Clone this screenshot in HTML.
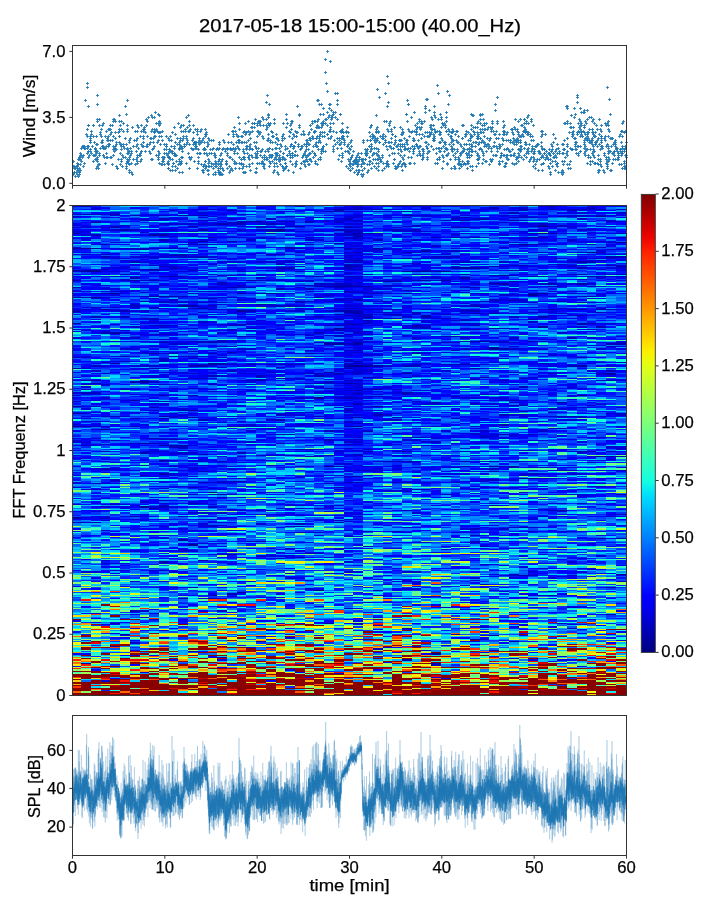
<!DOCTYPE html><html><head><meta charset="utf-8"><style>
html,body{margin:0;padding:0;background:#fff;width:720px;height:900px;overflow:hidden;position:relative}
#spec{position:absolute;left:72px;top:205px;width:555px;height:491px}
#spec i{position:absolute;top:0;height:490px;display:block}
svg{position:absolute;left:0;top:0;will-change:transform}
text{font-family:"Liberation Sans",sans-serif;fill:#000;stroke:#000;stroke-width:0.25px}
</style></head><body>
<div id="spec"><i style="left:0px;width:9px;background:linear-gradient(#00c 0 2px,#04f 0 4px,#03f 0 5px,#0bf 0 6px,#0df 0 7px,#01f 0 9px,#00e 0 10px,#07f 0 11px,#00c 0 12px,#00f 0 13px,#09f 0 15px,#03f 0 17px,#02f 0 18px,#00e 0 21px,#02f 0 22px,#00d 0 23px,#02f 0 24px,#00f 0 26px,#00c 0 27px,#00d 0 28px,#00b 0 29px,#00f 0 31px,#1ee 0 32px,#01f 0 33px,#00f 0 34px,#05f 0 36px,#07f 0 37px,#02f 0 38px,#00f 0 39px,#0cf 0 40px,#07f 0 42px,#00d 0 43px,#00a 0 44px,#00e 0 45px,#01f 0 47px,#00f 0 48px,#0af 0 49px,#00e 0 50px,#07f 0 51px,#0cf 0 53px,#01f 0 54px,#0af 0 55px,#0bf 0 58px,#05f 0 60px,#09f 0 61px,#02f 0 62px,#00f 0 64px,#02f 0 65px,#00b 0 66px,#00c 0 67px,#06f 0 69px,#00f 0 70px,#08f 0 71px,#00e 0 72px,#01f 0 74px,#00f 0 75px,#00b 0 76px,#00f 0 77px,#03f 0 78px,#05f 0 80px,#07f 0 81px,#0cf 0 82px,#00b 0 83px,#04f 0 85px,#00f 0 86px,#00d 0 87px,#07f 0 88px,#00f 0 91px,#03f 0 92px,#00c 0 93px,#0bf 0 94px,#03f 0 96px,#04f 0 98px,#00f 0 100px,#01f 0 102px,#03f 0 103px,#00f 0 104px,#00e 0 105px,#00b 0 107px,#00d 0 108px,#09f 0 109px,#01f 0 110px,#0af 0 111px,#08f 0 113px,#01f 0 115px,#07f 0 116px,#06f 0 118px,#00b 0 119px,#02f 0 120px,#07f 0 121px,#01f 0 123px,#0bf 0 124px,#00d 0 125px,#0bf 0 126px,#00e 0 127px,#2fc 0 129px,#0cf 0 130px,#09f 0 131px,#1ee 0 132px,#00d 0 134px,#0cf 0 135px,#2fc 0 136px,#04f 0 137px,#05f 0 138px,#08f 0 140px,#01f 0 141px,#00f 0 142px,#03f 0 143px,#00f 0 146px,#05f 0 147px,#04f 0 149px,#01f 0 151px,#00f 0 152px,#00c 0 153px,#06f 0 154px,#01f 0 156px,#00f 0 157px,#01f 0 158px,#08f 0 159px,#01f 0 160px,#06f 0 162px,#08f 0 163px,#00a 0 164px,#4fb 0 165px,#07f 0 167px,#00f 0 168px,#06f 0 169px,#05f 0 172px,#00f 0 173px,#1ee 0 174px,#01f 0 175px,#00f 0 176px,#09f 0 178px,#03f 0 179px,#04f 0 180px,#0df 0 181px,#05f 0 183px,#01f 0 184px,#04f 0 185px,#03f 0 186px,#07f 0 187px,#00d 0 189px,#03f 0 190px,#00d 0 191px,#05f 0 192px,#00f 0 194px,#01f 0 195px,#03f 0 196px,#00d 0 197px,#02f 0 198px,#01f 0 200px,#05f 0 201px,#009 0 202px,#03f 0 203px,#0af 0 205px,#1fd 0 206px,#06f 0 207px,#00e 0 208px,#00a 0 209px,#03f 0 211px,#06f 0 212px,#04f 0 213px,#00f 0 214px,#1fd 0 216px,#02f 0 217px,#01f 0 218px,#00f 0 219px,#00d 0 221px,#00a 0 222px,#03f 0 223px,#08f 0 224px,#0af 0 225px,#00f 0 227px,#08f 0 228px,#07f 0 229px,#03f 0 230px,#01f 0 232px,#06f 0 233px,#00e 0 234px,#02f 0 235px,#00d 0 238px,#09f 0 239px,#05f 0 240px,#00f 0 241px,#06f 0 243px,#01f 0 244px,#04f 0 245px,#00f 0 246px,#07f 0 247px,#04f 0 249px,#0af 0 250px,#00e 0 251px,#02f 0 252px,#00f 0 254px,#01f 0 255px,#09f 0 256px,#05f 0 257px,#4fb 0 258px,#0af 0 260px,#04f 0 261px,#00e 0 262px,#06f 0 263px,#07f 0 265px,#02f 0 266px,#08f 0 267px,#01f 0 268px,#02f 0 270px,#00c 0 271px,#0cf 0 272px,#03f 0 273px,#02f 0 274px,#01f 0 276px,#0af 0 277px,#00d 0 279px,#09f 0 281px,#05f 0 282px,#00c 0 283px,#0cf 0 284px,#0bf 0 285px,#8f6 0 287px,#0bf 0 288px,#05f 0 289px,#03f 0 290px,#05f 0 292px,#0cf 0 293px,#00e 0 294px,#0cf 0 295px,#08f 0 296px,#0af 0 298px,#03f 0 299px,#00d 0 300px,#5f9 0 301px,#1fd 0 303px,#07f 0 304px,#0cf 0 305px,#09f 0 306px,#00f 0 307px,#03f 0 310px,#01f 0 311px,#05f 0 312px,#00a 0 314px,#00f 0 315px,#04f 0 316px,#07f 0 317px,#00c 0 318px,#07f 0 320px,#08f 0 321px,#9f5 0 322px,#09f 0 323px,#00f 0 325px,#8f7 0 326px,#00f 0 327px,#1fd 0 328px,#08f 0 330px,#04f 0 331px,#05f 0 332px,#00f 0 333px,#02f 0 334px,#08f 0 336px,#0df 0 337px,#02f 0 338px,#5fa 0 339px,#06f 0 341px,#07f 0 342px,#0cf 0 344px,#0af 0 345px,#0cf 0 347px,#8f6 0 348px,#0cf 0 349px,#04f 0 350px,#06f 0 352px,#8f6 0 353px,#0cf 0 354px,#04f 0 355px,#09f 0 356px,#05f 0 359px,#1fd 0 360px,#06f 0 361px,#0af 0 363px,#06f 0 364px,#09f 0 365px,#00f 0 366px,#04f 0 368px,#0bf 0 369px,#0cf 0 370px,#8f6 0 371px,#5fa 0 372px,#8f6 0 374px,#0df 0 375px,#06f 0 376px,#07f 0 377px,#8f7 0 379px,#06f 0 380px,#07f 0 381px,#00f 0 382px,#4fb 0 383px,#6f8 0 385px,#0cf 0 386px,#fd0 0 387px,#04f 0 388px,#2fc 0 390px,#09f 0 391px,#0cf 0 392px,#04f 0 393px,#06f 0 394px,#04f 0 396px,#0cf 0 397px,#1fd 0 398px,#af5 0 399px,#0cf 0 401px,#4fb 0 402px,#09f 0 403px,#8f6 0 404px,#06f 0 405px,#07f 0 407px,#0bf 0 408px,#1ee 0 409px,#09f 0 410px,#fd0 0 412px,#0cf 0 413px,#0bf 0 414px,#800 0 415px,#00f 0 417px,#bf3 0 418px,#0cf 0 419px,#f70 0 420px,#2fc 0 421px,#0cf 0 423px,#1ee 0 424px,#df1 0 425px,#6f8 0 426px,#01f 0 428px,#09f 0 429px,#0cf 0 430px,#8f7 0 431px,#f60 0 432px,#7f8 0 434px,#0af 0 435px,#8f6 0 436px,#07f 0 437px,#ef1 0 439px,#fe0 0 440px,#1fd 0 441px,#fd0 0 442px,#4fb 0 443px,#0cf 0 445px,#1fd 0 447px,#f90 0 448px,#00f 0 450px,#09f 0 451px,#2fc 0 452px,#f70 0 453px,#bf3 0 454px,#f20 0 456px,#bf3 0 457px,#f60 0 458px,#f70 0 459px,#fe0 0 461px,#01f 0 462px,#bf3 0 463px,#f20 0 464px,#8f7 0 466px,#800 0 467px,#3fb 0 468px,#8f7 0 469px,#800 0 472px,#f30 0 473px,#fe0 0 474px,#800 0 475px,#fc0 0 477px,#800 0 479px,#fa0 0 480px,#800 0 481px,#f30 0 483px,#800 0 486px,#f60 0 488px,#800 0 490px)"></i><i style="left:9px;width:10px;background:linear-gradient(#03f 0 1px,#00b 0 2px,#05f 0 4px,#01f 0 5px,#0cf 0 6px,#0df 0 7px,#04f 0 9px,#00c 0 10px,#0af 0 11px,#00f 0 12px,#01f 0 13px,#0af 0 15px,#00f 0 16px,#03f 0 17px,#00e 0 18px,#01f 0 20px,#00e 0 22px,#00c 0 23px,#05f 0 24px,#00f 0 26px,#00d 0 27px,#00e 0 29px,#00d 0 31px,#0cf 0 32px,#00f 0 33px,#00c 0 34px,#00e 0 36px,#2fc 0 37px,#02f 0 38px,#04f 0 39px,#1ee 0 40px,#06f 0 43px,#009 0 44px,#00e 0 45px,#01f 0 47px,#00e 0 48px,#06f 0 49px,#00b 0 50px,#02f 0 51px,#00f 0 53px,#01f 0 54px,#07f 0 55px,#09f 0 56px,#08f 0 58px,#0cf 0 59px,#03f 0 60px,#06f 0 62px,#03f 0 64px,#00f 0 65px,#00a 0 67px,#03f 0 69px,#01f 0 70px,#1fd 0 71px,#00f 0 74px,#08f 0 75px,#02f 0 76px,#04f 0 77px,#0bf 0 78px,#00e 0 80px,#03f 0 81px,#01f 0 82px,#00f 0 85px,#07f 0 86px,#00d 0 87px,#04f 0 88px,#00f 0 91px,#07f 0 92px,#00b 0 93px,#09f 0 94px,#08f 0 96px,#02f 0 97px,#0af 0 98px,#02f 0 99px,#04f 0 100px,#03f 0 102px,#00e 0 103px,#04f 0 104px,#00b 0 105px,#00f 0 107px,#01f 0 108px,#00f 0 109px,#0cf 0 110px,#07f 0 111px,#01f 0 113px,#03f 0 114px,#04f 0 115px,#0af 0 116px,#01f 0 118px,#07f 0 119px,#06f 0 120px,#0af 0 121px,#01f 0 123px,#08f 0 124px,#00e 0 126px,#05f 0 127px,#03f 0 129px,#0bf 0 130px,#0df 0 131px,#05f 0 132px,#01f 0 134px,#05f 0 135px,#4fb 0 136px,#00f 0 137px,#01f 0 138px,#07f 0 140px,#05f 0 141px,#07f 0 142px,#1fd 0 143px,#02f 0 146px,#0cf 0 147px,#0bf 0 148px,#09f 0 149px,#01f 0 151px,#00d 0 153px,#03f 0 154px,#05f 0 156px,#00f 0 157px,#02f 0 158px,#03f 0 159px,#00f 0 162px,#00e 0 163px,#00c 0 164px,#0df 0 165px,#01f 0 167px,#02f 0 168px,#0af 0 169px,#02f 0 170px,#00e 0 172px,#07f 0 173px,#06f 0 174px,#02f 0 175px,#009 0 176px,#0df 0 178px,#00e 0 179px,#00c 0 180px,#5f9 0 181px,#00d 0 183px,#05f 0 184px,#00c 0 185px,#1fd 0 186px,#0bf 0 187px,#00b 0 189px,#00f 0 190px,#04f 0 191px,#08f 0 192px,#01f 0 194px,#02f 0 195px,#00f 0 196px,#08f 0 197px,#05f 0 198px,#06f 0 200px,#02f 0 201px,#00d 0 202px,#02f 0 203px,#00d 0 205px,#3fb 0 206px,#07f 0 207px,#00f 0 208px,#00c 0 209px,#03f 0 211px,#00e 0 212px,#03f 0 213px,#00d 0 214px,#07f 0 216px,#00d 0 217px,#02f 0 218px,#08f 0 219px,#00f 0 221px,#00b 0 222px,#02f 0 223px,#0af 0 224px,#03f 0 225px,#04f 0 227px,#08f 0 228px,#05f 0 229px,#07f 0 230px,#05f 0 232px,#07f 0 233px,#00e 0 235px,#00f 0 236px,#00d 0 238px,#00e 0 240px,#00c 0 241px,#02f 0 243px,#07f 0 244px,#06f 0 245px,#01f 0 246px,#08f 0 247px,#00f 0 249px,#08f 0 250px,#02f 0 251px,#00f 0 252px,#00e 0 254px,#09f 0 255px,#00f 0 256px,#07f 0 257px,#05f 0 258px,#03f 0 260px,#0cf 0 261px,#1ee 0 262px,#07f 0 263px,#00f 0 265px,#02f 0 266px,#03f 0 267px,#06f 0 268px,#4fb 0 270px,#06f 0 271px,#5f9 0 272px,#5fa 0 273px,#0cf 0 274px,#07f 0 276px,#03f 0 277px,#02f 0 278px,#00f 0 279px,#08f 0 281px,#04f 0 282px,#01f 0 283px,#08f 0 284px,#00d 0 285px,#5f9 0 287px,#0df 0 288px,#0af 0 289px,#07f 0 290px,#06f 0 292px,#0af 0 293px,#08f 0 294px,#03f 0 295px,#3fb 0 296px,#03f 0 298px,#08f 0 299px,#00f 0 300px,#0cf 0 301px,#04f 0 303px,#06f 0 304px,#0df 0 305px,#00e 0 306px,#01f 0 309px,#04f 0 310px,#08f 0 311px,#03f 0 312px,#00e 0 314px,#00f 0 315px,#08f 0 316px,#06f 0 317px,#00c 0 318px,#0af 0 320px,#09f 0 321px,#0cf 0 322px,#0bf 0 323px,#5fa 0 325px,#8f7 0 326px,#0af 0 327px,#05f 0 328px,#04f 0 330px,#00f 0 332px,#07f 0 333px,#0cf 0 334px,#02f 0 336px,#0cf 0 337px,#03f 0 338px,#09f 0 339px,#1ee 0 341px,#3fb 0 342px,#05f 0 343px,#0bf 0 344px,#8f7 0 345px,#05f 0 347px,#5f9 0 348px,#09f 0 350px,#1fd 0 352px,#1ee 0 353px,#6f8 0 354px,#00e 0 355px,#07f 0 356px,#0bf 0 358px,#02f 0 359px,#07f 0 360px,#09f 0 361px,#0af 0 363px,#03f 0 364px,#7f8 0 365px,#0cf 0 366px,#00c 0 368px,#9f5 0 369px,#07f 0 370px,#9f5 0 371px,#04f 0 372px,#0cf 0 374px,#09f 0 375px,#02f 0 376px,#6f8 0 377px,#1fd 0 379px,#5f9 0 380px,#ef1 0 381px,#0af 0 382px,#bf3 0 383px,#02f 0 385px,#9f5 0 386px,#bf3 0 387px,#03f 0 388px,#0cf 0 391px,#1ee 0 393px,#5fa 0 394px,#f10 0 396px,#0bf 0 397px,#04f 0 398px,#9f5 0 399px,#0cf 0 401px,#00e 0 402px,#01f 0 403px,#0cf 0 404px,#0bf 0 405px,#08f 0 407px,#0df 0 408px,#00f 0 409px,#4fb 0 410px,#fc0 0 412px,#0bf 0 413px,#5f9 0 414px,#bf4 0 415px,#1fd 0 417px,#03f 0 418px,#f80 0 419px,#fa0 0 420px,#3fb 0 421px,#ef1 0 423px,#0bf 0 424px,#8f6 0 425px,#08f 0 426px,#0af 0 428px,#af5 0 429px,#01f 0 430px,#900 0 431px,#800 0 432px,#09f 0 434px,#9f5 0 435px,#03f 0 436px,#0cf 0 437px,#800 0 439px,#af5 0 440px,#0cf 0 441px,#fd0 0 442px,#800 0 445px,#5f9 0 446px,#05f 0 447px,#0df 0 448px,#00e 0 450px,#800 0 451px,#07f 0 452px,#2fc 0 453px,#800 0 454px,#fb0 0 456px,#f70 0 457px,#0cf 0 458px,#009 0 459px,#f10 0 461px,#8f7 0 462px,#f20 0 463px,#4fb 0 464px,#bf4 0 466px,#800 0 467px,#9f5 0 469px,#800 0 474px,#0cf 0 475px,#06f 0 477px,#800 0 486px,#8f6 0 488px,#800 0 490px)"></i><i style="left:19px;width:10px;background:linear-gradient(#00f 0 1px,#01f 0 2px,#00d 0 5px,#0af 0 6px,#0df 0 7px,#00f 0 9px,#00b 0 10px,#0af 0 11px,#03f 0 12px,#06f 0 13px,#0df 0 15px,#02f 0 16px,#00d 0 17px,#00a 0 18px,#09f 0 20px,#06f 0 21px,#00e 0 22px,#01f 0 23px,#06f 0 24px,#00f 0 26px,#04f 0 27px,#1fd 0 28px,#05f 0 29px,#00b 0 31px,#00f 0 33px,#00e 0 34px,#08f 0 36px,#0bf 0 37px,#00e 0 38px,#01f 0 39px,#00e 0 40px,#0af 0 42px,#0cf 0 43px,#00a 0 44px,#0bf 0 45px,#09f 0 47px,#02f 0 48px,#08f 0 49px,#00e 0 50px,#01f 0 51px,#00f 0 53px,#02f 0 54px,#08f 0 55px,#09f 0 56px,#06f 0 58px,#0af 0 59px,#00f 0 60px,#0bf 0 61px,#07f 0 62px,#0af 0 64px,#00f 0 65px,#00a 0 66px,#008 0 67px,#00f 0 69px,#02f 0 70px,#0cf 0 71px,#00e 0 72px,#07f 0 74px,#05f 0 75px,#00f 0 76px,#05f 0 77px,#0cf 0 78px,#00f 0 80px,#00d 0 81px,#01f 0 82px,#00f 0 85px,#0cf 0 86px,#01f 0 87px,#0bf 0 88px,#00b 0 89px,#00f 0 91px,#02f 0 92px,#009 0 93px,#00d 0 94px,#07f 0 96px,#05f 0 97px,#02f 0 98px,#0df 0 99px,#07f 0 100px,#05f 0 102px,#00b 0 103px,#00e 0 105px,#00f 0 107px,#06f 0 108px,#04f 0 109px,#09f 0 110px,#07f 0 111px,#00b 0 113px,#07f 0 114px,#00f 0 115px,#1fd 0 116px,#00e 0 118px,#07f 0 119px,#0af 0 120px,#02f 0 121px,#00f 0 123px,#3fb 0 124px,#07f 0 125px,#00e 0 126px,#00f 0 127px,#00e 0 129px,#0cf 0 130px,#02f 0 131px,#04f 0 132px,#02f 0 134px,#07f 0 135px,#1ee 0 136px,#03f 0 137px,#06f 0 138px,#07f 0 140px,#03f 0 141px,#08f 0 142px,#0cf 0 143px,#08f 0 145px,#1ee 0 146px,#01f 0 147px,#02f 0 148px,#0cf 0 149px,#03f 0 151px,#02f 0 152px,#00f 0 154px,#2fc 0 156px,#02f 0 158px,#00e 0 159px,#05f 0 160px,#00c 0 162px,#02f 0 163px,#01f 0 164px,#06f 0 165px,#00c 0 167px,#08f 0 168px,#00f 0 169px,#03f 0 170px,#00f 0 172px,#1fd 0 173px,#1ee 0 174px,#00f 0 175px,#00a 0 176px,#03f 0 178px,#00b 0 179px,#00f 0 180px,#5f9 0 181px,#1ee 0 183px,#05f 0 185px,#07f 0 186px,#01f 0 187px,#00c 0 189px,#00e 0 190px,#06f 0 191px,#05f 0 192px,#00f 0 195px,#00d 0 196px,#3fb 0 197px,#0df 0 198px,#00e 0 200px,#03f 0 201px,#00c 0 202px,#0df 0 203px,#09f 0 205px,#0af 0 206px,#02f 0 207px,#00d 0 208px,#08f 0 209px,#01f 0 211px,#00f 0 212px,#09f 0 213px,#03f 0 214px,#06f 0 216px,#00c 0 217px,#05f 0 218px,#00f 0 219px,#00e 0 221px,#00b 0 222px,#07f 0 223px,#04f 0 224px,#00c 0 225px,#02f 0 227px,#05f 0 228px,#07f 0 229px,#03f 0 230px,#04f 0 232px,#02f 0 233px,#00d 0 234px,#02f 0 235px,#00d 0 236px,#05f 0 238px,#03f 0 239px,#00d 0 240px,#00e 0 241px,#1ee 0 243px,#08f 0 245px,#04f 0 246px,#00f 0 247px,#07f 0 250px,#1fd 0 251px,#01f 0 252px,#02f 0 254px,#04f 0 255px,#02f 0 256px,#00f 0 257px,#08f 0 258px,#0df 0 260px,#1ee 0 261px,#05f 0 262px,#3fb 0 263px,#00d 0 265px,#00f 0 266px,#00e 0 267px,#04f 0 268px,#1ee 0 270px,#0af 0 271px,#6f8 0 272px,#00f 0 273px,#07f 0 274px,#0af 0 276px,#06f 0 277px,#09f 0 278px,#00b 0 279px,#08f 0 281px,#07f 0 282px,#0cf 0 283px,#00f 0 284px,#00c 0 285px,#07f 0 287px,#01f 0 288px,#00e 0 289px,#09f 0 290px,#01f 0 292px,#04f 0 293px,#02f 0 294px,#00f 0 295px,#0df 0 296px,#00f 0 298px,#00e 0 299px,#03f 0 300px,#0df 0 301px,#00f 0 303px,#02f 0 304px,#4fb 0 305px,#00e 0 306px,#00d 0 307px,#03f 0 310px,#08f 0 311px,#00e 0 315px,#01f 0 316px,#0cf 0 317px,#00b 0 318px,#0af 0 320px,#04f 0 321px,#07f 0 322px,#2fc 0 323px,#4fb 0 325px,#0bf 0 326px,#09f 0 327px,#0cf 0 328px,#09f 0 330px,#00f 0 331px,#02f 0 332px,#0af 0 333px,#0df 0 334px,#08f 0 336px,#0af 0 337px,#01f 0 338px,#0af 0 339px,#07f 0 341px,#4fb 0 342px,#00f 0 343px,#05f 0 344px,#5fa 0 345px,#04f 0 347px,#fe0 0 348px,#9f5 0 349px,#0bf 0 350px,#bf3 0 352px,#bf4 0 353px,#3fb 0 354px,#06f 0 356px,#5fa 0 358px,#07f 0 359px,#03f 0 360px,#0df 0 361px,#09f 0 364px,#08f 0 366px,#00d 0 368px,#7f8 0 369px,#0df 0 370px,#2fc 0 371px,#07f 0 372px,#00e 0 374px,#06f 0 375px,#03f 0 376px,#00f 0 377px,#9f5 0 379px,#0cf 0 380px,#0bf 0 381px,#6f8 0 382px,#04f 0 383px,#00f 0 385px,#bf4 0 386px,#f80 0 387px,#02f 0 388px,#0af 0 390px,#fe0 0 391px,#bf4 0 392px,#0bf 0 393px,#02f 0 394px,#fe0 0 396px,#0af 0 397px,#0cf 0 398px,#6f8 0 399px,#1fd 0 401px,#0bf 0 402px,#04f 0 403px,#7f8 0 404px,#05f 0 405px,#5fa 0 408px,#00d 0 409px,#f40 0 410px,#0cf 0 412px,#06f 0 413px,#00f 0 414px,#3fb 0 415px,#8f7 0 417px,#00f 0 418px,#0bf 0 419px,#900 0 420px,#02f 0 421px,#cf2 0 423px,#bf3 0 424px,#f20 0 425px,#1ee 0 426px,#ef1 0 428px,#1ee 0 429px,#5f9 0 430px,#ef1 0 431px,#df1 0 432px,#08f 0 434px,#5f9 0 435px,#7f8 0 436px,#800 0 437px,#e00 0 439px,#0bf 0 440px,#03f 0 441px,#0df 0 442px,#c00 0 443px,#0cf 0 445px,#8f6 0 446px,#ef1 0 447px,#1ee 0 448px,#2fc 0 450px,#3fb 0 451px,#02f 0 452px,#ef1 0 453px,#3fb 0 454px,#bf4 0 456px,#800 0 458px,#bf3 0 459px,#2fc 0 461px,#f70 0 462px,#800 0 463px,#05f 0 464px,#00f 0 466px,#800 0 468px,#8f7 0 469px,#2fc 0 470px,#800 0 473px,#fc0 0 474px,#09f 0 475px,#800 0 479px,#0cf 0 480px,#d00 0 481px,#0df 0 483px,#800 0 484px,#f70 0 485px,#8f6 0 486px,#800 0 490px)"></i><i style="left:29px;width:9px;background:linear-gradient(#00e 0 1px,#07f 0 2px,#00f 0 4px,#03f 0 5px,#05f 0 6px,#0cf 0 7px,#00f 0 9px,#00d 0 10px,#04f 0 12px,#00f 0 13px,#06f 0 15px,#04f 0 16px,#00d 0 17px,#00f 0 18px,#0cf 0 20px,#00f 0 22px,#00d 0 23px,#00f 0 24px,#00e 0 26px,#05f 0 27px,#04f 0 28px,#0af 0 29px,#02f 0 31px,#06f 0 32px,#0cf 0 33px,#05f 0 34px,#04f 0 36px,#02f 0 37px,#06f 0 38px,#04f 0 39px,#00c 0 40px,#03f 0 43px,#00f 0 44px,#04f 0 45px,#09f 0 47px,#00f 0 48px,#01f 0 49px,#00b 0 50px,#05f 0 51px,#00b 0 53px,#00e 0 54px,#06f 0 55px,#08f 0 56px,#03f 0 58px,#07f 0 59px,#01f 0 60px,#06f 0 61px,#08f 0 62px,#00e 0 64px,#00a 0 65px,#00f 0 66px,#00d 0 67px,#01f 0 69px,#00f 0 70px,#4fb 0 71px,#00f 0 72px,#04f 0 74px,#00f 0 77px,#0df 0 78px,#0bf 0 80px,#00e 0 81px,#04f 0 82px,#00e 0 83px,#00d 0 85px,#0af 0 86px,#00d 0 87px,#05f 0 88px,#00b 0 89px,#00f 0 91px,#03f 0 92px,#00c 0 93px,#00e 0 94px,#01f 0 96px,#07f 0 97px,#01f 0 98px,#03f 0 99px,#0bf 0 100px,#04f 0 102px,#00f 0 103px,#06f 0 104px,#009 0 105px,#00f 0 107px,#0af 0 108px,#03f 0 109px,#00f 0 110px,#09f 0 111px,#00f 0 113px,#07f 0 114px,#0af 0 115px,#0cf 0 116px,#0af 0 118px,#0df 0 119px,#08f 0 120px,#00f 0 121px,#00e 0 123px,#04f 0 124px,#08f 0 125px,#00f 0 126px,#00d 0 127px,#00b 0 129px,#0bf 0 130px,#1ee 0 131px,#06f 0 134px,#0cf 0 135px,#0af 0 136px,#01f 0 137px,#09f 0 138px,#1fd 0 140px,#0af 0 141px,#03f 0 142px,#08f 0 143px,#06f 0 145px,#08f 0 146px,#01f 0 147px,#00f 0 148px,#09f 0 149px,#04f 0 151px,#02f 0 152px,#04f 0 153px,#00f 0 154px,#0cf 0 156px,#00f 0 157px,#00c 0 158px,#02f 0 159px,#0bf 0 160px,#00d 0 162px,#01f 0 163px,#03f 0 164px,#04f 0 165px,#06f 0 168px,#00c 0 169px,#08f 0 172px,#6f8 0 173px,#1fd 0 174px,#09f 0 175px,#00e 0 176px,#01f 0 179px,#00c 0 180px,#00e 0 181px,#07f 0 183px,#08f 0 184px,#0df 0 185px,#09f 0 186px,#00e 0 187px,#03f 0 189px,#00e 0 190px,#0bf 0 191px,#03f 0 192px,#00c 0 194px,#00e 0 195px,#05f 0 197px,#00f 0 200px,#04f 0 201px,#05f 0 202px,#00f 0 203px,#05f 0 205px,#3fb 0 206px,#2fc 0 207px,#00f 0 211px,#00c 0 212px,#06f 0 213px,#08f 0 214px,#06f 0 216px,#00e 0 217px,#0cf 0 218px,#0bf 0 219px,#05f 0 221px,#00c 0 222px,#00e 0 223px,#03f 0 224px,#009 0 225px,#04f 0 227px,#06f 0 228px,#0cf 0 229px,#04f 0 230px,#0cf 0 232px,#05f 0 233px,#0bf 0 234px,#08f 0 235px,#00d 0 236px,#02f 0 238px,#07f 0 239px,#00c 0 240px,#03f 0 241px,#04f 0 243px,#0df 0 244px,#03f 0 245px,#08f 0 246px,#00b 0 247px,#09f 0 249px,#03f 0 250px,#5f9 0 251px,#06f 0 252px,#00f 0 255px,#06f 0 256px,#00d 0 257px,#06f 0 258px,#2fc 0 260px,#02f 0 261px,#04f 0 262px,#0bf 0 263px,#00b 0 265px,#00e 0 266px,#02f 0 267px,#00e 0 268px,#8f6 0 270px,#0cf 0 272px,#00f 0 273px,#0bf 0 274px,#02f 0 277px,#00f 0 278px,#00c 0 279px,#0bf 0 281px,#06f 0 282px,#00f 0 283px,#07f 0 284px,#00f 0 285px,#07f 0 287px,#1ee 0 288px,#02f 0 289px,#07f 0 290px,#03f 0 292px,#01f 0 293px,#00e 0 294px,#0bf 0 295px,#2fc 0 296px,#1ee 0 298px,#03f 0 299px,#00d 0 300px,#09f 0 301px,#00c 0 303px,#05f 0 304px,#9f5 0 305px,#00e 0 306px,#01f 0 307px,#06f 0 309px,#05f 0 310px,#08f 0 311px,#00e 0 312px,#00c 0 314px,#01f 0 315px,#00d 0 316px,#0af 0 317px,#07f 0 318px,#0af 0 320px,#0cf 0 321px,#0bf 0 322px,#09f 0 325px,#00c 0 326px,#05f 0 327px,#01f 0 328px,#00f 0 330px,#06f 0 331px,#0cf 0 332px,#08f 0 333px,#2fc 0 334px,#01f 0 336px,#07f 0 337px,#05f 0 338px,#08f 0 339px,#4fb 0 341px,#0bf 0 342px,#03f 0 343px,#2fc 0 344px,#07f 0 345px,#0cf 0 347px,#1ee 0 348px,#6f8 0 349px,#03f 0 350px,#0df 0 352px,#bf3 0 353px,#06f 0 354px,#3fb 0 355px,#00d 0 356px,#01f 0 358px,#00c 0 359px,#00f 0 360px,#04f 0 361px,#00f 0 363px,#07f 0 364px,#08f 0 365px,#01f 0 366px,#00f 0 368px,#1ee 0 369px,#af5 0 370px,#05f 0 371px,#cf2 0 372px,#1ee 0 374px,#06f 0 376px,#5f9 0 377px,#02f 0 379px,#07f 0 380px,#5f9 0 381px,#6f8 0 382px,#0cf 0 383px,#09f 0 385px,#1ee 0 386px,#4fb 0 387px,#0df 0 388px,#07f 0 390px,#3fb 0 391px,#07f 0 392px,#9f5 0 393px,#08f 0 394px,#09f 0 396px,#0cf 0 397px,#8f6 0 398px,#0cf 0 399px,#800 0 401px,#1fd 0 402px,#2fc 0 403px,#8f6 0 404px,#1fd 0 405px,#04f 0 407px,#ef1 0 408px,#05f 0 409px,#0cf 0 410px,#5fa 0 412px,#1ee 0 413px,#06f 0 414px,#0af 0 415px,#1fd 0 417px,#07f 0 418px,#09f 0 419px,#00e 0 420px,#02f 0 421px,#e00 0 423px,#ef1 0 424px,#f60 0 425px,#8f6 0 426px,#f90 0 428px,#02f 0 429px,#4fb 0 430px,#7f8 0 431px,#0af 0 432px,#06f 0 434px,#8f6 0 435px,#08f 0 436px,#f60 0 437px,#0df 0 439px,#8f7 0 440px,#0df 0 441px,#8f6 0 442px,#800 0 443px,#07f 0 445px,#4fb 0 446px,#0df 0 447px,#05f 0 448px,#800 0 450px,#0cf 0 451px,#8f7 0 452px,#06f 0 453px,#1ee 0 454px,#e00 0 456px,#4fb 0 457px,#f90 0 458px,#07f 0 459px,#0df 0 461px,#b00 0 462px,#fc0 0 463px,#800 0 464px,#0af 0 466px,#df1 0 467px,#800 0 468px,#0cf 0 469px,#800 0 472px,#b00 0 473px,#d00 0 474px,#f30 0 475px,#00c 0 477px,#800 0 479px,#fe0 0 480px,#900 0 481px,#5fa 0 483px,#800 0 485px,#02f 0 486px,#800 0 490px)"></i><i style="left:38px;width:10px;background:linear-gradient(#01f 0 1px,#07f 0 2px,#06f 0 4px,#05f 0 5px,#1ee 0 6px,#06f 0 7px,#00d 0 9px,#00b 0 10px,#00d 0 11px,#08f 0 12px,#00f 0 13px,#07f 0 15px,#05f 0 16px,#01f 0 18px,#04f 0 20px,#01f 0 21px,#00b 0 23px,#05f 0 24px,#00c 0 26px,#01f 0 27px,#02f 0 28px,#0af 0 29px,#02f 0 31px,#04f 0 32px,#09f 0 34px,#02f 0 36px,#05f 0 37px,#00c 0 38px,#07f 0 39px,#00f 0 40px,#09f 0 43px,#00d 0 44px,#00f 0 45px,#0cf 0 47px,#05f 0 48px,#00f 0 50px,#04f 0 51px,#00e 0 53px,#00c 0 54px,#04f 0 59px,#02f 0 60px,#00f 0 61px,#02f 0 62px,#00d 0 64px,#00f 0 66px,#00d 0 67px,#01f 0 69px,#03f 0 70px,#4fb 0 71px,#00d 0 72px,#09f 0 74px,#02f 0 75px,#00f 0 76px,#01f 0 77px,#05f 0 78px,#0af 0 80px,#01f 0 81px,#03f 0 82px,#07f 0 83px,#00d 0 85px,#02f 0 86px,#00c 0 87px,#03f 0 88px,#009 0 89px,#00d 0 91px,#04f 0 92px,#01f 0 93px,#06f 0 94px,#00f 0 96px,#09f 0 97px,#03f 0 98px,#09f 0 99px,#02f 0 100px,#01f 0 102px,#00c 0 103px,#04f 0 104px,#00d 0 107px,#0bf 0 108px,#03f 0 109px,#0df 0 110px,#0cf 0 111px,#00e 0 113px,#07f 0 114px,#06f 0 115px,#4fb 0 116px,#0cf 0 118px,#04f 0 119px,#00d 0 120px,#03f 0 121px,#06f 0 123px,#5fa 0 124px,#02f 0 126px,#03f 0 127px,#00a 0 129px,#00f 0 130px,#06f 0 131px,#03f 0 132px,#02f 0 134px,#0df 0 135px,#4fb 0 136px,#00c 0 137px,#0cf 0 138px,#3fb 0 140px,#01f 0 142px,#06f 0 143px,#05f 0 145px,#1fd 0 146px,#00f 0 148px,#08f 0 149px,#09f 0 151px,#00e 0 152px,#06f 0 153px,#00e 0 154px,#03f 0 156px,#00d 0 157px,#02f 0 158px,#00a 0 159px,#04f 0 160px,#00f 0 162px,#02f 0 163px,#07f 0 164px,#01f 0 165px,#02f 0 167px,#00e 0 168px,#02f 0 169px,#07f 0 170px,#0df 0 173px,#09f 0 174px,#0bf 0 175px,#0af 0 176px,#06f 0 178px,#01f 0 179px,#02f 0 180px,#09f 0 183px,#01f 0 185px,#0bf 0 186px,#06f 0 187px,#01f 0 189px,#02f 0 190px,#0df 0 191px,#0cf 0 192px,#05f 0 194px,#00f 0 195px,#04f 0 196px,#05f 0 198px,#03f 0 200px,#07f 0 201px,#04f 0 202px,#02f 0 203px,#01f 0 205px,#3fb 0 206px,#02f 0 207px,#0af 0 208px,#07f 0 209px,#05f 0 211px,#00b 0 212px,#02f 0 213px,#01f 0 214px,#0af 0 216px,#05f 0 217px,#04f 0 218px,#4fb 0 219px,#00e 0 221px,#00f 0 222px,#0cf 0 223px,#04f 0 224px,#00f 0 225px,#04f 0 227px,#00f 0 228px,#06f 0 229px,#0df 0 230px,#06f 0 232px,#04f 0 233px,#0cf 0 234px,#0bf 0 235px,#00b 0 236px,#06f 0 238px,#01f 0 239px,#00e 0 240px,#01f 0 241px,#0cf 0 243px,#0bf 0 244px,#00f 0 245px,#0df 0 246px,#01f 0 247px,#08f 0 249px,#01f 0 250px,#2fc 0 251px,#09f 0 252px,#03f 0 254px,#01f 0 255px,#04f 0 256px,#03f 0 257px,#00d 0 258px,#4fb 0 260px,#02f 0 261px,#07f 0 262px,#00f 0 263px,#00d 0 265px,#00e 0 266px,#06f 0 267px,#02f 0 268px,#0bf 0 270px,#06f 0 271px,#0bf 0 272px,#08f 0 273px,#2fc 0 274px,#00c 0 276px,#00d 0 277px,#02f 0 278px,#00e 0 279px,#0bf 0 281px,#02f 0 282px,#00f 0 283px,#1fd 0 284px,#0cf 0 285px,#00f 0 287px,#4fb 0 288px,#08f 0 289px,#01f 0 292px,#03f 0 293px,#02f 0 294px,#09f 0 295px,#6f8 0 298px,#00f 0 299px,#00c 0 300px,#08f 0 301px,#00f 0 303px,#07f 0 304px,#0cf 0 305px,#02f 0 306px,#0cf 0 307px,#3fb 0 309px,#02f 0 311px,#05f 0 312px,#01f 0 314px,#00f 0 315px,#4fb 0 316px,#1fd 0 317px,#09f 0 318px,#0cf 0 320px,#00e 0 321px,#5fa 0 322px,#08f 0 323px,#0cf 0 325px,#04f 0 326px,#00f 0 327px,#0af 0 328px,#00e 0 330px,#00f 0 331px,#cf2 0 332px,#00f 0 333px,#06f 0 334px,#0cf 0 336px,#07f 0 337px,#08f 0 338px,#09f 0 341px,#02f 0 342px,#08f 0 343px,#2fc 0 344px,#00e 0 345px,#0cf 0 347px,#3fb 0 348px,#df1 0 349px,#2fc 0 350px,#09f 0 352px,#ef1 0 353px,#09f 0 354px,#3fb 0 355px,#02f 0 356px,#03f 0 358px,#00e 0 359px,#07f 0 360px,#0af 0 361px,#00f 0 363px,#1fd 0 364px,#0af 0 365px,#00c 0 366px,#0af 0 368px,#00d 0 369px,#3fb 0 370px,#02f 0 371px,#6f8 0 372px,#0bf 0 374px,#06f 0 375px,#00f 0 376px,#0df 0 377px,#5f9 0 379px,#2fc 0 380px,#af5 0 381px,#1ee 0 382px,#4fb 0 383px,#2fc 0 385px,#0bf 0 386px,#f40 0 387px,#03f 0 388px,#1fd 0 390px,#ef1 0 391px,#0df 0 392px,#06f 0 393px,#00f 0 394px,#3fb 0 396px,#09f 0 398px,#8f6 0 399px,#fd0 0 401px,#b00 0 402px,#5f9 0 403px,#bf3 0 404px,#f60 0 405px,#0df 0 407px,#1fd 0 408px,#4fb 0 409px,#04f 0 410px,#800 0 412px,#08f 0 413px,#1ee 0 414px,#07f 0 415px,#2fc 0 417px,#01f 0 418px,#00b 0 419px,#00e 0 420px,#1fd 0 421px,#0cf 0 423px,#f70 0 424px,#bf4 0 425px,#08f 0 426px,#2fc 0 428px,#00d 0 429px,#0af 0 430px,#0df 0 431px,#af5 0 432px,#01f 0 434px,#04f 0 435px,#f60 0 436px,#03f 0 437px,#0cf 0 439px,#b00 0 440px,#800 0 441px,#00a 0 442px,#f40 0 443px,#05f 0 445px,#df1 0 446px,#0df 0 447px,#04f 0 448px,#cf2 0 450px,#0af 0 451px,#8f6 0 452px,#fd0 0 453px,#5f9 0 454px,#af5 0 456px,#a00 0 457px,#8f6 0 458px,#7f8 0 459px,#04f 0 461px,#800 0 462px,#06f 0 463px,#ef1 0 464px,#bf3 0 467px,#e00 0 468px,#800 0 469px,#d00 0 470px,#800 0 472px,#0af 0 473px,#00f 0 474px,#800 0 479px,#bf3 0 480px,#c00 0 481px,#800 0 485px,#1fd 0 486px,#800 0 488px,#f10 0 489px,#800 0 490px)"></i><i style="left:48px;width:10px;background:linear-gradient(#0bf 0 1px,#0cf 0 2px,#06f 0 5px,#0cf 0 6px,#05f 0 7px,#03f 0 9px,#0af 0 10px,#00e 0 11px,#01f 0 12px,#06f 0 13px,#01f 0 15px,#06f 0 16px,#00f 0 17px,#07f 0 18px,#0bf 0 20px,#00b 0 21px,#00e 0 22px,#00f 0 23px,#02f 0 24px,#00a 0 26px,#02f 0 27px,#09f 0 28px,#0af 0 29px,#00f 0 32px,#0bf 0 33px,#1ee 0 34px,#08f 0 36px,#06f 0 37px,#00f 0 38px,#09f 0 39px,#00f 0 40px,#08f 0 42px,#0df 0 43px,#00b 0 44px,#00f 0 45px,#09f 0 47px,#05f 0 48px,#07f 0 49px,#06f 0 50px,#09f 0 51px,#03f 0 53px,#00d 0 54px,#07f 0 55px,#00d 0 56px,#00e 0 58px,#06f 0 59px,#02f 0 60px,#01f 0 61px,#00e 0 62px,#00d 0 64px,#00f 0 65px,#02f 0 66px,#00e 0 67px,#05f 0 69px,#00b 0 70px,#09f 0 71px,#00f 0 72px,#08f 0 74px,#00d 0 75px,#00c 0 76px,#01f 0 77px,#09f 0 78px,#0bf 0 80px,#02f 0 81px,#08f 0 82px,#0cf 0 83px,#05f 0 85px,#00f 0 86px,#00c 0 87px,#00f 0 88px,#00e 0 89px,#03f 0 91px,#00f 0 92px,#04f 0 93px,#05f 0 94px,#07f 0 96px,#00f 0 97px,#03f 0 98px,#04f 0 99px,#0df 0 100px,#00f 0 103px,#06f 0 104px,#01f 0 105px,#00b 0 107px,#01f 0 108px,#00e 0 109px,#02f 0 110px,#04f 0 111px,#00c 0 113px,#02f 0 114px,#03f 0 115px,#07f 0 118px,#04f 0 119px,#07f 0 120px,#0af 0 121px,#00f 0 123px,#09f 0 124px,#0df 0 125px,#00d 0 126px,#02f 0 127px,#00d 0 129px,#09f 0 130px,#05f 0 131px,#0af 0 132px,#00d 0 134px,#02f 0 135px,#0af 0 136px,#00e 0 137px,#08f 0 140px,#06f 0 141px,#03f 0 142px,#01f 0 143px,#00c 0 145px,#08f 0 146px,#04f 0 147px,#01f 0 148px,#0cf 0 149px,#04f 0 151px,#00a 0 152px,#06f 0 153px,#02f 0 156px,#00c 0 157px,#05f 0 158px,#06f 0 159px,#0cf 0 160px,#00f 0 162px,#03f 0 163px,#04f 0 164px,#00f 0 165px,#04f 0 167px,#08f 0 168px,#0bf 0 169px,#00f 0 170px,#07f 0 172px,#08f 0 173px,#07f 0 174px,#0bf 0 175px,#09f 0 176px,#03f 0 178px,#04f 0 179px,#00f 0 180px,#09f 0 181px,#08f 0 183px,#00d 0 185px,#3fb 0 187px,#01f 0 189px,#02f 0 190px,#06f 0 191px,#05f 0 192px,#02f 0 194px,#01f 0 195px,#00d 0 196px,#00f 0 198px,#04f 0 200px,#06f 0 201px,#09f 0 202px,#04f 0 203px,#05f 0 205px,#0bf 0 206px,#05f 0 207px,#00f 0 209px,#01f 0 211px,#00d 0 212px,#09f 0 213px,#02f 0 214px,#01f 0 216px,#03f 0 217px,#06f 0 218px,#09f 0 219px,#04f 0 221px,#00f 0 222px,#07f 0 223px,#02f 0 224px,#0df 0 225px,#04f 0 227px,#00f 0 228px,#08f 0 229px,#0cf 0 230px,#07f 0 232px,#00f 0 233px,#05f 0 234px,#0af 0 235px,#01f 0 236px,#05f 0 238px,#00e 0 239px,#00f 0 240px,#00e 0 241px,#0af 0 243px,#07f 0 244px,#02f 0 245px,#04f 0 247px,#02f 0 249px,#08f 0 250px,#09f 0 251px,#0cf 0 252px,#00f 0 254px,#0af 0 255px,#3fb 0 256px,#07f 0 257px,#01f 0 258px,#0cf 0 260px,#00f 0 261px,#03f 0 262px,#0cf 0 263px,#00f 0 265px,#00e 0 266px,#05f 0 267px,#04f 0 268px,#00f 0 270px,#00d 0 271px,#08f 0 272px,#0af 0 273px,#06f 0 274px,#08f 0 276px,#03f 0 277px,#1ee 0 278px,#01f 0 279px,#8f7 0 281px,#08f 0 282px,#6f8 0 283px,#09f 0 284px,#0af 0 285px,#0cf 0 288px,#5fa 0 289px,#02f 0 292px,#3fb 0 293px,#03f 0 294px,#0cf 0 296px,#08f 0 298px,#03f 0 299px,#00d 0 300px,#0df 0 301px,#00d 0 304px,#0cf 0 305px,#01f 0 306px,#0cf 0 307px,#02f 0 309px,#06f 0 311px,#00e 0 312px,#03f 0 314px,#00f 0 315px,#02f 0 316px,#00f 0 317px,#1fd 0 318px,#1ee 0 320px,#05f 0 321px,#04f 0 322px,#00f 0 323px,#04f 0 325px,#03f 0 326px,#07f 0 327px,#0cf 0 328px,#00f 0 330px,#05f 0 331px,#4fb 0 332px,#08f 0 333px,#02f 0 334px,#5f9 0 336px,#00f 0 337px,#1ee 0 338px,#06f 0 339px,#02f 0 341px,#0cf 0 342px,#1fd 0 343px,#0cf 0 344px,#04f 0 345px,#02f 0 347px,#07f 0 348px,#fc0 0 349px,#0cf 0 350px,#2fc 0 352px,#cf2 0 353px,#6f8 0 354px,#8f6 0 355px,#00f 0 356px,#3fb 0 358px,#00e 0 359px,#03f 0 360px,#00e 0 361px,#02f 0 364px,#06f 0 365px,#00d 0 366px,#01f 0 368px,#1fd 0 369px,#0cf 0 370px,#06f 0 371px,#03f 0 372px,#02f 0 374px,#8f6 0 375px,#0df 0 376px,#8f6 0 377px,#0cf 0 379px,#05f 0 380px,#07f 0 381px,#00f 0 382px,#df1 0 383px,#0af 0 385px,#0df 0 386px,#04f 0 387px,#3fb 0 388px,#0bf 0 390px,#8f7 0 391px,#0df 0 392px,#0cf 0 393px,#6f8 0 394px,#1ee 0 396px,#08f 0 397px,#f80 0 398px,#3fb 0 399px,#9f5 0 401px,#3fb 0 402px,#0cf 0 403px,#8f7 0 404px,#2fc 0 405px,#8f7 0 407px,#03f 0 408px,#3fb 0 409px,#03f 0 410px,#09f 0 412px,#0af 0 413px,#02f 0 414px,#800 0 415px,#0df 0 417px,#00e 0 418px,#07f 0 419px,#0bf 0 420px,#0cf 0 421px,#04f 0 423px,#3fb 0 424px,#f80 0 425px,#02f 0 426px,#2fc 0 428px,#0df 0 429px,#009 0 430px,#00d 0 431px,#8f6 0 432px,#00f 0 434px,#08f 0 435px,#9f5 0 436px,#8f7 0 437px,#fe0 0 439px,#800 0 441px,#07f 0 442px,#bf4 0 443px,#8f6 0 445px,#ef1 0 446px,#bf4 0 447px,#04f 0 448px,#df1 0 450px,#00f 0 451px,#1fd 0 452px,#0cf 0 453px,#800 0 454px,#c00 0 456px,#ef1 0 457px,#8f7 0 458px,#fe0 0 459px,#7f8 0 461px,#05f 0 462px,#4fb 0 463px,#bf4 0 464px,#df1 0 466px,#2fc 0 467px,#df1 0 468px,#6f8 0 469px,#fc0 0 470px,#800 0 473px,#05f 0 474px,#800 0 475px,#f10 0 477px,#800 0 478px,#c00 0 479px,#1ee 0 480px,#800 0 486px,#f60 0 488px,#800 0 490px)"></i><i style="left:58px;width:10px;background:linear-gradient(#03f 0 1px,#0df 0 2px,#00f 0 4px,#07f 0 5px,#09f 0 6px,#06f 0 7px,#0af 0 9px,#05f 0 10px,#00b 0 11px,#08f 0 12px,#05f 0 13px,#00e 0 15px,#02f 0 16px,#00f 0 17px,#05f 0 18px,#06f 0 20px,#02f 0 21px,#05f 0 22px,#03f 0 23px,#04f 0 24px,#00c 0 26px,#01f 0 27px,#08f 0 28px,#0af 0 29px,#00f 0 31px,#04f 0 32px,#02f 0 33px,#1ee 0 34px,#03f 0 36px,#02f 0 37px,#00f 0 38px,#0cf 0 40px,#05f 0 42px,#0cf 0 43px,#00b 0 44px,#00d 0 45px,#0af 0 47px,#00f 0 48px,#08f 0 49px,#00f 0 50px,#06f 0 51px,#00d 0 53px,#02f 0 54px,#04f 0 55px,#00f 0 56px,#00b 0 58px,#0cf 0 59px,#00e 0 61px,#05f 0 62px,#03f 0 64px,#00c 0 65px,#03f 0 66px,#09f 0 67px,#01f 0 69px,#00e 0 70px,#0bf 0 71px,#00f 0 72px,#00b 0 74px,#07f 0 75px,#00a 0 76px,#00f 0 78px,#05f 0 80px,#00f 0 81px,#02f 0 82px,#01f 0 83px,#2fc 0 85px,#00d 0 86px,#00f 0 87px,#05f 0 88px,#03f 0 89px,#06f 0 91px,#00f 0 92px,#06f 0 94px,#02f 0 96px,#03f 0 97px,#04f 0 98px,#00f 0 99px,#00c 0 103px,#00f 0 104px,#0bf 0 105px,#00d 0 107px,#04f 0 108px,#0bf 0 109px,#01f 0 110px,#05f 0 113px,#00f 0 115px,#05f 0 116px,#03f 0 118px,#07f 0 119px,#00f 0 120px,#0af 0 121px,#00c 0 123px,#09f 0 124px,#4fb 0 125px,#07f 0 126px,#05f 0 127px,#00f 0 130px,#05f 0 131px,#02f 0 132px,#00c 0 134px,#04f 0 135px,#08f 0 136px,#00e 0 137px,#08f 0 140px,#05f 0 141px,#00e 0 142px,#00f 0 143px,#00d 0 145px,#06f 0 146px,#09f 0 147px,#00f 0 148px,#01f 0 149px,#04f 0 151px,#00d 0 152px,#07f 0 153px,#1ee 0 154px,#04f 0 156px,#00e 0 157px,#0cf 0 158px,#06f 0 159px,#0af 0 160px,#00d 0 162px,#08f 0 163px,#00e 0 164px,#00d 0 165px,#05f 0 167px,#01f 0 168px,#04f 0 169px,#0bf 0 170px,#06f 0 172px,#00f 0 173px,#03f 0 174px,#9f5 0 175px,#0af 0 176px,#00b 0 178px,#05f 0 180px,#3fb 0 181px,#07f 0 183px,#00f 0 184px,#00d 0 185px,#05f 0 186px,#1fd 0 187px,#03f 0 189px,#00d 0 190px,#07f 0 191px,#01f 0 192px,#03f 0 194px,#01f 0 195px,#00a 0 196px,#02f 0 197px,#01f 0 200px,#00f 0 201px,#0af 0 202px,#03f 0 203px,#06f 0 205px,#0cf 0 206px,#08f 0 207px,#00d 0 208px,#00f 0 209px,#08f 0 211px,#03f 0 212px,#04f 0 213px,#00c 0 214px,#01f 0 216px,#04f 0 217px,#06f 0 218px,#01f 0 219px,#00f 0 221px,#00b 0 222px,#06f 0 223px,#02f 0 224px,#1ee 0 225px,#03f 0 227px,#00e 0 228px,#04f 0 229px,#02f 0 232px,#04f 0 233px,#03f 0 234px,#0af 0 235px,#07f 0 236px,#04f 0 238px,#00c 0 239px,#00f 0 243px,#07f 0 244px,#0cf 0 245px,#00f 0 246px,#06f 0 247px,#02f 0 249px,#5fa 0 250px,#07f 0 251px,#04f 0 252px,#03f 0 254px,#06f 0 255px,#00f 0 256px,#06f 0 257px,#00f 0 258px,#05f 0 260px,#00f 0 261px,#1ee 0 262px,#06f 0 263px,#04f 0 265px,#00e 0 266px,#08f 0 268px,#03f 0 270px,#0af 0 271px,#03f 0 272px,#0bf 0 273px,#07f 0 274px,#1fd 0 276px,#08f 0 277px,#00f 0 278px,#05f 0 279px,#09f 0 281px,#07f 0 282px,#03f 0 283px,#06f 0 284px,#09f 0 285px,#2fc 0 287px,#0df 0 288px,#03f 0 289px,#00c 0 290px,#02f 0 292px,#3fb 0 293px,#0cf 0 294px,#0bf 0 295px,#0cf 0 296px,#09f 0 298px,#05f 0 299px,#01f 0 300px,#00d 0 301px,#00f 0 303px,#03f 0 304px,#00f 0 305px,#0bf 0 307px,#0cf 0 309px,#00f 0 310px,#03f 0 311px,#00b 0 312px,#05f 0 314px,#00d 0 315px,#02f 0 316px,#03f 0 317px,#02f 0 318px,#0df 0 320px,#01f 0 321px,#00f 0 323px,#00e 0 325px,#04f 0 327px,#08f 0 328px,#0cf 0 330px,#02f 0 331px,#01f 0 332px,#af5 0 333px,#02f 0 334px,#01f 0 336px,#06f 0 337px,#03f 0 338px,#01f 0 339px,#0af 0 342px,#3fb 0 343px,#1fd 0 344px,#01f 0 345px,#00d 0 347px,#06f 0 348px,#0bf 0 349px,#04f 0 350px,#0cf 0 353px,#7f8 0 354px,#03f 0 355px,#00f 0 356px,#09f 0 358px,#06f 0 359px,#00f 0 360px,#05f 0 361px,#02f 0 363px,#09f 0 364px,#02f 0 365px,#07f 0 366px,#06f 0 368px,#09f 0 369px,#8f7 0 370px,#03f 0 371px,#06f 0 372px,#03f 0 374px,#1ee 0 375px,#4fb 0 376px,#00c 0 377px,#07f 0 379px,#05f 0 380px,#0bf 0 381px,#04f 0 382px,#02f 0 383px,#2fc 0 385px,#0af 0 387px,#0df 0 388px,#df1 0 390px,#1ee 0 391px,#5fa 0 392px,#03f 0 393px,#2fc 0 394px,#06f 0 396px,#0cf 0 397px,#af5 0 398px,#4fb 0 399px,#5fa 0 401px,#03f 0 402px,#1ee 0 403px,#5fa 0 404px,#6f8 0 405px,#00b 0 407px,#00f 0 408px,#0af 0 409px,#00e 0 410px,#06f 0 412px,#04f 0 413px,#0df 0 414px,#800 0 415px,#08f 0 418px,#c00 0 419px,#fe0 0 420px,#3fb 0 421px,#f60 0 423px,#00f 0 424px,#fd0 0 425px,#bf3 0 426px,#f30 0 428px,#06f 0 429px,#09f 0 430px,#f10 0 431px,#06f 0 432px,#8f6 0 434px,#0cf 0 435px,#00f 0 436px,#03f 0 437px,#00c 0 439px,#08f 0 440px,#3fb 0 441px,#08f 0 442px,#03f 0 443px,#06f 0 445px,#00f 0 446px,#800 0 447px,#f80 0 448px,#800 0 450px,#00c 0 451px,#800 0 452px,#8f7 0 454px,#e00 0 456px,#f70 0 457px,#800 0 458px,#900 0 459px,#00f 0 461px,#fe0 0 462px,#6f8 0 463px,#3fb 0 464px,#f10 0 466px,#8f6 0 467px,#9f5 0 468px,#0cf 0 469px,#800 0 470px,#fc0 0 472px,#900 0 473px,#800 0 474px,#f60 0 475px,#0cf 0 477px,#800 0 483px,#5fa 0 484px,#800 0 488px,#f40 0 489px,#900 0 490px)"></i><i style="left:68px;width:9px;background:linear-gradient(#05f 0 1px,#09f 0 2px,#01f 0 4px,#02f 0 5px,#03f 0 6px,#06f 0 7px,#02f 0 9px,#00f 0 10px,#00d 0 11px,#01f 0 12px,#0bf 0 13px,#00d 0 15px,#00b 0 16px,#07f 0 17px,#01f 0 18px,#06f 0 20px,#0cf 0 21px,#02f 0 22px,#03f 0 23px,#1ee 0 24px,#00f 0 27px,#00d 0 28px,#03f 0 29px,#00e 0 31px,#02f 0 32px,#05f 0 33px,#06f 0 34px,#05f 0 36px,#03f 0 37px,#00f 0 38px,#03f 0 39px,#0cf 0 40px,#0df 0 42px,#09f 0 43px,#00c 0 44px,#00a 0 45px,#0df 0 47px,#02f 0 48px,#08f 0 49px,#00e 0 50px,#01f 0 51px,#00d 0 53px,#02f 0 54px,#00f 0 55px,#01f 0 56px,#00d 0 58px,#06f 0 59px,#03f 0 60px,#02f 0 61px,#08f 0 62px,#09f 0 64px,#00b 0 65px,#00e 0 66px,#03f 0 67px,#06f 0 69px,#00f 0 70px,#03f 0 71px,#00f 0 72px,#01f 0 74px,#03f 0 75px,#00c 0 76px,#07f 0 77px,#01f 0 78px,#04f 0 80px,#00c 0 81px,#00f 0 83px,#08f 0 85px,#02f 0 86px,#04f 0 87px,#00d 0 88px,#06f 0 89px,#08f 0 91px,#00c 0 92px,#02f 0 93px,#00f 0 94px,#07f 0 96px,#00b 0 97px,#0df 0 98px,#0cf 0 99px,#06f 0 100px,#00f 0 102px,#04f 0 103px,#08f 0 104px,#0cf 0 105px,#00c 0 107px,#00f 0 108px,#0cf 0 109px,#04f 0 110px,#01f 0 111px,#04f 0 113px,#00c 0 114px,#00d 0 115px,#06f 0 116px,#00f 0 118px,#00d 0 119px,#04f 0 120px,#01f 0 121px,#00f 0 124px,#07f 0 125px,#01f 0 126px,#02f 0 127px,#00f 0 129px,#00e 0 131px,#01f 0 132px,#02f 0 135px,#07f 0 136px,#00d 0 137px,#02f 0 138px,#0cf 0 140px,#02f 0 141px,#01f 0 142px,#00f 0 143px,#06f 0 145px,#02f 0 146px,#00f 0 147px,#00d 0 149px,#07f 0 151px,#05f 0 152px,#09f 0 153px,#03f 0 154px,#1fd 0 156px,#04f 0 157px,#0cf 0 158px,#08f 0 159px,#01f 0 160px,#00c 0 162px,#0bf 0 163px,#00d 0 164px,#00f 0 165px,#06f 0 167px,#03f 0 168px,#01f 0 169px,#0cf 0 170px,#00f 0 172px,#00e 0 173px,#0af 0 174px,#1ee 0 175px,#00e 0 176px,#009 0 178px,#00e 0 179px,#06f 0 180px,#4fb 0 181px,#07f 0 183px,#02f 0 185px,#08f 0 186px,#0bf 0 187px,#04f 0 189px,#00f 0 190px,#02f 0 191px,#00f 0 192px,#03f 0 194px,#00f 0 195px,#04f 0 197px,#1ee 0 198px,#00f 0 201px,#0cf 0 202px,#03f 0 203px,#01f 0 205px,#00e 0 206px,#09f 0 207px,#00d 0 208px,#07f 0 211px,#02f 0 212px,#06f 0 213px,#00e 0 214px,#03f 0 216px,#01f 0 217px,#04f 0 218px,#08f 0 219px,#00e 0 221px,#01f 0 222px,#00f 0 223px,#02f 0 224px,#06f 0 227px,#05f 0 228px,#02f 0 229px,#05f 0 230px,#00f 0 233px,#00e 0 234px,#01f 0 235px,#03f 0 236px,#05f 0 238px,#00a 0 239px,#02f 0 240px,#00f 0 241px,#05f 0 243px,#07f 0 244px,#03f 0 245px,#02f 0 246px,#00e 0 247px,#00b 0 249px,#08f 0 250px,#06f 0 251px,#08f 0 252px,#02f 0 254px,#00f 0 256px,#04f 0 257px,#01f 0 258px,#3fb 0 260px,#00b 0 261px,#2fc 0 262px,#0cf 0 263px,#03f 0 265px,#05f 0 266px,#2fc 0 267px,#00e 0 268px,#00f 0 270px,#00b 0 271px,#00f 0 272px,#0df 0 273px,#05f 0 274px,#1ee 0 276px,#01f 0 277px,#05f 0 278px,#08f 0 279px,#5fa 0 281px,#04f 0 282px,#05f 0 283px,#09f 0 284px,#0cf 0 285px,#05f 0 287px,#8f7 0 288px,#00f 0 290px,#03f 0 292px,#09f 0 293px,#0cf 0 294px,#05f 0 295px,#00e 0 296px,#00d 0 298px,#02f 0 299px,#00f 0 300px,#0cf 0 301px,#009 0 303px,#05f 0 304px,#04f 0 305px,#3fb 0 306px,#0cf 0 307px,#09f 0 309px,#00e 0 311px,#00d 0 312px,#01f 0 314px,#00e 0 315px,#00d 0 316px,#06f 0 317px,#0df 0 318px,#08f 0 321px,#01f 0 322px,#06f 0 323px,#00f 0 325px,#4fb 0 326px,#04f 0 327px,#06f 0 328px,#1fd 0 330px,#00e 0 331px,#09f 0 332px,#0cf 0 333px,#04f 0 334px,#02f 0 336px,#1fd 0 337px,#08f 0 338px,#00d 0 339px,#00f 0 341px,#06f 0 342px,#08f 0 344px,#01f 0 345px,#00f 0 347px,#02f 0 348px,#09f 0 349px,#01f 0 350px,#04f 0 353px,#5fa 0 354px,#0bf 0 355px,#1ee 0 356px,#05f 0 358px,#04f 0 359px,#02f 0 360px,#0cf 0 361px,#03f 0 363px,#0cf 0 364px,#02f 0 365px,#01f 0 366px,#06f 0 368px,#05f 0 369px,#0cf 0 370px,#00c 0 371px,#05f 0 372px,#af5 0 374px,#0af 0 375px,#3fb 0 376px,#0cf 0 377px,#04f 0 379px,#03f 0 380px,#0df 0 381px,#02f 0 383px,#09f 0 385px,#2fc 0 386px,#09f 0 387px,#04f 0 388px,#5f9 0 390px,#09f 0 391px,#1fd 0 392px,#02f 0 393px,#fc0 0 394px,#06f 0 396px,#0bf 0 397px,#1fd 0 398px,#4fb 0 399px,#0af 0 401px,#0df 0 402px,#5f9 0 403px,#f20 0 404px,#0cf 0 405px,#00c 0 407px,#09f 0 408px,#05f 0 409px,#09f 0 410px,#8f6 0 412px,#00c 0 413px,#4fb 0 414px,#0cf 0 415px,#03f 0 417px,#00f 0 418px,#0df 0 419px,#08f 0 420px,#5fa 0 421px,#f50 0 423px,#1fd 0 424px,#bf3 0 425px,#00f 0 426px,#06f 0 428px,#7f8 0 429px,#0df 0 430px,#08f 0 432px,#800 0 434px,#9f5 0 435px,#2fc 0 436px,#08f 0 437px,#02f 0 439px,#fb0 0 440px,#fa0 0 441px,#5fa 0 442px,#fc0 0 443px,#03f 0 445px,#1ee 0 446px,#800 0 447px,#06f 0 448px,#800 0 450px,#1fd 0 451px,#f70 0 452px,#4fb 0 453px,#df1 0 454px,#d00 0 456px,#df1 0 457px,#07f 0 458px,#800 0 459px,#fb0 0 461px,#2fc 0 462px,#800 0 464px,#fb0 0 466px,#f90 0 467px,#00d 0 468px,#09f 0 469px,#800 0 474px,#1ee 0 475px,#800 0 483px,#f60 0 484px,#800 0 486px,#a00 0 488px,#800 0 490px)"></i><i style="left:77px;width:10px;background:linear-gradient(#00b 0 1px,#07f 0 2px,#04f 0 4px,#07f 0 5px,#0df 0 6px,#0bf 0 7px,#07f 0 9px,#00f 0 10px,#00c 0 11px,#02f 0 12px,#01f 0 15px,#00b 0 16px,#1ee 0 17px,#03f 0 20px,#00e 0 21px,#00f 0 23px,#0cf 0 24px,#00e 0 26px,#00f 0 27px,#08f 0 28px,#00e 0 29px,#00a 0 31px,#02f 0 32px,#04f 0 33px,#09f 0 34px,#02f 0 36px,#05f 0 37px,#00c 0 38px,#0bf 0 39px,#0cf 0 40px,#0af 0 42px,#01f 0 43px,#00c 0 44px,#03f 0 45px,#07f 0 47px,#03f 0 48px,#00f 0 50px,#02f 0 51px,#00d 0 53px,#00e 0 54px,#05f 0 55px,#00e 0 56px,#00f 0 58px,#00e 0 59px,#02f 0 60px,#00b 0 61px,#09f 0 62px,#07f 0 64px,#00a 0 65px,#00b 0 66px,#05f 0 67px,#00e 0 69px,#01f 0 70px,#03f 0 71px,#00f 0 72px,#05f 0 74px,#00f 0 75px,#00b 0 76px,#04f 0 77px,#03f 0 78px,#08f 0 80px,#00e 0 82px,#00f 0 83px,#00e 0 85px,#00f 0 86px,#02f 0 87px,#01f 0 88px,#04f 0 89px,#00f 0 91px,#00a 0 92px,#0bf 0 93px,#00c 0 94px,#01f 0 96px,#00e 0 97px,#01f 0 98px,#0df 0 99px,#08f 0 100px,#01f 0 102px,#00c 0 104px,#08f 0 105px,#02f 0 107px,#05f 0 109px,#07f 0 110px,#00f 0 111px,#05f 0 113px,#00c 0 114px,#00b 0 115px,#00f 0 116px,#00d 0 118px,#00f 0 119px,#04f 0 120px,#00c 0 121px,#00f 0 124px,#09f 0 125px,#00f 0 126px,#00e 0 127px,#06f 0 129px,#00c 0 130px,#00e 0 131px,#06f 0 134px,#00f 0 135px,#09f 0 136px,#01f 0 137px,#00e 0 138px,#0cf 0 140px,#00f 0 141px,#00c 0 142px,#03f 0 143px,#00f 0 145px,#07f 0 146px,#00e 0 147px,#01f 0 148px,#00a 0 149px,#01f 0 151px,#0af 0 152px,#07f 0 153px,#00d 0 154px,#05f 0 156px,#01f 0 157px,#04f 0 158px,#07f 0 159px,#06f 0 160px,#00c 0 162px,#05f 0 163px,#00b 0 164px,#07f 0 165px,#01f 0 167px,#00f 0 168px,#03f 0 169px,#0cf 0 170px,#00d 0 172px,#00c 0 173px,#0bf 0 174px,#6f8 0 175px,#04f 0 176px,#00c 0 178px,#04f 0 179px,#00f 0 180px,#1ee 0 181px,#01f 0 183px,#05f 0 184px,#00f 0 185px,#01f 0 186px,#07f 0 187px,#06f 0 189px,#00e 0 190px,#00f 0 191px,#02f 0 192px,#00e 0 194px,#0af 0 195px,#04f 0 196px,#00d 0 197px,#0cf 0 198px,#00d 0 200px,#01f 0 202px,#00b 0 203px,#02f 0 205px,#00c 0 206px,#03f 0 207px,#00e 0 208px,#00f 0 209px,#05f 0 211px,#04f 0 213px,#00f 0 214px,#03f 0 216px,#08f 0 217px,#01f 0 218px,#05f 0 219px,#0cf 0 221px,#01f 0 222px,#02f 0 223px,#05f 0 224px,#0af 0 225px,#09f 0 227px,#00d 0 228px,#02f 0 229px,#05f 0 230px,#04f 0 232px,#06f 0 233px,#00b 0 234px,#00f 0 235px,#05f 0 236px,#02f 0 238px,#00b 0 239px,#02f 0 240px,#01f 0 241px,#02f 0 243px,#07f 0 244px,#00e 0 246px,#00c 0 247px,#00e 0 249px,#01f 0 250px,#02f 0 252px,#2fc 0 254px,#05f 0 255px,#04f 0 256px,#01f 0 257px,#04f 0 258px,#00f 0 260px,#06f 0 261px,#05f 0 262px,#04f 0 266px,#0df 0 267px,#00e 0 268px,#00f 0 271px,#00d 0 272px,#1ee 0 273px,#01f 0 274px,#1ee 0 276px,#00d 0 277px,#0cf 0 278px,#04f 0 279px,#08f 0 281px,#00f 0 282px,#05f 0 283px,#00f 0 284px,#04f 0 285px,#07f 0 287px,#5f9 0 288px,#0df 0 289px,#01f 0 290px,#0af 0 292px,#00e 0 293px,#0af 0 294px,#00f 0 295px,#00e 0 296px,#00f 0 299px,#0af 0 300px,#04f 0 301px,#00d 0 303px,#00a 0 304px,#00f 0 305px,#1ee 0 306px,#06f 0 307px,#2fc 0 309px,#06f 0 311px,#00f 0 312px,#0af 0 314px,#00f 0 315px,#04f 0 316px,#02f 0 317px,#0cf 0 318px,#04f 0 320px,#00f 0 321px,#04f 0 322px,#06f 0 323px,#00f 0 325px,#3fb 0 326px,#00f 0 328px,#6f8 0 330px,#00f 0 331px,#03f 0 332px,#00f 0 334px,#09f 0 336px,#02f 0 337px,#00e 0 338px,#02f 0 339px,#00f 0 341px,#09f 0 342px,#0cf 0 344px,#04f 0 345px,#03f 0 347px,#0cf 0 348px,#06f 0 349px,#04f 0 350px,#03f 0 352px,#0cf 0 353px,#01f 0 354px,#09f 0 355px,#5fa 0 356px,#04f 0 358px,#05f 0 359px,#01f 0 360px,#6f8 0 361px,#5f9 0 363px,#03f 0 364px,#05f 0 365px,#00c 0 366px,#00f 0 369px,#06f 0 371px,#7f8 0 372px,#08f 0 374px,#01f 0 375px,#0cf 0 376px,#00e 0 377px,#0cf 0 379px,#06f 0 380px,#3fb 0 381px,#03f 0 382px,#00e 0 383px,#0af 0 385px,#0cf 0 386px,#1fd 0 387px,#08f 0 388px,#5f9 0 390px,#0cf 0 391px,#0df 0 392px,#af5 0 393px,#06f 0 396px,#04f 0 397px,#bf4 0 398px,#3fb 0 401px,#0cf 0 402px,#0bf 0 403px,#8f6 0 404px,#00f 0 405px,#09f 0 407px,#07f 0 408px,#00d 0 409px,#04f 0 412px,#0cf 0 413px,#f20 0 414px,#00c 0 415px,#02f 0 417px,#0af 0 418px,#0df 0 419px,#1ee 0 420px,#800 0 421px,#8f6 0 423px,#04f 0 424px,#09f 0 425px,#03f 0 426px,#0df 0 428px,#800 0 429px,#8f7 0 430px,#fa0 0 431px,#f90 0 432px,#4fb 0 434px,#fa0 0 435px,#6f8 0 436px,#0cf 0 437px,#fe0 0 439px,#9f5 0 440px,#0cf 0 441px,#09f 0 442px,#7f8 0 443px,#800 0 445px,#cf2 0 446px,#900 0 447px,#800 0 448px,#5f9 0 450px,#00f 0 451px,#f40 0 452px,#fe0 0 453px,#03f 0 454px,#fe0 0 456px,#f40 0 457px,#3fb 0 458px,#8f6 0 459px,#df1 0 461px,#5f9 0 462px,#08f 0 463px,#800 0 464px,#bf3 0 466px,#800 0 467px,#5f9 0 468px,#800 0 470px,#2fc 0 472px,#800 0 474px,#f40 0 475px,#800 0 485px,#fc0 0 486px,#800 0 490px)"></i><i style="left:87px;width:10px;background:linear-gradient(#00d 0 1px,#04f 0 2px,#0af 0 4px,#01f 0 5px,#06f 0 6px,#00f 0 7px,#03f 0 9px,#01f 0 10px,#00c 0 11px,#07f 0 12px,#04f 0 13px,#00b 0 15px,#00f 0 16px,#1ee 0 17px,#08f 0 18px,#00d 0 20px,#00f 0 21px,#04f 0 22px,#02f 0 23px,#00f 0 24px,#00d 0 27px,#0bf 0 28px,#00d 0 29px,#00a 0 31px,#00f 0 32px,#02f 0 33px,#09f 0 34px,#00b 0 36px,#00d 0 37px,#00f 0 38px,#0cf 0 40px,#06f 0 42px,#02f 0 43px,#00c 0 44px,#0cf 0 45px,#05f 0 47px,#0cf 0 48px,#02f 0 49px,#00e 0 50px,#00d 0 53px,#09f 0 54px,#05f 0 55px,#00e 0 56px,#00f 0 58px,#01f 0 59px,#00d 0 60px,#00f 0 61px,#00b 0 62px,#00f 0 64px,#00c 0 65px,#00f 0 66px,#0af 0 67px,#00f 0 70px,#01f 0 71px,#00b 0 72px,#01f 0 74px,#02f 0 75px,#00e 0 76px,#04f 0 77px,#07f 0 78px,#00f 0 80px,#00d 0 81px,#02f 0 83px,#0af 0 85px,#05f 0 86px,#00e 0 87px,#02f 0 88px,#00f 0 89px,#08f 0 91px,#00a 0 92px,#01f 0 93px,#05f 0 94px,#01f 0 96px,#00c 0 98px,#07f 0 99px,#00f 0 100px,#00e 0 102px,#0df 0 103px,#00d 0 104px,#02f 0 105px,#00f 0 107px,#05f 0 108px,#09f 0 109px,#0af 0 110px,#02f 0 111px,#04f 0 113px,#05f 0 114px,#00f 0 115px,#06f 0 116px,#00f 0 118px,#00e 0 119px,#03f 0 120px,#00b 0 121px,#00d 0 123px,#04f 0 124px,#07f 0 125px,#02f 0 126px,#0cf 0 127px,#00e 0 129px,#00c 0 130px,#00f 0 131px,#03f 0 132px,#07f 0 134px,#00c 0 135px,#06f 0 136px,#00d 0 137px,#00b 0 138px,#01f 0 140px,#00f 0 142px,#00d 0 143px,#06f 0 145px,#0bf 0 146px,#00f 0 147px,#03f 0 148px,#00d 0 149px,#03f 0 152px,#02f 0 153px,#00c 0 157px,#1ee 0 158px,#0af 0 159px,#00d 0 160px,#00e 0 162px,#04f 0 163px,#00d 0 164px,#1ee 0 165px,#05f 0 167px,#00d 0 168px,#05f 0 169px,#00e 0 173px,#0bf 0 174px,#08f 0 175px,#0df 0 176px,#01f 0 178px,#04f 0 179px,#00c 0 180px,#08f 0 181px,#06f 0 183px,#00f 0 184px,#02f 0 185px,#00e 0 186px,#09f 0 187px,#03f 0 189px,#00e 0 190px,#00b 0 191px,#02f 0 192px,#03f 0 194px,#04f 0 195px,#0bf 0 196px,#00b 0 197px,#0df 0 198px,#00d 0 200px,#00f 0 201px,#04f 0 202px,#00e 0 203px,#01f 0 205px,#02f 0 206px,#05f 0 207px,#0df 0 208px,#00e 0 209px,#01f 0 211px,#00a 0 212px,#07f 0 213px,#00b 0 214px,#00f 0 216px,#04f 0 217px,#5fa 0 218px,#02f 0 219px,#06f 0 221px,#01f 0 222px,#00e 0 223px,#0cf 0 224px,#06f 0 225px,#05f 0 227px,#00c 0 228px,#01f 0 229px,#07f 0 230px,#00f 0 232px,#06f 0 233px,#00d 0 234px,#00c 0 235px,#08f 0 236px,#01f 0 238px,#00d 0 239px,#01f 0 240px,#00a 0 241px,#02f 0 243px,#0cf 0 244px,#08f 0 245px,#01f 0 246px,#00d 0 247px,#00f 0 250px,#00e 0 251px,#0cf 0 252px,#2fc 0 254px,#04f 0 255px,#00a 0 256px,#00c 0 257px,#04f 0 258px,#00f 0 260px,#02f 0 261px,#00f 0 262px,#0af 0 263px,#03f 0 265px,#05f 0 266px,#0cf 0 267px,#01f 0 268px,#00a 0 270px,#00f 0 272px,#03f 0 273px,#00b 0 274px,#1ee 0 276px,#00d 0 277px,#00f 0 278px,#08f 0 281px,#00f 0 282px,#03f 0 283px,#00c 0 284px,#09f 0 285px,#03f 0 287px,#af5 0 288px,#04f 0 289px,#1ee 0 290px,#0bf 0 292px,#00f 0 293px,#0af 0 294px,#09f 0 295px,#00c 0 296px,#06f 0 298px,#00d 0 299px,#01f 0 300px,#00c 0 301px,#00b 0 303px,#00f 0 304px,#00c 0 305px,#01f 0 306px,#03f 0 307px,#0df 0 309px,#0af 0 310px,#1ee 0 311px,#08f 0 312px,#5fa 0 314px,#00f 0 315px,#08f 0 316px,#01f 0 317px,#09f 0 318px,#02f 0 320px,#00f 0 321px,#00d 0 322px,#00f 0 325px,#3fb 0 326px,#01f 0 327px,#06f 0 328px,#5f9 0 330px,#00e 0 331px,#0cf 0 332px,#00e 0 333px,#00d 0 334px,#0cf 0 336px,#01f 0 337px,#07f 0 338px,#02f 0 339px,#03f 0 341px,#0df 0 342px,#0cf 0 343px,#01f 0 344px,#08f 0 345px,#00f 0 347px,#6f8 0 348px,#01f 0 349px,#1ee 0 350px,#01f 0 352px,#06f 0 353px,#00e 0 354px,#0df 0 355px,#0af 0 356px,#00a 0 358px,#00d 0 359px,#5fa 0 360px,#06f 0 361px,#1ee 0 363px,#07f 0 364px,#02f 0 365px,#00c 0 366px,#06f 0 368px,#02f 0 369px,#0af 0 370px,#2fc 0 371px,#4fb 0 372px,#0df 0 374px,#0bf 0 375px,#8f6 0 376px,#00c 0 377px,#08f 0 379px,#0bf 0 380px,#1ee 0 381px,#00f 0 385px,#03f 0 386px,#0af 0 387px,#03f 0 388px,#09f 0 390px,#08f 0 391px,#2fc 0 392px,#00f 0 393px,#01f 0 394px,#02f 0 397px,#5fa 0 398px,#1fd 0 399px,#01f 0 401px,#05f 0 402px,#0cf 0 403px,#df1 0 404px,#0df 0 405px,#03f 0 407px,#09f 0 408px,#8f6 0 409px,#5fa 0 410px,#4fb 0 412px,#0df 0 413px,#0cf 0 414px,#3fb 0 415px,#4fb 0 417px,#1fd 0 418px,#af5 0 419px,#bf4 0 420px,#8f7 0 421px,#04f 0 423px,#0bf 0 424px,#fe0 0 425px,#00d 0 426px,#07f 0 428px,#6f8 0 429px,#ef1 0 430px,#fd0 0 431px,#5f9 0 432px,#00d 0 434px,#5fa 0 435px,#7f8 0 436px,#f60 0 437px,#f30 0 439px,#9f5 0 440px,#07f 0 441px,#01f 0 442px,#f70 0 443px,#800 0 446px,#1fd 0 447px,#800 0 448px,#f40 0 450px,#0cf 0 451px,#f90 0 452px,#0cf 0 453px,#bf4 0 454px,#900 0 456px,#af5 0 458px,#4fb 0 459px,#09f 0 461px,#d00 0 462px,#0cf 0 463px,#af5 0 464px,#800 0 466px,#3fb 0 467px,#f20 0 468px,#cf2 0 469px,#f90 0 470px,#cf2 0 472px,#af5 0 473px,#800 0 475px,#0bf 0 477px,#5fa 0 478px,#f80 0 479px,#800 0 485px,#0cf 0 486px,#800 0 490px)"></i><i style="left:97px;width:9px;background:linear-gradient(#00c 0 1px,#0af 0 2px,#06f 0 4px,#01f 0 5px,#00d 0 6px,#03f 0 7px,#07f 0 9px,#00f 0 10px,#00e 0 11px,#0af 0 12px,#00e 0 13px,#00d 0 15px,#03f 0 16px,#0cf 0 17px,#03f 0 18px,#00d 0 20px,#04f 0 21px,#08f 0 22px,#00f 0 24px,#00c 0 26px,#00f 0 27px,#0df 0 28px,#00d 0 29px,#00f 0 31px,#00c 0 32px,#01f 0 33px,#03f 0 34px,#00f 0 36px,#00d 0 37px,#02f 0 38px,#06f 0 39px,#0af 0 40px,#01f 0 42px,#00e 0 43px,#00b 0 44px,#0bf 0 45px,#02f 0 47px,#09f 0 48px,#0af 0 49px,#00c 0 50px,#00b 0 51px,#00e 0 53px,#08f 0 54px,#04f 0 55px,#00f 0 58px,#0af 0 59px,#00f 0 60px,#00e 0 61px,#00d 0 62px,#00b 0 64px,#00e 0 65px,#02f 0 66px,#00f 0 67px,#01f 0 69px,#00d 0 70px,#00f 0 71px,#00a 0 72px,#00f 0 75px,#04f 0 76px,#02f 0 77px,#03f 0 78px,#02f 0 80px,#01f 0 81px,#00f 0 82px,#03f 0 83px,#00f 0 85px,#04f 0 86px,#01f 0 87px,#02f 0 89px,#03f 0 91px,#00a 0 92px,#05f 0 93px,#0bf 0 94px,#00c 0 96px,#00e 0 97px,#00d 0 98px,#04f 0 100px,#00e 0 102px,#0cf 0 103px,#02f 0 104px,#00f 0 105px,#02f 0 107px,#01f 0 109px,#02f 0 110px,#00f 0 111px,#08f 0 113px,#03f 0 114px,#00f 0 115px,#05f 0 116px,#00f 0 118px,#01f 0 119px,#03f 0 120px,#00d 0 121px,#00f 0 123px,#04f 0 124px,#02f 0 125px,#06f 0 127px,#00e 0 129px,#00c 0 130px,#00f 0 131px,#09f 0 132px,#00f 0 135px,#04f 0 136px,#00f 0 137px,#00e 0 138px,#00c 0 140px,#04f 0 141px,#00f 0 142px,#02f 0 143px,#01f 0 145px,#08f 0 146px,#02f 0 147px,#00d 0 148px,#00c 0 149px,#1ee 0 151px,#00b 0 152px,#0bf 0 154px,#00f 0 157px,#07f 0 158px,#04f 0 159px,#00c 0 160px,#00f 0 163px,#06f 0 164px,#05f 0 165px,#01f 0 167px,#00d 0 168px,#00f 0 170px,#05f 0 172px,#02f 0 174px,#00f 0 175px,#1ee 0 176px,#04f 0 178px,#07f 0 179px,#00f 0 180px,#07f 0 181px,#03f 0 183px,#00c 0 184px,#00f 0 186px,#00d 0 187px,#0bf 0 189px,#01f 0 190px,#00d 0 191px,#0cf 0 192px,#01f 0 194px,#00f 0 195px,#06f 0 196px,#01f 0 197px,#08f 0 198px,#06f 0 200px,#08f 0 201px,#06f 0 202px,#00f 0 203px,#00e 0 205px,#00f 0 206px,#0bf 0 207px,#06f 0 208px,#00b 0 209px,#00f 0 211px,#00c 0 212px,#00d 0 213px,#04f 0 214px,#0bf 0 216px,#09f 0 217px,#1fd 0 218px,#01f 0 219px,#05f 0 221px,#00f 0 222px,#0af 0 223px,#05f 0 224px,#00e 0 225px,#03f 0 227px,#00e 0 228px,#00f 0 229px,#03f 0 230px,#00f 0 232px,#07f 0 233px,#00d 0 234px,#00b 0 235px,#07f 0 236px,#03f 0 238px,#09f 0 239px,#04f 0 240px,#00b 0 243px,#02f 0 244px,#03f 0 246px,#02f 0 247px,#00d 0 250px,#00f 0 251px,#0af 0 252px,#0bf 0 254px,#06f 0 255px,#00d 0 256px,#01f 0 257px,#2fc 0 258px,#08f 0 260px,#00e 0 261px,#00b 0 262px,#08f 0 263px,#02f 0 265px,#00d 0 266px,#08f 0 267px,#0cf 0 268px,#00d 0 270px,#00c 0 271px,#06f 0 272px,#00f 0 274px,#0cf 0 276px,#00f 0 277px,#02f 0 278px,#09f 0 279px,#04f 0 281px,#00d 0 282px,#00f 0 283px,#0af 0 284px,#05f 0 285px,#09f 0 287px,#5f9 0 288px,#04f 0 289px,#03f 0 290px,#5fa 0 292px,#04f 0 293px,#0af 0 294px,#08f 0 295px,#00f 0 296px,#04f 0 298px,#00f 0 299px,#02f 0 300px,#09f 0 301px,#00d 0 303px,#03f 0 304px,#05f 0 305px,#01f 0 306px,#05f 0 307px,#00f 0 309px,#06f 0 310px,#0cf 0 311px,#05f 0 314px,#01f 0 315px,#07f 0 317px,#08f 0 318px,#00e 0 321px,#0bf 0 322px,#09f 0 323px,#00f 0 325px,#0df 0 326px,#04f 0 327px,#08f 0 328px,#3fb 0 330px,#01f 0 331px,#07f 0 332px,#08f 0 333px,#05f 0 334px,#06f 0 336px,#05f 0 337px,#08f 0 338px,#0cf 0 339px,#07f 0 341px,#08f 0 342px,#00f 0 343px,#00e 0 344px,#0cf 0 345px,#00f 0 347px,#04f 0 348px,#bf3 0 349px,#0cf 0 350px,#00f 0 352px,#1ee 0 353px,#00e 0 354px,#04f 0 355px,#0af 0 356px,#00f 0 358px,#00d 0 359px,#0bf 0 360px,#af5 0 361px,#3fb 0 363px,#5fa 0 364px,#5f9 0 365px,#00f 0 366px,#00d 0 368px,#4fb 0 369px,#df1 0 370px,#8f6 0 371px,#7f8 0 372px,#08f 0 374px,#02f 0 375px,#0cf 0 376px,#09f 0 377px,#ef1 0 379px,#2fc 0 380px,#7f8 0 381px,#04f 0 382px,#00d 0 383px,#01f 0 385px,#7f8 0 386px,#03f 0 387px,#02f 0 388px,#07f 0 390px,#06f 0 391px,#07f 0 392px,#1fd 0 393px,#07f 0 396px,#8f6 0 397px,#5f9 0 398px,#5fa 0 399px,#02f 0 401px,#8f6 0 402px,#fe0 0 403px,#8f7 0 404px,#03f 0 405px,#0bf 0 407px,#00f 0 409px,#05f 0 410px,#cf2 0 412px,#06f 0 413px,#0cf 0 414px,#0bf 0 415px,#1ee 0 417px,#f30 0 418px,#2fc 0 419px,#fe0 0 420px,#06f 0 421px,#0cf 0 423px,#00f 0 424px,#09f 0 425px,#1fd 0 426px,#04f 0 428px,#bf3 0 429px,#df1 0 430px,#af5 0 431px,#8f6 0 432px,#08f 0 434px,#0df 0 435px,#ef1 0 436px,#0cf 0 437px,#0af 0 439px,#0cf 0 440px,#1ee 0 441px,#0bf 0 442px,#09f 0 443px,#0cf 0 445px,#4fb 0 446px,#800 0 447px,#5f9 0 448px,#05f 0 450px,#af5 0 451px,#800 0 452px,#1fd 0 453px,#900 0 454px,#00f 0 456px,#f60 0 457px,#6f8 0 458px,#f90 0 459px,#bf4 0 461px,#800 0 462px,#df1 0 463px,#800 0 464px,#cf2 0 466px,#0af 0 467px,#3fb 0 468px,#800 0 469px,#b00 0 470px,#3fb 0 472px,#07f 0 473px,#800 0 474px,#ef1 0 475px,#5fa 0 477px,#800 0 478px,#4fb 0 479px,#fe0 0 480px,#800 0 483px,#d00 0 484px,#800 0 490px)"></i><i style="left:106px;width:10px;background:linear-gradient(#02f 0 1px,#0af 0 4px,#00f 0 5px,#04f 0 6px,#00f 0 7px,#00e 0 9px,#0bf 0 10px,#00a 0 11px,#07f 0 12px,#01f 0 13px,#00e 0 15px,#03f 0 16px,#02f 0 17px,#05f 0 18px,#00d 0 20px,#07f 0 21px,#02f 0 22px,#00f 0 23px,#03f 0 24px,#00f 0 26px,#03f 0 27px,#3fb 0 28px,#00c 0 29px,#01f 0 32px,#0af 0 34px,#03f 0 36px,#01f 0 37px,#00f 0 38px,#0af 0 39px,#00f 0 40px,#0af 0 42px,#05f 0 43px,#00d 0 44px,#05f 0 45px,#02f 0 47px,#03f 0 48px,#0df 0 49px,#00b 0 51px,#00c 0 53px,#07f 0 54px,#01f 0 55px,#04f 0 56px,#01f 0 58px,#0cf 0 59px,#00f 0 60px,#02f 0 61px,#00e 0 65px,#02f 0 66px,#00d 0 67px,#02f 0 69px,#05f 0 70px,#04f 0 71px,#00c 0 72px,#00e 0 74px,#08f 0 75px,#01f 0 77px,#0af 0 78px,#01f 0 80px,#00f 0 82px,#05f 0 83px,#00e 0 85px,#06f 0 86px,#00f 0 88px,#03f 0 91px,#00b 0 92px,#01f 0 94px,#06f 0 96px,#00e 0 97px,#00b 0 98px,#09f 0 99px,#01f 0 100px,#009 0 102px,#0df 0 103px,#06f 0 104px,#02f 0 105px,#01f 0 107px,#02f 0 108px,#07f 0 109px,#05f 0 110px,#01f 0 111px,#06f 0 113px,#00f 0 114px,#01f 0 115px,#09f 0 116px,#00f 0 118px,#06f 0 119px,#00f 0 120px,#09f 0 121px,#03f 0 123px,#00f 0 124px,#04f 0 125px,#0af 0 126px,#00f 0 127px,#06f 0 129px,#00e 0 130px,#04f 0 131px,#09f 0 132px,#05f 0 134px,#01f 0 135px,#03f 0 136px,#00e 0 137px,#00d 0 140px,#0bf 0 141px,#00e 0 142px,#00f 0 143px,#05f 0 145px,#09f 0 146px,#01f 0 147px,#00e 0 148px,#02f 0 149px,#05f 0 151px,#00d 0 152px,#02f 0 153px,#00f 0 157px,#3fb 0 158px,#03f 0 159px,#00f 0 160px,#04f 0 162px,#00f 0 163px,#0df 0 164px,#06f 0 165px,#05f 0 167px,#00d 0 168px,#00e 0 169px,#02f 0 170px,#00f 0 172px,#07f 0 173px,#01f 0 174px,#00f 0 175px,#07f 0 176px,#03f 0 178px,#3fb 0 179px,#01f 0 180px,#04f 0 183px,#01f 0 184px,#00f 0 185px,#06f 0 186px,#05f 0 187px,#0af 0 189px,#07f 0 190px,#00e 0 191px,#0bf 0 192px,#08f 0 194px,#00c 0 195px,#0af 0 196px,#03f 0 197px,#0cf 0 198px,#08f 0 201px,#01f 0 202px,#04f 0 203px,#00d 0 205px,#00a 0 206px,#0af 0 207px,#01f 0 208px,#05f 0 209px,#00d 0 212px,#01f 0 213px,#00f 0 214px,#4fb 0 216px,#06f 0 217px,#5fa 0 218px,#0bf 0 219px,#07f 0 221px,#00e 0 222px,#09f 0 223px,#03f 0 224px,#06f 0 225px,#05f 0 227px,#02f 0 228px,#03f 0 229px,#07f 0 230px,#09f 0 232px,#06f 0 233px,#02f 0 234px,#00d 0 235px,#0df 0 236px,#01f 0 238px,#02f 0 239px,#06f 0 240px,#00b 0 243px,#00c 0 244px,#03f 0 245px,#00d 0 246px,#0cf 0 247px,#00c 0 249px,#00d 0 250px,#04f 0 251px,#03f 0 252px,#07f 0 254px,#05f 0 255px,#01f 0 256px,#04f 0 257px,#07f 0 258px,#02f 0 260px,#00e 0 262px,#00f 0 263px,#03f 0 265px,#00d 0 266px,#02f 0 267px,#03f 0 268px,#00f 0 270px,#00e 0 271px,#03f 0 272px,#05f 0 273px,#01f 0 274px,#05f 0 276px,#01f 0 277px,#07f 0 278px,#1ee 0 279px,#09f 0 281px,#00c 0 282px,#01f 0 283px,#05f 0 284px,#09f 0 285px,#06f 0 287px,#5f9 0 288px,#06f 0 289px,#00d 0 290px,#5fa 0 292px,#00e 0 293px,#05f 0 294px,#0cf 0 295px,#01f 0 296px,#05f 0 298px,#00f 0 299px,#0af 0 301px,#00f 0 303px,#06f 0 304px,#08f 0 305px,#02f 0 306px,#0cf 0 307px,#04f 0 309px,#00f 0 310px,#0cf 0 311px,#00c 0 312px,#05f 0 314px,#02f 0 315px,#06f 0 316px,#02f 0 318px,#00f 0 320px,#05f 0 321px,#0bf 0 322px,#03f 0 323px,#00d 0 325px,#01f 0 326px,#00f 0 327px,#02f 0 328px,#03f 0 330px,#06f 0 331px,#04f 0 332px,#2fc 0 333px,#01f 0 334px,#00a 0 336px,#09f 0 338px,#00f 0 341px,#08f 0 342px,#0bf 0 343px,#00f 0 344px,#00d 0 345px,#00c 0 347px,#05f 0 348px,#bf3 0 349px,#02f 0 350px,#5f9 0 352px,#05f 0 354px,#01f 0 355px,#4fb 0 356px,#07f 0 358px,#00f 0 360px,#6f8 0 361px,#bf4 0 363px,#7f8 0 364px,#05f 0 365px,#08f 0 366px,#00f 0 369px,#df1 0 370px,#2fc 0 371px,#00f 0 372px,#04f 0 374px,#0bf 0 375px,#00f 0 376px,#08f 0 377px,#8f6 0 379px,#5fa 0 380px,#2fc 0 381px,#0cf 0 382px,#00e 0 383px,#05f 0 385px,#2fc 0 386px,#06f 0 387px,#1ee 0 388px,#02f 0 390px,#00e 0 391px,#6f8 0 392px,#05f 0 393px,#00a 0 394px,#05f 0 396px,#06f 0 397px,#03f 0 398px,#01f 0 399px,#07f 0 401px,#00f 0 402px,#01f 0 403px,#5fa 0 404px,#01f 0 405px,#09f 0 407px,#0cf 0 408px,#04f 0 409px,#02f 0 410px,#5f9 0 412px,#06f 0 413px,#02f 0 414px,#00f 0 417px,#01f 0 418px,#00f 0 419px,#800 0 420px,#7f8 0 421px,#02f 0 423px,#07f 0 424px,#f90 0 425px,#00f 0 426px,#0bf 0 428px,#3fb 0 429px,#fd0 0 430px,#a00 0 431px,#800 0 432px,#02f 0 434px,#04f 0 435px,#ef1 0 436px,#0cf 0 437px,#df1 0 439px,#5fa 0 440px,#af5 0 441px,#0cf 0 442px,#0df 0 443px,#4fb 0 445px,#08f 0 446px,#0af 0 450px,#f70 0 451px,#7f8 0 452px,#fe0 0 453px,#df1 0 454px,#f90 0 456px,#800 0 457px,#06f 0 458px,#03f 0 459px,#800 0 461px,#f70 0 462px,#f60 0 463px,#fb0 0 464px,#8f6 0 466px,#08f 0 467px,#3fb 0 468px,#5fa 0 469px,#800 0 470px,#6f8 0 472px,#8f6 0 473px,#800 0 474px,#00a 0 475px,#800 0 479px,#af5 0 480px,#800 0 484px,#f50 0 485px,#fa0 0 486px,#0df 0 488px,#800 0 490px)"></i><i style="left:116px;width:10px;background:linear-gradient(#00d 0 1px,#08f 0 2px,#04f 0 4px,#00e 0 5px,#00f 0 10px,#00c 0 11px,#09f 0 13px,#07f 0 15px,#00f 0 16px,#01f 0 17px,#07f 0 18px,#00d 0 20px,#02f 0 21px,#00a 0 22px,#00f 0 23px,#06f 0 24px,#01f 0 26px,#00c 0 27px,#4fb 0 28px,#00e 0 29px,#00f 0 31px,#00d 0 32px,#0bf 0 33px,#0cf 0 34px,#00f 0 37px,#00b 0 38px,#00f 0 39px,#00c 0 40px,#02f 0 42px,#0af 0 43px,#07f 0 44px,#01f 0 45px,#09f 0 47px,#00f 0 48px,#0cf 0 49px,#00c 0 50px,#00f 0 51px,#00c 0 53px,#08f 0 54px,#01f 0 55px,#0cf 0 56px,#01f 0 58px,#06f 0 59px,#00f 0 61px,#04f 0 62px,#00f 0 64px,#00d 0 65px,#00b 0 66px,#00f 0 67px,#03f 0 69px,#00e 0 70px,#08f 0 71px,#00f 0 72px,#00e 0 74px,#04f 0 75px,#08f 0 76px,#02f 0 77px,#0af 0 78px,#02f 0 80px,#07f 0 81px,#00f 0 83px,#03f 0 85px,#06f 0 86px,#00f 0 87px,#0af 0 88px,#00c 0 89px,#09f 0 91px,#00e 0 92px,#02f 0 94px,#04f 0 96px,#00e 0 97px,#00d 0 98px,#01f 0 99px,#00f 0 100px,#00a 0 102px,#02f 0 103px,#00c 0 104px,#02f 0 107px,#04f 0 108px,#02f 0 109px,#00d 0 110px,#05f 0 111px,#07f 0 113px,#08f 0 114px,#06f 0 115px,#2fc 0 116px,#04f 0 118px,#09f 0 119px,#01f 0 120px,#00f 0 121px,#04f 0 123px,#00d 0 124px,#05f 0 125px,#03f 0 126px,#00f 0 127px,#05f 0 129px,#02f 0 130px,#0cf 0 131px,#1ee 0 132px,#05f 0 134px,#01f 0 135px,#04f 0 136px,#00c 0 137px,#00e 0 138px,#00f 0 140px,#0bf 0 141px,#00e 0 142px,#1ee 0 143px,#02f 0 145px,#06f 0 146px,#00c 0 147px,#06f 0 148px,#01f 0 149px,#04f 0 151px,#00b 0 152px,#00f 0 153px,#00c 0 154px,#04f 0 156px,#00f 0 157px,#0cf 0 158px,#01f 0 159px,#00e 0 160px,#00b 0 162px,#02f 0 163px,#0df 0 164px,#00e 0 165px,#00f 0 167px,#02f 0 168px,#00b 0 169px,#02f 0 170px,#00f 0 173px,#00c 0 174px,#01f 0 175px,#06f 0 176px,#08f 0 178px,#09f 0 179px,#01f 0 180px,#04f 0 181px,#01f 0 183px,#00c 0 184px,#04f 0 185px,#06f 0 186px,#04f 0 187px,#03f 0 189px,#09f 0 190px,#00b 0 191px,#01f 0 192px,#02f 0 194px,#00f 0 195px,#06f 0 196px,#07f 0 197px,#09f 0 200px,#03f 0 201px,#00f 0 202px,#01f 0 203px,#00f 0 205px,#009 0 206px,#03f 0 207px,#02f 0 208px,#00d 0 209px,#00f 0 211px,#04f 0 212px,#00a 0 213px,#08f 0 214px,#03f 0 216px,#09f 0 217px,#0af 0 218px,#0cf 0 219px,#07f 0 221px,#03f 0 223px,#02f 0 224px,#00f 0 225px,#1ee 0 227px,#02f 0 228px,#09f 0 229px,#08f 0 230px,#01f 0 232px,#0cf 0 233px,#00e 0 234px,#04f 0 236px,#00f 0 239px,#01f 0 240px,#00d 0 241px,#02f 0 244px,#05f 0 245px,#00f 0 246px,#02f 0 247px,#00d 0 250px,#09f 0 251px,#1ee 0 252px,#01f 0 254px,#1ee 0 255px,#00f 0 256px,#00c 0 257px,#07f 0 258px,#01f 0 260px,#00e 0 261px,#02f 0 262px,#00d 0 265px,#00f 0 267px,#02f 0 270px,#06f 0 271px,#00e 0 272px,#0cf 0 273px,#01f 0 274px,#0af 0 276px,#00c 0 277px,#05f 0 278px,#09f 0 279px,#03f 0 281px,#00f 0 282px,#00b 0 283px,#01f 0 284px,#06f 0 285px,#0bf 0 287px,#01f 0 288px,#06f 0 289px,#00d 0 290px,#07f 0 292px,#00f 0 293px,#09f 0 294px,#0cf 0 295px,#04f 0 296px,#00e 0 298px,#00b 0 299px,#00e 0 300px,#1ee 0 301px,#02f 0 303px,#0bf 0 304px,#5fa 0 305px,#00f 0 306px,#03f 0 307px,#00d 0 309px,#02f 0 310px,#3fb 0 311px,#01f 0 312px,#0cf 0 314px,#01f 0 315px,#05f 0 316px,#03f 0 317px,#0cf 0 318px,#03f 0 320px,#00f 0 321px,#04f 0 325px,#00e 0 326px,#00f 0 327px,#1fd 0 328px,#05f 0 331px,#0bf 0 332px,#04f 0 333px,#05f 0 334px,#01f 0 337px,#07f 0 338px,#00e 0 339px,#009 0 341px,#08f 0 343px,#0cf 0 344px,#01f 0 345px,#00d 0 347px,#06f 0 348px,#1fd 0 349px,#00f 0 350px,#2fc 0 353px,#04f 0 354px,#0cf 0 356px,#04f 0 358px,#07f 0 359px,#04f 0 360px,#2fc 0 361px,#0df 0 363px,#05f 0 364px,#0bf 0 365px,#05f 0 366px,#07f 0 368px,#02f 0 369px,#0df 0 370px,#04f 0 371px,#00f 0 372px,#06f 0 374px,#01f 0 375px,#09f 0 376px,#06f 0 377px,#2fc 0 379px,#08f 0 380px,#0df 0 381px,#0cf 0 382px,#00a 0 383px,#3fb 0 385px,#02f 0 386px,#03f 0 387px,#05f 0 388px,#04f 0 390px,#00e 0 391px,#0cf 0 392px,#1fd 0 393px,#0bf 0 394px,#1ee 0 397px,#07f 0 398px,#03f 0 399px,#00f 0 401px,#04f 0 402px,#2fc 0 404px,#f30 0 405px,#1ee 0 407px,#6f8 0 408px,#06f 0 409px,#3fb 0 410px,#fa0 0 412px,#02f 0 413px,#07f 0 414px,#06f 0 415px,#04f 0 417px,#fe0 0 418px,#07f 0 419px,#0bf 0 420px,#6f8 0 421px,#07f 0 423px,#05f 0 424px,#07f 0 425px,#00d 0 426px,#6f8 0 428px,#f30 0 429px,#03f 0 430px,#0af 0 431px,#3fb 0 432px,#06f 0 434px,#f60 0 435px,#d00 0 436px,#800 0 437px,#f70 0 439px,#bf4 0 440px,#6f8 0 441px,#4fb 0 442px,#9f5 0 443px,#800 0 445px,#9f5 0 446px,#009 0 447px,#04f 0 448px,#fe0 0 450px,#800 0 451px,#3fb 0 452px,#f30 0 453px,#1fd 0 454px,#2fc 0 456px,#3fb 0 457px,#07f 0 458px,#6f8 0 459px,#f40 0 461px,#800 0 463px,#0bf 0 464px,#bf4 0 466px,#05f 0 467px,#fd0 0 468px,#800 0 472px,#f70 0 473px,#800 0 474px,#09f 0 475px,#07f 0 477px,#800 0 478px,#8f7 0 479px,#bf3 0 480px,#800 0 483px,#f90 0 484px,#800 0 485px,#5f9 0 486px,#ef1 0 488px,#800 0 490px)"></i><i style="left:126px;width:10px;background:linear-gradient(#00e 0 1px,#01f 0 2px,#00f 0 4px,#00d 0 5px,#03f 0 6px,#04f 0 7px,#00d 0 9px,#00f 0 10px,#00b 0 11px,#03f 0 12px,#00d 0 13px,#05f 0 15px,#00c 0 16px,#01f 0 17px,#00f 0 18px,#00d 0 20px,#00e 0 21px,#02f 0 22px,#05f 0 23px,#00f 0 24px,#00a 0 26px,#04f 0 27px,#4fb 0 28px,#00f 0 29px,#05f 0 31px,#00f 0 32px,#05f 0 33px,#0cf 0 34px,#00d 0 36px,#00a 0 37px,#00f 0 38px,#05f 0 39px,#00a 0 40px,#03f 0 42px,#00f 0 43px,#04f 0 44px,#06f 0 45px,#00f 0 47px,#03f 0 48px,#00f 0 50px,#01f 0 51px,#00b 0 53px,#0af 0 54px,#06f 0 55px,#0cf 0 56px,#00f 0 58px,#03f 0 59px,#00f 0 60px,#08f 0 61px,#02f 0 64px,#07f 0 65px,#00e 0 66px,#0af 0 67px,#03f 0 69px,#01f 0 70px,#0cf 0 71px,#00c 0 72px,#00f 0 74px,#06f 0 75px,#02f 0 76px,#03f 0 77px,#07f 0 78px,#09f 0 80px,#07f 0 81px,#02f 0 82px,#01f 0 83px,#00e 0 85px,#0bf 0 86px,#00c 0 87px,#06f 0 88px,#01f 0 91px,#03f 0 92px,#01f 0 93px,#00c 0 94px,#08f 0 96px,#01f 0 97px,#00c 0 98px,#05f 0 99px,#04f 0 100px,#00f 0 102px,#00d 0 103px,#00a 0 104px,#02f 0 105px,#04f 0 107px,#00c 0 108px,#05f 0 109px,#02f 0 110px,#00f 0 111px,#00e 0 113px,#03f 0 114px,#0af 0 116px,#00c 0 118px,#00f 0 120px,#00e 0 121px,#01f 0 123px,#02f 0 124px,#06f 0 125px,#0bf 0 126px,#02f 0 127px,#01f 0 129px,#02f 0 130px,#01f 0 131px,#0bf 0 132px,#07f 0 134px,#01f 0 135px,#07f 0 136px,#00c 0 137px,#00b 0 138px,#04f 0 140px,#02f 0 141px,#01f 0 142px,#0af 0 143px,#0cf 0 145px,#00f 0 149px,#0cf 0 151px,#00c 0 152px,#05f 0 153px,#00f 0 156px,#00e 0 157px,#0df 0 158px,#05f 0 159px,#00d 0 160px,#00a 0 162px,#04f 0 163px,#0cf 0 164px,#00f 0 170px,#00d 0 172px,#00f 0 173px,#00c 0 174px,#01f 0 175px,#03f 0 176px,#04f 0 178px,#00f 0 179px,#02f 0 180px,#09f 0 181px,#05f 0 183px,#00d 0 184px,#00f 0 185px,#01f 0 186px,#00f 0 187px,#05f 0 189px,#07f 0 190px,#09f 0 191px,#00e 0 192px,#01f 0 194px,#00f 0 195px,#02f 0 196px,#04f 0 197px,#02f 0 198px,#09f 0 200px,#02f 0 201px,#00f 0 202px,#01f 0 203px,#04f 0 205px,#00f 0 207px,#0df 0 208px,#00f 0 209px,#02f 0 212px,#00f 0 213px,#01f 0 214px,#00b 0 216px,#0af 0 217px,#00f 0 218px,#05f 0 219px,#03f 0 221px,#00e 0 222px,#05f 0 223px,#02f 0 225px,#06f 0 227px,#07f 0 228px,#05f 0 229px,#0df 0 230px,#05f 0 232px,#06f 0 233px,#01f 0 235px,#02f 0 236px,#07f 0 238px,#02f 0 239px,#00e 0 240px,#04f 0 241px,#01f 0 243px,#02f 0 244px,#04f 0 245px,#06f 0 246px,#01f 0 247px,#02f 0 249px,#00b 0 250px,#06f 0 251px,#07f 0 252px,#00f 0 254px,#00d 0 255px,#00f 0 256px,#00b 0 257px,#08f 0 258px,#0cf 0 260px,#00c 0 261px,#02f 0 262px,#00e 0 263px,#00f 0 265px,#01f 0 266px,#00b 0 267px,#05f 0 270px,#08f 0 272px,#1ee 0 273px,#00f 0 274px,#07f 0 276px,#03f 0 277px,#00c 0 278px,#01f 0 279px,#03f 0 281px,#00f 0 282px,#00e 0 283px,#02f 0 284px,#00e 0 285px,#07f 0 287px,#00f 0 288px,#1ee 0 289px,#03f 0 290px,#07f 0 292px,#00f 0 293px,#07f 0 294px,#0cf 0 295px,#00f 0 296px,#00e 0 298px,#00d 0 299px,#01f 0 300px,#0cf 0 301px,#04f 0 303px,#08f 0 304px,#5fa 0 305px,#01f 0 306px,#5fa 0 307px,#00c 0 309px,#3fb 0 310px,#03f 0 311px,#00f 0 312px,#09f 0 314px,#00c 0 315px,#06f 0 316px,#03f 0 318px,#00d 0 322px,#00f 0 323px,#06f 0 325px,#00f 0 326px,#00e 0 327px,#0bf 0 328px,#03f 0 330px,#01f 0 331px,#bf3 0 332px,#02f 0 333px,#03f 0 334px,#06f 0 336px,#05f 0 337px,#03f 0 338px,#00d 0 339px,#08f 0 341px,#00d 0 342px,#00f 0 343px,#08f 0 344px,#05f 0 347px,#06f 0 348px,#0bf 0 349px,#02f 0 350px,#07f 0 352px,#2fc 0 353px,#1ee 0 354px,#3fb 0 355px,#00b 0 356px,#02f 0 358px,#1fd 0 359px,#08f 0 360px,#bf3 0 361px,#9f5 0 363px,#0df 0 364px,#00e 0 365px,#00f 0 366px,#09f 0 368px,#02f 0 369px,#0cf 0 370px,#07f 0 371px,#09f 0 372px,#bf4 0 374px,#07f 0 375px,#04f 0 376px,#06f 0 377px,#6f8 0 379px,#00d 0 380px,#04f 0 381px,#0cf 0 382px,#09f 0 383px,#5fa 0 385px,#0cf 0 386px,#00f 0 387px,#08f 0 388px,#3fb 0 390px,#01f 0 391px,#02f 0 392px,#7f8 0 393px,#00c 0 394px,#5f9 0 396px,#01f 0 397px,#0bf 0 398px,#0df 0 399px,#09f 0 401px,#bf4 0 402px,#cf2 0 403px,#fa0 0 404px,#0cf 0 405px,#00e 0 407px,#d00 0 408px,#0af 0 409px,#04f 0 410px,#df1 0 412px,#1ee 0 413px,#0af 0 414px,#3fb 0 415px,#06f 0 417px,#df1 0 418px,#06f 0 419px,#0df 0 420px,#3fb 0 424px,#df1 0 425px,#08f 0 426px,#5fa 0 428px,#bf3 0 429px,#5f9 0 430px,#7f8 0 431px,#0bf 0 432px,#07f 0 434px,#0cf 0 435px,#f30 0 436px,#800 0 437px,#c00 0 439px,#f80 0 440px,#bf3 0 441px,#800 0 442px,#900 0 443px,#800 0 445px,#0af 0 446px,#01f 0 447px,#800 0 448px,#05f 0 450px,#6f8 0 451px,#3fb 0 452px,#1ee 0 453px,#800 0 454px,#bf4 0 456px,#800 0 458px,#4fb 0 459px,#7f8 0 461px,#5fa 0 462px,#800 0 463px,#bf4 0 464px,#f90 0 466px,#bf3 0 467px,#800 0 473px,#c00 0 474px,#800 0 477px,#c00 0 478px,#800 0 479px,#f30 0 480px,#800 0 481px,#fb0 0 483px,#800 0 490px)"></i><i style="left:136px;width:9px;background:linear-gradient(#00e 0 1px,#00f 0 2px,#03f 0 4px,#00d 0 5px,#06f 0 6px,#02f 0 7px,#00f 0 10px,#01f 0 11px,#00d 0 12px,#07f 0 13px,#03f 0 15px,#00d 0 16px,#07f 0 17px,#00f 0 18px,#00d 0 21px,#05f 0 22px,#03f 0 23px,#00f 0 26px,#01f 0 27px,#4fb 0 28px,#00f 0 31px,#01f 0 32px,#00b 0 33px,#01f 0 34px,#00e 0 36px,#03f 0 37px,#00d 0 38px,#09f 0 39px,#00c 0 40px,#0cf 0 42px,#00e 0 43px,#06f 0 44px,#03f 0 45px,#08f 0 47px,#05f 0 48px,#00f 0 49px,#03f 0 50px,#08f 0 51px,#00d 0 53px,#06f 0 54px,#00e 0 55px,#2fc 0 56px,#05f 0 58px,#00f 0 59px,#00d 0 60px,#03f 0 62px,#09f 0 64px,#01f 0 65px,#06f 0 66px,#00f 0 67px,#0bf 0 69px,#00d 0 70px,#07f 0 71px,#01f 0 72px,#05f 0 74px,#00d 0 75px,#02f 0 76px,#01f 0 77px,#05f 0 78px,#00f 0 80px,#02f 0 81px,#00d 0 82px,#00c 0 83px,#00f 0 85px,#0af 0 86px,#00c 0 87px,#05f 0 88px,#02f 0 89px,#00f 0 91px,#06f 0 92px,#01f 0 93px,#00b 0 94px,#02f 0 96px,#00c 0 97px,#00e 0 98px,#04f 0 99px,#00f 0 100px,#00c 0 102px,#00e 0 103px,#00f 0 104px,#00c 0 105px,#03f 0 107px,#00f 0 108px,#0bf 0 109px,#00d 0 110px,#0bf 0 111px,#00e 0 113px,#07f 0 114px,#0cf 0 115px,#2fc 0 116px,#00e 0 118px,#01f 0 119px,#00f 0 120px,#01f 0 121px,#04f 0 123px,#0df 0 124px,#06f 0 125px,#00f 0 126px,#02f 0 127px,#0cf 0 129px,#05f 0 130px,#02f 0 131px,#00f 0 132px,#0af 0 135px,#05f 0 136px,#00c 0 137px,#00a 0 138px,#04f 0 140px,#00e 0 141px,#00f 0 142px,#02f 0 143px,#0af 0 145px,#00d 0 146px,#04f 0 147px,#00f 0 148px,#00b 0 149px,#02f 0 151px,#00e 0 152px,#00f 0 156px,#00d 0 157px,#0cf 0 158px,#009 0 159px,#00a 0 160px,#00d 0 162px,#06f 0 163px,#1ee 0 164px,#00d 0 165px,#02f 0 167px,#00d 0 168px,#00f 0 169px,#03f 0 170px,#00b 0 172px,#05f 0 173px,#00d 0 174px,#03f 0 175px,#0df 0 176px,#0bf 0 178px,#00d 0 179px,#00c 0 180px,#06f 0 181px,#07f 0 183px,#03f 0 184px,#00d 0 185px,#07f 0 186px,#00c 0 187px,#04f 0 189px,#05f 0 190px,#0cf 0 191px,#00f 0 192px,#07f 0 194px,#00e 0 195px,#0af 0 196px,#01f 0 197px,#00f 0 198px,#08f 0 200px,#01f 0 201px,#00f 0 202px,#03f 0 203px,#04f 0 205px,#00f 0 207px,#0cf 0 208px,#06f 0 209px,#07f 0 211px,#04f 0 212px,#00e 0 213px,#00f 0 214px,#00e 0 216px,#05f 0 217px,#01f 0 218px,#2fc 0 219px,#05f 0 221px,#01f 0 222px,#00f 0 223px,#06f 0 224px,#1fd 0 225px,#06f 0 227px,#02f 0 228px,#0cf 0 229px,#0bf 0 230px,#03f 0 232px,#02f 0 233px,#04f 0 234px,#01f 0 236px,#06f 0 238px,#07f 0 239px,#00f 0 240px,#02f 0 241px,#00e 0 243px,#05f 0 244px,#00f 0 245px,#0bf 0 246px,#00f 0 247px,#04f 0 249px,#00f 0 250px,#09f 0 251px,#05f 0 252px,#0cf 0 254px,#00f 0 255px,#00e 0 256px,#00f 0 257px,#01f 0 258px,#08f 0 260px,#00f 0 263px,#01f 0 265px,#00f 0 266px,#00e 0 267px,#04f 0 268px,#0cf 0 270px,#06f 0 271px,#09f 0 272px,#0cf 0 273px,#00f 0 274px,#02f 0 277px,#00d 0 278px,#02f 0 281px,#04f 0 282px,#00f 0 283px,#00c 0 284px,#01f 0 285px,#09f 0 287px,#009 0 288px,#3fb 0 289px,#00b 0 290px,#0cf 0 292px,#00e 0 293px,#04f 0 294px,#03f 0 295px,#00f 0 296px,#02f 0 299px,#00e 0 300px,#03f 0 301px,#00c 0 303px,#06f 0 304px,#0cf 0 305px,#05f 0 306px,#5f9 0 307px,#00e 0 309px,#02f 0 310px,#04f 0 311px,#00e 0 312px,#0af 0 314px,#00c 0 315px,#06f 0 316px,#00f 0 317px,#00d 0 318px,#05f 0 320px,#00c 0 321px,#00b 0 322px,#01f 0 323px,#09f 0 325px,#01f 0 326px,#00f 0 327px,#0bf 0 328px,#01f 0 330px,#02f 0 331px,#cf2 0 332px,#0df 0 333px,#0cf 0 334px,#08f 0 336px,#00f 0 337px,#09f 0 338px,#00e 0 339px,#02f 0 341px,#01f 0 342px,#0bf 0 343px,#0cf 0 344px,#07f 0 345px,#02f 0 347px,#0bf 0 348px,#0af 0 349px,#00f 0 350px,#05f 0 352px,#1fd 0 353px,#07f 0 354px,#4fb 0 355px,#04f 0 356px,#01f 0 358px,#6f8 0 359px,#05f 0 360px,#1ee 0 361px,#08f 0 363px,#bf4 0 364px,#02f 0 365px,#03f 0 366px,#0cf 0 368px,#02f 0 369px,#08f 0 370px,#05f 0 371px,#1ee 0 372px,#07f 0 374px,#0cf 0 375px,#bf3 0 376px,#3fb 0 377px,#1fd 0 379px,#00f 0 380px,#03f 0 381px,#1ee 0 382px,#04f 0 383px,#0af 0 385px,#09f 0 386px,#02f 0 387px,#01f 0 388px,#00e 0 390px,#00b 0 391px,#03f 0 393px,#00b 0 394px,#f40 0 396px,#03f 0 397px,#df1 0 398px,#1ee 0 401px,#01f 0 402px,#08f 0 403px,#09f 0 404px,#0cf 0 405px,#04f 0 407px,#bf4 0 408px,#09f 0 409px,#04f 0 410px,#5f9 0 412px,#fe0 0 413px,#00b 0 414px,#2fc 0 415px,#6f8 0 417px,#05f 0 418px,#bf3 0 419px,#08f 0 420px,#9f5 0 421px,#08f 0 423px,#fe0 0 424px,#6f8 0 425px,#05f 0 426px,#2fc 0 428px,#800 0 429px,#0cf 0 430px,#03f 0 431px,#ef1 0 432px,#5f9 0 434px,#bf4 0 435px,#0bf 0 436px,#8f7 0 437px,#0bf 0 439px,#bf4 0 440px,#900 0 441px,#2fc 0 442px,#fb0 0 443px,#800 0 445px,#0cf 0 446px,#f30 0 447px,#800 0 448px,#07f 0 450px,#800 0 451px,#00f 0 452px,#00e 0 453px,#df1 0 454px,#cf2 0 456px,#8f6 0 457px,#800 0 458px,#08f 0 459px,#e00 0 461px,#af5 0 462px,#f80 0 463px,#800 0 464px,#7f8 0 466px,#8f6 0 467px,#fc0 0 468px,#1fd 0 469px,#09f 0 470px,#800 0 473px,#f50 0 474px,#800 0 479px,#3fb 0 480px,#800 0 481px,#c00 0 483px,#07f 0 484px,#800 0 490px)"></i><i style="left:145px;width:10px;background:linear-gradient(#06f 0 1px,#02f 0 2px,#01f 0 4px,#00f 0 6px,#02f 0 7px,#00f 0 9px,#00d 0 10px,#01f 0 11px,#03f 0 12px,#00f 0 13px,#01f 0 15px,#04f 0 16px,#00f 0 17px,#01f 0 18px,#00a 0 20px,#00f 0 21px,#03f 0 23px,#01f 0 24px,#04f 0 26px,#00e 0 27px,#1ee 0 28px,#00e 0 29px,#02f 0 31px,#00f 0 33px,#01f 0 34px,#03f 0 36px,#01f 0 37px,#00f 0 38px,#05f 0 39px,#00f 0 40px,#0cf 0 43px,#05f 0 44px,#0bf 0 45px,#0df 0 47px,#02f 0 48px,#00e 0 49px,#00f 0 50px,#05f 0 51px,#01f 0 53px,#00e 0 54px,#04f 0 55px,#08f 0 56px,#00d 0 58px,#01f 0 59px,#07f 0 60px,#04f 0 61px,#0cf 0 62px,#04f 0 64px,#00e 0 65px,#0af 0 66px,#01f 0 67px,#09f 0 69px,#05f 0 70px,#00c 0 71px,#02f 0 72px,#08f 0 74px,#05f 0 75px,#03f 0 76px,#02f 0 77px,#00c 0 78px,#00b 0 80px,#00f 0 82px,#00d 0 83px,#00f 0 85px,#07f 0 86px,#00e 0 87px,#04f 0 88px,#00f 0 91px,#07f 0 92px,#00e 0 93px,#02f 0 96px,#05f 0 97px,#00c 0 98px,#09f 0 99px,#00d 0 100px,#06f 0 102px,#05f 0 103px,#08f 0 104px,#00c 0 105px,#03f 0 107px,#01f 0 108px,#05f 0 109px,#00f 0 110px,#0bf 0 111px,#02f 0 113px,#03f 0 114px,#05f 0 115px,#0bf 0 116px,#0cf 0 118px,#06f 0 119px,#00c 0 120px,#00f 0 121px,#02f 0 123px,#2fc 0 124px,#02f 0 125px,#00e 0 126px,#05f 0 127px,#00e 0 129px,#01f 0 130px,#03f 0 132px,#07f 0 134px,#3fb 0 135px,#00c 0 138px,#06f 0 140px,#03f 0 141px,#00c 0 142px,#0af 0 143px,#03f 0 145px,#05f 0 146px,#00f 0 147px,#02f 0 148px,#01f 0 149px,#00e 0 151px,#03f 0 152px,#00c 0 153px,#09f 0 154px,#00f 0 157px,#0cf 0 158px,#00b 0 159px,#00a 0 160px,#02f 0 162px,#00d 0 163px,#0af 0 164px,#04f 0 165px,#00f 0 167px,#04f 0 168px,#01f 0 169px,#0cf 0 170px,#00c 0 172px,#0af 0 173px,#07f 0 174px,#05f 0 175px,#01f 0 176px,#04f 0 178px,#06f 0 179px,#00f 0 181px,#0cf 0 183px,#00f 0 184px,#06f 0 185px,#0cf 0 186px,#00e 0 187px,#04f 0 189px,#06f 0 190px,#0df 0 191px,#02f 0 192px,#0bf 0 194px,#02f 0 195px,#0af 0 196px,#03f 0 197px,#02f 0 198px,#00f 0 200px,#00e 0 202px,#00f 0 203px,#08f 0 205px,#00e 0 206px,#0cf 0 207px,#05f 0 208px,#09f 0 209px,#07f 0 211px,#01f 0 212px,#2fc 0 213px,#00e 0 214px,#02f 0 217px,#00d 0 218px,#0af 0 219px,#07f 0 221px,#00c 0 222px,#0cf 0 223px,#1fd 0 224px,#09f 0 225px,#04f 0 227px,#00e 0 228px,#07f 0 229px,#2fc 0 230px,#05f 0 232px,#01f 0 233px,#02f 0 234px,#05f 0 235px,#01f 0 236px,#00f 0 238px,#02f 0 240px,#00f 0 243px,#05f 0 244px,#02f 0 245px,#1fd 0 246px,#05f 0 247px,#02f 0 249px,#01f 0 250px,#1fd 0 251px,#00e 0 252px,#04f 0 256px,#00c 0 257px,#00f 0 258px,#05f 0 260px,#00e 0 262px,#04f 0 263px,#01f 0 265px,#05f 0 266px,#01f 0 267px,#3fb 0 268px,#0bf 0 270px,#02f 0 271px,#0cf 0 272px,#5f9 0 273px,#00f 0 274px,#03f 0 276px,#00d 0 277px,#00b 0 278px,#00f 0 279px,#04f 0 281px,#05f 0 282px,#01f 0 283px,#00f 0 285px,#3fb 0 287px,#04f 0 288px,#09f 0 289px,#00a 0 290px,#08f 0 292px,#00c 0 293px,#00f 0 294px,#05f 0 295px,#02f 0 296px,#06f 0 298px,#04f 0 299px,#0bf 0 300px,#03f 0 301px,#01f 0 303px,#05f 0 304px,#02f 0 305px,#05f 0 306px,#7f8 0 307px,#00c 0 309px,#0bf 0 310px,#06f 0 311px,#09f 0 312px,#00f 0 314px,#01f 0 315px,#1fd 0 316px,#0af 0 317px,#00d 0 318px,#05f 0 320px,#00c 0 321px,#02f 0 322px,#00e 0 323px,#7f8 0 325px,#05f 0 326px,#09f 0 327px,#07f 0 328px,#00f 0 330px,#01f 0 331px,#9f5 0 332px,#1fd 0 333px,#1ee 0 334px,#03f 0 336px,#01f 0 337px,#06f 0 338px,#00d 0 339px,#07f 0 341px,#00f 0 342px,#0cf 0 343px,#08f 0 344px,#00f 0 345px,#01f 0 347px,#09f 0 348px,#00e 0 349px,#00c 0 350px,#8f7 0 352px,#00f 0 353px,#06f 0 354px,#2fc 0 355px,#09f 0 356px,#00f 0 358px,#03f 0 359px,#06f 0 361px,#bf3 0 363px,#8f6 0 364px,#02f 0 365px,#0cf 0 366px,#02f 0 368px,#0cf 0 369px,#00f 0 370px,#0af 0 371px,#0bf 0 372px,#1fd 0 374px,#05f 0 375px,#1ee 0 376px,#06f 0 377px,#8f6 0 379px,#01f 0 380px,#cf2 0 381px,#4fb 0 382px,#00f 0 383px,#08f 0 385px,#00e 0 386px,#8f6 0 387px,#0bf 0 388px,#07f 0 390px,#6f8 0 391px,#03f 0 392px,#05f 0 393px,#00e 0 394px,#f20 0 396px,#05f 0 397px,#1ee 0 398px,#2fc 0 399px,#f50 0 401px,#00f 0 402px,#00e 0 403px,#7f8 0 404px,#1ee 0 405px,#00c 0 407px,#07f 0 408px,#2fc 0 409px,#00e 0 410px,#9f5 0 412px,#07f 0 413px,#00d 0 414px,#9f5 0 415px,#1fd 0 417px,#4fb 0 418px,#0cf 0 419px,#df1 0 420px,#8f6 0 421px,#f80 0 423px,#3fb 0 424px,#b00 0 425px,#3fb 0 426px,#fe0 0 428px,#c00 0 429px,#2fc 0 430px,#0cf 0 431px,#f50 0 432px,#800 0 434px,#1fd 0 435px,#07f 0 436px,#0cf 0 437px,#df1 0 439px,#03f 0 440px,#fe0 0 441px,#800 0 442px,#c00 0 443px,#f70 0 445px,#fb0 0 446px,#800 0 447px,#f40 0 448px,#6f8 0 450px,#800 0 451px,#0cf 0 452px,#009 0 453px,#b00 0 454px,#00e 0 456px,#0bf 0 457px,#f30 0 458px,#800 0 459px,#8f7 0 461px,#fa0 0 462px,#00f 0 463px,#800 0 464px,#f30 0 466px,#f60 0 467px,#800 0 469px,#bf4 0 470px,#800 0 472px,#fa0 0 473px,#800 0 478px,#0af 0 479px,#800 0 480px,#fe0 0 481px,#800 0 486px,#07f 0 488px,#800 0 490px)"></i><i style="left:155px;width:10px;background:linear-gradient(#02f 0 1px,#03f 0 2px,#0bf 0 4px,#01f 0 5px,#00b 0 6px,#00f 0 9px,#01f 0 10px,#08f 0 11px,#0cf 0 12px,#02f 0 13px,#00d 0 15px,#03f 0 16px,#05f 0 17px,#00c 0 20px,#00e 0 21px,#03f 0 22px,#0bf 0 23px,#00f 0 24px,#02f 0 26px,#00e 0 27px,#03f 0 28px,#01f 0 29px,#06f 0 31px,#00f 0 32px,#00d 0 33px,#05f 0 36px,#00b 0 37px,#00f 0 38px,#06f 0 39px,#00f 0 40px,#01f 0 42px,#06f 0 43px,#08f 0 44px,#0af 0 45px,#0cf 0 47px,#06f 0 48px,#00e 0 49px,#03f 0 50px,#04f 0 53px,#00e 0 54px,#00f 0 55px,#05f 0 56px,#00d 0 58px,#2fc 0 59px,#03f 0 60px,#00e 0 61px,#03f 0 62px,#00e 0 65px,#03f 0 66px,#02f 0 67px,#0af 0 69px,#04f 0 70px,#00b 0 71px,#0cf 0 72px,#00f 0 75px,#03f 0 76px,#05f 0 77px,#01f 0 78px,#00e 0 81px,#00f 0 82px,#00a 0 83px,#02f 0 85px,#07f 0 86px,#02f 0 87px,#01f 0 88px,#02f 0 89px,#04f 0 91px,#02f 0 92px,#00d 0 93px,#07f 0 94px,#04f 0 96px,#05f 0 97px,#03f 0 98px,#08f 0 99px,#01f 0 102px,#0bf 0 103px,#07f 0 104px,#00d 0 105px,#00e 0 108px,#00d 0 109px,#08f 0 110px,#09f 0 111px,#03f 0 113px,#01f 0 114px,#05f 0 115px,#4fb 0 116px,#07f 0 118px,#00f 0 119px,#00d 0 120px,#00c 0 121px,#08f 0 123px,#0af 0 124px,#00d 0 125px,#00c 0 126px,#01f 0 127px,#00f 0 129px,#05f 0 130px,#03f 0 131px,#00f 0 132px,#07f 0 134px,#4fb 0 135px,#00e 0 136px,#00c 0 137px,#00e 0 138px,#05f 0 140px,#06f 0 141px,#00b 0 142px,#1ee 0 143px,#02f 0 146px,#00f 0 147px,#00b 0 148px,#00e 0 149px,#03f 0 151px,#09f 0 152px,#05f 0 153px,#00f 0 154px,#00e 0 156px,#07f 0 157px,#06f 0 158px,#00e 0 159px,#00d 0 160px,#01f 0 162px,#08f 0 163px,#09f 0 164px,#00f 0 165px,#00c 0 167px,#08f 0 168px,#03f 0 169px,#01f 0 170px,#00e 0 172px,#04f 0 173px,#06f 0 174px,#03f 0 175px,#00f 0 176px,#01f 0 178px,#06f 0 179px,#03f 0 180px,#4fb 0 181px,#03f 0 183px,#0cf 0 184px,#00f 0 185px,#04f 0 186px,#01f 0 187px,#02f 0 189px,#00e 0 190px,#0bf 0 191px,#01f 0 192px,#08f 0 194px,#00e 0 195px,#02f 0 196px,#00f 0 197px,#00e 0 198px,#07f 0 200px,#01f 0 201px,#00f 0 202px,#0bf 0 203px,#07f 0 205px,#00f 0 206px,#01f 0 207px,#03f 0 208px,#0cf 0 209px,#0df 0 211px,#00c 0 212px,#0cf 0 213px,#00f 0 214px,#03f 0 216px,#08f 0 217px,#03f 0 218px,#08f 0 219px,#00f 0 221px,#00b 0 222px,#5fa 0 223px,#00f 0 224px,#0cf 0 225px,#05f 0 227px,#02f 0 229px,#0df 0 230px,#04f 0 232px,#08f 0 233px,#00e 0 234px,#06f 0 235px,#01f 0 236px,#00e 0 238px,#07f 0 239px,#00f 0 240px,#06f 0 241px,#00f 0 243px,#02f 0 244px,#00f 0 245px,#06f 0 246px,#0cf 0 247px,#02f 0 250px,#0af 0 252px,#01f 0 254px,#00f 0 258px,#06f 0 260px,#05f 0 261px,#00d 0 262px,#0cf 0 263px,#00d 0 265px,#04f 0 266px,#07f 0 267px,#00f 0 268px,#0df 0 270px,#08f 0 271px,#00f 0 272px,#0bf 0 273px,#00e 0 274px,#06f 0 276px,#00b 0 277px,#00e 0 279px,#03f 0 282px,#0af 0 283px,#02f 0 284px,#04f 0 285px,#0bf 0 287px,#07f 0 288px,#03f 0 289px,#00d 0 290px,#4fb 0 292px,#02f 0 293px,#07f 0 295px,#00f 0 296px,#07f 0 298px,#02f 0 299px,#0af 0 300px,#06f 0 301px,#0af 0 303px,#06f 0 304px,#00d 0 306px,#8f7 0 307px,#03f 0 309px,#00e 0 310px,#0cf 0 311px,#0af 0 312px,#00e 0 314px,#02f 0 315px,#04f 0 316px,#08f 0 317px,#00f 0 318px,#04f 0 321px,#00e 0 322px,#00f 0 323px,#bf3 0 325px,#00c 0 326px,#1fd 0 327px,#08f 0 328px,#00e 0 330px,#06f 0 331px,#09f 0 332px,#5fa 0 333px,#0cf 0 334px,#0bf 0 336px,#01f 0 337px,#0cf 0 338px,#0bf 0 339px,#0cf 0 341px,#5fa 0 342px,#0cf 0 343px,#0bf 0 344px,#04f 0 345px,#00d 0 347px,#9f5 0 348px,#03f 0 349px,#009 0 350px,#01f 0 352px,#00f 0 353px,#01f 0 354px,#06f 0 355px,#0df 0 356px,#01f 0 358px,#00d 0 359px,#00f 0 360px,#08f 0 361px,#4fb 0 363px,#0df 0 364px,#00f 0 365px,#1ee 0 366px,#0af 0 369px,#00e 0 370px,#0cf 0 371px,#08f 0 372px,#03f 0 374px,#0cf 0 376px,#01f 0 377px,#0bf 0 379px,#5f9 0 381px,#3fb 0 382px,#08f 0 383px,#2fc 0 385px,#04f 0 386px,#0bf 0 387px,#07f 0 388px,#00a 0 390px,#01f 0 391px,#00e 0 392px,#02f 0 393px,#06f 0 394px,#5fa 0 396px,#0bf 0 397px,#00e 0 398px,#03f 0 399px,#fe0 0 401px,#01f 0 402px,#00f 0 403px,#07f 0 405px,#4fb 0 407px,#00e 0 408px,#fe0 0 409px,#04f 0 410px,#ef1 0 412px,#0cf 0 413px,#01f 0 414px,#0cf 0 415px,#8f6 0 417px,#05f 0 418px,#4fb 0 419px,#00d 0 420px,#1fd 0 421px,#fd0 0 423px,#07f 0 424px,#0af 0 425px,#0cf 0 426px,#f70 0 428px,#fd0 0 429px,#04f 0 430px,#0cf 0 431px,#04f 0 432px,#ef1 0 434px,#fe0 0 435px,#800 0 436px,#fc0 0 437px,#09f 0 439px,#07f 0 440px,#1fd 0 441px,#6f8 0 442px,#800 0 443px,#0af 0 445px,#fd0 0 446px,#f80 0 447px,#05f 0 448px,#1fd 0 450px,#5fa 0 451px,#fb0 0 452px,#1fd 0 453px,#0cf 0 454px,#0af 0 456px,#5fa 0 457px,#3fb 0 458px,#800 0 459px,#03f 0 461px,#fe0 0 462px,#08f 0 463px,#b00 0 464px,#f60 0 466px,#800 0 469px,#5fa 0 470px,#800 0 472px,#900 0 473px,#800 0 474px,#fe0 0 475px,#0cf 0 477px,#800 0 483px,#a00 0 484px,#f20 0 485px,#800 0 486px,#fd0 0 488px,#d00 0 489px,#800 0 490px)"></i><i style="left:165px;width:9px;background:linear-gradient(#00d 0 1px,#02f 0 4px,#07f 0 5px,#01f 0 7px,#08f 0 9px,#00d 0 10px,#03f 0 11px,#0af 0 12px,#01f 0 13px,#00f 0 15px,#0af 0 16px,#00c 0 17px,#00b 0 20px,#02f 0 21px,#00e 0 22px,#04f 0 23px,#03f 0 24px,#00d 0 26px,#00e 0 27px,#07f 0 28px,#03f 0 29px,#00f 0 31px,#03f 0 32px,#00d 0 33px,#04f 0 34px,#05f 0 36px,#00f 0 37px,#03f 0 38px,#05f 0 39px,#00f 0 40px,#0cf 0 42px,#05f 0 43px,#07f 0 44px,#08f 0 47px,#0cf 0 48px,#00f 0 50px,#04f 0 51px,#01f 0 53px,#00e 0 54px,#04f 0 55px,#06f 0 56px,#00d 0 58px,#0bf 0 59px,#04f 0 60px,#03f 0 61px,#05f 0 62px,#00f 0 64px,#00d 0 65px,#00f 0 66px,#00c 0 67px,#08f 0 69px,#00f 0 70px,#00e 0 71px,#0bf 0 72px,#03f 0 74px,#04f 0 75px,#00f 0 76px,#08f 0 77px,#00f 0 80px,#00c 0 83px,#05f 0 85px,#2fc 0 86px,#00e 0 87px,#00f 0 88px,#00b 0 89px,#04f 0 91px,#06f 0 92px,#00f 0 93px,#01f 0 94px,#00d 0 96px,#03f 0 97px,#00f 0 98px,#5fa 0 99px,#00f 0 102px,#6f8 0 103px,#09f 0 104px,#01f 0 105px,#009 0 107px,#00d 0 108px,#00f 0 110px,#03f 0 111px,#00e 0 113px,#01f 0 114px,#03f 0 115px,#0cf 0 116px,#02f 0 118px,#05f 0 119px,#00b 0 120px,#00d 0 121px,#08f 0 123px,#02f 0 124px,#03f 0 125px,#00e 0 126px,#04f 0 127px,#0df 0 129px,#09f 0 130px,#0bf 0 131px,#00b 0 132px,#02f 0 134px,#08f 0 135px,#00d 0 136px,#00f 0 137px,#01f 0 138px,#0af 0 140px,#00d 0 141px,#0cf 0 142px,#09f 0 143px,#00c 0 145px,#01f 0 146px,#00d 0 147px,#00f 0 148px,#01f 0 149px,#02f 0 151px,#0af 0 152px,#06f 0 153px,#04f 0 154px,#00f 0 156px,#01f 0 157px,#09f 0 158px,#02f 0 159px,#00e 0 162px,#1ee 0 163px,#04f 0 164px,#00f 0 165px,#00e 0 167px,#00f 0 168px,#00d 0 169px,#00f 0 172px,#04f 0 173px,#02f 0 174px,#04f 0 175px,#00d 0 176px,#00f 0 178px,#06f 0 179px,#00e 0 180px,#07f 0 181px,#05f 0 183px,#07f 0 184px,#00f 0 185px,#02f 0 186px,#00e 0 187px,#00f 0 190px,#03f 0 191px,#07f 0 192px,#06f 0 194px,#00f 0 195px,#04f 0 196px,#03f 0 197px,#00e 0 198px,#0cf 0 200px,#00c 0 201px,#00e 0 202px,#0af 0 203px,#0cf 0 205px,#08f 0 206px,#01f 0 207px,#00f 0 208px,#5fa 0 209px,#06f 0 211px,#00f 0 212px,#04f 0 213px,#01f 0 214px,#06f 0 216px,#00d 0 217px,#01f 0 218px,#07f 0 219px,#00e 0 221px,#00b 0 222px,#5f9 0 223px,#08f 0 224px,#02f 0 225px,#04f 0 227px,#00f 0 228px,#04f 0 229px,#0bf 0 230px,#04f 0 232px,#09f 0 233px,#00f 0 234px,#1fd 0 235px,#07f 0 236px,#00e 0 238px,#07f 0 239px,#02f 0 240px,#04f 0 241px,#09f 0 243px,#03f 0 244px,#01f 0 245px,#07f 0 246px,#04f 0 247px,#00b 0 249px,#08f 0 250px,#03f 0 251px,#00d 0 252px,#03f 0 255px,#00f 0 256px,#05f 0 257px,#00e 0 258px,#0af 0 260px,#02f 0 261px,#01f 0 262px,#0bf 0 263px,#00f 0 265px,#0af 0 266px,#06f 0 267px,#04f 0 268px,#0cf 0 270px,#07f 0 271px,#0af 0 272px,#4fb 0 273px,#00c 0 274px,#07f 0 276px,#00b 0 277px,#00f 0 278px,#08f 0 279px,#06f 0 281px,#01f 0 282px,#5f9 0 283px,#04f 0 284px,#00e 0 285px,#00f 0 287px,#2fc 0 288px,#0af 0 289px,#03f 0 290px,#3fb 0 292px,#00c 0 293px,#0bf 0 294px,#07f 0 295px,#06f 0 296px,#0cf 0 298px,#01f 0 299px,#08f 0 300px,#00f 0 301px,#08f 0 303px,#09f 0 304px,#00f 0 305px,#00c 0 306px,#08f 0 307px,#00f 0 310px,#1fd 0 311px,#01f 0 312px,#06f 0 314px,#05f 0 315px,#4fb 0 316px,#7f8 0 317px,#0cf 0 318px,#0af 0 320px,#02f 0 321px,#00e 0 322px,#0df 0 323px,#df1 0 325px,#00f 0 326px,#1ee 0 327px,#0cf 0 328px,#01f 0 330px,#07f 0 331px,#0cf 0 332px,#3fb 0 333px,#00e 0 334px,#02f 0 336px,#00f 0 337px,#07f 0 338px,#02f 0 339px,#08f 0 341px,#9f5 0 342px,#07f 0 343px,#06f 0 344px,#8f6 0 345px,#0af 0 347px,#9f5 0 348px,#03f 0 349px,#02f 0 350px,#0bf 0 352px,#00f 0 353px,#7f8 0 354px,#9f5 0 355px,#07f 0 356px,#0bf 0 358px,#01f 0 359px,#04f 0 360px,#06f 0 361px,#0af 0 363px,#bf3 0 364px,#03f 0 366px,#0bf 0 368px,#0df 0 369px,#01f 0 370px,#5f9 0 371px,#01f 0 372px,#06f 0 374px,#8f6 0 375px,#1fd 0 376px,#00e 0 377px,#02f 0 379px,#8f6 0 380px,#0cf 0 381px,#00f 0 382px,#0cf 0 383px,#08f 0 385px,#04f 0 386px,#03f 0 387px,#009 0 388px,#00f 0 390px,#1ee 0 391px,#07f 0 392px,#02f 0 393px,#04f 0 394px,#8f7 0 396px,#6f8 0 397px,#5fa 0 398px,#07f 0 399px,#e00 0 401px,#00d 0 402px,#1ee 0 403px,#03f 0 404px,#01f 0 405px,#00f 0 407px,#0af 0 408px,#1ee 0 409px,#05f 0 412px,#8f6 0 413px,#02f 0 414px,#01f 0 415px,#07f 0 417px,#8f6 0 418px,#fe0 0 419px,#0cf 0 420px,#800 0 421px,#0cf 0 423px,#09f 0 424px,#f30 0 425px,#08f 0 426px,#9f5 0 428px,#3fb 0 429px,#0cf 0 430px,#800 0 431px,#fd0 0 432px,#800 0 434px,#6f8 0 435px,#8f6 0 436px,#0af 0 437px,#af5 0 439px,#8f6 0 440px,#00f 0 441px,#7f8 0 442px,#800 0 443px,#f70 0 445px,#f10 0 446px,#800 0 447px,#6f8 0 448px,#fb0 0 450px,#1fd 0 451px,#800 0 452px,#04f 0 453px,#800 0 454px,#f50 0 456px,#5f9 0 457px,#800 0 459px,#05f 0 461px,#cf2 0 462px,#6f8 0 463px,#f50 0 464px,#fd0 0 466px,#0df 0 467px,#800 0 468px,#0df 0 469px,#800 0 470px,#a00 0 472px,#800 0 474px,#900 0 475px,#800 0 490px)"></i><i style="left:174px;width:10px;background:linear-gradient(#00e 0 1px,#0af 0 2px,#04f 0 4px,#0bf 0 5px,#07f 0 6px,#00f 0 7px,#0cf 0 9px,#00e 0 10px,#0af 0 11px,#04f 0 12px,#07f 0 13px,#06f 0 15px,#07f 0 16px,#00b 0 17px,#00e 0 18px,#00f 0 20px,#0df 0 21px,#00e 0 22px,#03f 0 23px,#0cf 0 24px,#00f 0 27px,#04f 0 28px,#02f 0 29px,#00e 0 31px,#04f 0 32px,#01f 0 33px,#00e 0 34px,#00c 0 36px,#00f 0 37px,#04f 0 38px,#03f 0 39px,#00f 0 40px,#03f 0 43px,#06f 0 44px,#0cf 0 47px,#05f 0 48px,#00e 0 50px,#01f 0 53px,#03f 0 54px,#0df 0 55px,#02f 0 56px,#00f 0 58px,#01f 0 59px,#07f 0 60px,#0df 0 61px,#02f 0 62px,#01f 0 64px,#03f 0 65px,#04f 0 66px,#00f 0 67px,#2fc 0 69px,#08f 0 70px,#00e 0 71px,#0cf 0 72px,#05f 0 74px,#07f 0 75px,#00a 0 76px,#04f 0 77px,#00f 0 78px,#06f 0 80px,#03f 0 81px,#00f 0 82px,#00c 0 83px,#09f 0 85px,#0bf 0 86px,#04f 0 87px,#02f 0 88px,#00e 0 89px,#04f 0 91px,#07f 0 92px,#04f 0 93px,#00d 0 94px,#00f 0 96px,#02f 0 98px,#5f9 0 99px,#00e 0 100px,#00f 0 102px,#1fd 0 103px,#0bf 0 104px,#00e 0 105px,#00b 0 107px,#00f 0 108px,#08f 0 109px,#01f 0 110px,#08f 0 111px,#01f 0 113px,#00f 0 115px,#05f 0 116px,#00e 0 119px,#00d 0 120px,#07f 0 121px,#00f 0 123px,#00b 0 124px,#0cf 0 125px,#00c 0 126px,#01f 0 127px,#0cf 0 129px,#01f 0 130px,#05f 0 131px,#00c 0 132px,#03f 0 134px,#0cf 0 135px,#04f 0 136px,#06f 0 137px,#03f 0 138px,#0bf 0 140px,#00f 0 141px,#0af 0 142px,#0cf 0 143px,#00c 0 145px,#08f 0 146px,#03f 0 147px,#01f 0 148px,#03f 0 149px,#00f 0 151px,#02f 0 152px,#05f 0 153px,#1fd 0 154px,#04f 0 156px,#01f 0 157px,#0df 0 158px,#00d 0 159px,#00b 0 160px,#00f 0 162px,#4fb 0 163px,#01f 0 164px,#00f 0 165px,#00e 0 167px,#01f 0 168px,#00d 0 169px,#00f 0 172px,#04f 0 173px,#0af 0 174px,#00f 0 175px,#00c 0 176px,#00d 0 178px,#0af 0 179px,#00d 0 180px,#1fd 0 181px,#02f 0 183px,#09f 0 184px,#00f 0 185px,#00c 0 186px,#00f 0 187px,#08f 0 189px,#0bf 0 190px,#00f 0 191px,#04f 0 192px,#1ee 0 194px,#00f 0 195px,#02f 0 196px,#3fb 0 197px,#04f 0 198px,#2fc 0 200px,#0bf 0 201px,#04f 0 202px,#07f 0 203px,#03f 0 205px,#0cf 0 206px,#09f 0 207px,#07f 0 208px,#09f 0 209px,#04f 0 211px,#01f 0 212px,#07f 0 213px,#05f 0 214px,#0cf 0 216px,#06f 0 217px,#02f 0 218px,#06f 0 219px,#00c 0 221px,#00d 0 222px,#2fc 0 223px,#00e 0 224px,#06f 0 225px,#00d 0 227px,#00f 0 228px,#06f 0 229px,#09f 0 230px,#0cf 0 232px,#09f 0 233px,#07f 0 234px,#08f 0 235px,#0bf 0 236px,#00c 0 238px,#1fd 0 239px,#00e 0 240px,#00f 0 241px,#07f 0 243px,#00f 0 244px,#05f 0 246px,#07f 0 247px,#02f 0 249px,#1fd 0 250px,#04f 0 251px,#05f 0 252px,#0af 0 254px,#03f 0 255px,#00f 0 256px,#03f 0 257px,#00f 0 258px,#0df 0 260px,#04f 0 261px,#03f 0 262px,#4fb 0 263px,#02f 0 265px,#05f 0 266px,#00f 0 267px,#02f 0 268px,#af5 0 270px,#1fd 0 271px,#06f 0 272px,#07f 0 273px,#00f 0 274px,#02f 0 276px,#01f 0 277px,#00f 0 278px,#09f 0 279px,#6f8 0 281px,#00f 0 282px,#05f 0 283px,#1fd 0 284px,#00f 0 285px,#04f 0 287px,#1fd 0 288px,#1ee 0 289px,#00f 0 290px,#5fa 0 292px,#06f 0 293px,#8f6 0 294px,#02f 0 295px,#03f 0 298px,#05f 0 299px,#03f 0 300px,#04f 0 301px,#0df 0 303px,#5f9 0 304px,#05f 0 305px,#00f 0 306px,#03f 0 307px,#06f 0 309px,#00e 0 310px,#0cf 0 311px,#00f 0 312px,#06f 0 314px,#0df 0 315px,#06f 0 316px,#7f8 0 317px,#08f 0 318px,#09f 0 320px,#05f 0 321px,#01f 0 322px,#0bf 0 323px,#5f9 0 325px,#0cf 0 326px,#02f 0 327px,#07f 0 328px,#0df 0 330px,#04f 0 333px,#08f 0 334px,#05f 0 336px,#00b 0 337px,#09f 0 338px,#00f 0 339px,#01f 0 341px,#9f5 0 342px,#08f 0 343px,#00d 0 344px,#4fb 0 345px,#0cf 0 347px,#0bf 0 349px,#af5 0 350px,#0cf 0 352px,#01f 0 353px,#03f 0 354px,#1fd 0 355px,#9f5 0 356px,#1ee 0 358px,#05f 0 359px,#1fd 0 360px,#08f 0 361px,#05f 0 363px,#0bf 0 364px,#00c 0 365px,#1fd 0 366px,#1ee 0 368px,#0bf 0 369px,#01f 0 370px,#07f 0 371px,#0cf 0 374px,#9f5 0 375px,#cf2 0 376px,#00c 0 377px,#3fb 0 379px,#4fb 0 380px,#00e 0 381px,#03f 0 382px,#bf4 0 383px,#0bf 0 385px,#bf3 0 386px,#02f 0 387px,#05f 0 388px,#1fd 0 390px,#07f 0 391px,#02f 0 393px,#08f 0 394px,#3fb 0 396px,#09f 0 397px,#0cf 0 398px,#03f 0 399px,#f10 0 401px,#00f 0 402px,#02f 0 403px,#08f 0 404px,#02f 0 405px,#05f 0 407px,#0bf 0 408px,#0af 0 409px,#04f 0 410px,#3fb 0 412px,#0af 0 413px,#5fa 0 415px,#cf2 0 417px,#f60 0 418px,#03f 0 419px,#00f 0 420px,#bf4 0 421px,#fb0 0 423px,#1fd 0 424px,#f10 0 425px,#f70 0 426px,#07f 0 428px,#0cf 0 429px,#07f 0 430px,#f70 0 431px,#08f 0 432px,#3fb 0 434px,#05f 0 435px,#bf3 0 436px,#0af 0 437px,#af5 0 439px,#bf4 0 440px,#0df 0 441px,#8f6 0 442px,#00d 0 443px,#800 0 446px,#900 0 447px,#fb0 0 448px,#f70 0 450px,#0df 0 451px,#3fb 0 452px,#fb0 0 453px,#800 0 454px,#1ee 0 456px,#800 0 457px,#1fd 0 458px,#5fa 0 459px,#800 0 461px,#b00 0 462px,#800 0 463px,#df1 0 464px,#f50 0 466px,#b00 0 467px,#800 0 468px,#c00 0 469px,#800 0 472px,#fe0 0 473px,#fa0 0 474px,#b00 0 477px,#cf2 0 478px,#800 0 479px,#c00 0 480px,#800 0 484px,#f20 0 485px,#800 0 490px)"></i><i style="left:184px;width:10px;background:linear-gradient(#00f 0 1px,#02f 0 2px,#00e 0 4px,#05f 0 5px,#0af 0 6px,#02f 0 7px,#06f 0 9px,#05f 0 10px,#04f 0 11px,#03f 0 13px,#06f 0 15px,#03f 0 16px,#00b 0 17px,#00d 0 20px,#1ee 0 21px,#00c 0 22px,#00b 0 23px,#06f 0 24px,#00d 0 26px,#00f 0 27px,#08f 0 28px,#00f 0 29px,#06f 0 31px,#03f 0 32px,#00c 0 33px,#00e 0 34px,#0af 0 36px,#05f 0 37px,#04f 0 38px,#07f 0 39px,#03f 0 40px,#00f 0 43px,#05f 0 44px,#0cf 0 45px,#0bf 0 47px,#01f 0 48px,#00e 0 49px,#07f 0 50px,#04f 0 51px,#06f 0 53px,#02f 0 54px,#01f 0 55px,#02f 0 56px,#00d 0 58px,#02f 0 59px,#04f 0 60px,#1ee 0 61px,#06f 0 62px,#00d 0 64px,#08f 0 65px,#00f 0 66px,#06f 0 67px,#09f 0 69px,#00d 0 70px,#00e 0 71px,#0cf 0 72px,#00c 0 74px,#03f 0 75px,#00b 0 76px,#06f 0 77px,#03f 0 78px,#06f 0 80px,#00f 0 82px,#0cf 0 85px,#03f 0 86px,#0cf 0 87px,#06f 0 88px,#00b 0 89px,#1ee 0 91px,#09f 0 93px,#08f 0 94px,#00c 0 96px,#07f 0 97px,#09f 0 98px,#3fb 0 99px,#00a 0 100px,#00d 0 102px,#8f7 0 103px,#1ee 0 104px,#02f 0 105px,#00f 0 107px,#08f 0 108px,#01f 0 109px,#08f 0 110px,#00f 0 111px,#01f 0 113px,#04f 0 114px,#05f 0 115px,#00d 0 116px,#00f 0 118px,#00d 0 119px,#00f 0 120px,#03f 0 121px,#00f 0 124px,#07f 0 125px,#02f 0 126px,#00e 0 127px,#00f 0 130px,#02f 0 131px,#01f 0 132px,#00f 0 134px,#02f 0 135px,#09f 0 136px,#02f 0 137px,#03f 0 138px,#04f 0 141px,#09f 0 142px,#01f 0 143px,#02f 0 145px,#0af 0 146px,#05f 0 147px,#06f 0 148px,#04f 0 149px,#00e 0 151px,#06f 0 152px,#00f 0 153px,#07f 0 154px,#01f 0 156px,#05f 0 157px,#5f9 0 158px,#01f 0 159px,#00e 0 160px,#05f 0 162px,#09f 0 163px,#04f 0 164px,#00f 0 165px,#00e 0 167px,#01f 0 168px,#00e 0 169px,#01f 0 170px,#00b 0 172px,#00d 0 173px,#0cf 0 174px,#00b 0 176px,#01f 0 178px,#02f 0 180px,#5fa 0 181px,#06f 0 183px,#0df 0 184px,#06f 0 185px,#01f 0 186px,#00f 0 187px,#08f 0 189px,#1fd 0 190px,#09f 0 191px,#01f 0 192px,#0df 0 194px,#00d 0 195px,#08f 0 196px,#0cf 0 197px,#03f 0 198px,#1fd 0 200px,#0af 0 201px,#03f 0 202px,#0cf 0 203px,#02f 0 205px,#09f 0 206px,#0af 0 207px,#0cf 0 208px,#00f 0 212px,#08f 0 213px,#04f 0 214px,#07f 0 216px,#01f 0 217px,#00c 0 218px,#0cf 0 219px,#01f 0 221px,#00d 0 222px,#1fd 0 223px,#00d 0 224px,#00f 0 225px,#03f 0 228px,#0af 0 229px,#01f 0 230px,#00f 0 232px,#01f 0 233px,#08f 0 234px,#00f 0 235px,#00d 0 236px,#01f 0 238px,#0cf 0 239px,#00f 0 240px,#03f 0 241px,#2fc 0 243px,#03f 0 244px,#0bf 0 245px,#0df 0 246px,#04f 0 247px,#09f 0 249px,#05f 0 250px,#00c 0 251px,#04f 0 252px,#08f 0 254px,#02f 0 255px,#00e 0 256px,#03f 0 257px,#02f 0 258px,#08f 0 260px,#00f 0 261px,#0df 0 262px,#1ee 0 263px,#06f 0 265px,#0af 0 266px,#05f 0 267px,#00f 0 268px,#1ee 0 270px,#02f 0 271px,#06f 0 272px,#0cf 0 273px,#02f 0 276px,#09f 0 277px,#01f 0 278px,#0af 0 281px,#05f 0 282px,#01f 0 283px,#0cf 0 284px,#02f 0 285px,#05f 0 287px,#00d 0 288px,#01f 0 289px,#06f 0 290px,#0cf 0 292px,#05f 0 293px,#bf4 0 294px,#02f 0 295px,#4fb 0 296px,#04f 0 298px,#05f 0 299px,#04f 0 300px,#07f 0 301px,#2fc 0 303px,#3fb 0 304px,#00f 0 305px,#00c 0 306px,#02f 0 307px,#07f 0 309px,#00c 0 310px,#8f7 0 311px,#09f 0 312px,#0cf 0 314px,#0bf 0 315px,#0df 0 316px,#04f 0 317px,#05f 0 318px,#00c 0 320px,#05f 0 322px,#0af 0 323px,#0cf 0 325px,#05f 0 326px,#2fc 0 327px,#05f 0 328px,#04f 0 330px,#1fd 0 331px,#5fa 0 332px,#04f 0 333px,#2fc 0 334px,#04f 0 336px,#00b 0 337px,#07f 0 338px,#03f 0 339px,#5fa 0 341px,#9f5 0 342px,#09f 0 343px,#02f 0 344px,#06f 0 345px,#07f 0 347px,#08f 0 348px,#fe0 0 349px,#0af 0 350px,#00c 0 352px,#01f 0 353px,#00f 0 354px,#0cf 0 355px,#9f5 0 356px,#8f7 0 358px,#5fa 0 359px,#8f6 0 360px,#07f 0 361px,#05f 0 363px,#08f 0 364px,#00f 0 365px,#05f 0 366px,#03f 0 368px,#02f 0 369px,#05f 0 370px,#0cf 0 371px,#09f 0 372px,#0af 0 374px,#4fb 0 375px,#08f 0 376px,#0cf 0 377px,#fc0 0 379px,#0bf 0 380px,#2fc 0 381px,#07f 0 382px,#ef1 0 383px,#08f 0 385px,#2fc 0 386px,#04f 0 387px,#0af 0 388px,#5fa 0 390px,#03f 0 391px,#02f 0 392px,#00f 0 393px,#1fd 0 394px,#f20 0 396px,#02f 0 397px,#08f 0 398px,#07f 0 399px,#08f 0 401px,#0df 0 402px,#3fb 0 403px,#04f 0 404px,#cf2 0 405px,#0cf 0 407px,#fe0 0 408px,#07f 0 409px,#7f8 0 410px,#08f 0 412px,#01f 0 413px,#bf4 0 414px,#1ee 0 415px,#00e 0 417px,#0cf 0 418px,#df1 0 419px,#03f 0 420px,#0cf 0 423px,#800 0 425px,#fa0 0 426px,#09f 0 428px,#08f 0 430px,#f90 0 431px,#00a 0 432px,#07f 0 434px,#fe0 0 435px,#f90 0 436px,#009 0 437px,#03f 0 439px,#fe0 0 440px,#0bf 0 441px,#fe0 0 442px,#05f 0 443px,#07f 0 445px,#800 0 446px,#fe0 0 447px,#05f 0 448px,#04f 0 450px,#fd0 0 451px,#cf2 0 452px,#f30 0 453px,#3fb 0 454px,#05f 0 456px,#800 0 457px,#bf3 0 458px,#08f 0 459px,#3fb 0 461px,#08f 0 462px,#800 0 464px,#8f6 0 466px,#6f8 0 467px,#800 0 468px,#05f 0 469px,#e00 0 470px,#c00 0 472px,#1fd 0 473px,#5f9 0 474px,#800 0 478px,#f30 0 479px,#0bf 0 480px,#c00 0 481px,#800 0 483px,#fe0 0 484px,#e00 0 485px,#800 0 490px)"></i><i style="left:194px;width:10px;background:linear-gradient(#00f 0 2px,#01f 0 4px,#00e 0 5px,#06f 0 6px,#03f 0 7px,#02f 0 9px,#07f 0 10px,#0bf 0 11px,#08f 0 12px,#09f 0 13px,#00c 0 15px,#0af 0 16px,#00f 0 18px,#00b 0 20px,#05f 0 21px,#00e 0 23px,#09f 0 24px,#00a 0 26px,#00c 0 27px,#5f9 0 28px,#00c 0 29px,#08f 0 31px,#02f 0 32px,#01f 0 33px,#00d 0 34px,#03f 0 36px,#02f 0 37px,#0cf 0 39px,#05f 0 40px,#08f 0 42px,#00f 0 43px,#0bf 0 44px,#09f 0 45px,#1fd 0 47px,#0bf 0 48px,#03f 0 49px,#00b 0 50px,#00f 0 51px,#06f 0 53px,#00f 0 54px,#02f 0 55px,#07f 0 56px,#00d 0 58px,#06f 0 59px,#05f 0 60px,#1ee 0 61px,#05f 0 62px,#00e 0 64px,#04f 0 65px,#00d 0 66px,#03f 0 67px,#0bf 0 69px,#00e 0 70px,#00f 0 71px,#03f 0 72px,#01f 0 74px,#00f 0 75px,#00c 0 76px,#05f 0 77px,#0cf 0 78px,#06f 0 80px,#01f 0 81px,#05f 0 82px,#06f 0 83px,#0cf 0 85px,#07f 0 86px,#09f 0 87px,#1ee 0 88px,#00a 0 89px,#03f 0 91px,#05f 0 92px,#08f 0 93px,#00f 0 94px,#00e 0 96px,#08f 0 97px,#09f 0 98px,#2fc 0 99px,#00c 0 102px,#04f 0 103px,#07f 0 104px,#03f 0 105px,#00f 0 108px,#00e 0 109px,#07f 0 111px,#0af 0 113px,#05f 0 114px,#04f 0 115px,#05f 0 116px,#00f 0 120px,#01f 0 123px,#03f 0 124px,#00d 0 125px,#00e 0 126px,#00f 0 127px,#00e 0 129px,#05f 0 130px,#06f 0 131px,#08f 0 132px,#07f 0 134px,#04f 0 135px,#00f 0 136px,#05f 0 137px,#00f 0 138px,#03f 0 140px,#05f 0 141px,#03f 0 142px,#0cf 0 143px,#05f 0 145px,#2fc 0 146px,#06f 0 147px,#00f 0 148px,#06f 0 149px,#02f 0 152px,#0df 0 153px,#05f 0 154px,#03f 0 156px,#00f 0 157px,#08f 0 158px,#01f 0 159px,#00b 0 160px,#01f 0 162px,#08f 0 163px,#0cf 0 164px,#03f 0 165px,#00e 0 167px,#00c 0 168px,#02f 0 169px,#00f 0 170px,#00e 0 172px,#01f 0 173px,#02f 0 174px,#00f 0 175px,#01f 0 176px,#05f 0 178px,#04f 0 179px,#03f 0 180px,#06f 0 181px,#0cf 0 183px,#00f 0 184px,#07f 0 185px,#0df 0 186px,#00f 0 187px,#04f 0 189px,#1ee 0 190px,#05f 0 191px,#00f 0 192px,#00e 0 194px,#00f 0 195px,#1ee 0 196px,#09f 0 197px,#05f 0 198px,#07f 0 201px,#03f 0 202px,#06f 0 203px,#03f 0 205px,#08f 0 206px,#0df 0 207px,#06f 0 208px,#00e 0 209px,#0af 0 211px,#01f 0 212px,#05f 0 213px,#02f 0 214px,#00c 0 216px,#02f 0 217px,#00f 0 218px,#0bf 0 219px,#03f 0 221px,#00f 0 222px,#4fb 0 223px,#00b 0 224px,#00f 0 225px,#09f 0 227px,#00f 0 228px,#03f 0 229px,#00d 0 230px,#03f 0 232px,#00f 0 233px,#00e 0 234px,#01f 0 238px,#08f 0 239px,#00e 0 240px,#00f 0 241px,#1ee 0 243px,#05f 0 244px,#09f 0 245px,#0af 0 246px,#05f 0 247px,#04f 0 249px,#00f 0 250px,#00c 0 251px,#4fb 0 252px,#06f 0 254px,#0af 0 255px,#00c 0 256px,#06f 0 257px,#1fd 0 258px,#5f9 0 260px,#00c 0 261px,#04f 0 262px,#05f 0 263px,#0cf 0 265px,#0bf 0 266px,#07f 0 267px,#1ee 0 268px,#0cf 0 270px,#04f 0 271px,#02f 0 272px,#07f 0 273px,#00c 0 274px,#0df 0 276px,#0cf 0 277px,#06f 0 278px,#05f 0 279px,#00e 0 281px,#1ee 0 282px,#0df 0 283px,#0cf 0 284px,#08f 0 285px,#5fa 0 287px,#00e 0 288px,#09f 0 289px,#00f 0 290px,#0df 0 292px,#01f 0 293px,#3fb 0 294px,#01f 0 295px,#07f 0 296px,#1fd 0 298px,#03f 0 299px,#02f 0 300px,#03f 0 301px,#07f 0 303px,#0bf 0 305px,#00b 0 306px,#3fb 0 307px,#06f 0 309px,#00e 0 310px,#01f 0 311px,#03f 0 312px,#7f8 0 314px,#08f 0 315px,#2fc 0 316px,#03f 0 317px,#09f 0 318px,#03f 0 320px,#02f 0 321px,#09f 0 322px,#05f 0 323px,#7f8 0 325px,#0af 0 326px,#07f 0 327px,#4fb 0 328px,#0af 0 330px,#0cf 0 331px,#5f9 0 332px,#0bf 0 333px,#0df 0 334px,#2fc 0 336px,#04f 0 337px,#0df 0 338px,#06f 0 339px,#0df 0 341px,#9f5 0 342px,#04f 0 343px,#00d 0 344px,#06f 0 345px,#03f 0 347px,#08f 0 348px,#3fb 0 349px,#00f 0 350px,#00d 0 352px,#05f 0 353px,#00f 0 354px,#03f 0 355px,#5f9 0 356px,#0cf 0 358px,#0bf 0 359px,#09f 0 360px,#0cf 0 361px,#06f 0 363px,#07f 0 364px,#03f 0 366px,#06f 0 368px,#08f 0 369px,#5f9 0 370px,#00e 0 371px,#04f 0 372px,#3fb 0 374px,#cf2 0 375px,#0cf 0 376px,#00f 0 377px,#bf4 0 379px,#07f 0 380px,#06f 0 381px,#05f 0 382px,#1ee 0 383px,#0df 0 385px,#bf4 0 386px,#8f7 0 387px,#03f 0 388px,#08f 0 390px,#1fd 0 391px,#08f 0 392px,#00d 0 393px,#04f 0 394px,#01f 0 396px,#1ee 0 397px,#03f 0 398px,#02f 0 399px,#04f 0 401px,#bf4 0 402px,#0cf 0 403px,#04f 0 404px,#5fa 0 405px,#cf2 0 407px,#af5 0 408px,#4fb 0 409px,#04f 0 410px,#5f9 0 412px,#af5 0 413px,#fe0 0 414px,#2fc 0 415px,#00f 0 417px,#5f9 0 419px,#f70 0 420px,#8f7 0 421px,#0bf 0 423px,#df1 0 424px,#800 0 425px,#00d 0 426px,#0cf 0 428px,#02f 0 429px,#0cf 0 430px,#ef1 0 431px,#01f 0 432px,#fe0 0 434px,#00f 0 435px,#0bf 0 436px,#6f8 0 437px,#06f 0 439px,#800 0 440px,#bf3 0 441px,#8f7 0 442px,#00f 0 443px,#f30 0 445px,#06f 0 446px,#fe0 0 447px,#7f8 0 448px,#06f 0 450px,#04f 0 451px,#800 0 454px,#0bf 0 456px,#f60 0 457px,#800 0 459px,#0bf 0 461px,#f40 0 462px,#800 0 463px,#2fc 0 464px,#800 0 467px,#fd0 0 468px,#fb0 0 469px,#800 0 470px,#f80 0 472px,#0cf 0 473px,#5f9 0 474px,#800 0 475px,#00f 0 477px,#fe0 0 478px,#800 0 490px)"></i><i style="left:204px;width:9px;background:linear-gradient(#01f 0 1px,#07f 0 2px,#0cf 0 4px,#03f 0 5px,#07f 0 6px,#00c 0 7px,#00f 0 9px,#0bf 0 11px,#01f 0 13px,#06f 0 15px,#01f 0 16px,#00c 0 17px,#01f 0 18px,#00d 0 20px,#0bf 0 21px,#02f 0 22px,#00c 0 23px,#04f 0 24px,#009 0 26px,#00a 0 27px,#1ee 0 28px,#03f 0 29px,#05f 0 32px,#03f 0 33px,#00d 0 34px,#05f 0 36px,#04f 0 37px,#08f 0 38px,#09f 0 39px,#06f 0 40px,#0df 0 42px,#00d 0 43px,#03f 0 45px,#09f 0 47px,#02f 0 48px,#01f 0 49px,#00c 0 50px,#02f 0 51px,#08f 0 53px,#00e 0 54px,#08f 0 55px,#00f 0 56px,#00d 0 59px,#00b 0 60px,#1ee 0 61px,#02f 0 62px,#00b 0 64px,#00c 0 65px,#00e 0 67px,#3fb 0 69px,#00f 0 70px,#3fb 0 71px,#06f 0 72px,#0af 0 74px,#00d 0 75px,#00c 0 76px,#04f 0 77px,#0df 0 78px,#0bf 0 80px,#01f 0 81px,#00f 0 82px,#02f 0 83px,#00b 0 85px,#0af 0 86px,#06f 0 87px,#1ee 0 88px,#00c 0 89px,#00f 0 92px,#1ee 0 93px,#00f 0 94px,#03f 0 96px,#02f 0 97px,#0cf 0 98px,#0bf 0 99px,#03f 0 100px,#00b 0 102px,#0af 0 103px,#08f 0 104px,#01f 0 105px,#00e 0 107px,#0bf 0 108px,#00f 0 109px,#0df 0 110px,#03f 0 111px,#04f 0 113px,#00f 0 114px,#05f 0 116px,#03f 0 118px,#09f 0 119px,#00f 0 120px,#00d 0 121px,#01f 0 123px,#00e 0 124px,#00f 0 125px,#07f 0 126px,#00f 0 129px,#00c 0 130px,#02f 0 131px,#08f 0 132px,#02f 0 134px,#5f9 0 135px,#04f 0 136px,#1ee 0 137px,#05f 0 138px,#01f 0 140px,#00f 0 141px,#01f 0 142px,#07f 0 145px,#08f 0 147px,#05f 0 148px,#02f 0 149px,#05f 0 151px,#00f 0 152px,#0bf 0 153px,#01f 0 154px,#0af 0 156px,#00e 0 157px,#2fc 0 158px,#00f 0 159px,#00b 0 160px,#03f 0 162px,#00c 0 163px,#02f 0 164px,#09f 0 165px,#00e 0 168px,#0cf 0 169px,#00c 0 170px,#00f 0 172px,#5fa 0 173px,#00a 0 174px,#0af 0 175px,#00f 0 176px,#07f 0 178px,#08f 0 179px,#02f 0 180px,#00f 0 181px,#1fd 0 183px,#00e 0 184px,#0cf 0 185px,#1fd 0 186px,#00e 0 187px,#00f 0 189px,#0af 0 190px,#00f 0 191px,#05f 0 192px,#00f 0 194px,#03f 0 195px,#00d 0 196px,#02f 0 197px,#08f 0 200px,#03f 0 201px,#00e 0 202px,#02f 0 203px,#1ee 0 205px,#05f 0 206px,#3fb 0 207px,#0af 0 208px,#00d 0 209px,#00c 0 211px,#07f 0 212px,#00f 0 213px,#08f 0 214px,#00a 0 216px,#03f 0 217px,#00e 0 218px,#0df 0 219px,#09f 0 221px,#01f 0 222px,#03f 0 223px,#01f 0 224px,#00e 0 225px,#04f 0 227px,#03f 0 228px,#0bf 0 229px,#00b 0 230px,#0bf 0 232px,#00f 0 233px,#05f 0 234px,#0af 0 235px,#02f 0 236px,#03f 0 238px,#00d 0 239px,#08f 0 241px,#07f 0 243px,#0bf 0 244px,#08f 0 245px,#0bf 0 246px,#02f 0 247px,#0cf 0 249px,#00e 0 250px,#00c 0 251px,#0df 0 252px,#09f 0 254px,#0cf 0 255px,#02f 0 256px,#00f 0 257px,#5f9 0 258px,#0af 0 260px,#00f 0 261px,#03f 0 262px,#00f 0 263px,#03f 0 265px,#0bf 0 267px,#0df 0 270px,#06f 0 271px,#09f 0 272px,#00e 0 274px,#04f 0 276px,#3fb 0 277px,#04f 0 278px,#00f 0 279px,#0bf 0 281px,#0cf 0 282px,#1ee 0 283px,#02f 0 284px,#4fb 0 287px,#01f 0 288px,#08f 0 289px,#01f 0 290px,#0bf 0 292px,#06f 0 293px,#3fb 0 294px,#09f 0 295px,#00f 0 296px,#07f 0 298px,#01f 0 299px,#00f 0 300px,#03f 0 301px,#06f 0 303px,#00e 0 304px,#08f 0 305px,#02f 0 306px,#1ee 0 307px,#03f 0 309px,#00d 0 310px,#00f 0 311px,#05f 0 312px,#1fd 0 314px,#05f 0 315px,#7f8 0 317px,#08f 0 318px,#03f 0 320px,#08f 0 321px,#06f 0 322px,#00f 0 323px,#07f 0 325px,#08f 0 326px,#06f 0 327px,#04f 0 328px,#1ee 0 330px,#0df 0 331px,#0af 0 332px,#0bf 0 333px,#07f 0 334px,#6f8 0 336px,#1ee 0 337px,#07f 0 338px,#08f 0 339px,#0cf 0 341px,#09f 0 342px,#03f 0 343px,#06f 0 344px,#00f 0 345px,#0cf 0 347px,#00d 0 348px,#01f 0 349px,#08f 0 350px,#00e 0 352px,#06f 0 353px,#00b 0 354px,#0bf 0 355px,#6f8 0 356px,#ef1 0 358px,#02f 0 359px,#0bf 0 360px,#07f 0 363px,#04f 0 364px,#08f 0 365px,#00f 0 366px,#05f 0 368px,#5fa 0 369px,#1fd 0 370px,#00f 0 371px,#03f 0 372px,#0af 0 375px,#cf2 0 376px,#00f 0 377px,#bf3 0 379px,#0cf 0 380px,#0af 0 381px,#4fb 0 382px,#03f 0 383px,#02f 0 385px,#8f7 0 386px,#bf4 0 387px,#02f 0 388px,#00d 0 390px,#1fd 0 391px,#5fa 0 392px,#00d 0 393px,#6f8 0 394px,#01f 0 396px,#00f 0 397px,#0cf 0 398px,#0bf 0 401px,#fd0 0 402px,#bf3 0 403px,#09f 0 404px,#7f8 0 405px,#6f8 0 407px,#bf4 0 408px,#1fd 0 409px,#0df 0 410px,#00c 0 412px,#6f8 0 413px,#0cf 0 414px,#0af 0 415px,#1fd 0 417px,#5f9 0 418px,#00f 0 419px,#f60 0 420px,#800 0 421px,#9f5 0 423px,#5fa 0 424px,#0cf 0 425px,#01f 0 426px,#cf2 0 428px,#04f 0 429px,#0df 0 430px,#3fb 0 431px,#0cf 0 432px,#5f9 0 434px,#f40 0 435px,#cf2 0 436px,#f30 0 437px,#0cf 0 439px,#800 0 440px,#f10 0 441px,#f90 0 442px,#af5 0 443px,#fd0 0 445px,#8f7 0 446px,#f60 0 447px,#800 0 448px,#08f 0 450px,#0cf 0 451px,#fe0 0 452px,#e00 0 453px,#800 0 454px,#4fb 0 456px,#8f7 0 457px,#d00 0 458px,#bf4 0 459px,#04f 0 461px,#6f8 0 462px,#0cf 0 463px,#7f8 0 464px,#af5 0 466px,#df1 0 467px,#800 0 472px,#cf2 0 473px,#c00 0 474px,#800 0 478px,#3fb 0 479px,#800 0 480px,#f20 0 481px,#f80 0 483px,#fe0 0 484px,#800 0 490px)"></i><i style="left:213px;width:10px;background:linear-gradient(#0af 0 1px,#03f 0 2px,#08f 0 4px,#00f 0 5px,#09f 0 6px,#00f 0 7px,#08f 0 9px,#0cf 0 10px,#09f 0 11px,#00c 0 12px,#02f 0 13px,#04f 0 15px,#01f 0 16px,#00c 0 17px,#00e 0 21px,#00c 0 22px,#04f 0 23px,#08f 0 24px,#00d 0 26px,#00e 0 27px,#0bf 0 28px,#04f 0 29px,#00e 0 31px,#0af 0 32px,#06f 0 33px,#00e 0 34px,#06f 0 36px,#0cf 0 37px,#1fd 0 38px,#0af 0 39px,#05f 0 40px,#07f 0 42px,#00a 0 43px,#00b 0 44px,#00f 0 45px,#00e 0 47px,#06f 0 49px,#01f 0 50px,#09f 0 51px,#0af 0 53px,#01f 0 54px,#06f 0 55px,#00e 0 56px,#00c 0 58px,#07f 0 59px,#00f 0 60px,#05f 0 61px,#01f 0 62px,#00b 0 64px,#00d 0 65px,#00f 0 66px,#03f 0 67px,#09f 0 69px,#04f 0 70px,#07f 0 71px,#03f 0 72px,#0cf 0 74px,#00f 0 76px,#00c 0 77px,#0bf 0 78px,#1fd 0 80px,#04f 0 81px,#00f 0 82px,#05f 0 83px,#00f 0 85px,#09f 0 86px,#05f 0 87px,#0cf 0 88px,#00d 0 89px,#03f 0 91px,#04f 0 92px,#1ee 0 93px,#04f 0 94px,#08f 0 96px,#00d 0 97px,#06f 0 98px,#03f 0 99px,#00f 0 100px,#00c 0 102px,#5fa 0 103px,#03f 0 104px,#04f 0 105px,#00d 0 107px,#05f 0 108px,#06f 0 109px,#1ee 0 110px,#08f 0 111px,#04f 0 113px,#00c 0 114px,#00f 0 115px,#5fa 0 116px,#00e 0 118px,#06f 0 119px,#00f 0 121px,#06f 0 124px,#02f 0 125px,#07f 0 126px,#00f 0 127px,#01f 0 129px,#00e 0 130px,#00f 0 131px,#05f 0 132px,#04f 0 134px,#08f 0 135px,#02f 0 136px,#1ee 0 137px,#06f 0 138px,#00f 0 140px,#04f 0 141px,#03f 0 142px,#09f 0 143px,#00f 0 145px,#07f 0 146px,#06f 0 147px,#00f 0 149px,#07f 0 152px,#7f8 0 153px,#00f 0 154px,#07f 0 156px,#00e 0 157px,#06f 0 158px,#00f 0 159px,#00c 0 160px,#00e 0 162px,#02f 0 163px,#06f 0 164px,#02f 0 165px,#01f 0 167px,#00f 0 170px,#05f 0 172px,#04f 0 173px,#00c 0 174px,#00f 0 176px,#06f 0 178px,#03f 0 179px,#07f 0 180px,#04f 0 181px,#3fb 0 183px,#01f 0 184px,#0af 0 185px,#5f9 0 186px,#00d 0 187px,#00e 0 189px,#0bf 0 190px,#01f 0 191px,#06f 0 192px,#00f 0 195px,#07f 0 196px,#06f 0 197px,#0af 0 198px,#00f 0 200px,#0af 0 201px,#05f 0 202px,#04f 0 203px,#0bf 0 205px,#01f 0 206px,#2fc 0 207px,#00f 0 208px,#00d 0 211px,#03f 0 212px,#02f 0 213px,#09f 0 214px,#03f 0 216px,#04f 0 217px,#0cf 0 218px,#03f 0 219px,#00f 0 221px,#00e 0 222px,#07f 0 223px,#06f 0 224px,#00f 0 225px,#04f 0 227px,#03f 0 228px,#0cf 0 229px,#00a 0 230px,#0df 0 232px,#02f 0 233px,#03f 0 234px,#07f 0 235px,#01f 0 236px,#05f 0 238px,#01f 0 239px,#0cf 0 240px,#1fd 0 241px,#07f 0 243px,#0cf 0 244px,#00f 0 245px,#05f 0 246px,#00f 0 247px,#1fd 0 249px,#06f 0 250px,#00b 0 251px,#07f 0 252px,#1ee 0 254px,#09f 0 255px,#03f 0 256px,#05f 0 257px,#5f9 0 258px,#00f 0 260px,#09f 0 261px,#03f 0 262px,#01f 0 263px,#0cf 0 265px,#0bf 0 267px,#0cf 0 268px,#0df 0 270px,#00f 0 271px,#06f 0 272px,#02f 0 273px,#00f 0 274px,#07f 0 276px,#01f 0 277px,#0df 0 278px,#0af 0 281px,#01f 0 282px,#07f 0 283px,#02f 0 284px,#08f 0 287px,#00f 0 288px,#06f 0 290px,#0bf 0 292px,#05f 0 293px,#0bf 0 294px,#0cf 0 295px,#08f 0 296px,#02f 0 298px,#05f 0 299px,#00d 0 301px,#5fa 0 303px,#00f 0 304px,#00e 0 305px,#02f 0 306px,#0cf 0 307px,#00f 0 309px,#00c 0 310px,#00f 0 311px,#1ee 0 312px,#0cf 0 314px,#03f 0 315px,#1ee 0 316px,#0bf 0 317px,#08f 0 318px,#00f 0 320px,#09f 0 321px,#00b 0 322px,#07f 0 323px,#2fc 0 325px,#05f 0 326px,#07f 0 327px,#00f 0 328px,#06f 0 331px,#0bf 0 332px,#04f 0 333px,#4fb 0 334px,#0cf 0 336px,#07f 0 337px,#00e 0 338px,#07f 0 339px,#8f6 0 341px,#07f 0 342px,#0bf 0 343px,#00c 0 344px,#00f 0 345px,#07f 0 347px,#08f 0 348px,#00f 0 349px,#0bf 0 350px,#00d 0 352px,#00e 0 353px,#01f 0 354px,#0af 0 356px,#ef1 0 358px,#8f6 0 359px,#0df 0 360px,#0af 0 361px,#0cf 0 363px,#00f 0 364px,#09f 0 365px,#02f 0 366px,#8f7 0 368px,#00b 0 369px,#8f6 0 370px,#0bf 0 371px,#00f 0 372px,#00d 0 374px,#07f 0 375px,#8f7 0 376px,#0cf 0 377px,#ef1 0 379px,#5fa 0 380px,#2fc 0 381px,#0cf 0 382px,#03f 0 383px,#0cf 0 385px,#fb0 0 386px,#2fc 0 387px,#1ee 0 388px,#0bf 0 390px,#2fc 0 391px,#0cf 0 392px,#1fd 0 393px,#fd0 0 394px,#0bf 0 396px,#7f8 0 397px,#08f 0 399px,#00f 0 401px,#01f 0 402px,#02f 0 403px,#00f 0 404px,#8f7 0 405px,#6f8 0 407px,#7f8 0 408px,#0cf 0 409px,#0af 0 410px,#01f 0 412px,#1ee 0 413px,#9f5 0 414px,#03f 0 415px,#6f8 0 417px,#bf3 0 418px,#1fd 0 419px,#a00 0 420px,#f50 0 421px,#8f7 0 423px,#00f 0 424px,#2fc 0 425px,#e00 0 426px,#f70 0 428px,#0bf 0 429px,#00f 0 430px,#8f6 0 431px,#800 0 432px,#00e 0 434px,#6f8 0 435px,#f20 0 436px,#5fa 0 437px,#4fb 0 439px,#cf2 0 440px,#4fb 0 441px,#cf2 0 442px,#bf3 0 443px,#df1 0 445px,#f60 0 446px,#800 0 447px,#f20 0 448px,#800 0 450px,#fb0 0 451px,#0cf 0 452px,#00f 0 453px,#1ee 0 454px,#800 0 456px,#5f9 0 457px,#7f8 0 458px,#f30 0 459px,#c00 0 461px,#7f8 0 462px,#6f8 0 463px,#800 0 464px,#00e 0 466px,#0af 0 467px,#fd0 0 468px,#800 0 472px,#af5 0 473px,#ef1 0 474px,#800 0 480px,#af5 0 481px,#02f 0 483px,#800 0 484px,#06f 0 485px,#800 0 490px)"></i><i style="left:223px;width:10px;background:linear-gradient(#00f 0 1px,#00d 0 2px,#0cf 0 4px,#04f 0 5px,#00f 0 6px,#01f 0 7px,#04f 0 9px,#2fc 0 10px,#0bf 0 11px,#00e 0 12px,#0cf 0 13px,#03f 0 16px,#04f 0 17px,#02f 0 18px,#07f 0 20px,#01f 0 21px,#00a 0 22px,#01f 0 23px,#03f 0 24px,#02f 0 26px,#00e 0 27px,#02f 0 28px,#03f 0 29px,#01f 0 31px,#00e 0 32px,#06f 0 33px,#00f 0 34px,#05f 0 36px,#0cf 0 37px,#03f 0 38px,#00f 0 40px,#1fd 0 42px,#00f 0 43px,#00b 0 44px,#07f 0 45px,#00f 0 47px,#00b 0 48px,#04f 0 49px,#03f 0 50px,#01f 0 51px,#07f 0 53px,#02f 0 54px,#00f 0 55px,#06f 0 56px,#00e 0 58px,#3fb 0 59px,#02f 0 60px,#0cf 0 61px,#00c 0 62px,#0bf 0 64px,#00e 0 65px,#02f 0 66px,#00c 0 67px,#06f 0 69px,#0af 0 70px,#00f 0 72px,#07f 0 74px,#02f 0 75px,#00f 0 76px,#00b 0 77px,#0cf 0 78px,#05f 0 80px,#00e 0 81px,#03f 0 82px,#00d 0 83px,#00f 0 85px,#03f 0 86px,#06f 0 87px,#01f 0 88px,#05f 0 89px,#0cf 0 91px,#05f 0 92px,#04f 0 93px,#4fb 0 94px,#04f 0 96px,#00b 0 97px,#00c 0 98px,#02f 0 99px,#01f 0 100px,#00c 0 102px,#0bf 0 103px,#00c 0 104px,#00f 0 105px,#00c 0 107px,#04f 0 108px,#0bf 0 109px,#1fd 0 110px,#0cf 0 111px,#00f 0 113px,#05f 0 114px,#00d 0 115px,#04f 0 116px,#01f 0 118px,#00e 0 119px,#01f 0 120px,#0af 0 121px,#07f 0 123px,#0cf 0 124px,#04f 0 125px,#02f 0 126px,#05f 0 127px,#03f 0 129px,#00d 0 130px,#05f 0 131px,#07f 0 132px,#0af 0 134px,#03f 0 135px,#01f 0 136px,#0cf 0 137px,#08f 0 138px,#02f 0 140px,#04f 0 141px,#02f 0 142px,#00e 0 143px,#06f 0 145px,#08f 0 146px,#0cf 0 147px,#0bf 0 148px,#00d 0 149px,#06f 0 152px,#8f7 0 153px,#02f 0 154px,#00f 0 156px,#00d 0 157px,#0cf 0 158px,#00e 0 159px,#00c 0 160px,#02f 0 162px,#06f 0 163px,#05f 0 164px,#02f 0 167px,#00f 0 168px,#00e 0 169px,#01f 0 170px,#04f 0 172px,#02f 0 173px,#00d 0 175px,#06f 0 176px,#03f 0 178px,#00f 0 179px,#0cf 0 180px,#07f 0 181px,#05f 0 183px,#04f 0 184px,#00e 0 185px,#02f 0 186px,#00d 0 187px,#00f 0 189px,#0bf 0 190px,#07f 0 191px,#01f 0 192px,#00c 0 194px,#03f 0 195px,#00f 0 197px,#3fb 0 198px,#03f 0 200px,#05f 0 201px,#02f 0 203px,#09f 0 205px,#04f 0 206px,#0df 0 207px,#00c 0 208px,#01f 0 209px,#00d 0 211px,#08f 0 212px,#04f 0 213px,#00f 0 214px,#3fb 0 216px,#0bf 0 217px,#1ee 0 218px,#00f 0 219px,#00c 0 221px,#00e 0 222px,#09f 0 223px,#2fc 0 224px,#05f 0 225px,#02f 0 227px,#0df 0 228px,#05f 0 229px,#04f 0 230px,#07f 0 232px,#00e 0 233px,#08f 0 234px,#04f 0 235px,#00e 0 236px,#03f 0 239px,#0af 0 240px,#08f 0 241px,#05f 0 243px,#0cf 0 244px,#00b 0 245px,#02f 0 246px,#00e 0 247px,#0df 0 249px,#07f 0 250px,#00e 0 251px,#03f 0 252px,#5fa 0 254px,#02f 0 255px,#0af 0 256px,#0cf 0 257px,#01f 0 258px,#09f 0 260px,#05f 0 261px,#00c 0 262px,#06f 0 263px,#6f8 0 265px,#02f 0 266px,#05f 0 267px,#0cf 0 268px,#6f8 0 270px,#04f 0 271px,#00d 0 272px,#00e 0 273px,#03f 0 274px,#05f 0 276px,#00d 0 277px,#09f 0 278px,#05f 0 281px,#1ee 0 282px,#08f 0 283px,#00f 0 284px,#05f 0 285px,#07f 0 287px,#1ee 0 288px,#01f 0 289px,#00f 0 290px,#0bf 0 293px,#04f 0 294px,#5fa 0 295px,#0bf 0 296px,#03f 0 298px,#08f 0 299px,#01f 0 300px,#00c 0 301px,#0bf 0 303px,#00c 0 304px,#0af 0 305px,#03f 0 306px,#0af 0 307px,#04f 0 309px,#00f 0 310px,#00d 0 311px,#09f 0 312px,#0cf 0 314px,#00f 0 315px,#0cf 0 316px,#05f 0 317px,#0df 0 318px,#00b 0 320px,#09f 0 321px,#00a 0 322px,#0df 0 323px,#09f 0 325px,#04f 0 327px,#00c 0 328px,#7f8 0 330px,#0bf 0 331px,#06f 0 332px,#09f 0 336px,#03f 0 337px,#00e 0 338px,#06f 0 339px,#09f 0 341px,#0bf 0 342px,#0cf 0 343px,#02f 0 344px,#1ee 0 345px,#00e 0 347px,#06f 0 348px,#00e 0 349px,#3fb 0 350px,#01f 0 352px,#00b 0 353px,#05f 0 354px,#0af 0 355px,#08f 0 356px,#fe0 0 358px,#bf4 0 359px,#0af 0 360px,#5fa 0 361px,#0df 0 363px,#1ee 0 364px,#8f6 0 365px,#00e 0 366px,#05f 0 369px,#0bf 0 370px,#03f 0 371px,#01f 0 372px,#00e 0 374px,#02f 0 375px,#01f 0 376px,#0cf 0 377px,#f90 0 379px,#07f 0 380px,#02f 0 381px,#07f 0 382px,#0bf 0 383px,#05f 0 385px,#3fb 0 386px,#05f 0 387px,#00e 0 388px,#06f 0 390px,#0af 0 391px,#0cf 0 392px,#02f 0 393px,#7f8 0 394px,#0cf 0 396px,#02f 0 397px,#0bf 0 398px,#04f 0 399px,#09f 0 401px,#0af 0 402px,#0cf 0 403px,#bf3 0 404px,#0bf 0 405px,#8f7 0 407px,#fa0 0 408px,#08f 0 409px,#bf4 0 410px,#08f 0 412px,#5f9 0 413px,#2fc 0 414px,#08f 0 415px,#1fd 0 417px,#ef1 0 418px,#00e 0 419px,#800 0 420px,#5f9 0 421px,#cf2 0 423px,#06f 0 424px,#0cf 0 425px,#0df 0 426px,#00f 0 428px,#3fb 0 429px,#fd0 0 430px,#06f 0 431px,#f60 0 432px,#08f 0 434px,#0af 0 435px,#ef1 0 436px,#08f 0 437px,#2fc 0 439px,#800 0 441px,#f80 0 442px,#4fb 0 443px,#fa0 0 445px,#800 0 446px,#1ee 0 447px,#03f 0 448px,#bf4 0 450px,#fe0 0 451px,#900 0 452px,#bf3 0 453px,#f90 0 454px,#800 0 456px,#2fc 0 457px,#f20 0 458px,#03f 0 459px,#800 0 461px,#fe0 0 462px,#5f9 0 463px,#800 0 467px,#00f 0 468px,#5fa 0 469px,#a00 0 470px,#800 0 473px,#b00 0 474px,#800 0 481px,#f60 0 483px,#800 0 484px,#0cf 0 485px,#800 0 486px,#f50 0 488px,#800 0 490px)"></i><i style="left:233px;width:9px;background:linear-gradient(#06f 0 1px,#04f 0 2px,#05f 0 4px,#00f 0 6px,#0cf 0 7px,#07f 0 9px,#2fc 0 10px,#0bf 0 11px,#04f 0 12px,#00f 0 13px,#01f 0 15px,#00f 0 16px,#00b 0 17px,#00d 0 18px,#06f 0 20px,#00f 0 21px,#03f 0 22px,#04f 0 24px,#03f 0 26px,#00d 0 27px,#02f 0 28px,#03f 0 29px,#00f 0 31px,#03f 0 32px,#00c 0 33px,#00e 0 34px,#00c 0 36px,#09f 0 37px,#00f 0 38px,#05f 0 39px,#00b 0 40px,#06f 0 42px,#00f 0 43px,#00e 0 44px,#00f 0 45px,#01f 0 47px,#00f 0 48px,#05f 0 49px,#2fc 0 50px,#08f 0 51px,#01f 0 53px,#00f 0 54px,#09f 0 55px,#08f 0 56px,#05f 0 58px,#00f 0 59px,#04f 0 60px,#07f 0 61px,#09f 0 62px,#05f 0 64px,#02f 0 65px,#0bf 0 66px,#00f 0 67px,#1fd 0 69px,#0df 0 70px,#05f 0 71px,#00c 0 72px,#03f 0 74px,#04f 0 75px,#00c 0 76px,#00d 0 77px,#09f 0 78px,#08f 0 80px,#00b 0 81px,#02f 0 82px,#05f 0 83px,#00b 0 85px,#05f 0 86px,#00d 0 87px,#04f 0 89px,#03f 0 91px,#08f 0 92px,#01f 0 93px,#0cf 0 94px,#06f 0 96px,#00c 0 97px,#02f 0 98px,#04f 0 99px,#09f 0 100px,#00f 0 102px,#0cf 0 103px,#00f 0 104px,#00c 0 105px,#07f 0 107px,#08f 0 108px,#0df 0 109px,#03f 0 110px,#05f 0 111px,#00e 0 113px,#00f 0 115px,#0df 0 116px,#03f 0 118px,#00f 0 119px,#05f 0 120px,#08f 0 121px,#0bf 0 123px,#08f 0 124px,#02f 0 125px,#01f 0 126px,#03f 0 127px,#01f 0 129px,#00d 0 130px,#00c 0 131px,#04f 0 132px,#00f 0 134px,#07f 0 135px,#05f 0 136px,#0af 0 137px,#07f 0 138px,#01f 0 140px,#04f 0 141px,#01f 0 142px,#00e 0 143px,#08f 0 145px,#00d 0 146px,#01f 0 147px,#04f 0 148px,#00a 0 149px,#06f 0 151px,#01f 0 152px,#7f8 0 153px,#01f 0 156px,#03f 0 157px,#07f 0 158px,#03f 0 159px,#05f 0 160px,#0cf 0 163px,#08f 0 164px,#02f 0 165px,#00f 0 167px,#00d 0 168px,#00c 0 169px,#06f 0 170px,#00f 0 172px,#07f 0 173px,#05f 0 174px,#00f 0 175px,#01f 0 176px,#02f 0 178px,#00c 0 179px,#08f 0 180px,#02f 0 181px,#00e 0 183px,#1fd 0 184px,#05f 0 185px,#02f 0 187px,#03f 0 189px,#1ee 0 190px,#0bf 0 191px,#02f 0 192px,#00d 0 194px,#0bf 0 195px,#00e 0 196px,#02f 0 197px,#08f 0 200px,#0af 0 201px,#0df 0 202px,#02f 0 203px,#0af 0 205px,#08f 0 206px,#07f 0 207px,#00c 0 208px,#03f 0 209px,#01f 0 211px,#00f 0 212px,#01f 0 213px,#00f 0 214px,#0af 0 216px,#08f 0 217px,#4fb 0 218px,#00c 0 219px,#00e 0 222px,#05f 0 223px,#1ee 0 224px,#0bf 0 225px,#0df 0 228px,#05f 0 229px,#06f 0 230px,#09f 0 232px,#00f 0 233px,#06f 0 234px,#02f 0 235px,#00f 0 236px,#02f 0 238px,#06f 0 239px,#09f 0 240px,#00f 0 241px,#06f 0 243px,#5f9 0 244px,#00b 0 245px,#01f 0 246px,#00d 0 247px,#0cf 0 249px,#06f 0 250px,#09f 0 251px,#00a 0 252px,#3fb 0 254px,#09f 0 255px,#06f 0 256px,#03f 0 257px,#06f 0 258px,#07f 0 260px,#05f 0 261px,#00d 0 262px,#03f 0 263px,#1fd 0 265px,#08f 0 266px,#00f 0 267px,#01f 0 268px,#05f 0 270px,#00f 0 271px,#01f 0 272px,#1ee 0 273px,#07f 0 274px,#05f 0 276px,#00f 0 277px,#08f 0 278px,#0cf 0 279px,#07f 0 281px,#05f 0 282px,#0cf 0 283px,#3fb 0 284px,#05f 0 285px,#09f 0 287px,#02f 0 288px,#00f 0 289px,#03f 0 290px,#1ee 0 292px,#0df 0 293px,#04f 0 294px,#0bf 0 295px,#bf4 0 296px,#02f 0 298px,#01f 0 300px,#00f 0 301px,#0cf 0 303px,#00f 0 304px,#0af 0 305px,#0bf 0 306px,#04f 0 307px,#05f 0 309px,#01f 0 310px,#00f 0 311px,#1ee 0 312px,#06f 0 314px,#02f 0 315px,#04f 0 316px,#01f 0 317px,#08f 0 318px,#00f 0 320px,#07f 0 321px,#01f 0 322px,#09f 0 323px,#8f6 0 325px,#04f 0 326px,#02f 0 327px,#00d 0 328px,#0bf 0 331px,#08f 0 332px,#07f 0 333px,#04f 0 334px,#08f 0 336px,#0bf 0 337px,#00d 0 338px,#08f 0 339px,#07f 0 341px,#0bf 0 342px,#05f 0 344px,#04f 0 347px,#00e 0 348px,#00a 0 349px,#7f8 0 350px,#05f 0 352px,#00f 0 353px,#0cf 0 354px,#03f 0 355px,#05f 0 356px,#8f6 0 358px,#0df 0 359px,#04f 0 360px,#0cf 0 361px,#cf2 0 363px,#08f 0 364px,#6f8 0 365px,#02f 0 366px,#07f 0 368px,#2fc 0 369px,#5f9 0 370px,#06f 0 371px,#00f 0 372px,#0cf 0 374px,#09f 0 375px,#00d 0 376px,#06f 0 377px,#0af 0 379px,#00f 0 380px,#08f 0 381px,#0af 0 382px,#09f 0 383px,#00c 0 385px,#01f 0 386px,#0df 0 387px,#09f 0 388px,#0bf 0 390px,#bf4 0 391px,#05f 0 392px,#0cf 0 393px,#6f8 0 394px,#8f6 0 396px,#fd0 0 397px,#02f 0 398px,#00f 0 399px,#07f 0 401px,#0bf 0 402px,#05f 0 403px,#09f 0 404px,#0cf 0 405px,#fc0 0 407px,#8f7 0 408px,#04f 0 409px,#f90 0 410px,#bf4 0 412px,#f60 0 413px,#04f 0 414px,#5f9 0 415px,#07f 0 417px,#fe0 0 418px,#af5 0 419px,#800 0 421px,#fe0 0 423px,#1fd 0 424px,#6f8 0 425px,#800 0 426px,#01f 0 428px,#5f9 0 429px,#2fc 0 430px,#bf3 0 431px,#fb0 0 432px,#7f8 0 434px,#6f8 0 435px,#0cf 0 436px,#8f6 0 437px,#07f 0 439px,#800 0 440px,#900 0 441px,#d00 0 442px,#9f5 0 443px,#5fa 0 445px,#800 0 447px,#f50 0 448px,#0df 0 450px,#0bf 0 451px,#1fd 0 452px,#f70 0 453px,#800 0 454px,#fb0 0 456px,#8f6 0 457px,#06f 0 458px,#af5 0 459px,#800 0 462px,#0df 0 463px,#a00 0 464px,#af5 0 466px,#f70 0 467px,#8f6 0 468px,#b00 0 469px,#5f9 0 470px,#800 0 472px,#00f 0 473px,#c00 0 474px,#800 0 475px,#fa0 0 477px,#800 0 478px,#900 0 479px,#800 0 480px,#fd0 0 481px,#8f7 0 483px,#800 0 484px,#9f5 0 485px,#800 0 486px,#8f6 0 488px,#800 0 490px)"></i><i style="left:242px;width:10px;background:linear-gradient(#02f 0 1px,#06f 0 2px,#0af 0 4px,#02f 0 5px,#00f 0 6px,#01f 0 7px,#03f 0 9px,#09f 0 10px,#04f 0 11px,#0af 0 12px,#00c 0 13px,#1ee 0 15px,#00f 0 16px,#00e 0 17px,#01f 0 18px,#06f 0 20px,#01f 0 21px,#00f 0 22px,#08f 0 23px,#04f 0 24px,#00d 0 27px,#0af 0 28px,#03f 0 29px,#00f 0 31px,#0af 0 32px,#00e 0 33px,#02f 0 34px,#00c 0 36px,#03f 0 37px,#04f 0 38px,#07f 0 39px,#03f 0 40px,#09f 0 42px,#02f 0 43px,#00c 0 44px,#07f 0 45px,#01f 0 47px,#02f 0 49px,#0df 0 50px,#02f 0 51px,#01f 0 53px,#00e 0 54px,#05f 0 55px,#00f 0 56px,#08f 0 58px,#01f 0 59px,#02f 0 60px,#0cf 0 61px,#1fd 0 62px,#0cf 0 64px,#03f 0 65px,#0cf 0 66px,#00e 0 67px,#05f 0 69px,#03f 0 70px,#07f 0 71px,#00b 0 72px,#05f 0 74px,#02f 0 76px,#06f 0 77px,#07f 0 78px,#00c 0 80px,#00d 0 81px,#00b 0 82px,#03f 0 83px,#01f 0 85px,#07f 0 86px,#01f 0 87px,#09f 0 88px,#01f 0 89px,#00e 0 91px,#00f 0 92px,#00b 0 93px,#2fc 0 94px,#00e 0 96px,#00f 0 98px,#03f 0 99px,#08f 0 100px,#06f 0 102px,#5f9 0 103px,#00e 0 104px,#02f 0 105px,#00f 0 107px,#02f 0 108px,#0df 0 109px,#00f 0 110px,#01f 0 111px,#00c 0 113px,#00f 0 114px,#03f 0 115px,#09f 0 116px,#08f 0 118px,#00f 0 120px,#01f 0 121px,#0af 0 123px,#08f 0 124px,#00f 0 127px,#00b 0 129px,#01f 0 130px,#03f 0 131px,#00d 0 132px,#00e 0 134px,#0df 0 135px,#5f9 0 136px,#05f 0 137px,#00c 0 138px,#07f 0 140px,#00f 0 141px,#03f 0 142px,#00f 0 145px,#00e 0 146px,#00f 0 147px,#04f 0 148px,#00d 0 149px,#07f 0 151px,#00f 0 152px,#0cf 0 153px,#01f 0 154px,#03f 0 156px,#0cf 0 157px,#0af 0 158px,#00e 0 159px,#05f 0 160px,#0cf 0 162px,#09f 0 163px,#08f 0 164px,#00f 0 165px,#02f 0 167px,#03f 0 168px,#00c 0 169px,#00d 0 170px,#00b 0 172px,#07f 0 173px,#04f 0 174px,#06f 0 175px,#08f 0 176px,#00f 0 178px,#00b 0 179px,#1ee 0 180px,#06f 0 181px,#00d 0 183px,#00f 0 184px,#07f 0 185px,#03f 0 186px,#00e 0 187px,#00d 0 189px,#1fd 0 190px,#08f 0 191px,#0af 0 192px,#009 0 194px,#00e 0 195px,#01f 0 196px,#04f 0 197px,#01f 0 198px,#0af 0 200px,#00f 0 201px,#08f 0 202px,#1fd 0 205px,#01f 0 206px,#04f 0 207px,#00e 0 208px,#01f 0 209px,#04f 0 211px,#00b 0 212px,#05f 0 213px,#00f 0 214px,#8f7 0 216px,#00d 0 217px,#2fc 0 218px,#00e 0 219px,#00f 0 221px,#03f 0 222px,#05f 0 223px,#06f 0 224px,#0cf 0 225px,#02f 0 227px,#0cf 0 228px,#07f 0 229px,#0af 0 230px,#05f 0 232px,#01f 0 233px,#00e 0 234px,#00f 0 235px,#02f 0 236px,#03f 0 238px,#05f 0 239px,#07f 0 240px,#00e 0 241px,#0cf 0 243px,#6f8 0 244px,#00d 0 245px,#05f 0 246px,#00f 0 247px,#06f 0 249px,#0df 0 250px,#00e 0 251px,#00c 0 252px,#3fb 0 254px,#0bf 0 255px,#0df 0 256px,#07f 0 257px,#1ee 0 258px,#07f 0 260px,#05f 0 261px,#04f 0 263px,#05f 0 265px,#08f 0 266px,#00f 0 267px,#05f 0 268px,#03f 0 270px,#00f 0 271px,#00e 0 272px,#04f 0 273px,#01f 0 276px,#02f 0 277px,#09f 0 278px,#01f 0 279px,#03f 0 282px,#02f 0 283px,#08f 0 284px,#0af 0 285px,#5fa 0 287px,#09f 0 288px,#00e 0 289px,#02f 0 290px,#4fb 0 292px,#0bf 0 293px,#03f 0 294px,#07f 0 295px,#3fb 0 296px,#04f 0 298px,#00f 0 299px,#0cf 0 300px,#00f 0 301px,#06f 0 303px,#00b 0 304px,#03f 0 305px,#06f 0 306px,#05f 0 307px,#bf4 0 309px,#09f 0 310px,#00d 0 311px,#2fc 0 312px,#05f 0 314px,#00d 0 315px,#00e 0 316px,#06f 0 317px,#04f 0 318px,#09f 0 320px,#0cf 0 321px,#8f6 0 322px,#1ee 0 323px,#3fb 0 325px,#03f 0 326px,#05f 0 327px,#00c 0 328px,#07f 0 330px,#00d 0 331px,#0bf 0 332px,#0cf 0 333px,#04f 0 334px,#1ee 0 336px,#af5 0 337px,#0cf 0 338px,#03f 0 339px,#05f 0 341px,#0bf 0 342px,#8f6 0 343px,#2fc 0 344px,#01f 0 345px,#0bf 0 347px,#00e 0 348px,#00c 0 349px,#0cf 0 350px,#05f 0 352px,#02f 0 353px,#1ee 0 354px,#01f 0 355px,#09f 0 356px,#ef1 0 358px,#03f 0 359px,#00f 0 360px,#08f 0 361px,#0df 0 363px,#0bf 0 364px,#4fb 0 365px,#02f 0 366px,#5f9 0 368px,#0cf 0 369px,#09f 0 370px,#1fd 0 371px,#0af 0 372px,#06f 0 374px,#01f 0 375px,#09f 0 376px,#4fb 0 377px,#2fc 0 379px,#0df 0 380px,#05f 0 381px,#5fa 0 382px,#04f 0 383px,#00e 0 385px,#009 0 386px,#3fb 0 387px,#0bf 0 388px,#04f 0 390px,#4fb 0 391px,#05f 0 392px,#0cf 0 393px,#1ee 0 394px,#f40 0 396px,#af5 0 397px,#05f 0 398px,#5f9 0 399px,#06f 0 401px,#00d 0 402px,#06f 0 403px,#2fc 0 404px,#07f 0 405px,#1ee 0 407px,#0af 0 408px,#09f 0 409px,#f30 0 410px,#0bf 0 413px,#07f 0 414px,#03f 0 415px,#0df 0 417px,#00f 0 418px,#01f 0 419px,#1fd 0 420px,#800 0 421px,#ef1 0 423px,#8f6 0 424px,#09f 0 425px,#2fc 0 426px,#cf2 0 428px,#0df 0 429px,#8f7 0 430px,#00e 0 431px,#9f5 0 432px,#800 0 434px,#2fc 0 435px,#f60 0 436px,#7f8 0 437px,#8f7 0 439px,#03f 0 440px,#00e 0 441px,#1fd 0 442px,#f60 0 443px,#800 0 445px,#fc0 0 446px,#b00 0 447px,#800 0 448px,#0af 0 450px,#fd0 0 451px,#a00 0 452px,#5f9 0 453px,#0cf 0 454px,#fe0 0 456px,#800 0 459px,#f60 0 461px,#800 0 462px,#0cf 0 463px,#800 0 466px,#9f5 0 467px,#ef1 0 468px,#0cf 0 469px,#800 0 470px,#b00 0 472px,#800 0 473px,#fe0 0 474px,#800 0 479px,#f50 0 480px,#800 0 481px,#fc0 0 483px,#6f8 0 484px,#800 0 490px)"></i><i style="left:252px;width:10px;background:linear-gradient(#00d 0 1px,#0af 0 2px,#01f 0 4px,#00d 0 5px,#03f 0 6px,#00c 0 7px,#04f 0 9px,#05f 0 10px,#00f 0 11px,#09f 0 12px,#00f 0 13px,#07f 0 15px,#00f 0 16px,#00c 0 17px,#01f 0 18px,#00f 0 20px,#04f 0 21px,#03f 0 22px,#08f 0 23px,#03f 0 24px,#00f 0 27px,#09f 0 28px,#08f 0 29px,#00e 0 31px,#0bf 0 32px,#04f 0 36px,#00d 0 37px,#08f 0 38px,#03f 0 39px,#1ee 0 40px,#04f 0 42px,#00e 0 43px,#00f 0 44px,#05f 0 45px,#09f 0 47px,#1ee 0 48px,#03f 0 49px,#0df 0 50px,#03f 0 51px,#00f 0 54px,#09f 0 55px,#01f 0 58px,#08f 0 59px,#00d 0 60px,#0af 0 61px,#0df 0 62px,#00f 0 64px,#01f 0 65px,#05f 0 66px,#00f 0 67px,#1fd 0 69px,#06f 0 70px,#00f 0 72px,#09f 0 74px,#00e 0 76px,#02f 0 77px,#06f 0 78px,#00c 0 80px,#00d 0 81px,#00b 0 82px,#00e 0 83px,#02f 0 85px,#09f 0 86px,#06f 0 87px,#0cf 0 88px,#00f 0 89px,#00c 0 91px,#00e 0 92px,#02f 0 93px,#0af 0 94px,#00f 0 96px,#00c 0 97px,#01f 0 98px,#05f 0 99px,#07f 0 100px,#0cf 0 102px,#02f 0 103px,#00d 0 104px,#04f 0 105px,#00d 0 107px,#03f 0 108px,#0cf 0 109px,#01f 0 110px,#03f 0 111px,#00e 0 113px,#01f 0 114px,#00f 0 115px,#04f 0 116px,#0bf 0 118px,#00e 0 119px,#00f 0 120px,#00c 0 121px,#05f 0 123px,#02f 0 124px,#00d 0 125px,#00c 0 126px,#00f 0 129px,#08f 0 130px,#00c 0 131px,#05f 0 134px,#06f 0 135px,#1fd 0 136px,#0bf 0 137px,#00b 0 138px,#00a 0 140px,#01f 0 141px,#02f 0 142px,#06f 0 143px,#00e 0 145px,#03f 0 146px,#04f 0 147px,#03f 0 148px,#01f 0 149px,#05f 0 151px,#02f 0 152px,#08f 0 153px,#00f 0 154px,#01f 0 156px,#09f 0 157px,#0af 0 159px,#07f 0 160px,#0af 0 162px,#0bf 0 163px,#04f 0 165px,#05f 0 167px,#00a 0 168px,#00f 0 169px,#00d 0 172px,#05f 0 173px,#0bf 0 174px,#00f 0 175px,#07f 0 176px,#00c 0 179px,#07f 0 180px,#05f 0 181px,#04f 0 183px,#00b 0 184px,#04f 0 185px,#00f 0 186px,#00c 0 187px,#00f 0 189px,#1ee 0 190px,#0cf 0 191px,#00e 0 192px,#00f 0 194px,#06f 0 195px,#02f 0 196px,#07f 0 197px,#05f 0 198px,#01f 0 200px,#00c 0 201px,#0bf 0 202px,#0cf 0 203px,#07f 0 205px,#09f 0 206px,#03f 0 207px,#07f 0 208px,#1ee 0 209px,#00e 0 211px,#00f 0 213px,#00d 0 214px,#07f 0 216px,#02f 0 217px,#04f 0 218px,#07f 0 219px,#00f 0 221px,#04f 0 222px,#06f 0 223px,#03f 0 224px,#0af 0 225px,#00b 0 227px,#07f 0 228px,#04f 0 229px,#0bf 0 232px,#00f 0 233px,#07f 0 234px,#00c 0 235px,#00b 0 236px,#00e 0 238px,#01f 0 239px,#00f 0 240px,#06f 0 241px,#4fb 0 243px,#07f 0 244px,#01f 0 245px,#04f 0 246px,#01f 0 247px,#0af 0 249px,#6f8 0 250px,#00c 0 251px,#03f 0 252px,#06f 0 254px,#04f 0 255px,#06f 0 257px,#08f 0 258px,#04f 0 260px,#00f 0 261px,#009 0 262px,#04f 0 263px,#02f 0 265px,#08f 0 266px,#00e 0 268px,#07f 0 270px,#00e 0 271px,#0bf 0 272px,#03f 0 273px,#01f 0 274px,#06f 0 276px,#00f 0 277px,#04f 0 278px,#00c 0 279px,#07f 0 281px,#0bf 0 282px,#01f 0 284px,#0cf 0 285px,#07f 0 287px,#05f 0 288px,#00f 0 289px,#01f 0 290px,#0df 0 292px,#02f 0 293px,#07f 0 294px,#0bf 0 295px,#06f 0 296px,#02f 0 298px,#03f 0 299px,#07f 0 300px,#00f 0 301px,#00d 0 303px,#00f 0 304px,#02f 0 305px,#07f 0 306px,#00d 0 307px,#bf4 0 309px,#07f 0 310px,#00f 0 311px,#2fc 0 312px,#0cf 0 314px,#00e 0 315px,#00f 0 318px,#0af 0 320px,#3fb 0 321px,#09f 0 322px,#05f 0 323px,#6f8 0 325px,#0af 0 326px,#01f 0 328px,#05f 0 330px,#07f 0 331px,#5f9 0 332px,#0df 0 333px,#06f 0 336px,#3fb 0 338px,#00e 0 339px,#05f 0 341px,#8f6 0 343px,#02f 0 345px,#1ee 0 347px,#06f 0 348px,#03f 0 349px,#04f 0 350px,#08f 0 352px,#00c 0 353px,#1ee 0 354px,#0af 0 355px,#08f 0 356px,#fe0 0 358px,#00f 0 360px,#05f 0 361px,#08f 0 363px,#05f 0 364px,#03f 0 365px,#02f 0 366px,#8f7 0 368px,#00c 0 369px,#3fb 0 370px,#bf3 0 371px,#05f 0 372px,#0bf 0 374px,#4fb 0 375px,#08f 0 376px,#af5 0 377px,#0bf 0 379px,#06f 0 380px,#0df 0 385px,#07f 0 386px,#0cf 0 387px,#02f 0 388px,#1fd 0 390px,#0cf 0 391px,#04f 0 392px,#1fd 0 394px,#5fa 0 396px,#0df 0 397px,#00f 0 398px,#0cf 0 399px,#0df 0 401px,#df1 0 402px,#0df 0 403px,#6f8 0 404px,#00e 0 405px,#8f6 0 407px,#08f 0 408px,#fd0 0 409px,#0cf 0 410px,#0df 0 412px,#0cf 0 413px,#06f 0 414px,#03f 0 415px,#00f 0 417px,#00e 0 418px,#00a 0 419px,#5fa 0 420px,#9f5 0 421px,#fe0 0 423px,#0af 0 424px,#bf4 0 425px,#3fb 0 426px,#0df 0 428px,#4fb 0 429px,#f60 0 430px,#bf4 0 431px,#bf3 0 434px,#af5 0 435px,#f50 0 436px,#e00 0 437px,#03f 0 439px,#af5 0 440px,#09f 0 441px,#8f6 0 442px,#fa0 0 445px,#0cf 0 446px,#4fb 0 447px,#f70 0 448px,#6f8 0 450px,#f30 0 451px,#8f7 0 452px,#1ee 0 453px,#6f8 0 454px,#08f 0 456px,#8f7 0 457px,#7f8 0 458px,#800 0 459px,#f30 0 461px,#c00 0 462px,#e00 0 463px,#f70 0 464px,#1fd 0 466px,#02f 0 467px,#f90 0 468px,#800 0 470px,#fd0 0 472px,#f30 0 473px,#2fc 0 474px,#0cf 0 475px,#8f7 0 477px,#800 0 478px,#5f9 0 479px,#800 0 483px,#4fb 0 484px,#800 0 488px,#f60 0 489px,#fe0 0 490px)"></i><i style="left:262px;width:10px;background:linear-gradient(#00b 0 1px,#04f 0 2px,#00e 0 4px,#00a 0 5px,#00b 0 6px,#00c 0 7px,#06f 0 9px,#03f 0 10px,#00f 0 11px,#02f 0 13px,#00e 0 15px,#00c 0 16px,#00d 0 17px,#00b 0 18px,#00f 0 20px,#05f 0 21px,#00d 0 22px,#03f 0 23px,#06f 0 24px,#00b 0 26px,#04f 0 28px,#00d 0 31px,#01f 0 32px,#00f 0 37px,#0af 0 38px,#00a 0 39px,#03f 0 40px,#0af 0 42px,#00d 0 43px,#04f 0 44px,#05f 0 45px,#03f 0 47px,#06f 0 48px,#01f 0 49px,#0bf 0 50px,#02f 0 51px,#06f 0 53px,#00e 0 54px,#0cf 0 55px,#00f 0 56px,#01f 0 58px,#00f 0 60px,#02f 0 61px,#08f 0 62px,#00e 0 64px,#00f 0 65px,#0cf 0 66px,#00e 0 67px,#04f 0 69px,#01f 0 70px,#00d 0 71px,#00f 0 72px,#07f 0 74px,#00f 0 75px,#02f 0 76px,#00f 0 77px,#02f 0 78px,#00b 0 80px,#00c 0 81px,#00a 0 82px,#00b 0 83px,#00e 0 85px,#0cf 0 86px,#05f 0 87px,#0cf 0 88px,#00e 0 89px,#00f 0 91px,#01f 0 92px,#05f 0 93px,#00f 0 94px,#00b 0 96px,#00f 0 98px,#0af 0 99px,#01f 0 100px,#00f 0 102px,#01f 0 103px,#00d 0 104px,#00f 0 105px,#00b 0 107px,#05f 0 108px,#06f 0 109px,#00b 0 110px,#01f 0 111px,#00e 0 113px,#00d 0 114px,#00c 0 115px,#04f 0 116px,#06f 0 118px,#00f 0 120px,#00b 0 121px,#05f 0 123px,#00a 0 124px,#00b 0 126px,#04f 0 127px,#00e 0 129px,#07f 0 130px,#00c 0 131px,#00d 0 132px,#08f 0 134px,#00e 0 135px,#02f 0 136px,#0af 0 137px,#00d 0 138px,#00a 0 140px,#09f 0 141px,#03f 0 142px,#01f 0 143px,#00f 0 145px,#05f 0 146px,#09f 0 147px,#00d 0 148px,#00f 0 151px,#00d 0 152px,#07f 0 153px,#02f 0 156px,#07f 0 157px,#01f 0 158px,#0af 0 159px,#03f 0 162px,#08f 0 163px,#00f 0 164px,#00d 0 167px,#02f 0 168px,#00b 0 170px,#00f 0 174px,#00d 0 175px,#04f 0 176px,#00f 0 178px,#00c 0 179px,#02f 0 180px,#00e 0 181px,#02f 0 183px,#00d 0 184px,#00f 0 186px,#00d 0 187px,#00e 0 189px,#00d 0 190px,#04f 0 191px,#00f 0 192px,#00c 0 194px,#01f 0 195px,#00f 0 196px,#02f 0 198px,#00f 0 200px,#00d 0 201px,#09f 0 202px,#00f 0 203px,#0bf 0 205px,#00f 0 206px,#02f 0 207px,#0af 0 208px,#07f 0 209px,#03f 0 211px,#02f 0 213px,#00d 0 214px,#09f 0 216px,#04f 0 218px,#02f 0 219px,#08f 0 221px,#09f 0 222px,#06f 0 223px,#03f 0 224px,#07f 0 225px,#00d 0 227px,#02f 0 228px,#0bf 0 229px,#00f 0 230px,#06f 0 232px,#02f 0 233px,#04f 0 234px,#00f 0 235px,#00e 0 236px,#08f 0 238px,#09f 0 239px,#00e 0 240px,#00f 0 241px,#05f 0 243px,#00f 0 244px,#06f 0 245px,#00d 0 246px,#00c 0 247px,#00e 0 249px,#00f 0 251px,#09f 0 252px,#01f 0 255px,#00f 0 256px,#02f 0 258px,#00d 0 260px,#06f 0 261px,#00b 0 262px,#0bf 0 263px,#02f 0 265px,#0af 0 266px,#00f 0 267px,#03f 0 268px,#0bf 0 270px,#00d 0 271px,#07f 0 272px,#02f 0 273px,#08f 0 276px,#04f 0 277px,#01f 0 278px,#00e 0 279px,#01f 0 281px,#08f 0 282px,#00b 0 283px,#02f 0 284px,#00d 0 285px,#02f 0 287px,#bf4 0 288px,#00f 0 289px,#0cf 0 290px,#5f9 0 292px,#09f 0 293px,#04f 0 294px,#02f 0 295px,#0bf 0 296px,#05f 0 298px,#0af 0 299px,#06f 0 300px,#00c 0 301px,#06f 0 303px,#00f 0 304px,#0bf 0 305px,#00d 0 306px,#02f 0 307px,#8f6 0 309px,#04f 0 310px,#00d 0 311px,#04f 0 312px,#00f 0 314px,#08f 0 315px,#00b 0 316px,#06f 0 317px,#00b 0 318px,#0bf 0 320px,#08f 0 321px,#06f 0 322px,#02f 0 323px,#4fb 0 325px,#03f 0 326px,#05f 0 327px,#04f 0 328px,#0cf 0 330px,#04f 0 331px,#4fb 0 332px,#0cf 0 333px,#07f 0 334px,#03f 0 336px,#0bf 0 337px,#5fa 0 338px,#00c 0 339px,#05f 0 341px,#1ee 0 342px,#7f8 0 343px,#00c 0 344px,#00d 0 345px,#5fa 0 347px,#8f7 0 348px,#07f 0 349px,#00d 0 350px,#01f 0 352px,#00f 0 353px,#09f 0 354px,#03f 0 355px,#07f 0 356px,#5f9 0 358px,#00d 0 359px,#02f 0 360px,#08f 0 361px,#4fb 0 363px,#0cf 0 364px,#02f 0 365px,#01f 0 366px,#0bf 0 368px,#00d 0 369px,#0af 0 370px,#bf4 0 371px,#09f 0 372px,#03f 0 374px,#1ee 0 375px,#08f 0 376px,#0df 0 379px,#05f 0 380px,#02f 0 381px,#09f 0 382px,#8f7 0 383px,#01f 0 385px,#02f 0 386px,#0cf 0 387px,#07f 0 388px,#3fb 0 390px,#02f 0 391px,#2fc 0 392px,#0cf 0 393px,#1fd 0 394px,#04f 0 396px,#05f 0 397px,#0cf 0 398px,#05f 0 399px,#00f 0 401px,#2fc 0 402px,#0cf 0 403px,#1ee 0 404px,#06f 0 405px,#f30 0 407px,#f20 0 408px,#bf4 0 409px,#0af 0 410px,#3fb 0 412px,#0cf 0 413px,#05f 0 415px,#fb0 0 417px,#0cf 0 418px,#4fb 0 419px,#bf3 0 420px,#08f 0 421px,#5f9 0 423px,#01f 0 424px,#05f 0 425px,#0cf 0 426px,#8f6 0 428px,#2fc 0 429px,#8f7 0 430px,#04f 0 431px,#0af 0 432px,#2fc 0 434px,#f50 0 435px,#f90 0 436px,#1ee 0 437px,#08f 0 440px,#8f7 0 441px,#0bf 0 442px,#0cf 0 443px,#f40 0 445px,#01f 0 446px,#fe0 0 447px,#1fd 0 448px,#3fb 0 450px,#800 0 451px,#bf4 0 452px,#f70 0 453px,#f90 0 454px,#800 0 457px,#f40 0 458px,#800 0 459px,#e00 0 461px,#bf4 0 462px,#800 0 463px,#ef1 0 464px,#09f 0 466px,#05f 0 467px,#e00 0 468px,#00b 0 469px,#800 0 470px,#ef1 0 472px,#800 0 473px,#f90 0 474px,#800 0 477px,#9f5 0 478px,#800 0 488px,#fc0 0 489px,#800 0 490px)"></i><i style="left:272px;width:9px;background:linear-gradient(#00c 0 1px,#00f 0 2px,#00d 0 5px,#03f 0 6px,#00c 0 7px,#03f 0 9px,#01f 0 10px,#00f 0 11px,#00d 0 13px,#00b 0 15px,#00d 0 16px,#00f 0 17px,#01f 0 18px,#00d 0 20px,#02f 0 21px,#00c 0 22px,#00b 0 23px,#02f 0 24px,#00c 0 26px,#00b 0 27px,#00c 0 28px,#00d 0 29px,#00c 0 31px,#03f 0 32px,#00c 0 34px,#01f 0 36px,#03f 0 37px,#00e 0 38px,#00f 0 39px,#00d 0 40px,#00e 0 42px,#00f 0 43px,#00b 0 44px,#00c 0 45px,#01f 0 47px,#00c 0 48px,#00e 0 49px,#00f 0 50px,#00c 0 51px,#00d 0 53px,#00e 0 54px,#00c 0 55px,#00d 0 56px,#00c 0 58px,#06f 0 59px,#00c 0 60px,#00a 0 61px,#00b 0 64px,#00c 0 65px,#00f 0 66px,#02f 0 67px,#00d 0 69px,#00f 0 70px,#04f 0 71px,#00b 0 72px,#00e 0 74px,#00d 0 76px,#00f 0 77px,#00e 0 78px,#00c 0 80px,#00b 0 81px,#00a 0 82px,#00d 0 83px,#00f 0 86px,#00b 0 87px,#00c 0 88px,#01f 0 89px,#00f 0 91px,#00e 0 92px,#02f 0 93px,#00c 0 94px,#00d 0 96px,#00e 0 98px,#01f 0 99px,#00e 0 100px,#00c 0 102px,#00f 0 103px,#00b 0 104px,#00f 0 105px,#00a 0 108px,#00d 0 109px,#00f 0 110px,#00c 0 111px,#00e 0 113px,#00f 0 114px,#06f 0 115px,#00f 0 116px,#00d 0 119px,#00a 0 120px,#00e 0 123px,#00b 0 124px,#00f 0 125px,#00d 0 127px,#04f 0 129px,#00b 0 130px,#00f 0 131px,#00e 0 132px,#02f 0 134px,#00d 0 136px,#00e 0 137px,#00f 0 138px,#00b 0 140px,#00f 0 141px,#02f 0 142px,#00e 0 143px,#02f 0 145px,#00c 0 146px,#00e 0 149px,#00d 0 151px,#00f 0 153px,#05f 0 154px,#00d 0 156px,#00b 0 157px,#03f 0 158px,#00c 0 159px,#00b 0 160px,#00a 0 162px,#00c 0 163px,#00a 0 164px,#02f 0 165px,#00f 0 167px,#00c 0 168px,#00f 0 169px,#00e 0 170px,#02f 0 173px,#00e 0 174px,#01f 0 175px,#00b 0 176px,#00e 0 178px,#00a 0 179px,#00e 0 181px,#00f 0 183px,#00d 0 184px,#00f 0 185px,#00c 0 186px,#00f 0 187px,#00e 0 189px,#00d 0 190px,#00f 0 191px,#00c 0 192px,#00b 0 194px,#00f 0 195px,#00d 0 196px,#02f 0 197px,#00f 0 198px,#00e 0 200px,#01f 0 201px,#00c 0 202px,#06f 0 203px,#00d 0 205px,#00b 0 206px,#00d 0 208px,#04f 0 209px,#00d 0 211px,#00f 0 212px,#00d 0 213px,#00f 0 214px,#03f 0 216px,#00c 0 217px,#00d 0 218px,#00e 0 219px,#00f 0 221px,#00c 0 222px,#04f 0 223px,#01f 0 224px,#00e 0 225px,#00f 0 228px,#01f 0 229px,#00d 0 230px,#00e 0 232px,#00f 0 233px,#04f 0 234px,#00d 0 235px,#00e 0 236px,#00c 0 238px,#02f 0 239px,#00c 0 240px,#00e 0 241px,#04f 0 243px,#00c 0 244px,#01f 0 245px,#00f 0 246px,#00e 0 247px,#05f 0 249px,#00f 0 250px,#00d 0 251px,#00e 0 252px,#02f 0 254px,#01f 0 255px,#07f 0 256px,#01f 0 257px,#04f 0 258px,#00d 0 260px,#02f 0 261px,#00f 0 262px,#00e 0 263px,#00f 0 265px,#00d 0 266px,#00c 0 267px,#08f 0 268px,#02f 0 270px,#04f 0 271px,#00c 0 272px,#00d 0 273px,#01f 0 274px,#00f 0 277px,#00b 0 278px,#00f 0 279px,#01f 0 282px,#00e 0 283px,#00d 0 285px,#00f 0 287px,#04f 0 288px,#02f 0 289px,#03f 0 290px,#01f 0 292px,#04f 0 293px,#01f 0 294px,#06f 0 295px,#00e 0 296px,#02f 0 300px,#06f 0 301px,#02f 0 303px,#00f 0 305px,#02f 0 306px,#06f 0 307px,#00d 0 309px,#00f 0 310px,#00e 0 311px,#00f 0 312px,#0cf 0 314px,#00c 0 315px,#03f 0 316px,#00c 0 317px,#06f 0 318px,#05f 0 320px,#02f 0 321px,#01f 0 322px,#02f 0 325px,#00d 0 326px,#08f 0 328px,#03f 0 330px,#00e 0 331px,#00b 0 332px,#4fb 0 333px,#09f 0 334px,#0cf 0 336px,#09f 0 337px,#0af 0 338px,#03f 0 341px,#06f 0 343px,#00d 0 344px,#0df 0 345px,#00e 0 347px,#03f 0 348px,#08f 0 349px,#00f 0 350px,#01f 0 352px,#0cf 0 353px,#07f 0 354px,#03f 0 355px,#0bf 0 356px,#00d 0 358px,#0cf 0 359px,#08f 0 360px,#02f 0 361px,#07f 0 363px,#9f5 0 364px,#02f 0 365px,#03f 0 366px,#00c 0 368px,#af5 0 369px,#01f 0 370px,#05f 0 371px,#7f8 0 372px,#07f 0 374px,#01f 0 375px,#0af 0 376px,#1ee 0 377px,#0af 0 379px,#1fd 0 380px,#09f 0 381px,#0af 0 382px,#06f 0 383px,#09f 0 385px,#0df 0 386px,#4fb 0 387px,#08f 0 388px,#7f8 0 390px,#01f 0 391px,#1ee 0 392px,#03f 0 393px,#05f 0 394px,#02f 0 396px,#5f9 0 397px,#07f 0 398px,#04f 0 399px,#06f 0 401px,#05f 0 402px,#06f 0 403px,#00b 0 404px,#0bf 0 405px,#06f 0 407px,#02f 0 408px,#05f 0 409px,#4fb 0 410px,#1ee 0 412px,#4fb 0 413px,#09f 0 414px,#00f 0 415px,#9f5 0 417px,#ef1 0 418px,#00f 0 419px,#0df 0 420px,#8f6 0 421px,#ef1 0 423px,#800 0 424px,#5fa 0 425px,#af5 0 426px,#8f7 0 428px,#bf4 0 429px,#09f 0 430px,#bf4 0 431px,#07f 0 432px,#0cf 0 434px,#1ee 0 435px,#00e 0 436px,#5f9 0 439px,#fa0 0 440px,#08f 0 441px,#800 0 442px,#1fd 0 443px,#800 0 445px,#5f9 0 446px,#2fc 0 447px,#05f 0 448px,#800 0 450px,#07f 0 451px,#0af 0 452px,#08f 0 453px,#07f 0 454px,#a00 0 456px,#0cf 0 457px,#03f 0 459px,#0af 0 461px,#f70 0 462px,#ef1 0 464px,#800 0 466px,#08f 0 467px,#f80 0 468px,#fb0 0 469px,#f40 0 470px,#fa0 0 472px,#800 0 473px,#04f 0 474px,#fa0 0 475px,#800 0 478px,#fb0 0 479px,#f40 0 480px,#800 0 484px,#0af 0 485px,#fe0 0 486px,#800 0 490px)"></i><i style="left:281px;width:10px;background:linear-gradient(#00f 0 1px,#00d 0 2px,#00c 0 4px,#00b 0 5px,#04f 0 6px,#00e 0 7px,#01f 0 9px,#00e 0 10px,#00d 0 13px,#01f 0 15px,#00c 0 17px,#01f 0 18px,#00d 0 20px,#01f 0 21px,#00e 0 22px,#00c 0 23px,#02f 0 24px,#00c 0 27px,#00d 0 28px,#00a 0 29px,#00b 0 32px,#00c 0 34px,#00e 0 36px,#04f 0 37px,#00e 0 38px,#00d 0 39px,#00f 0 40px,#00d 0 42px,#01f 0 43px,#00b 0 44px,#00e 0 45px,#00f 0 47px,#00a 0 48px,#00e 0 49px,#00f 0 50px,#00c 0 51px,#00f 0 53px,#00c 0 54px,#00e 0 55px,#00b 0 56px,#00c 0 58px,#04f 0 59px,#00d 0 60px,#00c 0 61px,#00b 0 62px,#00d 0 66px,#02f 0 67px,#00f 0 69px,#01f 0 70px,#03f 0 71px,#00c 0 72px,#00d 0 74px,#00e 0 75px,#00f 0 77px,#00c 0 78px,#00e 0 80px,#00b 0 82px,#00e 0 83px,#01f 0 85px,#00f 0 86px,#00d 0 87px,#00c 0 88px,#00f 0 89px,#05f 0 91px,#00f 0 93px,#00e 0 94px,#00b 0 96px,#02f 0 98px,#00f 0 99px,#00e 0 100px,#00d 0 102px,#00f 0 103px,#00c 0 104px,#00e 0 105px,#00b 0 107px,#00a 0 109px,#00e 0 110px,#00b 0 111px,#00d 0 113px,#00c 0 114px,#00f 0 118px,#00e 0 119px,#00b 0 120px,#00d 0 121px,#00f 0 123px,#00c 0 124px,#00f 0 125px,#00d 0 127px,#00c 0 129px,#00f 0 131px,#04f 0 132px,#03f 0 134px,#00d 0 135px,#00e 0 136px,#00d 0 137px,#00a 0 140px,#00e 0 141px,#00f 0 142px,#00d 0 143px,#00e 0 145px,#00b 0 146px,#00f 0 147px,#00c 0 148px,#00f 0 153px,#04f 0 154px,#01f 0 156px,#00a 0 157px,#00f 0 158px,#00a 0 159px,#00e 0 160px,#009 0 162px,#00d 0 163px,#00e 0 164px,#00d 0 167px,#00c 0 169px,#00d 0 170px,#03f 0 172px,#05f 0 173px,#06f 0 174px,#00f 0 175px,#00c 0 176px,#00f 0 178px,#00b 0 179px,#00d 0 184px,#00e 0 185px,#00a 0 186px,#00f 0 187px,#00c 0 190px,#00f 0 192px,#00c 0 194px,#00e 0 195px,#01f 0 196px,#00e 0 197px,#00f 0 198px,#00b 0 200px,#00e 0 201px,#00f 0 203px,#00e 0 206px,#00f 0 208px,#01f 0 209px,#00d 0 211px,#02f 0 212px,#00b 0 213px,#05f 0 216px,#00f 0 218px,#00c 0 219px,#01f 0 221px,#00a 0 222px,#07f 0 223px,#00c 0 224px,#01f 0 225px,#00f 0 227px,#00e 0 229px,#00f 0 230px,#00e 0 232px,#00c 0 233px,#03f 0 234px,#00c 0 235px,#00e 0 236px,#00c 0 238px,#00f 0 239px,#00d 0 240px,#00f 0 241px,#03f 0 243px,#00f 0 244px,#03f 0 245px,#00c 0 246px,#00e 0 247px,#05f 0 249px,#00c 0 251px,#00e 0 252px,#01f 0 254px,#00e 0 255px,#04f 0 256px,#00f 0 257px,#02f 0 260px,#00e 0 261px,#00f 0 263px,#00e 0 265px,#00c 0 266px,#01f 0 268px,#07f 0 270px,#06f 0 271px,#00b 0 272px,#01f 0 273px,#02f 0 274px,#00e 0 276px,#06f 0 277px,#00b 0 278px,#01f 0 279px,#00f 0 281px,#00d 0 282px,#00f 0 284px,#00e 0 285px,#00f 0 287px,#03f 0 288px,#06f 0 289px,#00f 0 290px,#09f 0 293px,#03f 0 294px,#01f 0 298px,#00f 0 300px,#06f 0 301px,#03f 0 303px,#06f 0 304px,#04f 0 305px,#00d 0 306px,#02f 0 307px,#00e 0 309px,#00d 0 310px,#03f 0 311px,#00d 0 312px,#01f 0 314px,#00d 0 315px,#03f 0 316px,#00f 0 318px,#06f 0 320px,#02f 0 321px,#00f 0 322px,#01f 0 323px,#08f 0 325px,#00e 0 326px,#00f 0 328px,#01f 0 330px,#0af 0 331px,#00e 0 332px,#4fb 0 333px,#02f 0 334px,#04f 0 337px,#07f 0 338px,#03f 0 339px,#00e 0 341px,#5fa 0 342px,#03f 0 343px,#00d 0 344px,#1ee 0 345px,#01f 0 347px,#07f 0 348px,#02f 0 349px,#04f 0 350px,#08f 0 352px,#07f 0 353px,#0bf 0 354px,#00e 0 356px,#02f 0 358px,#08f 0 359px,#07f 0 360px,#00f 0 361px,#07f 0 363px,#8f6 0 364px,#08f 0 365px,#5fa 0 366px,#00d 0 368px,#1fd 0 369px,#0bf 0 370px,#00f 0 371px,#6f8 0 374px,#0cf 0 375px,#05f 0 376px,#0df 0 377px,#09f 0 379px,#03f 0 380px,#8f6 0 381px,#00f 0 382px,#07f 0 383px,#06f 0 385px,#0af 0 386px,#7f8 0 387px,#01f 0 388px,#02f 0 390px,#4fb 0 392px,#02f 0 393px,#0cf 0 394px,#02f 0 396px,#0cf 0 397px,#01f 0 398px,#04f 0 399px,#8f6 0 401px,#0af 0 402px,#1ee 0 403px,#00d 0 404px,#8f7 0 405px,#04f 0 407px,#07f 0 408px,#8f7 0 409px,#cf2 0 410px,#1fd 0 412px,#ef1 0 413px,#00f 0 414px,#02f 0 415px,#00e 0 417px,#7f8 0 418px,#009 0 419px,#00e 0 420px,#5f9 0 421px,#03f 0 423px,#df1 0 424px,#0bf 0 425px,#01f 0 426px,#5fa 0 428px,#2fc 0 429px,#3fb 0 430px,#f60 0 431px,#05f 0 432px,#cf2 0 434px,#00f 0 435px,#bf3 0 436px,#8f7 0 437px,#2fc 0 439px,#4fb 0 440px,#0df 0 441px,#df1 0 442px,#bf4 0 443px,#800 0 445px,#4fb 0 446px,#f40 0 447px,#0df 0 448px,#800 0 450px,#af5 0 451px,#9f5 0 452px,#f80 0 453px,#5f9 0 454px,#0cf 0 456px,#3fb 0 457px,#04f 0 458px,#900 0 459px,#fd0 0 461px,#7f8 0 462px,#f50 0 463px,#800 0 466px,#4fb 0 467px,#f60 0 468px,#1ee 0 469px,#800 0 470px,#fc0 0 472px,#800 0 473px,#0cf 0 474px,#f60 0 475px,#08f 0 477px,#800 0 490px)"></i><i style="left:291px;width:10px;background:linear-gradient(#00f 0 1px,#01f 0 2px,#00e 0 4px,#00c 0 5px,#05f 0 6px,#00f 0 7px,#0cf 0 9px,#00f 0 10px,#01f 0 11px,#04f 0 12px,#02f 0 13px,#01f 0 15px,#09f 0 16px,#00f 0 18px,#06f 0 20px,#00f 0 21px,#04f 0 22px,#08f 0 23px,#03f 0 24px,#00f 0 26px,#01f 0 27px,#0cf 0 28px,#00b 0 29px,#00f 0 31px,#02f 0 32px,#00f 0 33px,#00e 0 34px,#02f 0 36px,#00f 0 37px,#04f 0 39px,#07f 0 40px,#00e 0 43px,#00f 0 44px,#00d 0 47px,#09f 0 48px,#02f 0 49px,#00c 0 50px,#05f 0 51px,#00f 0 53px,#03f 0 54px,#06f 0 55px,#02f 0 56px,#00e 0 59px,#01f 0 60px,#07f 0 61px,#01f 0 62px,#07f 0 64px,#06f 0 66px,#01f 0 67px,#0cf 0 69px,#00b 0 70px,#0cf 0 71px,#02f 0 72px,#03f 0 74px,#00f 0 75px,#00d 0 76px,#02f 0 77px,#08f 0 78px,#00f 0 80px,#01f 0 81px,#00a 0 82px,#00d 0 85px,#00e 0 86px,#00f 0 87px,#00c 0 89px,#01f 0 91px,#00c 0 92px,#00f 0 93px,#0cf 0 94px,#00f 0 96px,#00d 0 97px,#0af 0 99px,#09f 0 100px,#00e 0 102px,#01f 0 103px,#00f 0 104px,#00c 0 105px,#00f 0 108px,#01f 0 109px,#00b 0 110px,#00c 0 111px,#00b 0 113px,#00d 0 114px,#07f 0 115px,#00b 0 116px,#00d 0 118px,#00b 0 119px,#01f 0 120px,#00e 0 121px,#01f 0 123px,#03f 0 124px,#09f 0 126px,#00c 0 127px,#00f 0 129px,#00b 0 130px,#06f 0 131px,#0cf 0 132px,#00e 0 135px,#05f 0 136px,#00c 0 137px,#00e 0 138px,#03f 0 140px,#01f 0 141px,#00e 0 142px,#00f 0 143px,#00e 0 145px,#09f 0 146px,#05f 0 147px,#02f 0 148px,#00e 0 149px,#00d 0 151px,#03f 0 152px,#07f 0 153px,#01f 0 154px,#00e 0 156px,#02f 0 158px,#00e 0 159px,#00d 0 160px,#00a 0 162px,#00e 0 163px,#00f 0 164px,#00d 0 167px,#00e 0 168px,#00d 0 169px,#01f 0 170px,#03f 0 172px,#00b 0 173px,#00f 0 174px,#06f 0 175px,#00e 0 176px,#03f 0 178px,#00f 0 179px,#02f 0 180px,#0af 0 181px,#04f 0 183px,#00d 0 184px,#00c 0 185px,#01f 0 186px,#00d 0 187px,#00f 0 189px,#01f 0 190px,#04f 0 191px,#00c 0 192px,#00e 0 194px,#08f 0 195px,#00e 0 196px,#03f 0 197px,#02f 0 198px,#00f 0 200px,#05f 0 201px,#00e 0 202px,#00d 0 203px,#05f 0 205px,#00d 0 206px,#02f 0 207px,#00f 0 213px,#00e 0 214px,#09f 0 216px,#05f 0 217px,#2fc 0 218px,#00d 0 219px,#00f 0 221px,#07f 0 222px,#01f 0 223px,#03f 0 224px,#02f 0 225px,#00c 0 227px,#06f 0 228px,#07f 0 229px,#02f 0 230px,#07f 0 232px,#09f 0 233px,#08f 0 234px,#07f 0 235px,#01f 0 236px,#02f 0 238px,#00f 0 239px,#03f 0 240px,#01f 0 241px,#03f 0 243px,#00f 0 244px,#00c 0 245px,#02f 0 246px,#00b 0 247px,#00f 0 249px,#02f 0 250px,#06f 0 251px,#00f 0 252px,#09f 0 255px,#05f 0 256px,#02f 0 257px,#01f 0 260px,#0af 0 261px,#00c 0 262px,#00f 0 265px,#00b 0 266px,#00e 0 267px,#03f 0 268px,#5f9 0 270px,#00d 0 271px,#07f 0 272px,#0af 0 273px,#00d 0 274px,#04f 0 276px,#03f 0 277px,#00f 0 281px,#02f 0 282px,#06f 0 283px,#03f 0 284px,#02f 0 285px,#1fd 0 287px,#04f 0 288px,#05f 0 289px,#0af 0 290px,#0cf 0 292px,#08f 0 293px,#0cf 0 295px,#4fb 0 296px,#00e 0 298px,#05f 0 299px,#03f 0 300px,#02f 0 301px,#00f 0 303px,#01f 0 304px,#0df 0 305px,#0af 0 306px,#00f 0 307px,#0bf 0 309px,#00e 0 310px,#0cf 0 312px,#05f 0 314px,#04f 0 315px,#5fa 0 316px,#08f 0 317px,#04f 0 318px,#07f 0 320px,#06f 0 321px,#07f 0 322px,#06f 0 323px,#0df 0 325px,#0af 0 326px,#00b 0 327px,#04f 0 328px,#3fb 0 330px,#00f 0 331px,#6f8 0 332px,#1fd 0 333px,#0bf 0 334px,#1fd 0 336px,#2fc 0 337px,#0af 0 339px,#4fb 0 341px,#00b 0 342px,#0cf 0 343px,#00f 0 344px,#7f8 0 345px,#2fc 0 347px,#07f 0 348px,#06f 0 349px,#4fb 0 350px,#07f 0 352px,#8f6 0 353px,#03f 0 355px,#af5 0 356px,#9f5 0 358px,#05f 0 359px,#6f8 0 360px,#2fc 0 361px,#0cf 0 363px,#2fc 0 364px,#8f6 0 365px,#05f 0 366px,#5fa 0 368px,#3fb 0 369px,#7f8 0 370px,#4fb 0 371px,#0df 0 372px,#00e 0 374px,#05f 0 375px,#1ee 0 376px,#0df 0 377px,#0bf 0 379px,#0cf 0 380px,#07f 0 381px,#bf3 0 382px,#00f 0 383px,#1fd 0 385px,#05f 0 386px,#0bf 0 387px,#8f7 0 388px,#00f 0 390px,#09f 0 391px,#1ee 0 392px,#07f 0 393px,#00f 0 394px,#af5 0 396px,#1ee 0 397px,#00b 0 398px,#4fb 0 399px,#0df 0 401px,#bf3 0 402px,#1fd 0 404px,#08f 0 407px,#00e 0 408px,#0bf 0 409px,#f30 0 410px,#08f 0 413px,#bf4 0 414px,#05f 0 415px,#ef1 0 417px,#6f8 0 418px,#05f 0 419px,#fd0 0 420px,#fc0 0 421px,#bf4 0 423px,#9f5 0 424px,#bf3 0 425px,#04f 0 426px,#800 0 428px,#05f 0 429px,#e00 0 430px,#1ee 0 431px,#c00 0 432px,#06f 0 434px,#800 0 435px,#04f 0 436px,#0cf 0 437px,#f80 0 439px,#7f8 0 440px,#0af 0 441px,#8f7 0 442px,#e00 0 443px,#f50 0 445px,#800 0 447px,#6f8 0 448px,#f40 0 450px,#08f 0 451px,#bf4 0 452px,#f40 0 453px,#0cf 0 454px,#2fc 0 456px,#f50 0 457px,#df1 0 458px,#bf4 0 459px,#800 0 461px,#4fb 0 462px,#800 0 464px,#fb0 0 466px,#4fb 0 467px,#fb0 0 468px,#ef1 0 469px,#800 0 470px,#1fd 0 472px,#800 0 474px,#fc0 0 475px,#800 0 480px,#0bf 0 481px,#fe0 0 483px,#800 0 490px)"></i><i style="left:301px;width:10px;background:linear-gradient(#0cf 0 1px,#01f 0 4px,#00c 0 5px,#0af 0 6px,#00c 0 7px,#07f 0 9px,#0cf 0 10px,#00f 0 11px,#02f 0 12px,#00f 0 13px,#04f 0 15px,#05f 0 16px,#00e 0 17px,#05f 0 18px,#04f 0 20px,#05f 0 21px,#03f 0 22px,#04f 0 23px,#00f 0 24px,#02f 0 26px,#04f 0 27px,#5f9 0 28px,#00c 0 29px,#00e 0 31px,#01f 0 32px,#03f 0 33px,#00f 0 34px,#00b 0 36px,#04f 0 37px,#03f 0 38px,#0bf 0 39px,#00f 0 40px,#04f 0 42px,#07f 0 43px,#00a 0 44px,#00b 0 45px,#00d 0 47px,#00f 0 48px,#07f 0 49px,#00f 0 50px,#0cf 0 51px,#01f 0 53px,#00f 0 54px,#04f 0 55px,#06f 0 56px,#09f 0 58px,#00e 0 59px,#04f 0 60px,#0cf 0 61px,#05f 0 62px,#08f 0 64px,#0af 0 65px,#02f 0 66px,#03f 0 67px,#1fd 0 69px,#05f 0 70px,#0df 0 71px,#01f 0 72px,#00f 0 74px,#04f 0 75px,#00c 0 76px,#00d 0 77px,#2fc 0 78px,#05f 0 80px,#00f 0 83px,#00d 0 85px,#08f 0 86px,#02f 0 87px,#00e 0 88px,#00c 0 89px,#02f 0 91px,#04f 0 93px,#07f 0 94px,#02f 0 96px,#00b 0 97px,#04f 0 98px,#00f 0 99px,#09f 0 100px,#00e 0 102px,#02f 0 103px,#00f 0 104px,#00c 0 105px,#01f 0 107px,#00d 0 108px,#03f 0 109px,#00e 0 110px,#03f 0 111px,#01f 0 113px,#00e 0 114px,#5fa 0 115px,#00f 0 120px,#00d 0 121px,#03f 0 123px,#4fb 0 124px,#06f 0 125px,#09f 0 127px,#05f 0 129px,#00f 0 130px,#0cf 0 131px,#08f 0 134px,#07f 0 135px,#05f 0 136px,#00f 0 137px,#00e 0 138px,#02f 0 140px,#08f 0 141px,#00e 0 142px,#08f 0 143px,#04f 0 145px,#00e 0 146px,#00d 0 147px,#07f 0 148px,#00f 0 149px,#00d 0 151px,#06f 0 152px,#05f 0 153px,#0af 0 154px,#05f 0 156px,#08f 0 157px,#02f 0 158px,#00e 0 159px,#08f 0 160px,#00a 0 162px,#00f 0 163px,#04f 0 164px,#00f 0 167px,#0af 0 168px,#00f 0 169px,#00e 0 170px,#01f 0 172px,#00c 0 173px,#02f 0 174px,#8f6 0 175px,#08f 0 176px,#09f 0 178px,#08f 0 179px,#03f 0 180px,#0bf 0 181px,#00f 0 183px,#00d 0 184px,#00a 0 185px,#06f 0 186px,#00f 0 187px,#02f 0 189px,#00d 0 190px,#05f 0 191px,#00c 0 192px,#02f 0 194px,#09f 0 195px,#01f 0 196px,#06f 0 197px,#00f 0 198px,#02f 0 200px,#06f 0 201px,#00a 0 202px,#00f 0 203px,#0af 0 205px,#00e 0 206px,#0cf 0 207px,#00d 0 209px,#00b 0 211px,#00e 0 212px,#01f 0 213px,#00f 0 216px,#08f 0 218px,#05f 0 219px,#04f 0 221px,#05f 0 222px,#00d 0 223px,#09f 0 224px,#0bf 0 225px,#07f 0 227px,#05f 0 228px,#04f 0 229px,#00e 0 230px,#0df 0 232px,#06f 0 233px,#1fd 0 234px,#0af 0 235px,#05f 0 236px,#09f 0 238px,#04f 0 239px,#02f 0 240px,#00e 0 241px,#0cf 0 243px,#00f 0 245px,#0cf 0 246px,#02f 0 247px,#01f 0 249px,#00f 0 250px,#02f 0 251px,#04f 0 254px,#0bf 0 255px,#05f 0 256px,#00d 0 257px,#06f 0 258px,#04f 0 260px,#08f 0 261px,#00e 0 263px,#00d 0 267px,#00f 0 268px,#8f6 0 270px,#02f 0 271px,#0cf 0 272px,#02f 0 273px,#00f 0 274px,#03f 0 276px,#02f 0 277px,#01f 0 278px,#0af 0 279px,#09f 0 281px,#01f 0 282px,#09f 0 283px,#0bf 0 284px,#01f 0 285px,#00f 0 287px,#0cf 0 288px,#04f 0 289px,#07f 0 290px,#04f 0 292px,#0bf 0 293px,#09f 0 294px,#05f 0 295px,#6f8 0 296px,#05f 0 298px,#00e 0 299px,#02f 0 300px,#00e 0 301px,#06f 0 303px,#03f 0 304px,#08f 0 305px,#05f 0 307px,#0cf 0 309px,#07f 0 310px,#1ee 0 311px,#09f 0 312px,#08f 0 314px,#02f 0 315px,#6f8 0 316px,#08f 0 317px,#00f 0 318px,#00e 0 320px,#04f 0 321px,#0bf 0 322px,#01f 0 323px,#0cf 0 325px,#0df 0 326px,#00f 0 327px,#6f8 0 328px,#5f9 0 330px,#04f 0 331px,#bf3 0 332px,#0af 0 333px,#0cf 0 334px,#07f 0 336px,#0af 0 337px,#3fb 0 338px,#01f 0 339px,#06f 0 341px,#03f 0 342px,#09f 0 343px,#0bf 0 344px,#9f5 0 345px,#bf4 0 347px,#2fc 0 348px,#07f 0 349px,#02f 0 350px,#07f 0 352px,#1fd 0 353px,#0bf 0 354px,#00c 0 355px,#08f 0 356px,#5f9 0 358px,#02f 0 359px,#7f8 0 361px,#02f 0 363px,#03f 0 364px,#00e 0 365px,#2fc 0 366px,#02f 0 368px,#5f9 0 370px,#05f 0 371px,#00f 0 372px,#07f 0 374px,#00f 0 375px,#5f9 0 376px,#05f 0 377px,#2fc 0 379px,#04f 0 380px,#06f 0 381px,#0af 0 385px,#00a 0 386px,#09f 0 387px,#1fd 0 388px,#0cf 0 390px,#00c 0 391px,#6f8 0 392px,#fc0 0 393px,#1ee 0 394px,#bf4 0 396px,#0bf 0 397px,#01f 0 398px,#0df 0 399px,#0cf 0 401px,#4fb 0 402px,#0cf 0 403px,#fe0 0 404px,#06f 0 405px,#0af 0 407px,#00f 0 408px,#5f9 0 409px,#0df 0 410px,#02f 0 412px,#00e 0 413px,#3fb 0 414px,#800 0 415px,#0af 0 417px,#02f 0 418px,#f20 0 419px,#e00 0 420px,#00d 0 421px,#f90 0 423px,#09f 0 424px,#00f 0 425px,#3fb 0 426px,#00f 0 428px,#2fc 0 429px,#800 0 430px,#f10 0 431px,#cf2 0 432px,#0cf 0 434px,#900 0 435px,#d00 0 436px,#1fd 0 437px,#8f7 0 439px,#f60 0 440px,#08f 0 441px,#f70 0 442px,#fa0 0 443px,#00b 0 445px,#9f5 0 446px,#800 0 447px,#00e 0 448px,#07f 0 450px,#6f8 0 451px,#800 0 452px,#04f 0 453px,#800 0 454px,#0af 0 456px,#8f7 0 457px,#fc0 0 458px,#f20 0 459px,#fc0 0 461px,#3fb 0 462px,#800 0 464px,#00e 0 466px,#0af 0 467px,#8f6 0 468px,#bf4 0 469px,#08f 0 470px,#7f8 0 472px,#fd0 0 473px,#b00 0 474px,#af5 0 475px,#800 0 477px,#f80 0 478px,#800 0 485px,#fe0 0 486px,#800 0 490px)"></i><i style="left:311px;width:9px;background:linear-gradient(#03f 0 1px,#00f 0 2px,#0bf 0 4px,#00c 0 5px,#07f 0 6px,#00e 0 7px,#06f 0 9px,#02f 0 10px,#00d 0 11px,#00f 0 12px,#00d 0 13px,#01f 0 15px,#1ee 0 16px,#04f 0 17px,#06f 0 20px,#00f 0 22px,#01f 0 23px,#00f 0 24px,#00d 0 26px,#04f 0 27px,#0bf 0 28px,#01f 0 29px,#07f 0 31px,#04f 0 34px,#03f 0 36px,#01f 0 37px,#0af 0 38px,#02f 0 40px,#05f 0 42px,#02f 0 43px,#00d 0 44px,#00f 0 45px,#07f 0 47px,#08f 0 48px,#04f 0 49px,#06f 0 50px,#00f 0 51px,#03f 0 53px,#00d 0 54px,#0df 0 55px,#02f 0 56px,#06f 0 58px,#00f 0 59px,#01f 0 60px,#02f 0 61px,#01f 0 62px,#00f 0 64px,#05f 0 65px,#00e 0 66px,#01f 0 67px,#06f 0 69px,#03f 0 70px,#0af 0 71px,#00d 0 72px,#08f 0 74px,#00f 0 75px,#00d 0 76px,#00a 0 77px,#04f 0 78px,#05f 0 80px,#00b 0 81px,#00c 0 82px,#02f 0 83px,#00d 0 85px,#07f 0 86px,#02f 0 88px,#00c 0 89px,#05f 0 92px,#0df 0 93px,#04f 0 94px,#07f 0 96px,#00c 0 97px,#00f 0 99px,#0cf 0 100px,#00e 0 102px,#04f 0 103px,#02f 0 104px,#00b 0 105px,#0af 0 107px,#00c 0 108px,#01f 0 109px,#00b 0 110px,#00f 0 111px,#03f 0 113px,#00b 0 114px,#1ee 0 115px,#0af 0 116px,#06f 0 118px,#00e 0 119px,#00f 0 120px,#03f 0 121px,#00f 0 123px,#0bf 0 124px,#07f 0 125px,#00d 0 126px,#03f 0 127px,#1fd 0 129px,#04f 0 130px,#0df 0 131px,#2fc 0 132px,#01f 0 134px,#4fb 0 135px,#08f 0 136px,#07f 0 137px,#00c 0 138px,#0bf 0 140px,#08f 0 141px,#01f 0 142px,#00f 0 145px,#00d 0 146px,#05f 0 147px,#02f 0 148px,#03f 0 151px,#0df 0 152px,#07f 0 153px,#4fb 0 154px,#00f 0 157px,#01f 0 158px,#00d 0 159px,#0bf 0 160px,#00c 0 162px,#04f 0 163px,#02f 0 164px,#04f 0 165px,#08f 0 167px,#07f 0 168px,#06f 0 169px,#00e 0 170px,#03f 0 172px,#08f 0 173px,#00f 0 174px,#9f5 0 175px,#1fd 0 176px,#2fc 0 178px,#05f 0 179px,#08f 0 180px,#06f 0 181px,#00d 0 184px,#01f 0 185px,#05f 0 186px,#04f 0 187px,#00f 0 189px,#03f 0 190px,#07f 0 191px,#00e 0 194px,#04f 0 195px,#06f 0 196px,#0df 0 197px,#00e 0 198px,#01f 0 200px,#0df 0 201px,#00f 0 202px,#03f 0 203px,#1fd 0 205px,#06f 0 206px,#01f 0 207px,#02f 0 208px,#00f 0 209px,#00c 0 211px,#05f 0 212px,#0cf 0 213px,#00f 0 214px,#00c 0 216px,#4fb 0 217px,#05f 0 218px,#02f 0 219px,#03f 0 221px,#0df 0 222px,#07f 0 223px,#1ee 0 224px,#06f 0 225px,#0af 0 227px,#01f 0 228px,#0cf 0 229px,#00e 0 230px,#06f 0 232px,#05f 0 233px,#1ee 0 234px,#5fa 0 235px,#07f 0 236px,#01f 0 238px,#00e 0 239px,#00f 0 240px,#00c 0 241px,#0cf 0 243px,#03f 0 244px,#5f9 0 245px,#01f 0 246px,#03f 0 247px,#05f 0 249px,#02f 0 250px,#01f 0 251px,#05f 0 252px,#09f 0 254px,#07f 0 255px,#06f 0 256px,#00b 0 257px,#03f 0 258px,#04f 0 261px,#00e 0 262px,#06f 0 263px,#03f 0 265px,#00f 0 266px,#0cf 0 267px,#04f 0 268px,#5f9 0 270px,#2fc 0 272px,#05f 0 274px,#0cf 0 276px,#05f 0 277px,#01f 0 278px,#0cf 0 279px,#8f7 0 281px,#00f 0 282px,#0df 0 283px,#07f 0 284px,#04f 0 285px,#00d 0 287px,#6f8 0 288px,#09f 0 289px,#2fc 0 290px,#02f 0 292px,#09f 0 293px,#4fb 0 294px,#07f 0 295px,#4fb 0 296px,#0bf 0 298px,#00e 0 299px,#04f 0 300px,#03f 0 301px,#0af 0 303px,#00f 0 304px,#09f 0 305px,#05f 0 306px,#02f 0 307px,#6f8 0 309px,#04f 0 310px,#7f8 0 311px,#1ee 0 312px,#7f8 0 314px,#00e 0 315px,#0af 0 316px,#6f8 0 317px,#00f 0 318px,#02f 0 320px,#00f 0 321px,#09f 0 323px,#08f 0 326px,#00e 0 327px,#0af 0 328px,#2fc 0 330px,#08f 0 331px,#fe0 0 332px,#02f 0 333px,#0cf 0 334px,#04f 0 336px,#9f5 0 337px,#06f 0 338px,#00f 0 339px,#05f 0 342px,#03f 0 343px,#00f 0 344px,#9f5 0 345px,#7f8 0 347px,#0af 0 348px,#06f 0 349px,#07f 0 350px,#00e 0 352px,#07f 0 353px,#0af 0 354px,#0cf 0 355px,#04f 0 356px,#07f 0 358px,#02f 0 359px,#03f 0 360px,#0df 0 361px,#01f 0 363px,#04f 0 364px,#03f 0 365px,#0cf 0 366px,#00f 0 368px,#07f 0 369px,#0cf 0 370px,#00e 0 371px,#08f 0 372px,#1ee 0 374px,#00e 0 375px,#01f 0 376px,#07f 0 377px,#02f 0 379px,#00c 0 380px,#3fb 0 381px,#2fc 0 382px,#1ee 0 383px,#05f 0 385px,#08f 0 386px,#2fc 0 387px,#06f 0 388px,#01f 0 390px,#00f 0 392px,#0cf 0 393px,#00f 0 394px,#f80 0 396px,#01f 0 397px,#00f 0 398px,#5f9 0 399px,#0af 0 401px,#1fd 0 402px,#3fb 0 403px,#1ee 0 404px,#0bf 0 405px,#fa0 0 407px,#0cf 0 408px,#07f 0 409px,#2fc 0 412px,#0af 0 413px,#fe0 0 415px,#8f7 0 417px,#0cf 0 418px,#fb0 0 419px,#af5 0 420px,#5fa 0 421px,#f20 0 423px,#1fd 0 424px,#5f9 0 425px,#1ee 0 426px,#00f 0 428px,#08f 0 429px,#2fc 0 430px,#0df 0 431px,#02f 0 432px,#1ee 0 434px,#4fb 0 435px,#07f 0 436px,#800 0 437px,#08f 0 439px,#4fb 0 440px,#f70 0 441px,#800 0 442px,#00e 0 443px,#8f7 0 445px,#800 0 446px,#fd0 0 447px,#0cf 0 450px,#04f 0 451px,#08f 0 452px,#fd0 0 453px,#fb0 0 454px,#2fc 0 456px,#800 0 457px,#00e 0 458px,#8f7 0 459px,#af5 0 461px,#5f9 0 462px,#800 0 463px,#c00 0 464px,#0af 0 466px,#8f7 0 467px,#800 0 469px,#3fb 0 470px,#9f5 0 472px,#08f 0 474px,#6f8 0 475px,#fe0 0 477px,#800 0 478px,#f20 0 479px,#f50 0 480px,#800 0 484px,#fb0 0 485px,#b00 0 486px,#800 0 489px,#0df 0 490px)"></i><i style="left:320px;width:10px;background:linear-gradient(#00f 0 1px,#00d 0 2px,#03f 0 4px,#00f 0 5px,#0cf 0 6px,#00e 0 7px,#02f 0 9px,#00f 0 11px,#06f 0 12px,#00f 0 13px,#05f 0 15px,#0cf 0 16px,#00e 0 17px,#00f 0 18px,#0af 0 20px,#02f 0 21px,#04f 0 22px,#00c 0 23px,#02f 0 24px,#00b 0 26px,#00d 0 27px,#0cf 0 28px,#09f 0 29px,#00f 0 31px,#00d 0 32px,#01f 0 33px,#1ee 0 34px,#0af 0 36px,#00f 0 37px,#03f 0 38px,#01f 0 39px,#05f 0 40px,#00f 0 42px,#09f 0 43px,#00f 0 44px,#00c 0 45px,#00e 0 47px,#00f 0 48px,#01f 0 49px,#00e 0 50px,#05f 0 53px,#00f 0 54px,#1fd 0 56px,#0af 0 58px,#04f 0 59px,#00f 0 60px,#06f 0 61px,#05f 0 62px,#00d 0 64px,#06f 0 65px,#02f 0 67px,#1fd 0 69px,#06f 0 70px,#04f 0 71px,#01f 0 72px,#02f 0 74px,#00e 0 75px,#00c 0 76px,#00a 0 77px,#06f 0 78px,#02f 0 80px,#00d 0 81px,#00f 0 82px,#08f 0 83px,#01f 0 85px,#00f 0 86px,#02f 0 87px,#05f 0 88px,#00f 0 89px,#06f 0 91px,#00f 0 92px,#0cf 0 93px,#0bf 0 94px,#00f 0 96px,#00e 0 97px,#0cf 0 98px,#05f 0 99px,#04f 0 102px,#07f 0 103px,#0bf 0 104px,#00c 0 105px,#02f 0 107px,#00e 0 108px,#01f 0 109px,#00b 0 110px,#00d 0 111px,#05f 0 113px,#00d 0 114px,#8f7 0 115px,#0cf 0 116px,#04f 0 118px,#00e 0 119px,#00f 0 121px,#1ee 0 123px,#06f 0 124px,#09f 0 125px,#02f 0 126px,#05f 0 127px,#04f 0 129px,#00f 0 130px,#09f 0 131px,#04f 0 134px,#03f 0 135px,#0bf 0 136px,#0cf 0 137px,#00e 0 138px,#0cf 0 140px,#05f 0 141px,#06f 0 142px,#00e 0 143px,#03f 0 145px,#00d 0 146px,#3fb 0 147px,#08f 0 148px,#00f 0 149px,#0af 0 151px,#01f 0 152px,#0af 0 153px,#04f 0 154px,#0cf 0 156px,#00b 0 157px,#07f 0 158px,#04f 0 159px,#00f 0 162px,#07f 0 163px,#05f 0 164px,#0af 0 165px,#04f 0 168px,#00e 0 169px,#00f 0 170px,#01f 0 172px,#06f 0 174px,#0bf 0 175px,#1ee 0 176px,#0df 0 178px,#00e 0 179px,#07f 0 180px,#00e 0 181px,#00f 0 183px,#01f 0 184px,#00c 0 185px,#01f 0 186px,#00e 0 187px,#00d 0 189px,#01f 0 191px,#02f 0 192px,#00e 0 194px,#01f 0 195px,#0cf 0 196px,#01f 0 197px,#00e 0 198px,#05f 0 200px,#07f 0 201px,#02f 0 202px,#05f 0 203px,#02f 0 205px,#07f 0 206px,#05f 0 207px,#02f 0 208px,#00d 0 209px,#03f 0 211px,#0cf 0 212px,#00b 0 213px,#04f 0 214px,#00c 0 216px,#4fb 0 217px,#01f 0 218px,#00f 0 219px,#0cf 0 221px,#08f 0 222px,#0af 0 223px,#3fb 0 224px,#02f 0 225px,#07f 0 227px,#04f 0 228px,#00c 0 229px,#02f 0 230px,#0cf 0 232px,#02f 0 233px,#09f 0 234px,#0cf 0 235px,#0af 0 236px,#00e 0 238px,#04f 0 239px,#00e 0 240px,#03f 0 241px,#05f 0 243px,#02f 0 244px,#3fb 0 245px,#00e 0 246px,#00c 0 247px,#03f 0 249px,#0df 0 250px,#00c 0 251px,#00f 0 252px,#0bf 0 254px,#01f 0 255px,#03f 0 256px,#00b 0 257px,#02f 0 260px,#00d 0 262px,#00f 0 263px,#00d 0 265px,#00f 0 266px,#03f 0 267px,#02f 0 268px,#8f6 0 270px,#5f9 0 271px,#08f 0 272px,#0df 0 273px,#05f 0 274px,#00f 0 277px,#00c 0 278px,#02f 0 279px,#05f 0 281px,#06f 0 282px,#04f 0 283px,#03f 0 284px,#07f 0 285px,#00d 0 287px,#5f9 0 288px,#0cf 0 290px,#03f 0 292px,#0cf 0 293px,#0bf 0 294px,#5fa 0 295px,#4fb 0 296px,#0af 0 298px,#00f 0 299px,#01f 0 300px,#08f 0 301px,#0cf 0 303px,#04f 0 304px,#07f 0 305px,#00e 0 306px,#05f 0 307px,#0df 0 309px,#00d 0 310px,#06f 0 311px,#00f 0 312px,#0df 0 314px,#00e 0 315px,#05f 0 316px,#6f8 0 317px,#00e 0 318px,#02f 0 320px,#0af 0 321px,#06f 0 322px,#02f 0 323px,#09f 0 325px,#08f 0 326px,#00b 0 327px,#00f 0 328px,#0cf 0 330px,#02f 0 331px,#4fb 0 332px,#1ee 0 333px,#00f 0 334px,#06f 0 336px,#09f 0 337px,#00e 0 338px,#07f 0 339px,#05f 0 341px,#09f 0 342px,#04f 0 343px,#00d 0 344px,#7f8 0 345px,#0cf 0 347px,#03f 0 348px,#04f 0 349px,#03f 0 350px,#00f 0 352px,#07f 0 353px,#8f6 0 354px,#00f 0 355px,#0bf 0 356px,#0af 0 358px,#04f 0 359px,#02f 0 360px,#05f 0 361px,#09f 0 363px,#00e 0 364px,#04f 0 365px,#00f 0 366px,#02f 0 369px,#08f 0 370px,#06f 0 371px,#08f 0 372px,#0af 0 374px,#00d 0 375px,#0cf 0 376px,#00d 0 377px,#0af 0 379px,#03f 0 380px,#07f 0 382px,#0af 0 383px,#00f 0 385px,#00e 0 386px,#5f9 0 387px,#06f 0 388px,#09f 0 390px,#05f 0 391px,#01f 0 392px,#4fb 0 393px,#01f 0 394px,#2fc 0 396px,#06f 0 397px,#01f 0 398px,#07f 0 399px,#03f 0 401px,#2fc 0 402px,#03f 0 403px,#0af 0 404px,#1fd 0 405px,#06f 0 407px,#f70 0 408px,#0cf 0 409px,#2fc 0 410px,#b00 0 412px,#03f 0 413px,#8f6 0 414px,#03f 0 415px,#09f 0 417px,#0cf 0 418px,#af5 0 419px,#07f 0 420px,#08f 0 421px,#fc0 0 423px,#ef1 0 424px,#0bf 0 425px,#fe0 0 426px,#02f 0 428px,#1fd 0 429px,#03f 0 430px,#800 0 431px,#f50 0 432px,#f40 0 434px,#fa0 0 435px,#800 0 436px,#bf3 0 437px,#f80 0 440px,#800 0 441px,#f80 0 442px,#00f 0 443px,#7f8 0 445px,#f80 0 446px,#e00 0 447px,#00f 0 448px,#bf4 0 450px,#06f 0 451px,#0df 0 452px,#800 0 453px,#fe0 0 454px,#0bf 0 456px,#800 0 457px,#f50 0 458px,#800 0 459px,#0bf 0 461px,#6f8 0 462px,#fc0 0 463px,#4fb 0 464px,#8f7 0 466px,#800 0 467px,#fe0 0 468px,#5f9 0 469px,#800 0 480px,#fd0 0 481px,#800 0 486px,#b00 0 488px,#f20 0 489px,#800 0 490px)"></i><i style="left:330px;width:10px;background:linear-gradient(#00d 0 1px,#00e 0 2px,#01f 0 5px,#1ee 0 6px,#00a 0 7px,#0cf 0 9px,#00f 0 10px,#00a 0 11px,#02f 0 12px,#00d 0 13px,#04f 0 15px,#02f 0 16px,#00e 0 17px,#01f 0 18px,#02f 0 20px,#03f 0 21px,#00b 0 22px,#03f 0 23px,#01f 0 24px,#00d 0 26px,#00c 0 27px,#08f 0 28px,#01f 0 29px,#04f 0 31px,#00f 0 32px,#01f 0 33px,#05f 0 34px,#01f 0 36px,#00d 0 37px,#02f 0 38px,#04f 0 39px,#02f 0 40px,#00f 0 42px,#03f 0 43px,#00f 0 44px,#06f 0 45px,#00f 0 47px,#00b 0 48px,#00e 0 49px,#03f 0 50px,#00f 0 51px,#04f 0 53px,#00c 0 54px,#2fc 0 56px,#0af 0 58px,#01f 0 59px,#03f 0 60px,#00d 0 61px,#00e 0 62px,#03f 0 64px,#01f 0 65px,#02f 0 66px,#009 0 67px,#0cf 0 69px,#02f 0 70px,#07f 0 71px,#03f 0 72px,#00d 0 74px,#00e 0 75px,#00f 0 77px,#0bf 0 78px,#05f 0 80px,#00e 0 81px,#00f 0 82px,#04f 0 83px,#05f 0 85px,#00c 0 86px,#01f 0 87px,#07f 0 88px,#00b 0 89px,#08f 0 91px,#06f 0 92px,#03f 0 93px,#01f 0 94px,#05f 0 96px,#00d 0 97px,#00f 0 98px,#02f 0 99px,#08f 0 100px,#00e 0 102px,#00d 0 103px,#00e 0 104px,#00f 0 108px,#04f 0 109px,#00e 0 110px,#00f 0 111px,#00c 0 113px,#05f 0 114px,#06f 0 115px,#00f 0 116px,#0df 0 118px,#03f 0 119px,#07f 0 120px,#00d 0 121px,#00e 0 123px,#00c 0 124px,#0df 0 125px,#01f 0 126px,#05f 0 127px,#0af 0 129px,#04f 0 130px,#00d 0 131px,#00e 0 132px,#03f 0 134px,#05f 0 135px,#0cf 0 137px,#03f 0 138px,#08f 0 140px,#07f 0 141px,#09f 0 142px,#2fc 0 143px,#00f 0 145px,#00e 0 146px,#2fc 0 147px,#03f 0 148px,#01f 0 149px,#03f 0 151px,#1ee 0 152px,#03f 0 153px,#0cf 0 154px,#1ee 0 156px,#00e 0 157px,#08f 0 158px,#01f 0 159px,#00e 0 160px,#00b 0 162px,#09f 0 163px,#06f 0 165px,#09f 0 167px,#00d 0 168px,#00a 0 169px,#02f 0 172px,#00e 0 173px,#0df 0 174px,#0bf 0 175px,#06f 0 176px,#3fb 0 178px,#02f 0 179px,#0cf 0 180px,#04f 0 181px,#01f 0 184px,#05f 0 185px,#03f 0 186px,#04f 0 187px,#00b 0 190px,#02f 0 191px,#00f 0 192px,#0df 0 194px,#02f 0 195px,#00e 0 196px,#04f 0 197px,#02f 0 198px,#07f 0 200px,#00f 0 201px,#00e 0 202px,#1ee 0 203px,#00f 0 205px,#06f 0 206px,#02f 0 207px,#00f 0 208px,#04f 0 209px,#02f 0 211px,#04f 0 212px,#01f 0 213px,#0bf 0 214px,#05f 0 216px,#1fd 0 217px,#00f 0 219px,#05f 0 221px,#04f 0 222px,#2fc 0 223px,#06f 0 224px,#02f 0 225px,#07f 0 227px,#01f 0 228px,#00f 0 229px,#00e 0 230px,#5f9 0 232px,#00c 0 233px,#04f 0 234px,#00e 0 235px,#00c 0 236px,#04f 0 238px,#01f 0 239px,#06f 0 240px,#03f 0 241px,#04f 0 243px,#07f 0 244px,#00f 0 245px,#01f 0 246px,#00b 0 247px,#02f 0 249px,#09f 0 250px,#00b 0 251px,#00e 0 252px,#08f 0 254px,#03f 0 255px,#06f 0 256px,#00b 0 257px,#00e 0 258px,#06f 0 260px,#05f 0 261px,#06f 0 262px,#01f 0 263px,#03f 0 265px,#04f 0 266px,#01f 0 267px,#04f 0 268px,#0df 0 270px,#08f 0 271px,#0af 0 272px,#1fd 0 273px,#06f 0 276px,#00f 0 277px,#00b 0 278px,#05f 0 279px,#8f7 0 281px,#08f 0 282px,#4fb 0 283px,#00e 0 284px,#00f 0 285px,#00d 0 287px,#03f 0 288px,#06f 0 289px,#03f 0 290px,#0bf 0 292px,#4fb 0 293px,#0bf 0 294px,#06f 0 295px,#04f 0 296px,#01f 0 298px,#0cf 0 299px,#0af 0 300px,#0df 0 301px,#07f 0 303px,#0cf 0 305px,#00b 0 306px,#06f 0 307px,#08f 0 309px,#09f 0 310px,#0cf 0 311px,#06f 0 312px,#08f 0 314px,#04f 0 315px,#01f 0 316px,#6f8 0 317px,#03f 0 318px,#00f 0 320px,#0af 0 321px,#1ee 0 322px,#00c 0 323px,#07f 0 326px,#01f 0 327px,#00d 0 328px,#0cf 0 330px,#03f 0 331px,#1fd 0 332px,#08f 0 333px,#02f 0 334px,#5fa 0 336px,#0cf 0 337px,#00f 0 338px,#05f 0 339px,#0af 0 341px,#1ee 0 342px,#0df 0 343px,#1ee 0 344px,#08f 0 345px,#3fb 0 347px,#0df 0 348px,#af5 0 349px,#09f 0 350px,#00f 0 353px,#0cf 0 354px,#0bf 0 355px,#0cf 0 356px,#07f 0 358px,#06f 0 359px,#0af 0 360px,#0cf 0 361px,#fc0 0 363px,#1fd 0 364px,#7f8 0 365px,#08f 0 366px,#00c 0 368px,#7f8 0 369px,#09f 0 370px,#07f 0 371px,#04f 0 372px,#0cf 0 374px,#00e 0 375px,#00d 0 376px,#00c 0 377px,#03f 0 379px,#5fa 0 380px,#f60 0 381px,#8f7 0 382px,#02f 0 383px,#00d 0 385px,#03f 0 386px,#1fd 0 387px,#0cf 0 388px,#0df 0 390px,#0cf 0 391px,#07f 0 392px,#0df 0 393px,#00b 0 394px,#0df 0 396px,#03f 0 397px,#04f 0 398px,#07f 0 399px,#08f 0 401px,#a00 0 402px,#df1 0 403px,#04f 0 404px,#ef1 0 407px,#f40 0 408px,#01f 0 409px,#3fb 0 410px,#800 0 412px,#2fc 0 413px,#0cf 0 414px,#f90 0 415px,#06f 0 417px,#0df 0 418px,#f60 0 419px,#5fa 0 420px,#05f 0 421px,#9f5 0 423px,#009 0 424px,#00f 0 425px,#800 0 426px,#0bf 0 428px,#7f8 0 429px,#02f 0 430px,#f10 0 431px,#800 0 432px,#09f 0 434px,#8f6 0 435px,#8f7 0 436px,#3fb 0 437px,#8f7 0 439px,#0bf 0 440px,#fe0 0 441px,#02f 0 442px,#f20 0 443px,#5f9 0 445px,#0af 0 446px,#800 0 447px,#6f8 0 448px,#9f5 0 450px,#800 0 452px,#fe0 0 453px,#800 0 454px,#009 0 456px,#0bf 0 457px,#2fc 0 458px,#f90 0 459px,#1ee 0 461px,#8f7 0 462px,#800 0 463px,#ef1 0 464px,#f50 0 466px,#800 0 467px,#04f 0 468px,#800 0 469px,#f90 0 470px,#bf4 0 472px,#cf2 0 473px,#800 0 475px,#0af 0 477px,#800 0 479px,#ef1 0 481px,#800 0 484px,#f90 0 485px,#800 0 490px)"></i><i style="left:340px;width:9px;background:linear-gradient(#01f 0 1px,#00c 0 2px,#03f 0 4px,#00f 0 5px,#09f 0 6px,#00f 0 7px,#04f 0 9px,#01f 0 10px,#00c 0 11px,#01f 0 12px,#09f 0 13px,#03f 0 15px,#05f 0 16px,#0af 0 17px,#09f 0 18px,#05f 0 20px,#00c 0 21px,#00d 0 22px,#0af 0 23px,#03f 0 24px,#00c 0 26px,#00b 0 27px,#02f 0 28px,#00f 0 31px,#04f 0 32px,#05f 0 33px,#06f 0 34px,#00c 0 36px,#07f 0 37px,#02f 0 38px,#03f 0 39px,#00f 0 42px,#07f 0 43px,#03f 0 44px,#08f 0 45px,#00f 0 47px,#00b 0 48px,#09f 0 49px,#01f 0 50px,#00f 0 51px,#07f 0 53px,#00e 0 54px,#05f 0 55px,#09f 0 56px,#01f 0 58px,#00c 0 59px,#00d 0 60px,#00f 0 61px,#00e 0 62px,#04f 0 64px,#00f 0 65px,#00e 0 66px,#00a 0 67px,#06f 0 69px,#00c 0 70px,#3fb 0 71px,#04f 0 72px,#01f 0 75px,#00b 0 76px,#04f 0 77px,#08f 0 78px,#00f 0 81px,#0bf 0 82px,#00f 0 83px,#06f 0 85px,#00d 0 86px,#00e 0 87px,#1fd 0 88px,#00f 0 89px,#03f 0 91px,#0bf 0 92px,#09f 0 93px,#01f 0 94px,#09f 0 96px,#00e 0 97px,#04f 0 98px,#09f 0 99px,#04f 0 100px,#02f 0 102px,#03f 0 103px,#00f 0 104px,#02f 0 105px,#09f 0 107px,#00c 0 108px,#00b 0 109px,#00d 0 110px,#03f 0 111px,#01f 0 113px,#06f 0 114px,#1ee 0 115px,#00f 0 116px,#09f 0 118px,#03f 0 119px,#00f 0 120px,#00a 0 121px,#00b 0 123px,#00d 0 124px,#07f 0 125px,#0cf 0 126px,#00e 0 127px,#01f 0 129px,#07f 0 130px,#01f 0 132px,#00c 0 134px,#01f 0 135px,#4fb 0 136px,#02f 0 137px,#01f 0 138px,#06f 0 141px,#0bf 0 142px,#0cf 0 143px,#00f 0 145px,#00b 0 146px,#1fd 0 147px,#00c 0 148px,#00b 0 149px,#2fc 0 151px,#07f 0 152px,#03f 0 153px,#0df 0 154px,#06f 0 156px,#00e 0 157px,#03f 0 158px,#00f 0 159px,#00c 0 160px,#00b 0 162px,#09f 0 163px,#06f 0 165px,#04f 0 167px,#02f 0 168px,#01f 0 170px,#00d 0 172px,#08f 0 173px,#2fc 0 174px,#05f 0 175px,#04f 0 176px,#08f 0 178px,#00d 0 179px,#0bf 0 180px,#06f 0 181px,#05f 0 183px,#06f 0 184px,#05f 0 185px,#00f 0 186px,#08f 0 187px,#00d 0 189px,#00e 0 190px,#01f 0 191px,#00e 0 192px,#2fc 0 194px,#03f 0 195px,#04f 0 196px,#00c 0 197px,#01f 0 198px,#00f 0 200px,#07f 0 201px,#00f 0 202px,#08f 0 203px,#00e 0 205px,#0bf 0 206px,#01f 0 207px,#02f 0 208px,#05f 0 209px,#01f 0 211px,#08f 0 212px,#00f 0 213px,#0cf 0 214px,#00e 0 216px,#0bf 0 217px,#00d 0 218px,#04f 0 219px,#0cf 0 221px,#01f 0 222px,#0af 0 223px,#00f 0 224px,#04f 0 225px,#01f 0 228px,#00d 0 229px,#00f 0 230px,#04f 0 232px,#00a 0 233px,#0cf 0 234px,#00d 0 235px,#00c 0 236px,#02f 0 238px,#01f 0 239px,#0cf 0 240px,#02f 0 241px,#7f8 0 243px,#01f 0 245px,#05f 0 246px,#00f 0 247px,#0cf 0 249px,#03f 0 250px,#04f 0 251px,#03f 0 252px,#05f 0 254px,#09f 0 255px,#1fd 0 256px,#00b 0 257px,#00d 0 258px,#01f 0 260px,#04f 0 262px,#00d 0 263px,#05f 0 265px,#01f 0 266px,#00e 0 267px,#00d 0 268px,#0df 0 270px,#01f 0 271px,#00e 0 272px,#bf4 0 273px,#0bf 0 274px,#01f 0 276px,#00e 0 277px,#00d 0 278px,#00f 0 279px,#1ee 0 281px,#07f 0 282px,#1ee 0 283px,#09f 0 284px,#00a 0 285px,#0cf 0 287px,#00f 0 288px,#1fd 0 289px,#00f 0 290px,#02f 0 292px,#0bf 0 293px,#6f8 0 294px,#5fa 0 295px,#04f 0 296px,#03f 0 298px,#02f 0 299px,#0af 0 300px,#4fb 0 301px,#05f 0 303px,#5fa 0 304px,#05f 0 305px,#00f 0 306px,#02f 0 307px,#00c 0 309px,#0cf 0 310px,#02f 0 311px,#0cf 0 312px,#06f 0 314px,#03f 0 315px,#02f 0 316px,#6f8 0 317px,#0cf 0 318px,#00f 0 320px,#0af 0 321px,#05f 0 322px,#00f 0 323px,#07f 0 325px,#00f 0 327px,#0bf 0 328px,#2fc 0 330px,#0af 0 331px,#07f 0 332px,#05f 0 333px,#02f 0 334px,#0af 0 336px,#04f 0 337px,#00d 0 338px,#09f 0 339px,#6f8 0 341px,#0af 0 342px,#1fd 0 343px,#03f 0 344px,#04f 0 345px,#8f7 0 347px,#08f 0 348px,#2fc 0 350px,#02f 0 352px,#06f 0 353px,#1ee 0 354px,#03f 0 355px,#0af 0 356px,#0df 0 358px,#0af 0 359px,#bf4 0 360px,#4fb 0 361px,#df1 0 363px,#0bf 0 364px,#0af 0 365px,#0cf 0 366px,#00b 0 368px,#4fb 0 369px,#09f 0 370px,#08f 0 371px,#05f 0 372px,#1fd 0 374px,#00f 0 375px,#09f 0 376px,#00f 0 377px,#00c 0 379px,#00f 0 380px,#f60 0 381px,#00e 0 382px,#0cf 0 383px,#00c 0 385px,#03f 0 386px,#6f8 0 387px,#5fa 0 388px,#6f8 0 391px,#05f 0 392px,#0df 0 393px,#02f 0 394px,#1fd 0 396px,#06f 0 397px,#0bf 0 398px,#cf2 0 399px,#00e 0 401px,#0cf 0 402px,#0af 0 403px,#ef1 0 404px,#5f9 0 405px,#0bf 0 407px,#2fc 0 408px,#07f 0 409px,#05f 0 410px,#f20 0 412px,#8f7 0 413px,#6f8 0 414px,#0af 0 417px,#2fc 0 418px,#00f 0 419px,#05f 0 420px,#0cf 0 421px,#0bf 0 423px,#fe0 0 424px,#08f 0 425px,#0cf 0 426px,#fe0 0 428px,#04f 0 429px,#02f 0 430px,#3fb 0 434px,#ef1 0 435px,#01f 0 436px,#9f5 0 437px,#d00 0 439px,#7f8 0 440px,#800 0 441px,#00b 0 442px,#800 0 443px,#fc0 0 445px,#800 0 447px,#1ee 0 448px,#f60 0 450px,#900 0 451px,#f30 0 452px,#4fb 0 453px,#bf3 0 454px,#0bf 0 456px,#08f 0 457px,#fc0 0 458px,#800 0 459px,#ef1 0 461px,#800 0 463px,#fe0 0 464px,#800 0 466px,#8f7 0 467px,#4fb 0 468px,#800 0 469px,#fd0 0 470px,#fe0 0 472px,#f80 0 473px,#800 0 474px,#2fc 0 475px,#fa0 0 477px,#800 0 480px,#f20 0 481px,#800 0 483px,#df1 0 484px,#800 0 488px,#f10 0 489px,#800 0 490px)"></i><i style="left:349px;width:10px;background:linear-gradient(#00f 0 2px,#00c 0 4px,#00f 0 5px,#03f 0 6px,#06f 0 7px,#07f 0 9px,#00f 0 10px,#00d 0 11px,#00c 0 12px,#05f 0 13px,#00f 0 15px,#03f 0 16px,#2fc 0 17px,#0bf 0 18px,#02f 0 20px,#00f 0 21px,#03f 0 22px,#01f 0 23px,#03f 0 26px,#00d 0 27px,#06f 0 28px,#00c 0 29px,#00f 0 31px,#04f 0 32px,#01f 0 33px,#02f 0 34px,#00f 0 36px,#0df 0 37px,#0af 0 38px,#00f 0 39px,#00e 0 40px,#00f 0 43px,#0bf 0 44px,#01f 0 45px,#00a 0 47px,#02f 0 48px,#04f 0 49px,#01f 0 50px,#04f 0 51px,#00f 0 53px,#00c 0 54px,#0cf 0 55px,#1ee 0 56px,#00f 0 58px,#08f 0 59px,#00e 0 61px,#00f 0 62px,#00e 0 64px,#00f 0 65px,#00c 0 66px,#009 0 67px,#08f 0 69px,#00d 0 70px,#3fb 0 71px,#00f 0 72px,#00d 0 74px,#04f 0 75px,#00a 0 76px,#06f 0 77px,#0af 0 78px,#00d 0 80px,#1fd 0 81px,#09f 0 82px,#00e 0 83px,#06f 0 85px,#04f 0 86px,#00e 0 87px,#09f 0 88px,#03f 0 89px,#05f 0 91px,#0cf 0 92px,#06f 0 93px,#01f 0 94px,#0bf 0 96px,#01f 0 97px,#02f 0 98px,#5fa 0 99px,#06f 0 100px,#01f 0 102px,#03f 0 103px,#01f 0 104px,#00c 0 105px,#0af 0 107px,#00f 0 108px,#04f 0 110px,#00b 0 111px,#00a 0 113px,#00e 0 114px,#06f 0 115px,#00e 0 116px,#00d 0 118px,#07f 0 119px,#00f 0 120px,#00d 0 121px,#00c 0 124px,#08f 0 125px,#0cf 0 126px,#02f 0 127px,#06f 0 129px,#02f 0 130px,#03f 0 131px,#01f 0 132px,#00f 0 134px,#05f 0 135px,#0cf 0 136px,#00f 0 137px,#06f 0 138px,#1ee 0 140px,#00f 0 141px,#08f 0 142px,#03f 0 143px,#01f 0 145px,#00d 0 146px,#0cf 0 147px,#00e 0 148px,#00d 0 149px,#02f 0 151px,#1ee 0 152px,#00e 0 153px,#00f 0 154px,#01f 0 156px,#0bf 0 157px,#05f 0 158px,#00c 0 159px,#00f 0 160px,#02f 0 162px,#00e 0 163px,#05f 0 164px,#03f 0 165px,#00f 0 167px,#04f 0 168px,#00f 0 169px,#04f 0 170px,#00f 0 172px,#08f 0 173px,#0cf 0 174px,#00d 0 175px,#04f 0 176px,#02f 0 179px,#0af 0 180px,#00f 0 181px,#02f 0 183px,#06f 0 184px,#08f 0 185px,#00d 0 186px,#09f 0 187px,#00f 0 189px,#00e 0 190px,#02f 0 191px,#00d 0 192px,#08f 0 194px,#0af 0 195px,#05f 0 196px,#02f 0 197px,#00e 0 198px,#00d 0 200px,#2fc 0 201px,#01f 0 202px,#06f 0 203px,#03f 0 205px,#02f 0 206px,#0cf 0 207px,#01f 0 208px,#08f 0 209px,#03f 0 212px,#0df 0 213px,#02f 0 214px,#00e 0 216px,#03f 0 217px,#01f 0 218px,#00f 0 219px,#05f 0 221px,#00e 0 222px,#5fa 0 223px,#06f 0 224px,#0cf 0 225px,#07f 0 227px,#06f 0 228px,#00f 0 229px,#03f 0 230px,#02f 0 232px,#00c 0 233px,#0cf 0 234px,#01f 0 235px,#03f 0 236px,#00d 0 238px,#05f 0 239px,#0df 0 240px,#00d 0 241px,#06f 0 243px,#05f 0 244px,#08f 0 245px,#07f 0 246px,#02f 0 247px,#07f 0 249px,#05f 0 250px,#00e 0 251px,#03f 0 252px,#04f 0 254px,#05f 0 255px,#0cf 0 256px,#04f 0 257px,#0cf 0 258px,#05f 0 260px,#0cf 0 261px,#02f 0 262px,#00d 0 263px,#00f 0 265px,#01f 0 266px,#06f 0 267px,#05f 0 268px,#04f 0 270px,#03f 0 271px,#07f 0 272px,#0bf 0 273px,#00f 0 274px,#07f 0 276px,#03f 0 277px,#00d 0 278px,#00e 0 279px,#01f 0 281px,#06f 0 282px,#5f9 0 283px,#07f 0 284px,#00b 0 285px,#03f 0 287px,#09f 0 288px,#06f 0 289px,#00f 0 292px,#08f 0 293px,#4fb 0 294px,#01f 0 295px,#0af 0 296px,#06f 0 298px,#02f 0 299px,#07f 0 300px,#06f 0 301px,#08f 0 303px,#04f 0 304px,#00e 0 305px,#0cf 0 306px,#05f 0 307px,#00f 0 309px,#01f 0 310px,#07f 0 311px,#02f 0 312px,#0bf 0 314px,#02f 0 315px,#03f 0 316px,#0cf 0 317px,#0df 0 318px,#09f 0 320px,#00f 0 322px,#02f 0 323px,#0cf 0 325px,#00e 0 326px,#07f 0 328px,#09f 0 330px,#07f 0 331px,#0cf 0 332px,#06f 0 333px,#02f 0 334px,#05f 0 336px,#8f6 0 337px,#00c 0 338px,#0af 0 339px,#0df 0 341px,#04f 0 342px,#08f 0 344px,#8f6 0 345px,#2fc 0 347px,#01f 0 348px,#7f8 0 349px,#0df 0 350px,#00e 0 352px,#09f 0 353px,#07f 0 354px,#05f 0 355px,#0cf 0 356px,#3fb 0 358px,#02f 0 359px,#af5 0 360px,#08f 0 361px,#3fb 0 363px,#4fb 0 364px,#07f 0 365px,#5f9 0 366px,#04f 0 368px,#0bf 0 369px,#0cf 0 370px,#09f 0 371px,#1fd 0 372px,#cf2 0 374px,#03f 0 375px,#04f 0 376px,#bf3 0 377px,#08f 0 379px,#2fc 0 380px,#af5 0 381px,#04f 0 382px,#01f 0 383px,#09f 0 385px,#07f 0 387px,#0cf 0 388px,#08f 0 390px,#bf3 0 391px,#00d 0 392px,#00f 0 393px,#3fb 0 394px,#07f 0 396px,#4fb 0 397px,#fc0 0 398px,#3fb 0 399px,#04f 0 401px,#f60 0 402px,#07f 0 403px,#06f 0 404px,#0af 0 405px,#fe0 0 407px,#ef1 0 408px,#1fd 0 409px,#08f 0 410px,#3fb 0 413px,#7f8 0 414px,#f10 0 415px,#0cf 0 417px,#2fc 0 418px,#0bf 0 419px,#2fc 0 420px,#8f7 0 421px,#01f 0 423px,#0cf 0 424px,#0bf 0 425px,#2fc 0 426px,#0cf 0 428px,#6f8 0 429px,#f20 0 430px,#800 0 431px,#7f8 0 432px,#1ee 0 434px,#4fb 0 435px,#02f 0 437px,#b00 0 439px,#03f 0 440px,#0cf 0 441px,#04f 0 442px,#f60 0 443px,#6f8 0 445px,#00b 0 446px,#8f7 0 447px,#fe0 0 448px,#00f 0 450px,#f80 0 451px,#800 0 452px,#1fd 0 453px,#f20 0 454px,#800 0 456px,#d00 0 457px,#fd0 0 458px,#800 0 459px,#ef1 0 461px,#f90 0 462px,#800 0 463px,#4fb 0 464px,#f60 0 466px,#5fa 0 467px,#8f6 0 468px,#f80 0 469px,#800 0 472px,#8f6 0 473px,#f90 0 474px,#3fb 0 475px,#fe0 0 477px,#1ee 0 478px,#0cf 0 479px,#800 0 483px,#0cf 0 484px,#800 0 486px,#a00 0 488px,#800 0 490px)"></i><i style="left:359px;width:10px;background:linear-gradient(#00b 0 1px,#00d 0 2px,#04f 0 4px,#01f 0 5px,#00e 0 6px,#04f 0 7px,#08f 0 9px,#02f 0 10px,#00d 0 11px,#00f 0 13px,#04f 0 15px,#03f 0 16px,#06f 0 20px,#00f 0 21px,#03f 0 22px,#05f 0 23px,#06f 0 24px,#04f 0 26px,#00e 0 27px,#04f 0 28px,#03f 0 29px,#00f 0 32px,#00b 0 33px,#01f 0 34px,#00f 0 36px,#06f 0 37px,#07f 0 38px,#04f 0 40px,#00c 0 42px,#00f 0 43px,#04f 0 44px,#05f 0 45px,#00f 0 47px,#01f 0 48px,#0af 0 49px,#00f 0 50px,#05f 0 51px,#00c 0 53px,#00e 0 54px,#07f 0 55px,#06f 0 56px,#09f 0 58px,#06f 0 59px,#01f 0 60px,#00e 0 61px,#08f 0 62px,#00e 0 64px,#09f 0 65px,#00f 0 66px,#00a 0 67px,#06f 0 69px,#00f 0 70px,#08f 0 71px,#00e 0 72px,#00c 0 74px,#04f 0 75px,#00c 0 76px,#0cf 0 77px,#08f 0 78px,#00f 0 80px,#08f 0 81px,#0bf 0 82px,#05f 0 83px,#04f 0 85px,#03f 0 86px,#05f 0 88px,#04f 0 89px,#05f 0 91px,#0cf 0 92px,#00e 0 93px,#08f 0 94px,#04f 0 96px,#00e 0 97px,#08f 0 98px,#1ee 0 99px,#08f 0 100px,#02f 0 102px,#04f 0 103px,#03f 0 104px,#00f 0 105px,#07f 0 107px,#02f 0 108px,#00c 0 109px,#00f 0 110px,#02f 0 111px,#00f 0 113px,#00d 0 114px,#03f 0 115px,#00f 0 118px,#01f 0 119px,#00e 0 120px,#02f 0 121px,#05f 0 123px,#00f 0 125px,#0cf 0 126px,#00e 0 127px,#06f 0 130px,#1ee 0 131px,#00e 0 132px,#00f 0 134px,#08f 0 135px,#07f 0 136px,#08f 0 137px,#00d 0 138px,#01f 0 140px,#02f 0 141px,#0cf 0 142px,#02f 0 143px,#00f 0 146px,#1ee 0 147px,#01f 0 148px,#04f 0 151px,#08f 0 152px,#00f 0 153px,#02f 0 154px,#04f 0 157px,#06f 0 158px,#01f 0 159px,#00f 0 162px,#0af 0 163px,#04f 0 164px,#00f 0 167px,#0af 0 168px,#00d 0 170px,#01f 0 172px,#0cf 0 173px,#3fb 0 174px,#0af 0 175px,#00f 0 178px,#09f 0 179px,#03f 0 180px,#00e 0 181px,#06f 0 183px,#07f 0 184px,#00f 0 186px,#00e 0 187px,#08f 0 189px,#00f 0 194px,#02f 0 195px,#0bf 0 196px,#0af 0 197px,#00b 0 198px,#00c 0 200px,#1fd 0 201px,#02f 0 202px,#06f 0 203px,#09f 0 205px,#05f 0 206px,#07f 0 207px,#06f 0 208px,#0af 0 209px,#01f 0 212px,#0cf 0 213px,#09f 0 214px,#00d 0 216px,#04f 0 217px,#03f 0 218px,#01f 0 219px,#04f 0 221px,#00d 0 222px,#2fc 0 223px,#1ee 0 224px,#1fd 0 225px,#07f 0 227px,#0af 0 228px,#02f 0 229px,#00f 0 232px,#00d 0 234px,#05f 0 235px,#04f 0 236px,#00c 0 238px,#00f 0 239px,#0cf 0 240px,#00e 0 241px,#02f 0 243px,#04f 0 244px,#00c 0 245px,#1fd 0 246px,#00f 0 247px,#0cf 0 249px,#0af 0 250px,#00f 0 251px,#06f 0 252px,#02f 0 254px,#00f 0 255px,#05f 0 256px,#0af 0 257px,#04f 0 258px,#07f 0 260px,#0bf 0 261px,#00f 0 263px,#00e 0 265px,#04f 0 266px,#1fd 0 267px,#05f 0 268px,#00f 0 270px,#05f 0 271px,#02f 0 272px,#0df 0 273px,#1fd 0 274px,#07f 0 276px,#02f 0 277px,#00e 0 278px,#02f 0 279px,#04f 0 281px,#08f 0 282px,#8f7 0 283px,#00f 0 284px,#03f 0 285px,#00e 0 287px,#00f 0 290px,#04f 0 292px,#00f 0 293px,#0bf 0 295px,#8f7 0 296px,#0cf 0 298px,#01f 0 299px,#07f 0 300px,#00e 0 301px,#0af 0 303px,#02f 0 304px,#05f 0 305px,#04f 0 306px,#06f 0 307px,#07f 0 309px,#04f 0 310px,#4fb 0 311px,#0af 0 312px,#08f 0 314px,#00e 0 315px,#0af 0 316px,#1fd 0 317px,#0bf 0 320px,#00f 0 321px,#01f 0 322px,#00f 0 323px,#7f8 0 325px,#0af 0 327px,#00f 0 328px,#04f 0 330px,#1ee 0 331px,#bf4 0 332px,#07f 0 333px,#05f 0 334px,#06f 0 336px,#6f8 0 337px,#03f 0 338px,#06f 0 339px,#09f 0 341px,#07f 0 342px,#05f 0 343px,#0bf 0 344px,#07f 0 345px,#08f 0 347px,#00d 0 348px,#bf4 0 349px,#2fc 0 350px,#01f 0 352px,#2fc 0 353px,#7f8 0 354px,#5f9 0 355px,#0cf 0 356px,#08f 0 358px,#02f 0 359px,#af5 0 360px,#1ee 0 361px,#0cf 0 363px,#00f 0 364px,#04f 0 365px,#01f 0 366px,#0df 0 368px,#4fb 0 369px,#f90 0 370px,#5fa 0 371px,#07f 0 372px,#fe0 0 374px,#0af 0 375px,#00f 0 376px,#08f 0 377px,#f50 0 379px,#02f 0 380px,#6f8 0 381px,#1fd 0 382px,#02f 0 383px,#04f 0 385px,#05f 0 386px,#01f 0 387px,#04f 0 388px,#08f 0 390px,#f60 0 391px,#00b 0 392px,#03f 0 393px,#0cf 0 394px,#2fc 0 396px,#0af 0 397px,#0df 0 398px,#0cf 0 399px,#00e 0 401px,#c00 0 402px,#00f 0 403px,#08f 0 404px,#1ee 0 405px,#fb0 0 407px,#4fb 0 408px,#0bf 0 409px,#df1 0 410px,#0bf 0 412px,#00f 0 413px,#09f 0 414px,#4fb 0 415px,#0cf 0 418px,#07f 0 419px,#0bf 0 420px,#8f7 0 421px,#01f 0 423px,#7f8 0 424px,#8f7 0 425px,#1ee 0 426px,#09f 0 428px,#05f 0 429px,#9f5 0 430px,#ef1 0 431px,#5fa 0 432px,#3fb 0 434px,#06f 0 435px,#0af 0 436px,#00f 0 437px,#1ee 0 439px,#9f5 0 440px,#0cf 0 441px,#8f6 0 442px,#0bf 0 443px,#5f9 0 445px,#08f 0 447px,#800 0 448px,#009 0 450px,#0df 0 451px,#800 0 452px,#af5 0 453px,#fb0 0 454px,#800 0 456px,#1ee 0 457px,#800 0 458px,#00b 0 461px,#fe0 0 462px,#f60 0 463px,#cf2 0 464px,#bf4 0 466px,#df1 0 467px,#f60 0 468px,#4fb 0 469px,#800 0 470px,#d00 0 472px,#00f 0 473px,#f50 0 474px,#800 0 475px,#c00 0 477px,#fa0 0 478px,#800 0 479px,#b00 0 480px,#800 0 481px,#fa0 0 483px,#800 0 484px,#b00 0 485px,#800 0 490px)"></i><i style="left:369px;width:10px;background:linear-gradient(#00f 0 2px,#07f 0 4px,#01f 0 5px,#09f 0 6px,#00f 0 7px,#08f 0 9px,#01f 0 10px,#00e 0 11px,#01f 0 12px,#00f 0 13px,#07f 0 15px,#00c 0 16px,#07f 0 17px,#01f 0 20px,#00f 0 21px,#06f 0 22px,#00f 0 23px,#08f 0 24px,#01f 0 26px,#00e 0 27px,#01f 0 29px,#03f 0 31px,#01f 0 32px,#00f 0 33px,#07f 0 34px,#00f 0 36px,#0cf 0 37px,#0bf 0 38px,#07f 0 40px,#03f 0 42px,#05f 0 43px,#03f 0 44px,#07f 0 45px,#00d 0 47px,#02f 0 48px,#00f 0 49px,#00c 0 50px,#05f 0 51px,#00c 0 53px,#00d 0 54px,#06f 0 55px,#04f 0 56px,#01f 0 58px,#05f 0 59px,#04f 0 60px,#0cf 0 61px,#08f 0 62px,#00f 0 64px,#04f 0 65px,#02f 0 66px,#009 0 67px,#0bf 0 69px,#00f 0 70px,#09f 0 71px,#02f 0 72px,#00e 0 74px,#00d 0 75px,#00a 0 76px,#00f 0 77px,#01f 0 78px,#00e 0 80px,#0af 0 81px,#07f 0 82px,#05f 0 83px,#04f 0 85px,#03f 0 86px,#07f 0 87px,#00e 0 88px,#06f 0 89px,#00f 0 91px,#05f 0 92px,#08f 0 93px,#2fc 0 94px,#1ee 0 96px,#04f 0 98px,#09f 0 99px,#02f 0 100px,#03f 0 102px,#00d 0 103px,#05f 0 104px,#00d 0 105px,#00f 0 107px,#01f 0 108px,#00f 0 109px,#00b 0 110px,#05f 0 111px,#02f 0 113px,#00c 0 114px,#00f 0 116px,#01f 0 118px,#00f 0 119px,#00d 0 120px,#00f 0 121px,#09f 0 123px,#07f 0 124px,#00f 0 125px,#07f 0 126px,#08f 0 127px,#05f 0 129px,#03f 0 130px,#08f 0 131px,#00b 0 132px,#01f 0 134px,#00f 0 135px,#05f 0 136px,#02f 0 137px,#00b 0 138px,#04f 0 140px,#01f 0 141px,#0cf 0 142px,#00f 0 145px,#05f 0 146px,#09f 0 147px,#00d 0 148px,#0af 0 151px,#01f 0 152px,#04f 0 153px,#00f 0 154px,#05f 0 156px,#00f 0 157px,#07f 0 158px,#08f 0 159px,#00b 0 160px,#00f 0 162px,#1ee 0 163px,#02f 0 164px,#0af 0 165px,#00d 0 167px,#05f 0 168px,#03f 0 170px,#02f 0 172px,#05f 0 173px,#00f 0 174px,#0cf 0 175px,#00f 0 176px,#09f 0 178px,#06f 0 179px,#08f 0 180px,#00f 0 181px,#07f 0 183px,#00f 0 184px,#04f 0 185px,#01f 0 186px,#00f 0 187px,#01f 0 189px,#00e 0 191px,#00f 0 192px,#04f 0 194px,#05f 0 195px,#07f 0 196px,#0af 0 197px,#02f 0 198px,#00f 0 200px,#2fc 0 201px,#00d 0 202px,#0bf 0 205px,#05f 0 206px,#0af 0 207px,#00f 0 208px,#06f 0 209px,#03f 0 211px,#00e 0 212px,#03f 0 213px,#06f 0 214px,#07f 0 216px,#06f 0 217px,#05f 0 218px,#02f 0 219px,#00f 0 222px,#4fb 0 223px,#0bf 0 224px,#09f 0 225px,#00d 0 227px,#04f 0 228px,#07f 0 229px,#08f 0 230px,#00f 0 234px,#04f 0 235px,#02f 0 236px,#06f 0 238px,#08f 0 239px,#0cf 0 240px,#00e 0 241px,#03f 0 243px,#00f 0 244px,#06f 0 245px,#1ee 0 246px,#04f 0 247px,#05f 0 249px,#4fb 0 250px,#00e 0 251px,#02f 0 252px,#00e 0 254px,#00f 0 256px,#06f 0 258px,#05f 0 260px,#03f 0 261px,#00f 0 262px,#00d 0 263px,#08f 0 265px,#06f 0 266px,#00f 0 267px,#09f 0 268px,#00e 0 270px,#09f 0 271px,#00b 0 272px,#0af 0 273px,#1fd 0 274px,#05f 0 276px,#04f 0 277px,#00e 0 278px,#08f 0 279px,#0af 0 281px,#09f 0 282px,#7f8 0 283px,#04f 0 284px,#0af 0 285px,#0cf 0 287px,#08f 0 288px,#05f 0 289px,#00b 0 290px,#0af 0 292px,#00f 0 293px,#2fc 0 294px,#0af 0 295px,#7f8 0 296px,#08f 0 298px,#06f 0 299px,#02f 0 300px,#00f 0 301px,#0cf 0 303px,#04f 0 304px,#00f 0 305px,#05f 0 306px,#09f 0 307px,#0cf 0 309px,#00f 0 310px,#0bf 0 311px,#02f 0 312px,#09f 0 314px,#05f 0 315px,#06f 0 316px,#5fa 0 317px,#02f 0 318px,#03f 0 320px,#00f 0 321px,#08f 0 322px,#02f 0 323px,#09f 0 325px,#05f 0 326px,#04f 0 327px,#03f 0 328px,#08f 0 331px,#09f 0 332px,#0af 0 333px,#01f 0 334px,#06f 0 336px,#bf3 0 337px,#00f 0 338px,#0cf 0 339px,#05f 0 341px,#00e 0 342px,#02f 0 343px,#4fb 0 344px,#00c 0 345px,#07f 0 347px,#00f 0 348px,#fe0 0 349px,#08f 0 350px,#00f 0 352px,#06f 0 353px,#07f 0 354px,#0cf 0 355px,#9f5 0 356px,#af5 0 358px,#05f 0 359px,#03f 0 360px,#06f 0 361px,#07f 0 363px,#00f 0 364px,#08f 0 365px,#03f 0 366px,#09f 0 368px,#3fb 0 369px,#fd0 0 370px,#4fb 0 371px,#02f 0 372px,#9f5 0 374px,#05f 0 375px,#09f 0 376px,#4fb 0 377px,#03f 0 379px,#05f 0 380px,#5f9 0 381px,#00e 0 382px,#07f 0 383px,#0df 0 385px,#05f 0 386px,#09f 0 387px,#5fa 0 388px,#06f 0 390px,#0df 0 391px,#3fb 0 392px,#00e 0 393px,#07f 0 394px,#2fc 0 396px,#5fa 0 397px,#bf4 0 398px,#1ee 0 399px,#5f9 0 401px,#4fb 0 402px,#00b 0 403px,#4fb 0 404px,#6f8 0 405px,#0cf 0 408px,#03f 0 409px,#4fb 0 410px,#f90 0 412px,#03f 0 413px,#8f7 0 414px,#fa0 0 415px,#5f9 0 417px,#bf3 0 418px,#05f 0 419px,#02f 0 420px,#05f 0 421px,#03f 0 423px,#3fb 0 424px,#5fa 0 425px,#01f 0 426px,#0cf 0 428px,#04f 0 429px,#0af 0 430px,#1fd 0 431px,#0cf 0 434px,#5fa 0 435px,#09f 0 436px,#00c 0 437px,#05f 0 439px,#bf4 0 440px,#00d 0 441px,#08f 0 442px,#8f6 0 443px,#6f8 0 445px,#f20 0 446px,#3fb 0 447px,#1fd 0 448px,#09f 0 450px,#fa0 0 451px,#800 0 452px,#fa0 0 453px,#1fd 0 454px,#bf4 0 456px,#6f8 0 457px,#f10 0 458px,#3fb 0 459px,#08f 0 461px,#07f 0 462px,#800 0 463px,#8f6 0 464px,#0bf 0 466px,#800 0 467px,#1ee 0 468px,#0cf 0 469px,#09f 0 470px,#800 0 473px,#00e 0 474px,#800 0 475px,#cf2 0 477px,#800 0 478px,#cf2 0 479px,#800 0 480px,#fb0 0 481px,#800 0 483px,#fd0 0 484px,#800 0 490px)"></i><i style="left:379px;width:9px;background:linear-gradient(#00f 0 1px,#00e 0 2px,#06f 0 4px,#05f 0 5px,#00f 0 9px,#05f 0 10px,#04f 0 11px,#00e 0 12px,#00d 0 13px,#00b 0 15px,#00f 0 16px,#0df 0 17px,#00d 0 18px,#01f 0 21px,#00d 0 22px,#00c 0 23px,#05f 0 24px,#07f 0 26px,#00f 0 27px,#04f 0 28px,#00f 0 29px,#00d 0 31px,#01f 0 32px,#00b 0 33px,#1ee 0 34px,#08f 0 36px,#03f 0 38px,#01f 0 39px,#0bf 0 40px,#01f 0 42px,#04f 0 43px,#00d 0 44px,#07f 0 45px,#00c 0 47px,#06f 0 49px,#07f 0 50px,#02f 0 51px,#00c 0 53px,#01f 0 54px,#06f 0 55px,#00e 0 56px,#00d 0 58px,#05f 0 59px,#00d 0 60px,#0cf 0 61px,#00e 0 62px,#00a 0 64px,#02f 0 65px,#07f 0 66px,#00f 0 67px,#09f 0 69px,#00f 0 70px,#03f 0 71px,#00f 0 72px,#00e 0 75px,#03f 0 76px,#00d 0 77px,#0bf 0 78px,#00e 0 80px,#04f 0 81px,#03f 0 83px,#06f 0 85px,#00e 0 86px,#00f 0 87px,#00d 0 88px,#0af 0 89px,#0cf 0 91px,#0af 0 92px,#00f 0 93px,#07f 0 94px,#0cf 0 96px,#00f 0 98px,#01f 0 99px,#05f 0 100px,#00f 0 102px,#1ee 0 103px,#00f 0 104px,#00e 0 107px,#06f 0 108px,#02f 0 109px,#00e 0 110px,#03f 0 111px,#06f 0 113px,#00f 0 114px,#02f 0 115px,#00c 0 116px,#04f 0 118px,#00f 0 119px,#00c 0 120px,#01f 0 121px,#09f 0 123px,#08f 0 124px,#00f 0 125px,#03f 0 126px,#09f 0 127px,#0bf 0 129px,#01f 0 130px,#3fb 0 131px,#00b 0 132px,#05f 0 134px,#06f 0 135px,#0cf 0 136px,#01f 0 137px,#00c 0 138px,#03f 0 140px,#00f 0 141px,#01f 0 142px,#04f 0 143px,#00f 0 145px,#00c 0 146px,#0bf 0 147px,#02f 0 148px,#05f 0 149px,#09f 0 151px,#00f 0 153px,#01f 0 154px,#05f 0 156px,#00f 0 157px,#03f 0 158px,#07f 0 159px,#00b 0 160px,#00f 0 162px,#02f 0 163px,#00f 0 164px,#0df 0 165px,#05f 0 167px,#00f 0 168px,#1ee 0 169px,#07f 0 170px,#02f 0 172px,#05f 0 174px,#07f 0 175px,#00b 0 176px,#2fc 0 178px,#02f 0 179px,#07f 0 180px,#0df 0 181px,#02f 0 184px,#0af 0 185px,#04f 0 186px,#00f 0 189px,#06f 0 190px,#00e 0 191px,#00b 0 192px,#00e 0 194px,#0af 0 195px,#05f 0 196px,#02f 0 197px,#01f 0 198px,#02f 0 200px,#2fc 0 201px,#01f 0 202px,#0bf 0 203px,#00f 0 205px,#00e 0 206px,#0df 0 207px,#03f 0 208px,#00f 0 211px,#04f 0 212px,#02f 0 213px,#00c 0 214px,#08f 0 216px,#06f 0 217px,#02f 0 218px,#06f 0 219px,#00f 0 221px,#0bf 0 222px,#0af 0 223px,#02f 0 224px,#07f 0 225px,#0af 0 227px,#04f 0 228px,#00f 0 229px,#03f 0 230px,#00e 0 232px,#00d 0 233px,#08f 0 234px,#05f 0 235px,#00d 0 236px,#4fb 0 238px,#00e 0 239px,#02f 0 240px,#04f 0 241px,#06f 0 243px,#09f 0 244px,#07f 0 245px,#08f 0 246px,#00f 0 247px,#05f 0 249px,#09f 0 250px,#00e 0 251px,#01f 0 252px,#07f 0 254px,#00f 0 255px,#03f 0 256px,#00f 0 257px,#06f 0 258px,#02f 0 260px,#09f 0 261px,#00f 0 262px,#00b 0 263px,#0df 0 265px,#00d 0 266px,#03f 0 267px,#0cf 0 268px,#00d 0 270px,#08f 0 271px,#03f 0 272px,#04f 0 273px,#0af 0 274px,#02f 0 276px,#00e 0 277px,#00c 0 278px,#08f 0 279px,#05f 0 281px,#01f 0 282px,#3fb 0 283px,#07f 0 284px,#04f 0 285px,#06f 0 287px,#02f 0 288px,#00e 0 290px,#00f 0 292px,#09f 0 294px,#2fc 0 295px,#7f8 0 296px,#0bf 0 298px,#01f 0 299px,#02f 0 300px,#0bf 0 301px,#04f 0 303px,#09f 0 304px,#00b 0 305px,#05f 0 306px,#09f 0 307px,#3fb 0 309px,#03f 0 310px,#0cf 0 311px,#06f 0 312px,#0bf 0 314px,#0cf 0 315px,#06f 0 316px,#0af 0 317px,#00e 0 318px,#07f 0 320px,#03f 0 321px,#08f 0 322px,#09f 0 323px,#07f 0 325px,#05f 0 326px,#03f 0 327px,#00d 0 328px,#06f 0 330px,#00f 0 332px,#01f 0 333px,#3fb 0 334px,#0af 0 336px,#af5 0 337px,#09f 0 338px,#0cf 0 339px,#03f 0 341px,#00f 0 342px,#4fb 0 343px,#01f 0 344px,#03f 0 345px,#09f 0 347px,#07f 0 348px,#bf3 0 349px,#05f 0 350px,#02f 0 352px,#06f 0 353px,#04f 0 354px,#0bf 0 355px,#02f 0 356px,#bf4 0 358px,#04f 0 359px,#07f 0 360px,#9f5 0 361px,#00f 0 364px,#08f 0 365px,#0af 0 366px,#08f 0 368px,#02f 0 369px,#4fb 0 370px,#2fc 0 371px,#0bf 0 372px,#06f 0 374px,#0df 0 375px,#02f 0 376px,#09f 0 377px,#04f 0 379px,#0af 0 380px,#2fc 0 381px,#01f 0 382px,#0cf 0 383px,#0af 0 385px,#05f 0 386px,#2fc 0 387px,#fd0 0 388px,#8f7 0 390px,#3fb 0 391px,#06f 0 392px,#05f 0 393px,#9f5 0 394px,#1fd 0 396px,#8f7 0 397px,#06f 0 398px,#0cf 0 399px,#f20 0 401px,#00e 0 403px,#5f9 0 404px,#8f6 0 405px,#0bf 0 407px,#0cf 0 408px,#00f 0 409px,#1fd 0 410px,#03f 0 412px,#fd0 0 413px,#03f 0 414px,#f30 0 415px,#1ee 0 417px,#8f6 0 418px,#0af 0 419px,#f30 0 420px,#09f 0 421px,#0af 0 423px,#02f 0 424px,#05f 0 426px,#08f 0 428px,#f60 0 429px,#008 0 430px,#fe0 0 431px,#0cf 0 432px,#00f 0 434px,#af5 0 435px,#bf3 0 436px,#bf4 0 437px,#af5 0 439px,#0df 0 440px,#07f 0 441px,#0df 0 442px,#ef1 0 443px,#800 0 445px,#4fb 0 446px,#00f 0 447px,#0df 0 448px,#9f5 0 450px,#8f6 0 451px,#fe0 0 452px,#2fc 0 453px,#05f 0 454px,#0cf 0 456px,#04f 0 457px,#f70 0 458px,#0cf 0 459px,#02f 0 461px,#05f 0 462px,#800 0 463px,#1fd 0 464px,#04f 0 466px,#fe0 0 467px,#f30 0 468px,#df1 0 469px,#800 0 473px,#fb0 0 474px,#0df 0 475px,#b00 0 477px,#800 0 479px,#b00 0 480px,#8f7 0 481px,#800 0 490px)"></i><i style="left:388px;width:10px;background:linear-gradient(#00f 0 1px,#01f 0 2px,#02f 0 4px,#09f 0 5px,#1fd 0 6px,#06f 0 7px,#00e 0 9px,#01f 0 10px,#00d 0 11px,#05f 0 12px,#00b 0 13px,#00f 0 15px,#00b 0 16px,#07f 0 17px,#00d 0 18px,#00f 0 20px,#01f 0 21px,#00f 0 22px,#00b 0 23px,#07f 0 24px,#05f 0 26px,#01f 0 27px,#0cf 0 28px,#00d 0 29px,#07f 0 31px,#03f 0 32px,#00d 0 33px,#07f 0 36px,#06f 0 38px,#04f 0 39px,#00f 0 42px,#09f 0 43px,#00f 0 44px,#0af 0 45px,#00f 0 47px,#2fc 0 48px,#02f 0 49px,#00e 0 50px,#00f 0 51px,#01f 0 53px,#00f 0 54px,#01f 0 55px,#00f 0 56px,#00c 0 58px,#0df 0 59px,#00f 0 60px,#04f 0 61px,#0af 0 62px,#009 0 64px,#03f 0 65px,#0af 0 66px,#00f 0 67px,#0df 0 69px,#00b 0 70px,#07f 0 71px,#02f 0 72px,#00a 0 74px,#00d 0 75px,#00f 0 77px,#05f 0 78px,#00f 0 80px,#03f 0 81px,#00e 0 82px,#00c 0 83px,#05f 0 85px,#00f 0 86px,#05f 0 87px,#00c 0 88px,#0bf 0 89px,#4fb 0 91px,#0cf 0 92px,#03f 0 93px,#02f 0 94px,#1fd 0 96px,#02f 0 97px,#01f 0 98px,#00d 0 99px,#07f 0 100px,#00d 0 102px,#07f 0 104px,#00d 0 105px,#00c 0 107px,#00e 0 108px,#00c 0 109px,#04f 0 110px,#01f 0 111px,#05f 0 114px,#00d 0 115px,#00c 0 116px,#07f 0 118px,#00c 0 119px,#00d 0 120px,#00f 0 121px,#05f 0 123px,#00d 0 125px,#04f 0 126px,#0cf 0 127px,#02f 0 129px,#09f 0 130px,#3fb 0 131px,#00f 0 132px,#00c 0 134px,#03f 0 135px,#3fb 0 136px,#00b 0 137px,#0bf 0 138px,#0af 0 140px,#02f 0 141px,#00f 0 142px,#08f 0 143px,#00c 0 145px,#06f 0 146px,#0af 0 147px,#05f 0 148px,#03f 0 149px,#08f 0 151px,#00d 0 152px,#00f 0 153px,#03f 0 154px,#01f 0 156px,#03f 0 157px,#01f 0 158px,#00e 0 159px,#00a 0 160px,#01f 0 162px,#04f 0 163px,#00f 0 164px,#01f 0 165px,#06f 0 167px,#07f 0 168px,#05f 0 169px,#01f 0 170px,#04f 0 172px,#02f 0 173px,#0df 0 174px,#04f 0 175px,#02f 0 176px,#3fb 0 178px,#0cf 0 180px,#4fb 0 181px,#00d 0 183px,#0cf 0 184px,#04f 0 185px,#3fb 0 186px,#02f 0 187px,#08f 0 189px,#04f 0 190px,#00f 0 191px,#01f 0 192px,#00d 0 194px,#04f 0 195px,#05f 0 196px,#09f 0 197px,#04f 0 198px,#0bf 0 201px,#02f 0 202px,#04f 0 203px,#09f 0 205px,#01f 0 206px,#03f 0 207px,#1ee 0 208px,#2fc 0 209px,#05f 0 211px,#00e 0 212px,#00f 0 213px,#02f 0 214px,#01f 0 216px,#03f 0 217px,#09f 0 218px,#00f 0 219px,#03f 0 221px,#08f 0 222px,#05f 0 223px,#02f 0 224px,#0df 0 225px,#07f 0 227px,#06f 0 228px,#00d 0 229px,#01f 0 230px,#00f 0 233px,#08f 0 234px,#07f 0 235px,#02f 0 236px,#04f 0 238px,#00e 0 239px,#01f 0 240px,#0af 0 241px,#09f 0 243px,#00d 0 244px,#0bf 0 245px,#0cf 0 246px,#00b 0 247px,#0cf 0 249px,#0af 0 251px,#02f 0 252px,#0df 0 254px,#05f 0 255px,#07f 0 256px,#00b 0 257px,#06f 0 260px,#0af 0 261px,#00b 0 262px,#03f 0 263px,#04f 0 265px,#00e 0 266px,#00f 0 267px,#3fb 0 268px,#00d 0 270px,#1ee 0 271px,#09f 0 272px,#06f 0 273px,#04f 0 274px,#08f 0 276px,#00d 0 277px,#01f 0 278px,#02f 0 279px,#0af 0 281px,#06f 0 282px,#00f 0 283px,#00d 0 284px,#01f 0 285px,#08f 0 287px,#03f 0 288px,#0bf 0 289px,#04f 0 290px,#02f 0 292px,#05f 0 293px,#08f 0 294px,#09f 0 295px,#5fa 0 296px,#04f 0 298px,#03f 0 299px,#02f 0 300px,#05f 0 301px,#07f 0 303px,#09f 0 304px,#00d 0 305px,#0cf 0 306px,#04f 0 307px,#08f 0 309px,#01f 0 310px,#03f 0 311px,#06f 0 312px,#09f 0 314px,#0bf 0 315px,#01f 0 316px,#03f 0 317px,#01f 0 318px,#0af 0 320px,#00f 0 321px,#00e 0 322px,#01f 0 323px,#00d 0 325px,#1ee 0 326px,#00f 0 327px,#00e 0 328px,#07f 0 330px,#0af 0 331px,#1ee 0 332px,#00d 0 333px,#0af 0 334px,#0cf 0 336px,#07f 0 337px,#00e 0 338px,#0cf 0 339px,#07f 0 341px,#00f 0 342px,#7f8 0 343px,#00f 0 344px,#0cf 0 345px,#0bf 0 347px,#0cf 0 348px,#fe0 0 349px,#00f 0 350px,#04f 0 354px,#02f 0 355px,#00f 0 356px,#cf2 0 358px,#3fb 0 359px,#0cf 0 360px,#4fb 0 361px,#01f 0 363px,#00e 0 364px,#1ee 0 365px,#0cf 0 366px,#04f 0 368px,#2fc 0 369px,#fa0 0 370px,#3fb 0 371px,#05f 0 372px,#01f 0 374px,#0cf 0 375px,#05f 0 376px,#02f 0 377px,#05f 0 379px,#09f 0 380px,#00d 0 381px,#1fd 0 382px,#0af 0 383px,#bf4 0 385px,#7f8 0 386px,#05f 0 387px,#9f5 0 388px,#03f 0 390px,#ef1 0 391px,#2fc 0 392px,#01f 0 393px,#08f 0 394px,#03f 0 396px,#5fa 0 397px,#00f 0 398px,#7f8 0 399px,#fc0 0 401px,#f10 0 402px,#00d 0 403px,#06f 0 404px,#00e 0 405px,#0cf 0 407px,#09f 0 408px,#03f 0 409px,#0cf 0 412px,#df1 0 413px,#0df 0 414px,#800 0 415px,#08f 0 417px,#0cf 0 418px,#fe0 0 419px,#05f 0 420px,#af5 0 423px,#00f 0 424px,#bf4 0 425px,#06f 0 426px,#5f9 0 429px,#04f 0 430px,#bf3 0 431px,#0af 0 432px,#00f 0 434px,#1fd 0 435px,#cf2 0 436px,#00f 0 437px,#0bf 0 439px,#0df 0 440px,#fc0 0 441px,#800 0 442px,#fb0 0 443px,#a00 0 445px,#9f5 0 446px,#1ee 0 447px,#0cf 0 448px,#fc0 0 450px,#7f8 0 451px,#fb0 0 452px,#1ee 0 453px,#af5 0 454px,#bf3 0 456px,#800 0 457px,#0cf 0 458px,#6f8 0 459px,#f60 0 461px,#08f 0 462px,#800 0 463px,#bf3 0 464px,#fe0 0 466px,#f40 0 467px,#bf4 0 468px,#800 0 472px,#df1 0 473px,#800 0 474px,#4fb 0 475px,#f20 0 477px,#800 0 478px,#f40 0 479px,#af5 0 480px,#800 0 485px,#a00 0 486px,#800 0 490px)"></i><i style="left:398px;width:10px;background:linear-gradient(#00e 0 1px,#03f 0 2px,#04f 0 4px,#00d 0 6px,#00f 0 7px,#02f 0 9px,#04f 0 10px,#00f 0 11px,#02f 0 12px,#01f 0 13px,#00c 0 15px,#02f 0 16px,#09f 0 17px,#01f 0 18px,#02f 0 20px,#03f 0 21px,#01f 0 22px,#00d 0 23px,#01f 0 24px,#09f 0 26px,#03f 0 27px,#0df 0 28px,#01f 0 29px,#04f 0 31px,#01f 0 32px,#00c 0 33px,#1ee 0 34px,#06f 0 36px,#0af 0 37px,#00f 0 38px,#01f 0 39px,#00e 0 40px,#00f 0 42px,#04f 0 43px,#00e 0 44px,#05f 0 45px,#03f 0 47px,#2fc 0 48px,#0af 0 49px,#03f 0 50px,#06f 0 51px,#00e 0 53px,#00d 0 54px,#02f 0 55px,#0df 0 56px,#00d 0 58px,#0bf 0 59px,#00f 0 60px,#09f 0 61px,#01f 0 62px,#00a 0 64px,#03f 0 65px,#09f 0 66px,#00f 0 67px,#07f 0 69px,#04f 0 70px,#00f 0 71px,#05f 0 72px,#02f 0 74px,#00d 0 75px,#04f 0 76px,#00f 0 78px,#00c 0 80px,#01f 0 81px,#04f 0 82px,#00c 0 83px,#01f 0 85px,#09f 0 86px,#07f 0 87px,#0cf 0 88px,#00d 0 89px,#01f 0 91px,#0af 0 92px,#01f 0 93px,#02f 0 94px,#1ee 0 96px,#00f 0 97px,#02f 0 98px,#03f 0 99px,#00d 0 100px,#00b 0 102px,#08f 0 103px,#04f 0 104px,#00f 0 105px,#00b 0 107px,#00f 0 108px,#00b 0 109px,#04f 0 110px,#03f 0 111px,#09f 0 113px,#00e 0 114px,#01f 0 115px,#00e 0 116px,#08f 0 118px,#00d 0 120px,#00b 0 121px,#06f 0 123px,#00f 0 124px,#00c 0 125px,#05f 0 126px,#04f 0 127px,#00f 0 129px,#06f 0 130px,#3fb 0 131px,#00f 0 134px,#1ee 0 135px,#05f 0 136px,#00a 0 137px,#00f 0 138px,#02f 0 140px,#06f 0 141px,#00f 0 142px,#03f 0 143px,#00f 0 145px,#07f 0 146px,#5fa 0 147px,#02f 0 148px,#05f 0 149px,#1fd 0 151px,#00f 0 152px,#02f 0 153px,#00f 0 156px,#05f 0 157px,#01f 0 158px,#09f 0 159px,#00c 0 160px,#00f 0 162px,#0cf 0 163px,#00a 0 164px,#04f 0 165px,#09f 0 167px,#07f 0 168px,#00d 0 169px,#0af 0 170px,#0bf 0 172px,#01f 0 173px,#00e 0 174px,#00b 0 175px,#09f 0 176px,#3fb 0 178px,#4fb 0 179px,#0bf 0 180px,#0cf 0 181px,#04f 0 183px,#02f 0 184px,#05f 0 185px,#0bf 0 186px,#01f 0 187px,#0cf 0 189px,#03f 0 190px,#00d 0 191px,#02f 0 192px,#00d 0 194px,#0af 0 195px,#00f 0 196px,#04f 0 197px,#00f 0 198px,#00c 0 200px,#2fc 0 201px,#06f 0 202px,#0cf 0 203px,#07f 0 205px,#03f 0 206px,#01f 0 207px,#07f 0 208px,#00e 0 209px,#03f 0 211px,#00f 0 213px,#00d 0 214px,#00f 0 216px,#01f 0 217px,#00f 0 218px,#05f 0 219px,#0cf 0 221px,#00d 0 222px,#05f 0 223px,#00e 0 224px,#05f 0 225px,#00e 0 227px,#07f 0 228px,#00d 0 229px,#00c 0 230px,#00f 0 233px,#02f 0 234px,#0bf 0 235px,#1ee 0 236px,#00f 0 238px,#00c 0 239px,#03f 0 240px,#0df 0 241px,#01f 0 243px,#02f 0 244px,#4fb 0 245px,#1ee 0 246px,#00e 0 247px,#03f 0 249px,#1fd 0 250px,#00e 0 251px,#07f 0 252px,#03f 0 254px,#00f 0 255px,#08f 0 256px,#00d 0 257px,#00f 0 258px,#05f 0 260px,#0cf 0 261px,#00e 0 262px,#02f 0 263px,#00f 0 265px,#0bf 0 266px,#00d 0 267px,#3fb 0 268px,#05f 0 270px,#1ee 0 271px,#06f 0 272px,#05f 0 273px,#00f 0 276px,#00c 0 277px,#0cf 0 278px,#06f 0 279px,#02f 0 281px,#00d 0 282px,#08f 0 283px,#00f 0 284px,#00c 0 285px,#05f 0 287px,#3fb 0 288px,#00f 0 289px,#09f 0 290px,#01f 0 292px,#0af 0 293px,#1ee 0 294px,#00f 0 295px,#0df 0 296px,#00e 0 298px,#04f 0 299px,#03f 0 300px,#07f 0 301px,#05f 0 303px,#04f 0 304px,#01f 0 306px,#09f 0 307px,#03f 0 309px,#04f 0 310px,#01f 0 311px,#08f 0 314px,#07f 0 315px,#06f 0 316px,#0bf 0 317px,#0df 0 318px,#08f 0 320px,#00e 0 321px,#00f 0 322px,#02f 0 323px,#00b 0 325px,#02f 0 326px,#01f 0 327px,#00d 0 328px,#04f 0 330px,#00b 0 331px,#03f 0 332px,#0bf 0 333px,#04f 0 336px,#00b 0 337px,#00c 0 338px,#00f 0 339px,#08f 0 341px,#0cf 0 342px,#1ee 0 343px,#01f 0 344px,#0af 0 345px,#0bf 0 347px,#01f 0 348px,#df1 0 349px,#02f 0 350px,#05f 0 352px,#0df 0 353px,#00d 0 354px,#02f 0 355px,#00f 0 356px,#04f 0 358px,#07f 0 359px,#05f 0 361px,#08f 0 363px,#01f 0 364px,#06f 0 365px,#0cf 0 366px,#00f 0 368px,#af5 0 369px,#3fb 0 370px,#9f5 0 371px,#06f 0 372px,#00d 0 374px,#08f 0 375px,#00d 0 376px,#07f 0 377px,#00f 0 379px,#08f 0 380px,#8f6 0 381px,#04f 0 382px,#02f 0 383px,#bf3 0 385px,#4fb 0 386px,#01f 0 387px,#0cf 0 388px,#03f 0 390px,#fb0 0 391px,#1ee 0 392px,#0df 0 393px,#1fd 0 394px,#01f 0 396px,#04f 0 397px,#00d 0 398px,#03f 0 399px,#fe0 0 401px,#00f 0 402px,#0cf 0 403px,#0df 0 404px,#02f 0 405px,#0df 0 407px,#bf3 0 408px,#07f 0 409px,#00f 0 410px,#07f 0 412px,#4fb 0 413px,#03f 0 414px,#800 0 415px,#09f 0 417px,#00e 0 418px,#fa0 0 419px,#09f 0 420px,#9f5 0 421px,#01f 0 423px,#f50 0 424px,#af5 0 425px,#07f 0 426px,#f30 0 428px,#08f 0 429px,#06f 0 430px,#1fd 0 431px,#08f 0 432px,#07f 0 434px,#00a 0 435px,#800 0 436px,#00d 0 437px,#0cf 0 439px,#00f 0 440px,#07f 0 441px,#1ee 0 442px,#08f 0 443px,#f30 0 445px,#5f9 0 446px,#800 0 447px,#03f 0 448px,#f20 0 450px,#a00 0 451px,#fa0 0 452px,#5f9 0 453px,#05f 0 454px,#bf3 0 456px,#4fb 0 457px,#8f7 0 458px,#9f5 0 459px,#800 0 461px,#f60 0 462px,#800 0 463px,#9f5 0 464px,#8f6 0 466px,#1fd 0 467px,#fa0 0 468px,#800 0 469px,#7f8 0 470px,#6f8 0 472px,#7f8 0 473px,#e00 0 474px,#df1 0 475px,#9f5 0 477px,#800 0 478px,#0cf 0 479px,#fc0 0 480px,#800 0 490px)"></i><i style="left:408px;width:9px;background:linear-gradient(#00c 0 1px,#06f 0 2px,#00f 0 4px,#00c 0 5px,#00f 0 6px,#01f 0 7px,#0af 0 9px,#05f 0 10px,#01f 0 11px,#0cf 0 12px,#01f 0 13px,#00b 0 15px,#09f 0 16px,#03f 0 17px,#01f 0 20px,#04f 0 21px,#00f 0 22px,#00d 0 23px,#06f 0 24px,#0af 0 26px,#03f 0 27px,#0bf 0 28px,#01f 0 29px,#05f 0 31px,#07f 0 32px,#00d 0 33px,#1ee 0 34px,#0af 0 36px,#0df 0 37px,#02f 0 38px,#08f 0 39px,#04f 0 40px,#00f 0 42px,#0cf 0 43px,#01f 0 44px,#00e 0 45px,#02f 0 47px,#08f 0 48px,#02f 0 49px,#01f 0 50px,#04f 0 51px,#00f 0 54px,#00e 0 55px,#09f 0 56px,#04f 0 58px,#0af 0 59px,#00e 0 60px,#0cf 0 61px,#00e 0 62px,#00c 0 64px,#06f 0 66px,#03f 0 67px,#07f 0 69px,#09f 0 70px,#01f 0 71px,#04f 0 72px,#01f 0 74px,#00f 0 75px,#06f 0 76px,#09f 0 78px,#03f 0 80px,#02f 0 81px,#07f 0 82px,#04f 0 83px,#0af 0 85px,#05f 0 86px,#06f 0 87px,#1fd 0 88px,#00b 0 89px,#00f 0 91px,#07f 0 92px,#04f 0 93px,#1ee 0 94px,#08f 0 96px,#00c 0 97px,#05f 0 99px,#00f 0 100px,#00d 0 102px,#00f 0 103px,#0af 0 104px,#02f 0 105px,#00f 0 107px,#01f 0 108px,#00d 0 109px,#00f 0 110px,#01f 0 111px,#07f 0 113px,#01f 0 114px,#03f 0 116px,#1ee 0 118px,#02f 0 119px,#01f 0 120px,#06f 0 121px,#05f 0 123px,#01f 0 124px,#00f 0 125px,#08f 0 126px,#07f 0 127px,#01f 0 129px,#04f 0 130px,#00f 0 131px,#01f 0 134px,#05f 0 135px,#00f 0 136px,#00a 0 137px,#07f 0 138px,#03f 0 140px,#02f 0 141px,#00f 0 143px,#00d 0 145px,#0cf 0 146px,#0bf 0 147px,#00f 0 148px,#05f 0 149px,#1ee 0 151px,#07f 0 152px,#00e 0 154px,#01f 0 156px,#05f 0 157px,#00f 0 158px,#04f 0 159px,#00d 0 160px,#05f 0 162px,#09f 0 163px,#00d 0 164px,#08f 0 165px,#06f 0 167px,#0bf 0 168px,#00f 0 169px,#09f 0 170px,#03f 0 172px,#00a 0 173px,#06f 0 174px,#00f 0 175px,#07f 0 176px,#06f 0 178px,#09f 0 179px,#03f 0 180px,#4fb 0 181px,#00f 0 183px,#01f 0 184px,#04f 0 185px,#08f 0 186px,#04f 0 187px,#01f 0 189px,#00c 0 190px,#2fc 0 191px,#01f 0 192px,#00f 0 194px,#09f 0 195px,#00f 0 196px,#09f 0 197px,#06f 0 198px,#00f 0 200px,#07f 0 201px,#00d 0 202px,#0bf 0 203px,#00f 0 205px,#05f 0 206px,#00f 0 207px,#02f 0 208px,#01f 0 209px,#02f 0 212px,#03f 0 213px,#00c 0 214px,#00f 0 216px,#0bf 0 217px,#00f 0 218px,#0cf 0 219px,#00f 0 223px,#01f 0 224px,#03f 0 225px,#00c 0 227px,#00e 0 230px,#00c 0 232px,#00b 0 233px,#02f 0 234px,#06f 0 235px,#07f 0 236px,#00e 0 238px,#00c 0 239px,#06f 0 240px,#0df 0 241px,#07f 0 243px,#0df 0 244px,#4fb 0 245px,#07f 0 246px,#00f 0 247px,#0bf 0 250px,#03f 0 251px,#0bf 0 252px,#04f 0 254px,#03f 0 255px,#3fb 0 256px,#00c 0 257px,#1ee 0 258px,#00f 0 260px,#09f 0 261px,#00f 0 262px,#1fd 0 263px,#00d 0 265px,#0bf 0 266px,#00d 0 267px,#09f 0 268px,#00e 0 270px,#4fb 0 271px,#0bf 0 272px,#2fc 0 273px,#00f 0 274px,#00d 0 276px,#00c 0 277px,#05f 0 278px,#04f 0 279px,#0bf 0 281px,#00f 0 282px,#00c 0 283px,#01f 0 284px,#09f 0 285px,#04f 0 287px,#00f 0 288px,#05f 0 289px,#00f 0 290px,#05f 0 292px,#06f 0 293px,#01f 0 294px,#00d 0 295px,#06f 0 296px,#0af 0 298px,#01f 0 299px,#0cf 0 300px,#01f 0 301px,#06f 0 303px,#03f 0 304px,#1ee 0 305px,#01f 0 306px,#02f 0 307px,#01f 0 309px,#03f 0 311px,#09f 0 312px,#07f 0 314px,#0af 0 315px,#03f 0 316px,#5fa 0 317px,#0af 0 318px,#0cf 0 320px,#00e 0 321px,#08f 0 322px,#00e 0 323px,#01f 0 325px,#04f 0 326px,#03f 0 327px,#00f 0 328px,#3fb 0 330px,#00f 0 331px,#04f 0 332px,#01f 0 333px,#06f 0 334px,#4fb 0 336px,#00f 0 337px,#07f 0 338px,#02f 0 339px,#00e 0 341px,#00b 0 342px,#0cf 0 343px,#00f 0 344px,#03f 0 345px,#6f8 0 347px,#00f 0 348px,#1ee 0 349px,#06f 0 350px,#5f9 0 352px,#8f7 0 353px,#07f 0 354px,#3fb 0 355px,#09f 0 356px,#0af 0 358px,#1ee 0 359px,#00c 0 360px,#01f 0 361px,#08f 0 363px,#03f 0 364px,#0cf 0 365px,#3fb 0 366px,#05f 0 368px,#0af 0 369px,#03f 0 370px,#1ee 0 371px,#00f 0 372px,#0cf 0 374px,#07f 0 376px,#02f 0 377px,#09f 0 379px,#00a 0 380px,#df1 0 381px,#00f 0 383px,#9f5 0 385px,#4fb 0 386px,#5fa 0 387px,#0cf 0 388px,#07f 0 390px,#0af 0 391px,#02f 0 392px,#09f 0 393px,#06f 0 394px,#04f 0 396px,#00f 0 397px,#02f 0 398px,#00f 0 399px,#8f7 0 401px,#08f 0 402px,#4fb 0 403px,#00a 0 404px,#7f8 0 405px,#06f 0 407px,#bf3 0 408px,#3fb 0 409px,#05f 0 410px,#f40 0 412px,#0bf 0 413px,#0df 0 414px,#900 0 415px,#0cf 0 417px,#07f 0 418px,#0cf 0 419px,#4fb 0 420px,#01f 0 421px,#00c 0 423px,#0cf 0 424px,#03f 0 425px,#df1 0 426px,#00d 0 428px,#cf2 0 429px,#03f 0 430px,#00d 0 431px,#bf3 0 432px,#00e 0 434px,#00d 0 435px,#04f 0 437px,#2fc 0 439px,#06f 0 440px,#7f8 0 441px,#3fb 0 442px,#5f9 0 443px,#6f8 0 445px,#07f 0 446px,#f60 0 447px,#00d 0 448px,#7f8 0 450px,#800 0 451px,#3fb 0 452px,#1ee 0 453px,#fe0 0 454px,#4fb 0 457px,#1ee 0 458px,#0bf 0 459px,#800 0 461px,#bf4 0 462px,#800 0 463px,#f50 0 464px,#08f 0 466px,#07f 0 467px,#8f6 0 468px,#fe0 0 469px,#800 0 473px,#0cf 0 474px,#800 0 475px,#df1 0 477px,#800 0 478px,#fe0 0 479px,#fd0 0 480px,#07f 0 481px,#ef1 0 483px,#800 0 488px,#5f9 0 489px,#800 0 490px)"></i><i style="left:417px;width:10px;background:linear-gradient(#01f 0 1px,#03f 0 2px,#00b 0 4px,#00d 0 5px,#02f 0 6px,#03f 0 7px,#0bf 0 9px,#03f 0 10px,#00f 0 11px,#01f 0 12px,#00f 0 15px,#07f 0 16px,#02f 0 17px,#00f 0 20px,#06f 0 21px,#00f 0 24px,#0af 0 26px,#00f 0 27px,#0cf 0 28px,#00f 0 29px,#01f 0 31px,#06f 0 32px,#05f 0 33px,#03f 0 34px,#08f 0 36px,#00d 0 37px,#00f 0 38px,#08f 0 39px,#04f 0 42px,#03f 0 43px,#04f 0 44px,#02f 0 45px,#03f 0 47px,#0cf 0 48px,#00f 0 49px,#03f 0 50px,#02f 0 51px,#01f 0 53px,#0cf 0 54px,#01f 0 55px,#0cf 0 56px,#08f 0 58px,#09f 0 59px,#05f 0 60px,#0af 0 61px,#00a 0 62px,#03f 0 64px,#02f 0 65px,#00e 0 66px,#09f 0 67px,#06f 0 69px,#0df 0 70px,#00b 0 71px,#00f 0 72px,#03f 0 74px,#00c 0 75px,#07f 0 76px,#04f 0 77px,#00e 0 78px,#00b 0 80px,#03f 0 81px,#00f 0 82px,#03f 0 83px,#00f 0 85px,#04f 0 86px,#07f 0 87px,#1fd 0 88px,#03f 0 89px,#04f 0 91px,#00f 0 92px,#05f 0 94px,#00c 0 96px,#00d 0 97px,#00e 0 98px,#05f 0 99px,#00f 0 102px,#07f 0 103px,#03f 0 104px,#02f 0 105px,#00e 0 107px,#00d 0 108px,#00b 0 109px,#0cf 0 111px,#02f 0 113px,#01f 0 114px,#0af 0 115px,#00f 0 116px,#07f 0 118px,#08f 0 119px,#02f 0 120px,#00f 0 121px,#1fd 0 123px,#00a 0 124px,#07f 0 125px,#03f 0 126px,#05f 0 127px,#0af 0 129px,#01f 0 130px,#06f 0 131px,#05f 0 132px,#00f 0 134px,#05f 0 135px,#01f 0 136px,#00b 0 137px,#00d 0 138px,#04f 0 140px,#06f 0 141px,#0cf 0 142px,#00a 0 143px,#009 0 145px,#07f 0 146px,#1fd 0 147px,#00e 0 148px,#02f 0 149px,#1fd 0 151px,#0bf 0 152px,#01f 0 153px,#00d 0 154px,#01f 0 156px,#00f 0 157px,#00e 0 158px,#09f 0 159px,#02f 0 160px,#04f 0 162px,#1fd 0 163px,#02f 0 164px,#3fb 0 165px,#01f 0 167px,#03f 0 168px,#04f 0 169px,#05f 0 170px,#0af 0 172px,#02f 0 173px,#03f 0 174px,#00f 0 176px,#00e 0 178px,#03f 0 179px,#04f 0 180px,#4fb 0 181px,#05f 0 183px,#04f 0 184px,#02f 0 185px,#05f 0 186px,#00f 0 187px,#03f 0 189px,#00d 0 190px,#2fc 0 191px,#07f 0 192px,#00d 0 194px,#01f 0 195px,#00e 0 196px,#04f 0 197px,#07f 0 198px,#00d 0 200px,#08f 0 201px,#00d 0 202px,#0af 0 203px,#00f 0 205px,#04f 0 207px,#00f 0 208px,#05f 0 211px,#02f 0 212px,#01f 0 213px,#04f 0 214px,#00f 0 216px,#05f 0 217px,#00f 0 218px,#0cf 0 219px,#00e 0 221px,#00d 0 222px,#0df 0 223px,#08f 0 224px,#07f 0 225px,#01f 0 227px,#04f 0 228px,#00e 0 229px,#00d 0 232px,#00e 0 233px,#00d 0 234px,#02f 0 235px,#09f 0 236px,#01f 0 238px,#00e 0 239px,#04f 0 240px,#06f 0 241px,#00f 0 243px,#04f 0 244px,#05f 0 245px,#1ee 0 246px,#02f 0 247px,#1ee 0 249px,#0cf 0 250px,#00f 0 251px,#08f 0 252px,#02f 0 254px,#08f 0 255px,#0cf 0 256px,#00a 0 257px,#07f 0 258px,#08f 0 260px,#06f 0 261px,#00a 0 262px,#06f 0 263px,#00b 0 265px,#05f 0 266px,#00b 0 267px,#09f 0 270px,#4fb 0 271px,#3fb 0 272px,#1ee 0 273px,#01f 0 274px,#00b 0 276px,#04f 0 277px,#00f 0 278px,#03f 0 279px,#0cf 0 281px,#03f 0 282px,#00c 0 283px,#03f 0 284px,#0af 0 285px,#06f 0 287px,#03f 0 289px,#07f 0 290px,#02f 0 292px,#07f 0 293px,#1ee 0 294px,#0bf 0 296px,#05f 0 298px,#00e 0 299px,#0bf 0 300px,#00a 0 301px,#7f8 0 303px,#00f 0 304px,#01f 0 305px,#04f 0 306px,#05f 0 307px,#03f 0 309px,#0af 0 310px,#03f 0 311px,#00f 0 312px,#06f 0 314px,#0df 0 315px,#03f 0 316px,#5fa 0 317px,#00e 0 318px,#07f 0 320px,#00d 0 321px,#08f 0 322px,#03f 0 323px,#00e 0 325px,#01f 0 327px,#00f 0 330px,#05f 0 331px,#2fc 0 332px,#00f 0 333px,#01f 0 334px,#06f 0 336px,#3fb 0 337px,#02f 0 338px,#01f 0 341px,#00f 0 342px,#09f 0 343px,#05f 0 344px,#00e 0 345px,#8f7 0 347px,#00f 0 348px,#cf2 0 349px,#08f 0 350px,#0cf 0 352px,#8f7 0 353px,#04f 0 355px,#02f 0 356px,#08f 0 358px,#0df 0 359px,#00d 0 360px,#06f 0 361px,#09f 0 363px,#0cf 0 364px,#03f 0 365px,#00f 0 366px,#06f 0 369px,#00d 0 370px,#04f 0 371px,#00e 0 372px,#08f 0 374px,#0af 0 375px,#0cf 0 377px,#09f 0 379px,#01f 0 380px,#ef1 0 381px,#00d 0 382px,#0af 0 383px,#04f 0 385px,#00e 0 386px,#05f 0 387px,#5fa 0 388px,#0bf 0 390px,#4fb 0 391px,#00f 0 392px,#03f 0 393px,#00e 0 394px,#3fb 0 396px,#5fa 0 397px,#07f 0 398px,#0cf 0 399px,#9f5 0 401px,#5fa 0 402px,#bf4 0 403px,#00f 0 404px,#0bf 0 405px,#6f8 0 407px,#f20 0 408px,#9f5 0 409px,#4fb 0 410px,#1fd 0 412px,#00f 0 413px,#fe0 0 414px,#8f6 0 415px,#bf4 0 417px,#09f 0 418px,#8f7 0 419px,#3fb 0 420px,#0cf 0 421px,#02f 0 423px,#0bf 0 424px,#0cf 0 425px,#fb0 0 426px,#0af 0 428px,#05f 0 429px,#06f 0 430px,#009 0 431px,#1ee 0 432px,#1fd 0 434px,#0cf 0 435px,#03f 0 436px,#05f 0 437px,#08f 0 439px,#fb0 0 440px,#f90 0 441px,#0bf 0 442px,#5f9 0 443px,#06f 0 445px,#00b 0 446px,#a00 0 447px,#09f 0 448px,#fa0 0 450px,#2fc 0 451px,#01f 0 452px,#d00 0 453px,#f80 0 454px,#0bf 0 456px,#a00 0 457px,#af5 0 458px,#03f 0 459px,#fc0 0 461px,#8f6 0 462px,#f60 0 463px,#fc0 0 464px,#7f8 0 466px,#2fc 0 467px,#b00 0 468px,#fc0 0 469px,#8f7 0 470px,#800 0 472px,#e00 0 473px,#f20 0 474px,#800 0 475px,#d00 0 477px,#f10 0 478px,#800 0 479px,#5f9 0 480px,#ef1 0 481px,#800 0 484px,#fb0 0 485px,#800 0 486px,#f10 0 488px,#800 0 490px)"></i><i style="left:427px;width:10px;background:linear-gradient(#01f 0 1px,#02f 0 5px,#00f 0 6px,#05f 0 7px,#00f 0 9px,#04f 0 10px,#00c 0 11px,#00e 0 12px,#01f 0 13px,#00e 0 15px,#01f 0 16px,#04f 0 17px,#00d 0 18px,#03f 0 21px,#07f 0 22px,#01f 0 23px,#0af 0 24px,#09f 0 26px,#04f 0 27px,#00f 0 29px,#00d 0 31px,#0cf 0 32px,#00f 0 33px,#01f 0 34px,#06f 0 36px,#00f 0 37px,#00d 0 38px,#00f 0 39px,#07f 0 40px,#02f 0 42px,#00c 0 43px,#00f 0 44px,#09f 0 45px,#06f 0 47px,#00e 0 48px,#00f 0 49px,#07f 0 50px,#01f 0 51px,#05f 0 53px,#03f 0 54px,#04f 0 55px,#08f 0 56px,#00c 0 58px,#0bf 0 59px,#00f 0 61px,#00c 0 62px,#00f 0 64px,#07f 0 65px,#00d 0 66px,#07f 0 67px,#06f 0 69px,#08f 0 70px,#009 0 71px,#01f 0 72px,#00f 0 74px,#02f 0 75px,#0cf 0 76px,#02f 0 77px,#00e 0 78px,#00a 0 80px,#01f 0 81px,#08f 0 82px,#01f 0 83px,#00e 0 85px,#03f 0 87px,#1fd 0 88px,#08f 0 89px,#00c 0 91px,#02f 0 92px,#01f 0 93px,#00f 0 94px,#00d 0 96px,#00f 0 99px,#07f 0 100px,#04f 0 102px,#0bf 0 103px,#05f 0 104px,#00e 0 105px,#09f 0 107px,#01f 0 108px,#00e 0 109px,#0bf 0 110px,#0af 0 111px,#03f 0 113px,#07f 0 114px,#1ee 0 115px,#02f 0 116px,#1ee 0 118px,#04f 0 120px,#05f 0 121px,#0af 0 123px,#00b 0 124px,#0af 0 125px,#07f 0 126px,#09f 0 127px,#01f 0 129px,#03f 0 130px,#04f 0 131px,#00f 0 132px,#05f 0 134px,#03f 0 135px,#01f 0 136px,#00c 0 138px,#02f 0 141px,#04f 0 142px,#03f 0 143px,#00a 0 145px,#04f 0 146px,#0cf 0 147px,#00f 0 148px,#08f 0 149px,#02f 0 151px,#00f 0 152px,#07f 0 153px,#00c 0 154px,#1fd 0 156px,#08f 0 157px,#02f 0 158px,#04f 0 159px,#00d 0 160px,#0af 0 162px,#4fb 0 163px,#03f 0 164px,#0df 0 165px,#00f 0 168px,#05f 0 170px,#00f 0 172px,#03f 0 173px,#0bf 0 174px,#00e 0 175px,#00c 0 176px,#00e 0 178px,#03f 0 179px,#00e 0 180px,#0cf 0 181px,#05f 0 183px,#07f 0 184px,#00f 0 185px,#3fb 0 186px,#08f 0 187px,#00f 0 190px,#0df 0 191px,#02f 0 192px,#00d 0 194px,#00e 0 195px,#00c 0 196px,#09f 0 197px,#1ee 0 198px,#00f 0 202px,#06f 0 203px,#01f 0 205px,#00f 0 206px,#0af 0 207px,#00e 0 208px,#0cf 0 209px,#00b 0 211px,#00f 0 213px,#03f 0 214px,#05f 0 216px,#0af 0 217px,#00f 0 218px,#3fb 0 219px,#00a 0 221px,#03f 0 222px,#00f 0 223px,#1fd 0 224px,#02f 0 225px,#1fd 0 227px,#02f 0 228px,#06f 0 229px,#00b 0 230px,#05f 0 232px,#00d 0 233px,#00e 0 234px,#2fc 0 235px,#05f 0 236px,#0af 0 238px,#00e 0 239px,#02f 0 240px,#07f 0 241px,#00f 0 243px,#0cf 0 244px,#04f 0 245px,#05f 0 246px,#00e 0 247px,#02f 0 249px,#06f 0 250px,#00f 0 251px,#08f 0 252px,#00f 0 255px,#08f 0 256px,#01f 0 257px,#0af 0 258px,#00f 0 260px,#07f 0 261px,#00c 0 262px,#00e 0 263px,#00f 0 265px,#09f 0 266px,#02f 0 267px,#07f 0 268px,#08f 0 271px,#0bf 0 272px,#2fc 0 273px,#06f 0 274px,#01f 0 276px,#09f 0 277px,#04f 0 278px,#01f 0 279px,#6f8 0 281px,#08f 0 282px,#01f 0 283px,#00e 0 284px,#07f 0 285px,#6f8 0 287px,#00f 0 289px,#07f 0 290px,#04f 0 292px,#01f 0 293px,#02f 0 294px,#1ee 0 295px,#4fb 0 296px,#06f 0 298px,#01f 0 299px,#0cf 0 300px,#00d 0 301px,#8f7 0 303px,#00e 0 304px,#05f 0 305px,#0cf 0 306px,#05f 0 307px,#07f 0 309px,#09f 0 310px,#00f 0 311px,#01f 0 312px,#00f 0 314px,#0cf 0 315px,#04f 0 316px,#5f9 0 317px,#02f 0 318px,#05f 0 320px,#07f 0 322px,#01f 0 323px,#00c 0 325px,#03f 0 326px,#08f 0 327px,#04f 0 330px,#00f 0 331px,#5f9 0 332px,#0cf 0 333px,#00f 0 334px,#5fa 0 336px,#03f 0 337px,#06f 0 338px,#02f 0 339px,#07f 0 341px,#04f 0 342px,#02f 0 343px,#00e 0 344px,#03f 0 345px,#1ee 0 347px,#01f 0 348px,#5f9 0 349px,#06f 0 350px,#1ee 0 352px,#0af 0 353px,#5fa 0 354px,#02f 0 355px,#0cf 0 356px,#bf4 0 358px,#0df 0 359px,#08f 0 360px,#00d 0 361px,#2fc 0 363px,#09f 0 364px,#4fb 0 365px,#02f 0 366px,#0af 0 368px,#0df 0 369px,#04f 0 370px,#00d 0 371px,#04f 0 372px,#6f8 0 374px,#05f 0 375px,#1ee 0 376px,#0df 0 377px,#5f9 0 379px,#00f 0 380px,#7f8 0 381px,#05f 0 382px,#00f 0 383px,#0df 0 385px,#04f 0 386px,#00c 0 387px,#1ee 0 388px,#02f 0 390px,#0cf 0 391px,#06f 0 392px,#0cf 0 393px,#02f 0 394px,#0af 0 396px,#8f7 0 397px,#08f 0 398px,#09f 0 399px,#1fd 0 401px,#09f 0 402px,#bf4 0 403px,#0df 0 404px,#0cf 0 405px,#2fc 0 407px,#8f6 0 408px,#1ee 0 409px,#7f8 0 410px,#03f 0 412px,#00d 0 413px,#0cf 0 414px,#08f 0 415px,#00f 0 417px,#0bf 0 418px,#fe0 0 419px,#2fc 0 420px,#0bf 0 421px,#0df 0 423px,#fb0 0 424px,#08f 0 425px,#df1 0 426px,#8f6 0 428px,#1fd 0 429px,#03f 0 430px,#5fa 0 431px,#bf3 0 432px,#0cf 0 434px,#07f 0 435px,#00f 0 436px,#5fa 0 437px,#00f 0 439px,#3fb 0 440px,#08f 0 441px,#0cf 0 442px,#05f 0 443px,#3fb 0 445px,#2fc 0 446px,#800 0 447px,#fe0 0 448px,#08f 0 450px,#0bf 0 452px,#bf3 0 453px,#03f 0 454px,#0cf 0 456px,#f50 0 457px,#6f8 0 458px,#0df 0 459px,#f60 0 461px,#f90 0 462px,#bf4 0 463px,#09f 0 464px,#7f8 0 466px,#8f7 0 467px,#6f8 0 468px,#9f5 0 469px,#2fc 0 470px,#fe0 0 472px,#800 0 475px,#9f5 0 477px,#800 0 478px,#900 0 479px,#800 0 480px,#cf2 0 481px,#800 0 490px)"></i><i style="left:437px;width:10px;background:linear-gradient(#00c 0 1px,#08f 0 2px,#00e 0 4px,#00f 0 5px,#00d 0 6px,#05f 0 7px,#00b 0 9px,#07f 0 10px,#00e 0 11px,#01f 0 12px,#00b 0 13px,#03f 0 15px,#00a 0 16px,#06f 0 17px,#00e 0 18px,#00f 0 20px,#01f 0 21px,#07f 0 22px,#00f 0 23px,#0df 0 24px,#04f 0 26px,#00f 0 27px,#03f 0 28px,#00c 0 29px,#03f 0 31px,#0df 0 32px,#00f 0 33px,#00d 0 34px,#02f 0 36px,#05f 0 37px,#00d 0 38px,#0af 0 39px,#00c 0 40px,#00f 0 42px,#02f 0 43px,#06f 0 45px,#03f 0 47px,#1ee 0 48px,#03f 0 49px,#0cf 0 50px,#00d 0 51px,#01f 0 53px,#03f 0 54px,#07f 0 55px,#0cf 0 56px,#00f 0 58px,#04f 0 59px,#01f 0 60px,#00c 0 61px,#00f 0 62px,#02f 0 64px,#0af 0 65px,#009 0 66px,#0af 0 67px,#05f 0 69px,#00f 0 70px,#00c 0 71px,#08f 0 72px,#05f 0 74px,#01f 0 75px,#0cf 0 76px,#00a 0 77px,#00f 0 78px,#00e 0 80px,#00f 0 81px,#00e 0 82px,#0cf 0 83px,#00d 0 85px,#00f 0 86px,#00d 0 87px,#06f 0 88px,#01f 0 89px,#00d 0 91px,#02f 0 92px,#06f 0 93px,#00f 0 94px,#00c 0 96px,#00d 0 97px,#00f 0 98px,#08f 0 99px,#02f 0 100px,#09f 0 102px,#03f 0 103px,#0af 0 104px,#03f 0 105px,#04f 0 107px,#06f 0 108px,#00e 0 109px,#09f 0 110px,#0cf 0 111px,#00c 0 113px,#04f 0 114px,#00f 0 115px,#03f 0 116px,#09f 0 118px,#02f 0 119px,#00f 0 120px,#06f 0 121px,#0cf 0 123px,#00e 0 124px,#04f 0 125px,#0bf 0 126px,#01f 0 127px,#03f 0 129px,#05f 0 130px,#0cf 0 131px,#02f 0 132px,#00c 0 134px,#00e 0 135px,#00f 0 136px,#04f 0 137px,#00c 0 138px,#01f 0 140px,#05f 0 141px,#00d 0 142px,#02f 0 143px,#00c 0 145px,#04f 0 146px,#06f 0 149px,#0cf 0 151px,#00f 0 152px,#06f 0 153px,#08f 0 154px,#09f 0 156px,#05f 0 157px,#00d 0 158px,#00f 0 159px,#02f 0 160px,#06f 0 162px,#09f 0 163px,#0cf 0 165px,#04f 0 167px,#00b 0 168px,#0af 0 169px,#00f 0 170px,#05f 0 172px,#08f 0 173px,#0bf 0 174px,#07f 0 175px,#00f 0 176px,#00e 0 178px,#0bf 0 179px,#00e 0 180px,#06f 0 181px,#03f 0 183px,#00f 0 184px,#00d 0 185px,#3fb 0 186px,#2fc 0 187px,#07f 0 189px,#03f 0 190px,#07f 0 191px,#04f 0 192px,#02f 0 194px,#00f 0 195px,#00b 0 196px,#02f 0 197px,#00d 0 198px,#06f 0 200px,#00b 0 201px,#00f 0 202px,#1ee 0 203px,#00f 0 205px,#00e 0 206px,#03f 0 208px,#5fa 0 209px,#00d 0 211px,#04f 0 212px,#02f 0 213px,#06f 0 214px,#5fa 0 216px,#06f 0 217px,#05f 0 218px,#09f 0 219px,#01f 0 221px,#02f 0 222px,#1ee 0 223px,#0af 0 224px,#07f 0 225px,#0af 0 227px,#06f 0 228px,#01f 0 229px,#00d 0 232px,#01f 0 233px,#00f 0 234px,#05f 0 235px,#08f 0 236px,#01f 0 239px,#03f 0 240px,#1ee 0 241px,#07f 0 243px,#1ee 0 244px,#06f 0 245px,#03f 0 246px,#0af 0 247px,#09f 0 249px,#0df 0 250px,#00f 0 251px,#02f 0 252px,#00f 0 254px,#02f 0 255px,#0af 0 256px,#00d 0 257px,#03f 0 258px,#07f 0 260px,#09f 0 261px,#00a 0 262px,#00b 0 263px,#3fb 0 265px,#0af 0 266px,#04f 0 267px,#02f 0 268px,#01f 0 270px,#00f 0 271px,#05f 0 272px,#03f 0 273px,#00f 0 274px,#00d 0 276px,#05f 0 277px,#04f 0 278px,#01f 0 279px,#1ee 0 281px,#04f 0 282px,#00c 0 283px,#00f 0 284px,#04f 0 285px,#6f8 0 287px,#5fa 0 288px,#00f 0 290px,#5fa 0 292px,#05f 0 293px,#0cf 0 294px,#08f 0 295px,#8f7 0 296px,#1ee 0 298px,#00d 0 299px,#06f 0 300px,#08f 0 301px,#9f5 0 303px,#02f 0 304px,#05f 0 305px,#5f9 0 306px,#00f 0 307px,#0bf 0 309px,#07f 0 310px,#02f 0 311px,#03f 0 312px,#04f 0 314px,#06f 0 315px,#02f 0 316px,#0cf 0 317px,#01f 0 318px,#09f 0 320px,#02f 0 321px,#04f 0 322px,#00c 0 323px,#08f 0 325px,#06f 0 326px,#01f 0 327px,#1fd 0 328px,#00e 0 331px,#0cf 0 332px,#0df 0 333px,#00e 0 334px,#0cf 0 336px,#00f 0 337px,#02f 0 338px,#00f 0 339px,#02f 0 341px,#0df 0 342px,#07f 0 343px,#00d 0 344px,#4fb 0 345px,#0bf 0 347px,#1ee 0 348px,#0cf 0 349px,#1fd 0 350px,#05f 0 352px,#0af 0 353px,#07f 0 354px,#05f 0 355px,#2fc 0 356px,#0cf 0 358px,#0af 0 359px,#5f9 0 360px,#08f 0 361px,#05f 0 363px,#0df 0 364px,#0cf 0 366px,#0af 0 368px,#07f 0 369px,#00b 0 370px,#00c 0 371px,#01f 0 372px,#00d 0 374px,#1ee 0 375px,#0cf 0 376px,#07f 0 377px,#0cf 0 379px,#03f 0 380px,#0bf 0 381px,#02f 0 382px,#04f 0 383px,#0df 0 385px,#03f 0 386px,#05f 0 387px,#03f 0 388px,#0cf 0 392px,#00f 0 393px,#00e 0 394px,#3fb 0 396px,#9f5 0 397px,#09f 0 398px,#ef1 0 399px,#6f8 0 401px,#1fd 0 402px,#0cf 0 403px,#4fb 0 405px,#8f7 0 407px,#00f 0 408px,#08f 0 409px,#00f 0 410px,#f70 0 412px,#04f 0 413px,#2fc 0 415px,#00f 0 417px,#05f 0 418px,#f40 0 419px,#01f 0 420px,#0cf 0 421px,#00e 0 423px,#02f 0 424px,#0bf 0 426px,#4fb 0 428px,#0af 0 429px,#04f 0 430px,#0cf 0 432px,#9f5 0 434px,#bf4 0 435px,#05f 0 436px,#009 0 437px,#09f 0 439px,#0af 0 440px,#0df 0 441px,#2fc 0 442px,#fa0 0 443px,#0cf 0 445px,#06f 0 446px,#800 0 447px,#7f8 0 448px,#800 0 450px,#900 0 451px,#fe0 0 452px,#0df 0 453px,#00c 0 454px,#8f7 0 456px,#06f 0 457px,#00d 0 458px,#1ee 0 459px,#0df 0 461px,#f80 0 462px,#f20 0 463px,#0bf 0 464px,#df1 0 466px,#02f 0 467px,#c00 0 468px,#08f 0 469px,#07f 0 470px,#8f7 0 472px,#800 0 474px,#fe0 0 475px,#9f5 0 477px,#800 0 479px,#0cf 0 480px,#09f 0 481px,#800 0 484px,#b00 0 485px,#800 0 490px)"></i><i style="left:447px;width:9px;background:linear-gradient(#03f 0 1px,#04f 0 2px,#00c 0 4px,#00b 0 5px,#00c 0 6px,#08f 0 7px,#01f 0 10px,#00c 0 13px,#05f 0 15px,#00c 0 16px,#0bf 0 17px,#00e 0 18px,#00d 0 20px,#00f 0 23px,#07f 0 24px,#06f 0 26px,#00d 0 27px,#00e 0 29px,#01f 0 31px,#04f 0 32px,#00e 0 33px,#00d 0 34px,#00e 0 36px,#06f 0 37px,#01f 0 38px,#05f 0 39px,#009 0 40px,#00d 0 42px,#05f 0 43px,#00f 0 44px,#05f 0 45px,#01f 0 47px,#2fc 0 48px,#05f 0 49px,#0af 0 50px,#02f 0 53px,#06f 0 54px,#00f 0 55px,#03f 0 56px,#08f 0 58px,#01f 0 59px,#05f 0 60px,#00b 0 61px,#00d 0 62px,#00f 0 64px,#01f 0 65px,#00c 0 66px,#0df 0 67px,#01f 0 69px,#00e 0 70px,#01f 0 71px,#00f 0 72px,#0cf 0 74px,#00f 0 75px,#0bf 0 76px,#00f 0 78px,#02f 0 81px,#03f 0 82px,#02f 0 83px,#03f 0 86px,#01f 0 87px,#00f 0 88px,#08f 0 89px,#00f 0 91px,#03f 0 92px,#0af 0 93px,#03f 0 94px,#00d 0 98px,#0af 0 99px,#01f 0 100px,#09f 0 102px,#00f 0 103px,#04f 0 104px,#01f 0 105px,#00f 0 107px,#01f 0 108px,#00d 0 109px,#0cf 0 110px,#0af 0 111px,#02f 0 113px,#08f 0 114px,#01f 0 115px,#06f 0 119px,#00f 0 120px,#01f 0 121px,#0af 0 123px,#06f 0 124px,#07f 0 125px,#0cf 0 126px,#08f 0 127px,#00e 0 130px,#3fb 0 131px,#08f 0 134px,#06f 0 135px,#00f 0 140px,#04f 0 143px,#00e 0 145px,#00f 0 146px,#05f 0 147px,#01f 0 149px,#07f 0 151px,#06f 0 152px,#6f8 0 153px,#1ee 0 154px,#08f 0 156px,#00f 0 159px,#01f 0 160px,#0bf 0 163px,#08f 0 164px,#0cf 0 167px,#00d 0 168px,#05f 0 169px,#1fd 0 170px,#06f 0 172px,#01f 0 173px,#00b 0 174px,#01f 0 175px,#00f 0 178px,#06f 0 179px,#04f 0 180px,#09f 0 181px,#00b 0 183px,#04f 0 184px,#00f 0 185px,#0af 0 186px,#05f 0 187px,#01f 0 189px,#00e 0 190px,#01f 0 191px,#0af 0 192px,#06f 0 194px,#05f 0 195px,#00d 0 196px,#00f 0 197px,#00e 0 200px,#00b 0 201px,#0af 0 202px,#08f 0 205px,#02f 0 206px,#00b 0 207px,#08f 0 208px,#5f9 0 209px,#00d 0 211px,#00c 0 212px,#00f 0 213px,#04f 0 214px,#2fc 0 216px,#0af 0 217px,#03f 0 218px,#5fa 0 219px,#01f 0 221px,#00e 0 222px,#6f8 0 223px,#5f9 0 224px,#02f 0 225px,#0af 0 227px,#02f 0 228px,#0af 0 229px,#00f 0 232px,#00e 0 233px,#00f 0 234px,#04f 0 235px,#01f 0 236px,#00f 0 238px,#03f 0 239px,#02f 0 240px,#0cf 0 241px,#07f 0 243px,#4fb 0 244px,#0bf 0 245px,#00c 0 246px,#3fb 0 247px,#00f 0 249px,#06f 0 250px,#02f 0 251px,#0df 0 252px,#04f 0 254px,#5fa 0 255px,#2fc 0 256px,#00c 0 257px,#07f 0 258px,#03f 0 260px,#04f 0 261px,#05f 0 262px,#00f 0 263px,#5fa 0 265px,#0cf 0 266px,#03f 0 268px,#00d 0 270px,#00c 0 271px,#7f8 0 272px,#07f 0 273px,#009 0 274px,#0bf 0 276px,#1fd 0 277px,#0af 0 278px,#01f 0 279px,#3fb 0 281px,#02f 0 282px,#00f 0 283px,#05f 0 284px,#00f 0 285px,#6f8 0 287px,#00c 0 288px,#06f 0 289px,#00f 0 290px,#0cf 0 292px,#0df 0 293px,#00e 0 294px,#1fd 0 295px,#af5 0 296px,#0bf 0 298px,#03f 0 299px,#00f 0 300px,#0df 0 301px,#0af 0 303px,#08f 0 304px,#0af 0 305px,#5f9 0 306px,#07f 0 307px,#2fc 0 309px,#04f 0 310px,#06f 0 311px,#08f 0 312px,#01f 0 314px,#07f 0 315px,#0bf 0 316px,#8f7 0 317px,#00f 0 318px,#0af 0 320px,#06f 0 321px,#00f 0 322px,#00a 0 323px,#0cf 0 325px,#03f 0 326px,#00f 0 327px,#0cf 0 328px,#04f 0 330px,#03f 0 331px,#3fb 0 332px,#04f 0 333px,#00f 0 334px,#6f8 0 336px,#02f 0 337px,#03f 0 338px,#05f 0 339px,#09f 0 341px,#1ee 0 342px,#03f 0 343px,#02f 0 344px,#0bf 0 345px,#01f 0 347px,#07f 0 348px,#5f9 0 349px,#0df 0 350px,#00e 0 352px,#5f9 0 353px,#05f 0 354px,#5f9 0 355px,#02f 0 356px,#1ee 0 358px,#05f 0 359px,#03f 0 360px,#0cf 0 361px,#00d 0 363px,#07f 0 364px,#08f 0 365px,#04f 0 366px,#06f 0 368px,#05f 0 370px,#009 0 371px,#00f 0 374px,#0df 0 375px,#0cf 0 376px,#00f 0 377px,#02f 0 379px,#0cf 0 380px,#09f 0 381px,#1fd 0 382px,#08f 0 383px,#3fb 0 385px,#00d 0 386px,#1fd 0 387px,#9f5 0 388px,#00e 0 390px,#7f8 0 391px,#0df 0 392px,#00c 0 393px,#02f 0 394px,#8f6 0 396px,#4fb 0 397px,#0df 0 398px,#00f 0 399px,#2fc 0 401px,#bf4 0 402px,#0af 0 403px,#08f 0 404px,#bf4 0 405px,#4fb 0 407px,#00f 0 408px,#0cf 0 409px,#00f 0 410px,#0cf 0 412px,#0df 0 413px,#02f 0 414px,#8f6 0 415px,#00f 0 417px,#02f 0 418px,#5f9 0 419px,#00e 0 420px,#00c 0 421px,#bf4 0 423px,#03f 0 424px,#00f 0 425px,#6f8 0 426px,#c00 0 428px,#01f 0 429px,#800 0 430px,#00f 0 431px,#0af 0 432px,#1fd 0 434px,#fa0 0 435px,#08f 0 436px,#02f 0 437px,#5fa 0 440px,#0df 0 441px,#7f8 0 442px,#fe0 0 443px,#1fd 0 445px,#2fc 0 446px,#800 0 447px,#bf3 0 448px,#a00 0 450px,#05f 0 451px,#cf2 0 452px,#f20 0 453px,#8f6 0 454px,#07f 0 456px,#7f8 0 457px,#09f 0 458px,#7f8 0 459px,#0df 0 461px,#2fc 0 462px,#df1 0 463px,#800 0 464px,#0bf 0 466px,#0cf 0 467px,#bf3 0 468px,#05f 0 469px,#2fc 0 470px,#d00 0 472px,#800 0 473px,#8f6 0 474px,#800 0 475px,#8f7 0 477px,#800 0 479px,#f50 0 480px,#09f 0 481px,#b00 0 483px,#800 0 484px,#03f 0 485px,#800 0 490px)"></i><i style="left:456px;width:10px;background:linear-gradient(#02f 0 1px,#0bf 0 2px,#04f 0 4px,#00f 0 5px,#03f 0 6px,#04f 0 7px,#01f 0 10px,#06f 0 11px,#00f 0 12px,#00c 0 13px,#07f 0 15px,#02f 0 16px,#2fc 0 17px,#05f 0 18px,#00d 0 20px,#00e 0 21px,#00c 0 22px,#03f 0 23px,#08f 0 24px,#00d 0 26px,#00e 0 27px,#0cf 0 28px,#00a 0 29px,#00f 0 31px,#09f 0 32px,#00b 0 33px,#00c 0 34px,#00f 0 36px,#06f 0 37px,#07f 0 38px,#09f 0 39px,#00a 0 40px,#00f 0 42px,#09f 0 43px,#01f 0 44px,#02f 0 45px,#03f 0 47px,#00f 0 48px,#07f 0 49px,#08f 0 50px,#05f 0 51px,#07f 0 53px,#02f 0 54px,#05f 0 55px,#03f 0 56px,#05f 0 58px,#00f 0 59px,#06f 0 60px,#00f 0 61px,#00d 0 62px,#02f 0 64px,#00f 0 65px,#02f 0 66px,#05f 0 67px,#06f 0 69px,#00f 0 70px,#03f 0 71px,#00b 0 72px,#1ee 0 74px,#06f 0 75px,#01f 0 76px,#00e 0 77px,#00f 0 80px,#09f 0 81px,#01f 0 82px,#00e 0 83px,#08f 0 85px,#00f 0 86px,#03f 0 87px,#02f 0 88px,#00b 0 89px,#009 0 91px,#00f 0 92px,#08f 0 93px,#0cf 0 94px,#2fc 0 96px,#03f 0 97px,#00d 0 98px,#05f 0 99px,#03f 0 100px,#07f 0 102px,#00e 0 103px,#05f 0 104px,#00f 0 105px,#04f 0 107px,#00c 0 108px,#02f 0 109px,#05f 0 110px,#0cf 0 111px,#00f 0 113px,#00e 0 114px,#00b 0 115px,#0bf 0 116px,#00c 0 118px,#03f 0 119px,#01f 0 120px,#02f 0 121px,#00f 0 123px,#0cf 0 124px,#09f 0 125px,#04f 0 126px,#1ee 0 127px,#05f 0 129px,#04f 0 130px,#05f 0 131px,#09f 0 132px,#00f 0 134px,#02f 0 135px,#04f 0 136px,#00b 0 137px,#01f 0 138px,#02f 0 140px,#00e 0 141px,#0cf 0 142px,#01f 0 143px,#00e 0 145px,#06f 0 146px,#6f8 0 147px,#08f 0 148px,#03f 0 149px,#06f 0 151px,#0af 0 152px,#4fb 0 154px,#07f 0 156px,#00f 0 158px,#00e 0 159px,#00d 0 160px,#01f 0 162px,#09f 0 163px,#00e 0 164px,#0cf 0 165px,#05f 0 167px,#07f 0 168px,#02f 0 169px,#00f 0 170px,#03f 0 172px,#00c 0 173px,#00f 0 175px,#09f 0 176px,#04f 0 178px,#02f 0 179px,#01f 0 180px,#0bf 0 181px,#04f 0 183px,#07f 0 184px,#06f 0 185px,#03f 0 186px,#1fd 0 187px,#02f 0 189px,#00f 0 190px,#01f 0 191px,#04f 0 195px,#00f 0 196px,#03f 0 197px,#00f 0 198px,#09f 0 200px,#0bf 0 201px,#00f 0 202px,#1fd 0 203px,#08f 0 205px,#00f 0 206px,#02f 0 207px,#0cf 0 208px,#1fd 0 209px,#00e 0 212px,#09f 0 213px,#00e 0 214px,#06f 0 216px,#00f 0 217px,#02f 0 218px,#5fa 0 219px,#04f 0 221px,#09f 0 222px,#0cf 0 223px,#03f 0 224px,#00f 0 228px,#03f 0 229px,#00c 0 230px,#00f 0 232px,#04f 0 235px,#00d 0 236px,#2fc 0 238px,#00f 0 239px,#01f 0 240px,#02f 0 241px,#04f 0 243px,#0cf 0 244px,#04f 0 245px,#00d 0 246px,#3fb 0 247px,#05f 0 249px,#07f 0 250px,#02f 0 251px,#0af 0 254px,#5fa 0 255px,#5f9 0 256px,#00d 0 257px,#09f 0 258px,#06f 0 260px,#00f 0 261px,#02f 0 262px,#00d 0 263px,#5f9 0 265px,#00d 0 266px,#03f 0 267px,#08f 0 268px,#00b 0 270px,#00f 0 271px,#07f 0 272px,#3fb 0 273px,#009 0 274px,#02f 0 276px,#08f 0 277px,#03f 0 278px,#00d 0 279px,#07f 0 281px,#01f 0 282px,#05f 0 283px,#00f 0 285px,#5fa 0 287px,#04f 0 288px,#09f 0 289px,#0cf 0 290px,#8f6 0 292px,#03f 0 293px,#02f 0 294px,#1fd 0 295px,#0cf 0 296px,#00e 0 298px,#01f 0 299px,#00f 0 300px,#06f 0 301px,#05f 0 303px,#0cf 0 304px,#00d 0 305px,#0af 0 306px,#06f 0 307px,#09f 0 309px,#04f 0 310px,#02f 0 311px,#01f 0 312px,#00e 0 314px,#00d 0 315px,#06f 0 316px,#03f 0 317px,#00f 0 318px,#07f 0 320px,#08f 0 321px,#07f 0 322px,#00c 0 323px,#04f 0 325px,#03f 0 326px,#00d 0 327px,#00f 0 328px,#0af 0 331px,#1ee 0 332px,#5fa 0 333px,#03f 0 334px,#08f 0 336px,#4fb 0 337px,#05f 0 338px,#03f 0 339px,#05f 0 341px,#9f5 0 342px,#05f 0 343px,#06f 0 344px,#04f 0 345px,#0bf 0 347px,#0df 0 348px,#8f7 0 349px,#08f 0 350px,#0df 0 352px,#0bf 0 353px,#00e 0 354px,#8f6 0 355px,#08f 0 356px,#cf2 0 358px,#02f 0 359px,#01f 0 360px,#1ee 0 361px,#0df 0 363px,#00f 0 364px,#03f 0 365px,#00f 0 366px,#00d 0 368px,#00f 0 369px,#00d 0 370px,#00c 0 371px,#03f 0 372px,#09f 0 374px,#5fa 0 375px,#0df 0 376px,#1fd 0 377px,#5f9 0 379px,#00f 0 380px,#03f 0 381px,#0af 0 382px,#0cf 0 383px,#1fd 0 385px,#08f 0 386px,#0cf 0 387px,#0df 0 388px,#00f 0 390px,#00d 0 391px,#08f 0 392px,#0af 0 393px,#00b 0 394px,#0bf 0 396px,#5f9 0 397px,#3fb 0 398px,#cf2 0 399px,#04f 0 401px,#5fa 0 402px,#00d 0 403px,#06f 0 404px,#df1 0 405px,#0bf 0 407px,#05f 0 408px,#07f 0 409px,#08f 0 410px,#6f8 0 412px,#03f 0 413px,#00f 0 414px,#0df 0 415px,#03f 0 417px,#4fb 0 418px,#ef1 0 419px,#af5 0 420px,#08f 0 421px,#2fc 0 423px,#0df 0 424px,#04f 0 425px,#af5 0 426px,#3fb 0 428px,#04f 0 429px,#5f9 0 430px,#1ee 0 431px,#0bf 0 432px,#fd0 0 434px,#f50 0 435px,#7f8 0 436px,#00f 0 437px,#5fa 0 439px,#bf4 0 440px,#f40 0 441px,#f60 0 442px,#00e 0 443px,#1fd 0 445px,#06f 0 446px,#cf2 0 447px,#00f 0 448px,#1fd 0 450px,#0af 0 451px,#fb0 0 452px,#06f 0 453px,#800 0 454px,#00e 0 456px,#e00 0 457px,#3fb 0 458px,#fb0 0 459px,#04f 0 461px,#9f5 0 462px,#800 0 463px,#af5 0 464px,#b00 0 466px,#fe0 0 467px,#0af 0 468px,#f70 0 469px,#5fa 0 470px,#fb0 0 472px,#cf2 0 473px,#800 0 480px,#f30 0 481px,#800 0 485px,#af5 0 486px,#800 0 488px,#ef1 0 489px,#800 0 490px)"></i><i style="left:466px;width:10px;background:linear-gradient(#08f 0 1px,#00d 0 2px,#00f 0 4px,#00e 0 5px,#02f 0 6px,#03f 0 7px,#00f 0 9px,#00c 0 10px,#03f 0 11px,#01f 0 12px,#00f 0 13px,#04f 0 15px,#03f 0 16px,#1ee 0 17px,#05f 0 18px,#00c 0 20px,#00a 0 21px,#009 0 22px,#01f 0 24px,#00c 0 26px,#00e 0 27px,#6f8 0 28px,#009 0 29px,#05f 0 31px,#00f 0 32px,#00c 0 33px,#00d 0 34px,#00f 0 36px,#01f 0 37px,#04f 0 38px,#00e 0 39px,#00d 0 40px,#02f 0 42px,#07f 0 43px,#05f 0 44px,#07f 0 45px,#06f 0 47px,#00c 0 48px,#0bf 0 49px,#02f 0 50px,#04f 0 51px,#00e 0 53px,#00f 0 55px,#03f 0 56px,#04f 0 58px,#0af 0 59px,#05f 0 60px,#00f 0 61px,#00d 0 62px,#00f 0 64px,#08f 0 65px,#00c 0 66px,#05f 0 67px,#02f 0 70px,#2fc 0 71px,#00b 0 72px,#0df 0 74px,#07f 0 75px,#00f 0 76px,#00d 0 77px,#1ee 0 78px,#00c 0 80px,#0af 0 81px,#00f 0 82px,#02f 0 83px,#06f 0 85px,#03f 0 86px,#07f 0 87px,#04f 0 88px,#009 0 89px,#00e 0 91px,#01f 0 92px,#03f 0 93px,#04f 0 94px,#03f 0 96px,#00f 0 97px,#0cf 0 98px,#04f 0 99px,#03f 0 100px,#02f 0 103px,#04f 0 104px,#00c 0 105px,#00f 0 107px,#00e 0 108px,#06f 0 109px,#07f 0 110px,#04f 0 111px,#00a 0 113px,#00e 0 114px,#01f 0 115px,#4fb 0 116px,#09f 0 118px,#00f 0 120px,#03f 0 121px,#00a 0 123px,#0cf 0 124px,#0bf 0 125px,#03f 0 126px,#07f 0 127px,#0cf 0 130px,#03f 0 131px,#0bf 0 132px,#01f 0 134px,#00e 0 135px,#05f 0 136px,#00c 0 137px,#0af 0 138px,#2fc 0 140px,#02f 0 141px,#07f 0 142px,#04f 0 143px,#00d 0 145px,#07f 0 146px,#0af 0 147px,#09f 0 148px,#00f 0 149px,#07f 0 151px,#00f 0 152px,#07f 0 153px,#1ee 0 154px,#01f 0 156px,#03f 0 157px,#0cf 0 158px,#00b 0 159px,#00f 0 162px,#05f 0 163px,#00f 0 164px,#00d 0 165px,#06f 0 167px,#00f 0 169px,#04f 0 170px,#00e 0 172px,#02f 0 173px,#09f 0 174px,#01f 0 175px,#07f 0 176px,#06f 0 179px,#05f 0 181px,#03f 0 183px,#01f 0 184px,#00f 0 185px,#05f 0 186px,#01f 0 187px,#05f 0 189px,#00f 0 190px,#06f 0 191px,#05f 0 192px,#06f 0 195px,#08f 0 196px,#01f 0 197px,#02f 0 198px,#09f 0 200px,#06f 0 201px,#02f 0 202px,#0cf 0 203px,#02f 0 205px,#00f 0 206px,#07f 0 207px,#0af 0 208px,#06f 0 209px,#03f 0 211px,#00d 0 212px,#03f 0 213px,#05f 0 214px,#0bf 0 216px,#00e 0 217px,#0bf 0 218px,#5fa 0 219px,#00f 0 221px,#07f 0 222px,#0cf 0 223px,#08f 0 224px,#00d 0 225px,#00c 0 227px,#03f 0 228px,#04f 0 229px,#00f 0 230px,#04f 0 232px,#06f 0 233px,#09f 0 234px,#0af 0 235px,#00d 0 236px,#06f 0 238px,#03f 0 239px,#05f 0 243px,#4fb 0 244px,#05f 0 245px,#02f 0 246px,#3fb 0 247px,#0cf 0 249px,#09f 0 250px,#08f 0 251px,#0cf 0 252px,#07f 0 254px,#04f 0 255px,#0af 0 256px,#00f 0 257px,#08f 0 258px,#0af 0 260px,#00f 0 261px,#0af 0 262px,#00c 0 263px,#5f9 0 265px,#04f 0 266px,#03f 0 267px,#08f 0 268px,#00d 0 270px,#02f 0 272px,#6f8 0 273px,#00b 0 274px,#01f 0 276px,#00f 0 277px,#05f 0 278px,#01f 0 279px,#1fd 0 281px,#00f 0 282px,#0cf 0 283px,#00e 0 285px,#07f 0 287px,#05f 0 288px,#06f 0 289px,#00f 0 290px,#4fb 0 292px,#00e 0 293px,#8f7 0 294px,#03f 0 295px,#2fc 0 296px,#06f 0 298px,#04f 0 299px,#01f 0 300px,#05f 0 301px,#08f 0 303px,#03f 0 304px,#00c 0 305px,#00f 0 306px,#04f 0 309px,#06f 0 310px,#00f 0 311px,#00c 0 312px,#0bf 0 314px,#08f 0 315px,#03f 0 316px,#02f 0 317px,#00e 0 318px,#08f 0 322px,#00e 0 323px,#0af 0 325px,#05f 0 326px,#00f 0 327px,#04f 0 328px,#0af 0 330px,#09f 0 331px,#05f 0 332px,#3fb 0 333px,#01f 0 334px,#8f6 0 337px,#02f 0 338px,#01f 0 339px,#0cf 0 341px,#09f 0 342px,#0df 0 343px,#3fb 0 344px,#00e 0 345px,#06f 0 347px,#00f 0 348px,#06f 0 349px,#00e 0 350px,#1ee 0 352px,#0af 0 353px,#00f 0 354px,#3fb 0 355px,#06f 0 356px,#04f 0 358px,#00f 0 359px,#5f9 0 360px,#0af 0 363px,#00c 0 364px,#04f 0 365px,#09f 0 366px,#01f 0 368px,#00f 0 369px,#02f 0 371px,#1fd 0 372px,#05f 0 374px,#4fb 0 375px,#0cf 0 376px,#05f 0 377px,#06f 0 382px,#01f 0 383px,#5f9 0 385px,#7f8 0 386px,#02f 0 387px,#07f 0 388px,#1ee 0 390px,#00b 0 391px,#06f 0 392px,#7f8 0 393px,#05f 0 394px,#1fd 0 396px,#3fb 0 397px,#02f 0 398px,#f80 0 399px,#0cf 0 401px,#af5 0 402px,#00e 0 403px,#05f 0 404px,#0bf 0 405px,#0cf 0 407px,#00e 0 408px,#0bf 0 409px,#0cf 0 410px,#5fa 0 412px,#07f 0 413px,#09f 0 414px,#4fb 0 415px,#04f 0 417px,#0df 0 418px,#3fb 0 419px,#8f7 0 420px,#0df 0 421px,#0af 0 423px,#fe0 0 424px,#09f 0 425px,#04f 0 426px,#8f6 0 428px,#0cf 0 429px,#1ee 0 430px,#f50 0 431px,#bf3 0 432px,#9f5 0 434px,#f60 0 435px,#8f7 0 436px,#0cf 0 437px,#5fa 0 439px,#02f 0 440px,#04f 0 441px,#1ee 0 442px,#02f 0 443px,#800 0 445px,#2fc 0 446px,#fa0 0 447px,#f60 0 448px,#1ee 0 451px,#f90 0 452px,#3fb 0 453px,#05f 0 454px,#0cf 0 456px,#0bf 0 457px,#c00 0 458px,#d00 0 459px,#800 0 461px,#f40 0 462px,#800 0 464px,#1fd 0 466px,#800 0 467px,#0cf 0 468px,#800 0 473px,#900 0 474px,#f50 0 475px,#800 0 479px,#f40 0 480px,#0cf 0 481px,#bf3 0 483px,#800 0 484px,#a00 0 485px,#800 0 490px)"></i><i style="left:476px;width:9px;background:linear-gradient(#01f 0 1px,#00c 0 2px,#00d 0 4px,#00c 0 5px,#04f 0 6px,#03f 0 7px,#05f 0 9px,#04f 0 10px,#00f 0 11px,#00e 0 12px,#05f 0 13px,#0af 0 15px,#07f 0 16px,#04f 0 17px,#0bf 0 18px,#00e 0 20px,#00f 0 21px,#00c 0 22px,#00f 0 24px,#07f 0 26px,#00e 0 27px,#00f 0 28px,#00b 0 29px,#02f 0 31px,#00f 0 32px,#01f 0 33px,#00f 0 34px,#00e 0 36px,#01f 0 37px,#06f 0 38px,#00f 0 40px,#05f 0 42px,#0df 0 43px,#00f 0 44px,#00e 0 45px,#07f 0 47px,#01f 0 48px,#03f 0 49px,#00f 0 50px,#0cf 0 51px,#00f 0 53px,#00d 0 54px,#00f 0 55px,#01f 0 56px,#00e 0 58px,#0bf 0 59px,#00d 0 60px,#03f 0 61px,#00f 0 62px,#02f 0 64px,#0cf 0 65px,#00e 0 66px,#06f 0 67px,#03f 0 69px,#08f 0 70px,#09f 0 71px,#01f 0 72px,#05f 0 74px,#00f 0 76px,#03f 0 77px,#01f 0 78px,#00b 0 80px,#08f 0 81px,#00c 0 82px,#04f 0 83px,#01f 0 85px,#05f 0 86px,#00c 0 87px,#07f 0 88px,#00f 0 89px,#02f 0 91px,#00d 0 92px,#06f 0 93px,#0cf 0 94px,#03f 0 96px,#00d 0 97px,#0cf 0 99px,#00f 0 100px,#00e 0 103px,#00f 0 104px,#00b 0 105px,#00d 0 108px,#00f 0 109px,#06f 0 110px,#00d 0 111px,#00e 0 114px,#01f 0 115px,#1ee 0 116px,#00f 0 118px,#04f 0 119px,#00f 0 120px,#06f 0 121px,#05f 0 123px,#02f 0 124px,#03f 0 125px,#07f 0 126px,#04f 0 127px,#08f 0 129px,#0cf 0 130px,#0bf 0 131px,#09f 0 132px,#03f 0 134px,#00d 0 135px,#03f 0 136px,#01f 0 137px,#02f 0 138px,#0af 0 140px,#06f 0 141px,#08f 0 142px,#02f 0 143px,#06f 0 146px,#04f 0 147px,#06f 0 148px,#00f 0 149px,#00d 0 151px,#03f 0 152px,#08f 0 153px,#0cf 0 154px,#03f 0 156px,#05f 0 157px,#0cf 0 158px,#00e 0 159px,#00d 0 162px,#0df 0 163px,#05f 0 164px,#01f 0 165px,#0af 0 167px,#00e 0 168px,#00c 0 169px,#01f 0 170px,#00e 0 172px,#04f 0 173px,#3fb 0 174px,#2fc 0 175px,#0cf 0 176px,#0af 0 178px,#00f 0 179px,#08f 0 180px,#01f 0 181px,#02f 0 183px,#01f 0 184px,#00f 0 185px,#00e 0 186px,#03f 0 187px,#00f 0 189px,#00d 0 190px,#00f 0 191px,#02f 0 192px,#0af 0 194px,#03f 0 195px,#00f 0 196px,#04f 0 197px,#00f 0 198px,#04f 0 200px,#06f 0 201px,#05f 0 202px,#2fc 0 203px,#00b 0 205px,#08f 0 206px,#03f 0 207px,#00d 0 208px,#03f 0 209px,#04f 0 211px,#00d 0 212px,#02f 0 213px,#06f 0 214px,#01f 0 216px,#05f 0 217px,#08f 0 218px,#1ee 0 219px,#02f 0 221px,#05f 0 222px,#6f8 0 223px,#00b 0 224px,#04f 0 225px,#00f 0 227px,#02f 0 228px,#07f 0 229px,#04f 0 230px,#03f 0 232px,#01f 0 233px,#0bf 0 234px,#06f 0 235px,#01f 0 236px,#04f 0 238px,#0bf 0 239px,#03f 0 241px,#5f9 0 243px,#1fd 0 244px,#00c 0 245px,#01f 0 246px,#00f 0 247px,#06f 0 249px,#02f 0 250px,#0bf 0 251px,#06f 0 252px,#02f 0 254px,#01f 0 255px,#1fd 0 257px,#04f 0 258px,#02f 0 260px,#00d 0 261px,#06f 0 262px,#00e 0 263px,#5f9 0 265px,#00b 0 266px,#1ee 0 267px,#08f 0 268px,#00f 0 270px,#01f 0 271px,#00f 0 272px,#5fa 0 273px,#00c 0 274px,#02f 0 276px,#03f 0 277px,#08f 0 278px,#07f 0 279px,#0df 0 281px,#0bf 0 282px,#06f 0 283px,#05f 0 284px,#07f 0 285px,#04f 0 287px,#00f 0 288px,#05f 0 289px,#00f 0 290px,#4fb 0 292px,#08f 0 294px,#02f 0 295px,#0bf 0 296px,#06f 0 298px,#00d 0 299px,#09f 0 300px,#0df 0 301px,#04f 0 303px,#01f 0 304px,#00f 0 305px,#00a 0 306px,#01f 0 309px,#02f 0 310px,#08f 0 311px,#00e 0 312px,#00f 0 314px,#5fa 0 315px,#1ee 0 316px,#03f 0 318px,#05f 0 320px,#01f 0 321px,#00e 0 322px,#00f 0 323px,#09f 0 325px,#00f 0 327px,#02f 0 328px,#1fd 0 330px,#0af 0 331px,#9f5 0 332px,#bf4 0 333px,#07f 0 334px,#1ee 0 336px,#0cf 0 337px,#01f 0 338px,#04f 0 339px,#08f 0 341px,#06f 0 342px,#08f 0 343px,#8f6 0 344px,#00e 0 345px,#0cf 0 347px,#01f 0 348px,#09f 0 349px,#03f 0 350px,#06f 0 352px,#2fc 0 353px,#0cf 0 354px,#04f 0 355px,#0cf 0 356px,#05f 0 358px,#00f 0 359px,#6f8 0 360px,#0cf 0 361px,#03f 0 363px,#00f 0 364px,#1ee 0 365px,#01f 0 366px,#03f 0 368px,#05f 0 369px,#0cf 0 370px,#00f 0 371px,#01f 0 372px,#00d 0 374px,#5fa 0 375px,#02f 0 376px,#0cf 0 377px,#5f9 0 379px,#05f 0 380px,#3fb 0 381px,#1fd 0 382px,#07f 0 383px,#4fb 0 385px,#0df 0 386px,#00b 0 387px,#09f 0 388px,#1fd 0 390px,#00b 0 391px,#04f 0 392px,#1fd 0 393px,#00f 0 394px,#2fc 0 396px,#0bf 0 397px,#00f 0 398px,#bf4 0 399px,#3fb 0 402px,#09f 0 403px,#06f 0 404px,#1ee 0 405px,#09f 0 407px,#00f 0 408px,#02f 0 409px,#0cf 0 410px,#6f8 0 412px,#07f 0 413px,#0cf 0 414px,#00f 0 415px,#02f 0 417px,#d00 0 418px,#03f 0 419px,#0df 0 420px,#1fd 0 421px,#00e 0 423px,#8f6 0 424px,#00c 0 425px,#0cf 0 426px,#09f 0 428px,#1ee 0 430px,#0cf 0 431px,#c00 0 432px,#02f 0 434px,#df1 0 435px,#5f9 0 436px,#02f 0 437px,#09f 0 439px,#01f 0 440px,#00f 0 441px,#fd0 0 442px,#0cf 0 443px,#04f 0 445px,#8f7 0 446px,#a00 0 447px,#07f 0 448px,#d00 0 450px,#0af 0 451px,#cf2 0 452px,#800 0 453px,#3fb 0 454px,#0bf 0 456px,#00f 0 457px,#7f8 0 458px,#800 0 461px,#9f5 0 462px,#5f9 0 463px,#6f8 0 464px,#f70 0 466px,#4fb 0 467px,#2fc 0 468px,#800 0 470px,#1fd 0 472px,#fe0 0 473px,#fc0 0 474px,#fe0 0 475px,#f80 0 477px,#800 0 479px,#03f 0 480px,#b00 0 481px,#5fa 0 483px,#7f8 0 484px,#800 0 490px)"></i><i style="left:485px;width:10px;background:linear-gradient(#02f 0 1px,#00f 0 4px,#00d 0 5px,#02f 0 6px,#08f 0 7px,#00e 0 9px,#05f 0 10px,#00f 0 11px,#00b 0 12px,#06f 0 13px,#0bf 0 15px,#0af 0 16px,#02f 0 17px,#09f 0 18px,#02f 0 20px,#00b 0 21px,#00c 0 22px,#05f 0 23px,#03f 0 24px,#00f 0 26px,#00e 0 27px,#02f 0 28px,#00d 0 29px,#05f 0 31px,#08f 0 33px,#00f 0 34px,#04f 0 36px,#05f 0 37px,#01f 0 38px,#00f 0 39px,#00e 0 40px,#07f 0 44px,#00f 0 45px,#01f 0 47px,#03f 0 48px,#0bf 0 49px,#1fd 0 50px,#0cf 0 51px,#03f 0 53px,#00d 0 54px,#09f 0 55px,#04f 0 56px,#00f 0 58px,#07f 0 59px,#00c 0 60px,#00f 0 61px,#00e 0 62px,#00f 0 64px,#0bf 0 65px,#09f 0 66px,#04f 0 67px,#07f 0 69px,#00f 0 70px,#01f 0 71px,#00f 0 72px,#0bf 0 74px,#03f 0 75px,#06f 0 76px,#09f 0 77px,#06f 0 78px,#00e 0 80px,#00f 0 81px,#00c 0 82px,#01f 0 83px,#0bf 0 85px,#0af 0 86px,#01f 0 87px,#00e 0 89px,#0df 0 91px,#00e 0 92px,#09f 0 93px,#03f 0 94px,#00f 0 96px,#00b 0 97px,#08f 0 98px,#1ee 0 99px,#0bf 0 100px,#03f 0 102px,#04f 0 103px,#00d 0 104px,#00e 0 105px,#00f 0 107px,#02f 0 108px,#00c 0 109px,#07f 0 110px,#00f 0 111px,#03f 0 113px,#00f 0 114px,#0af 0 115px,#06f 0 116px,#04f 0 118px,#03f 0 119px,#00f 0 120px,#04f 0 121px,#02f 0 123px,#01f 0 124px,#03f 0 125px,#0bf 0 126px,#08f 0 127px,#00d 0 129px,#0bf 0 130px,#4fb 0 131px,#0cf 0 132px,#05f 0 134px,#06f 0 135px,#00f 0 136px,#00e 0 137px,#01f 0 138px,#04f 0 141px,#0df 0 142px,#05f 0 143px,#03f 0 145px,#0df 0 146px,#06f 0 147px,#03f 0 148px,#02f 0 149px,#00f 0 151px,#03f 0 152px,#07f 0 153px,#08f 0 154px,#07f 0 156px,#08f 0 157px,#03f 0 158px,#00f 0 159px,#01f 0 160px,#00f 0 162px,#02f 0 163px,#09f 0 164px,#03f 0 165px,#1ee 0 167px,#00d 0 168px,#00f 0 169px,#1fd 0 170px,#00f 0 172px,#06f 0 173px,#07f 0 174px,#5fa 0 175px,#05f 0 176px,#02f 0 178px,#05f 0 179px,#00f 0 181px,#05f 0 183px,#00f 0 184px,#04f 0 185px,#02f 0 186px,#01f 0 187px,#06f 0 189px,#09f 0 191px,#05f 0 192px,#3fb 0 194px,#08f 0 195px,#05f 0 196px,#08f 0 197px,#00a 0 198px,#00e 0 200px,#06f 0 201px,#04f 0 202px,#01f 0 203px,#00d 0 205px,#0bf 0 206px,#03f 0 207px,#00f 0 208px,#04f 0 209px,#09f 0 211px,#00b 0 212px,#00d 0 213px,#0cf 0 214px,#00d 0 216px,#08f 0 217px,#07f 0 218px,#00f 0 219px,#0df 0 221px,#0bf 0 222px,#0cf 0 223px,#00b 0 224px,#08f 0 225px,#00f 0 227px,#03f 0 228px,#04f 0 229px,#3fb 0 230px,#00d 0 232px,#0bf 0 233px,#04f 0 234px,#00f 0 235px,#04f 0 238px,#02f 0 239px,#03f 0 240px,#09f 0 241px,#7f8 0 243px,#6f8 0 244px,#00d 0 245px,#00f 0 246px,#01f 0 247px,#5f9 0 249px,#6f8 0 250px,#04f 0 251px,#03f 0 252px,#05f 0 254px,#00c 0 255px,#07f 0 256px,#0af 0 257px,#0cf 0 258px,#07f 0 260px,#00f 0 261px,#0af 0 262px,#00e 0 263px,#01f 0 265px,#00b 0 266px,#6f8 0 267px,#0bf 0 268px,#00f 0 270px,#08f 0 271px,#05f 0 272px,#1fd 0 273px,#00e 0 274px,#05f 0 276px,#0af 0 277px,#04f 0 278px,#00e 0 279px,#3fb 0 281px,#07f 0 282px,#04f 0 283px,#03f 0 284px,#0df 0 285px,#00f 0 288px,#04f 0 289px,#00f 0 290px,#8f6 0 292px,#0cf 0 293px,#03f 0 294px,#04f 0 295px,#07f 0 296px,#09f 0 298px,#00c 0 299px,#06f 0 300px,#0df 0 301px,#0cf 0 303px,#02f 0 304px,#03f 0 305px,#009 0 306px,#00d 0 307px,#06f 0 309px,#00e 0 310px,#5f9 0 311px,#00c 0 312px,#04f 0 314px,#1fd 0 315px,#0bf 0 316px,#04f 0 317px,#03f 0 318px,#09f 0 320px,#00f 0 321px,#05f 0 322px,#09f 0 323px,#05f 0 325px,#07f 0 326px,#00d 0 327px,#00f 0 328px,#08f 0 330px,#03f 0 331px,#1ee 0 332px,#6f8 0 333px,#06f 0 334px,#1ee 0 336px,#0cf 0 337px,#03f 0 338px,#04f 0 339px,#0bf 0 341px,#05f 0 342px,#00e 0 343px,#8f6 0 344px,#00f 0 345px,#08f 0 347px,#00f 0 348px,#5f9 0 349px,#0df 0 350px,#02f 0 352px,#07f 0 353px,#09f 0 354px,#00f 0 355px,#03f 0 358px,#07f 0 359px,#8f7 0 360px,#4fb 0 361px,#1fd 0 363px,#01f 0 364px,#4fb 0 365px,#00f 0 368px,#01f 0 369px,#0df 0 370px,#03f 0 371px,#00d 0 372px,#02f 0 374px,#0cf 0 375px,#0bf 0 376px,#0af 0 377px,#1fd 0 379px,#bf3 0 381px,#9f5 0 382px,#1fd 0 383px,#0af 0 385px,#08f 0 386px,#01f 0 387px,#0bf 0 388px,#00f 0 390px,#03f 0 392px,#09f 0 393px,#6f8 0 394px,#06f 0 397px,#0cf 0 398px,#fb0 0 399px,#8f6 0 401px,#03f 0 402px,#02f 0 403px,#01f 0 404px,#02f 0 405px,#05f 0 407px,#01f 0 408px,#06f 0 409px,#2fc 0 410px,#1ee 0 412px,#0af 0 413px,#4fb 0 414px,#07f 0 415px,#04f 0 417px,#1fd 0 418px,#00b 0 419px,#06f 0 420px,#05f 0 421px,#7f8 0 423px,#0af 0 424px,#06f 0 425px,#09f 0 426px,#05f 0 428px,#08f 0 429px,#df1 0 430px,#06f 0 431px,#800 0 432px,#1fd 0 434px,#f40 0 435px,#0df 0 436px,#f80 0 437px,#5fa 0 439px,#fe0 0 440px,#9f5 0 441px,#800 0 442px,#0df 0 443px,#cf2 0 445px,#0cf 0 446px,#7f8 0 447px,#9f5 0 448px,#8f6 0 451px,#00c 0 452px,#0cf 0 453px,#bf4 0 454px,#00e 0 456px,#06f 0 457px,#bf4 0 458px,#03f 0 459px,#0cf 0 461px,#f20 0 462px,#0cf 0 463px,#fe0 0 464px,#800 0 466px,#fa0 0 467px,#00f 0 468px,#5f9 0 469px,#f30 0 470px,#800 0 474px,#f50 0 475px,#800 0 478px,#f50 0 479px,#800 0 480px,#03f 0 481px,#800 0 484px,#f30 0 485px,#800 0 490px)"></i><i style="left:495px;width:10px;background:linear-gradient(#02f 0 1px,#03f 0 2px,#00f 0 4px,#00c 0 5px,#00b 0 6px,#00f 0 7px,#00e 0 9px,#05f 0 10px,#00c 0 12px,#02f 0 13px,#0af 0 15px,#0cf 0 16px,#02f 0 17px,#06f 0 18px,#00e 0 20px,#00f 0 21px,#00c 0 22px,#00e 0 23px,#00f 0 24px,#04f 0 26px,#05f 0 27px,#0af 0 28px,#00f 0 29px,#09f 0 31px,#02f 0 33px,#03f 0 34px,#00c 0 36px,#00d 0 37px,#01f 0 38px,#02f 0 39px,#03f 0 40px,#1ee 0 42px,#06f 0 43px,#04f 0 44px,#01f 0 45px,#06f 0 47px,#00d 0 48px,#3fb 0 49px,#05f 0 50px,#1fd 0 51px,#03f 0 53px,#02f 0 54px,#00f 0 55px,#00e 0 56px,#00c 0 58px,#04f 0 59px,#01f 0 60px,#00d 0 61px,#00c 0 62px,#00f 0 64px,#07f 0 65px,#00b 0 66px,#07f 0 67px,#03f 0 69px,#00c 0 70px,#02f 0 71px,#00e 0 72px,#0bf 0 74px,#01f 0 75px,#0cf 0 76px,#0df 0 77px,#2fc 0 78px,#00d 0 80px,#02f 0 82px,#0bf 0 83px,#08f 0 85px,#04f 0 86px,#00d 0 87px,#03f 0 88px,#00d 0 89px,#08f 0 91px,#00f 0 93px,#03f 0 94px,#00f 0 98px,#4fb 0 99px,#2fc 0 100px,#01f 0 102px,#06f 0 103px,#00f 0 104px,#00a 0 105px,#00f 0 107px,#07f 0 108px,#01f 0 109px,#00f 0 110px,#00c 0 111px,#06f 0 113px,#00e 0 114px,#07f 0 115px,#04f 0 116px,#01f 0 118px,#00f 0 119px,#02f 0 121px,#00f 0 123px,#2fc 0 124px,#0af 0 125px,#08f 0 126px,#01f 0 129px,#09f 0 130px,#4fb 0 131px,#03f 0 132px,#00b 0 134px,#0cf 0 135px,#00e 0 136px,#09f 0 137px,#03f 0 138px,#07f 0 140px,#00f 0 141px,#01f 0 142px,#3fb 0 143px,#04f 0 145px,#4fb 0 146px,#0bf 0 147px,#08f 0 148px,#05f 0 149px,#00f 0 151px,#00d 0 152px,#01f 0 153px,#03f 0 154px,#06f 0 156px,#05f 0 157px,#07f 0 158px,#0bf 0 159px,#00e 0 160px,#00b 0 162px,#09f 0 163px,#0af 0 164px,#08f 0 167px,#00f 0 168px,#04f 0 169px,#0bf 0 170px,#0af 0 172px,#07f 0 173px,#00e 0 174px,#4fb 0 175px,#05f 0 176px,#07f 0 178px,#01f 0 179px,#00d 0 180px,#00f 0 181px,#00d 0 183px,#00e 0 184px,#06f 0 185px,#0df 0 186px,#0cf 0 187px,#03f 0 189px,#08f 0 190px,#00d 0 191px,#00e 0 192px,#3fb 0 194px,#00d 0 195px,#04f 0 196px,#01f 0 197px,#03f 0 198px,#02f 0 200px,#00f 0 201px,#03f 0 202px,#00d 0 203px,#00e 0 205px,#04f 0 206px,#1ee 0 207px,#06f 0 208px,#07f 0 209px,#1ee 0 211px,#00a 0 212px,#00f 0 213px,#09f 0 214px,#00c 0 216px,#0bf 0 217px,#0af 0 218px,#06f 0 219px,#0df 0 221px,#06f 0 222px,#00f 0 224px,#09f 0 225px,#05f 0 227px,#04f 0 228px,#00f 0 229px,#09f 0 230px,#05f 0 232px,#06f 0 233px,#04f 0 234px,#00e 0 235px,#03f 0 236px,#04f 0 238px,#02f 0 239px,#01f 0 240px,#03f 0 241px,#05f 0 243px,#4fb 0 244px,#01f 0 245px,#06f 0 246px,#00c 0 247px,#0cf 0 249px,#0bf 0 250px,#01f 0 251px,#02f 0 252px,#00f 0 254px,#00e 0 255px,#0af 0 256px,#09f 0 257px,#05f 0 258px,#06f 0 260px,#00f 0 261px,#07f 0 262px,#00d 0 263px,#05f 0 265px,#00c 0 266px,#5fa 0 267px,#01f 0 268px,#00d 0 270px,#09f 0 271px,#0df 0 272px,#03f 0 273px,#02f 0 274px,#00e 0 276px,#09f 0 277px,#03f 0 278px,#00e 0 279px,#8f6 0 281px,#08f 0 282px,#03f 0 283px,#2fc 0 284px,#03f 0 285px,#00e 0 287px,#03f 0 288px,#0cf 0 289px,#00d 0 290px,#5f9 0 292px,#07f 0 293px,#04f 0 294px,#1fd 0 295px,#1ee 0 296px,#0bf 0 298px,#02f 0 299px,#09f 0 300px,#0af 0 301px,#2fc 0 303px,#7f8 0 304px,#2fc 0 305px,#01f 0 306px,#09f 0 307px,#0cf 0 309px,#00f 0 310px,#0af 0 311px,#02f 0 312px,#01f 0 314px,#5fa 0 315px,#07f 0 316px,#05f 0 317px,#00f 0 318px,#3fb 0 320px,#0bf 0 321px,#08f 0 322px,#0cf 0 323px,#1ee 0 325px,#04f 0 326px,#00d 0 327px,#03f 0 328px,#07f 0 332px,#1ee 0 333px,#05f 0 334px,#04f 0 336px,#8f6 0 337px,#01f 0 339px,#0cf 0 341px,#0bf 0 342px,#0cf 0 343px,#8f6 0 344px,#07f 0 345px,#0af 0 347px,#00e 0 348px,#0cf 0 349px,#2fc 0 350px,#02f 0 352px,#00f 0 353px,#00e 0 354px,#05f 0 355px,#02f 0 356px,#00d 0 358px,#00f 0 359px,#03f 0 360px,#9f5 0 361px,#1ee 0 363px,#04f 0 364px,#07f 0 365px,#02f 0 366px,#00f 0 369px,#05f 0 370px,#00c 0 371px,#00f 0 372px,#00e 0 374px,#af5 0 375px,#05f 0 376px,#0df 0 377px,#0bf 0 379px,#8f7 0 380px,#4fb 0 381px,#9f5 0 382px,#03f 0 383px,#5fa 0 385px,#06f 0 386px,#0bf 0 388px,#bf4 0 390px,#00f 0 391px,#02f 0 392px,#0cf 0 393px,#1fd 0 394px,#3fb 0 396px,#0cf 0 397px,#1ee 0 398px,#0df 0 399px,#0bf 0 401px,#00e 0 402px,#00b 0 403px,#0df 0 404px,#2fc 0 405px,#05f 0 407px,#0cf 0 408px,#08f 0 409px,#1ee 0 410px,#1fd 0 412px,#00d 0 413px,#af5 0 414px,#bf3 0 415px,#03f 0 417px,#1fd 0 418px,#03f 0 419px,#00c 0 420px,#0cf 0 421px,#05f 0 423px,#00b 0 424px,#0af 0 425px,#06f 0 426px,#03f 0 428px,#f70 0 429px,#6f8 0 430px,#4fb 0 431px,#bf4 0 432px,#09f 0 434px,#f80 0 435px,#09f 0 436px,#fd0 0 437px,#0cf 0 439px,#800 0 440px,#fc0 0 441px,#800 0 442px,#06f 0 443px,#800 0 446px,#f50 0 447px,#bf3 0 448px,#af5 0 450px,#0df 0 451px,#0af 0 452px,#f60 0 453px,#0cf 0 454px,#00f 0 456px,#5f9 0 457px,#04f 0 458px,#06f 0 459px,#9f5 0 461px,#fd0 0 462px,#07f 0 463px,#800 0 464px,#cf2 0 466px,#900 0 467px,#8f7 0 468px,#f50 0 469px,#f80 0 470px,#1fd 0 472px,#800 0 473px,#03f 0 474px,#800 0 478px,#f60 0 479px,#7f8 0 480px,#8f6 0 481px,#5fa 0 483px,#800 0 484px,#06f 0 485px,#800 0 490px)"></i><i style="left:505px;width:10px;background:linear-gradient(#02f 0 1px,#05f 0 2px,#00f 0 4px,#00c 0 5px,#00d 0 6px,#0cf 0 7px,#00d 0 9px,#09f 0 10px,#00b 0 11px,#00c 0 12px,#0bf 0 13px,#00c 0 15px,#0df 0 16px,#02f 0 17px,#0cf 0 18px,#02f 0 20px,#00f 0 22px,#05f 0 23px,#04f 0 24px,#00c 0 26px,#02f 0 27px,#0bf 0 28px,#00d 0 29px,#09f 0 31px,#06f 0 32px,#0af 0 33px,#03f 0 34px,#01f 0 36px,#00e 0 38px,#05f 0 39px,#01f 0 40px,#09f 0 42px,#00f 0 43px,#0af 0 44px,#02f 0 45px,#05f 0 47px,#00c 0 48px,#0cf 0 49px,#00e 0 50px,#04f 0 51px,#00e 0 53px,#00d 0 54px,#00f 0 56px,#00a 0 58px,#02f 0 59px,#1ee 0 60px,#00c 0 61px,#02f 0 62px,#00b 0 64px,#05f 0 65px,#02f 0 66px,#03f 0 67px,#06f 0 69px,#00b 0 70px,#0af 0 71px,#00e 0 72px,#1fd 0 74px,#00c 0 75px,#04f 0 76px,#02f 0 77px,#08f 0 78px,#00a 0 80px,#01f 0 82px,#0df 0 83px,#0af 0 85px,#08f 0 86px,#00f 0 87px,#09f 0 88px,#00e 0 89px,#07f 0 91px,#00c 0 92px,#07f 0 93px,#05f 0 94px,#00f 0 96px,#06f 0 97px,#00b 0 98px,#5fa 0 99px,#09f 0 100px,#00f 0 102px,#0bf 0 103px,#00f 0 104px,#00a 0 105px,#00f 0 107px,#06f 0 108px,#03f 0 109px,#00f 0 110px,#00b 0 111px,#00f 0 114px,#01f 0 116px,#05f 0 118px,#00a 0 120px,#05f 0 121px,#00c 0 123px,#1ee 0 124px,#00e 0 125px,#0df 0 126px,#00f 0 129px,#06f 0 130px,#2fc 0 131px,#01f 0 132px,#03f 0 134px,#1ee 0 135px,#07f 0 137px,#02f 0 138px,#03f 0 140px,#01f 0 141px,#08f 0 142px,#2fc 0 143px,#06f 0 145px,#4fb 0 146px,#07f 0 147px,#09f 0 148px,#00f 0 149px,#08f 0 151px,#02f 0 152px,#00b 0 153px,#06f 0 154px,#0af 0 156px,#04f 0 157px,#03f 0 158px,#00e 0 159px,#02f 0 160px,#00a 0 162px,#02f 0 163px,#00f 0 164px,#05f 0 165px,#09f 0 167px,#05f 0 168px,#07f 0 169px,#0bf 0 170px,#05f 0 172px,#7f8 0 173px,#02f 0 174px,#05f 0 175px,#0df 0 176px,#03f 0 178px,#01f 0 179px,#04f 0 180px,#05f 0 181px,#03f 0 183px,#00e 0 184px,#00f 0 185px,#4fb 0 186px,#0cf 0 187px,#0df 0 189px,#00e 0 190px,#009 0 191px,#05f 0 192px,#3fb 0 194px,#0af 0 195px,#08f 0 196px,#06f 0 198px,#01f 0 200px,#02f 0 201px,#06f 0 202px,#00d 0 203px,#03f 0 205px,#01f 0 206px,#04f 0 207px,#02f 0 208px,#00f 0 209px,#0cf 0 211px,#00c 0 213px,#5fa 0 214px,#00e 0 216px,#0cf 0 217px,#1ee 0 218px,#02f 0 219px,#07f 0 221px,#03f 0 222px,#02f 0 223px,#04f 0 225px,#0cf 0 228px,#02f 0 229px,#0cf 0 230px,#03f 0 232px,#00f 0 233px,#06f 0 235px,#1ee 0 236px,#00d 0 238px,#06f 0 239px,#01f 0 240px,#04f 0 241px,#3fb 0 243px,#2fc 0 244px,#04f 0 245px,#09f 0 246px,#00b 0 247px,#00d 0 249px,#3fb 0 250px,#07f 0 251px,#04f 0 252px,#01f 0 254px,#08f 0 255px,#02f 0 256px,#1fd 0 257px,#02f 0 258px,#0bf 0 260px,#1ee 0 261px,#07f 0 262px,#01f 0 263px,#1fd 0 265px,#02f 0 266px,#2fc 0 267px,#07f 0 268px,#00d 0 270px,#1ee 0 271px,#03f 0 272px,#0cf 0 273px,#00f 0 274px,#02f 0 276px,#2fc 0 277px,#00f 0 278px,#06f 0 279px,#8f6 0 281px,#06f 0 282px,#0bf 0 283px,#0df 0 284px,#00c 0 285px,#05f 0 287px,#08f 0 288px,#0cf 0 289px,#00d 0 292px,#00f 0 293px,#08f 0 294px,#07f 0 295px,#0af 0 296px,#09f 0 298px,#00c 0 299px,#04f 0 300px,#0cf 0 301px,#02f 0 303px,#8f6 0 304px,#08f 0 305px,#05f 0 306px,#0bf 0 307px,#2fc 0 309px,#01f 0 310px,#03f 0 311px,#04f 0 314px,#09f 0 315px,#04f 0 316px,#07f 0 317px,#05f 0 318px,#4fb 0 320px,#00f 0 321px,#0af 0 322px,#06f 0 323px,#8f6 0 325px,#6f8 0 326px,#00e 0 327px,#04f 0 328px,#08f 0 330px,#03f 0 331px,#07f 0 332px,#00f 0 334px,#03f 0 336px,#5fa 0 337px,#05f 0 338px,#02f 0 339px,#00f 0 341px,#0cf 0 342px,#1fd 0 344px,#00e 0 345px,#0bf 0 347px,#02f 0 348px,#3fb 0 349px,#03f 0 350px,#0bf 0 352px,#02f 0 353px,#00d 0 354px,#01f 0 355px,#07f 0 356px,#02f 0 358px,#01f 0 359px,#06f 0 360px,#4fb 0 361px,#0cf 0 363px,#00d 0 364px,#03f 0 365px,#1ee 0 366px,#00d 0 368px,#05f 0 369px,#0df 0 370px,#09f 0 371px,#03f 0 372px,#05f 0 374px,#af5 0 375px,#00f 0 376px,#9f5 0 377px,#08f 0 379px,#8f6 0 380px,#06f 0 381px,#9f5 0 382px,#08f 0 383px,#df1 0 385px,#0cf 0 386px,#04f 0 387px,#1fd 0 388px,#6f8 0 390px,#fd0 0 391px,#00e 0 392px,#00f 0 393px,#09f 0 394px,#bf3 0 396px,#03f 0 397px,#09f 0 398px,#f80 0 399px,#07f 0 401px,#00f 0 402px,#00d 0 403px,#0cf 0 404px,#bf3 0 405px,#5fa 0 407px,#1ee 0 408px,#1fd 0 409px,#cf2 0 410px,#01f 0 412px,#04f 0 413px,#1ee 0 414px,#0af 0 415px,#09f 0 417px,#d00 0 418px,#05f 0 419px,#00d 0 420px,#3fb 0 421px,#fe0 0 423px,#1ee 0 424px,#00f 0 425px,#04f 0 426px,#08f 0 428px,#00f 0 429px,#0bf 0 430px,#1fd 0 431px,#0cf 0 432px,#03f 0 434px,#bf4 0 435px,#09f 0 436px,#2fc 0 437px,#8f6 0 439px,#f50 0 440px,#6f8 0 441px,#f50 0 442px,#1fd 0 443px,#800 0 445px,#cf2 0 446px,#bf4 0 447px,#df1 0 448px,#0cf 0 450px,#fc0 0 451px,#04f 0 452px,#1fd 0 453px,#3fb 0 454px,#800 0 456px,#09f 0 457px,#0cf 0 458px,#5fa 0 459px,#5f9 0 461px,#00e 0 462px,#0bf 0 463px,#800 0 464px,#6f8 0 466px,#fe0 0 468px,#800 0 469px,#fa0 0 470px,#07f 0 472px,#f20 0 473px,#800 0 474px,#f90 0 475px,#800 0 479px,#2fc 0 480px,#df1 0 481px,#800 0 483px,#d00 0 484px,#800 0 485px,#09f 0 486px,#800 0 490px)"></i><i style="left:515px;width:9px;background:linear-gradient(#02f 0 1px,#00f 0 2px,#00b 0 4px,#00d 0 5px,#00f 0 6px,#02f 0 7px,#00f 0 9px,#07f 0 10px,#00d 0 11px,#00e 0 12px,#09f 0 13px,#02f 0 15px,#05f 0 16px,#00e 0 17px,#0cf 0 18px,#0af 0 20px,#01f 0 21px,#03f 0 22px,#0bf 0 23px,#00e 0 24px,#00d 0 26px,#04f 0 27px,#00e 0 29px,#01f 0 31px,#04f 0 32px,#00e 0 33px,#05f 0 34px,#02f 0 36px,#00e 0 37px,#00f 0 38px,#3fb 0 39px,#00c 0 40px,#07f 0 42px,#02f 0 43px,#04f 0 44px,#01f 0 45px,#07f 0 47px,#009 0 48px,#06f 0 49px,#00e 0 50px,#03f 0 51px,#01f 0 53px,#00d 0 54px,#05f 0 55px,#00d 0 56px,#00b 0 58px,#08f 0 59px,#0cf 0 60px,#00d 0 61px,#07f 0 62px,#00f 0 64px,#02f 0 65px,#08f 0 66px,#02f 0 67px,#03f 0 69px,#02f 0 70px,#0af 0 71px,#00a 0 72px,#04f 0 74px,#02f 0 75px,#04f 0 76px,#05f 0 77px,#01f 0 78px,#00d 0 80px,#05f 0 81px,#00b 0 82px,#08f 0 83px,#0cf 0 87px,#04f 0 88px,#00f 0 89px,#05f 0 91px,#00b 0 92px,#1ee 0 93px,#00d 0 94px,#3fb 0 96px,#06f 0 97px,#00e 0 98px,#07f 0 99px,#08f 0 100px,#00e 0 102px,#05f 0 103px,#01f 0 105px,#00e 0 108px,#07f 0 109px,#01f 0 110px,#00f 0 111px,#03f 0 113px,#05f 0 114px,#08f 0 115px,#05f 0 116px,#01f 0 118px,#00b 0 119px,#00e 0 120px,#01f 0 121px,#03f 0 123px,#09f 0 124px,#00c 0 125px,#0bf 0 126px,#00d 0 127px,#04f 0 129px,#05f 0 130px,#4fb 0 131px,#2fc 0 132px,#00d 0 134px,#09f 0 135px,#5fa 0 136px,#05f 0 137px,#00f 0 138px,#0cf 0 140px,#00d 0 141px,#0af 0 142px,#03f 0 143px,#0cf 0 145px,#06f 0 146px,#02f 0 147px,#00f 0 148px,#01f 0 149px,#0af 0 151px,#07f 0 152px,#00e 0 153px,#0df 0 154px,#0cf 0 156px,#00f 0 158px,#00e 0 159px,#04f 0 162px,#0af 0 163px,#06f 0 164px,#5fa 0 165px,#00d 0 167px,#0af 0 168px,#02f 0 169px,#0df 0 170px,#08f 0 172px,#7f8 0 173px,#00e 0 174px,#1ee 0 175px,#04f 0 176px,#03f 0 178px,#02f 0 179px,#00f 0 180px,#08f 0 181px,#0af 0 183px,#01f 0 184px,#02f 0 185px,#0af 0 186px,#05f 0 187px,#0bf 0 189px,#03f 0 190px,#00f 0 191px,#06f 0 192px,#08f 0 194px,#4fb 0 195px,#00f 0 196px,#07f 0 197px,#00e 0 198px,#02f 0 200px,#00d 0 201px,#02f 0 202px,#00e 0 203px,#0bf 0 205px,#05f 0 206px,#02f 0 207px,#08f 0 208px,#00f 0 209px,#0cf 0 211px,#03f 0 212px,#00f 0 213px,#5fa 0 214px,#1fd 0 216px,#0cf 0 217px,#6f8 0 218px,#2fc 0 219px,#04f 0 221px,#06f 0 222px,#0cf 0 223px,#04f 0 224px,#00e 0 225px,#09f 0 227px,#00f 0 229px,#04f 0 230px,#09f 0 232px,#00e 0 233px,#01f 0 234px,#0cf 0 235px,#05f 0 236px,#04f 0 238px,#06f 0 240px,#0cf 0 241px,#08f 0 243px,#1fd 0 244px,#03f 0 245px,#02f 0 246px,#00b 0 247px,#01f 0 249px,#02f 0 250px,#7f8 0 251px,#00c 0 252px,#00f 0 254px,#0cf 0 255px,#00e 0 256px,#06f 0 257px,#00c 0 258px,#09f 0 260px,#1fd 0 261px,#08f 0 262px,#00f 0 263px,#0df 0 265px,#01f 0 266px,#5f9 0 267px,#0af 0 268px,#00f 0 270px,#7f8 0 271px,#5fa 0 272px,#1ee 0 273px,#02f 0 274px,#03f 0 276px,#0bf 0 277px,#00f 0 279px,#1ee 0 281px,#00d 0 282px,#03f 0 283px,#0df 0 284px,#00d 0 285px,#04f 0 287px,#09f 0 288px,#0df 0 289px,#00e 0 292px,#05f 0 293px,#0cf 0 294px,#07f 0 295px,#02f 0 296px,#5f9 0 298px,#03f 0 299px,#04f 0 300px,#09f 0 301px,#01f 0 303px,#05f 0 305px,#07f 0 306px,#0af 0 307px,#5f9 0 309px,#01f 0 310px,#04f 0 311px,#00e 0 312px,#05f 0 314px,#04f 0 315px,#05f 0 316px,#0df 0 317px,#1ee 0 318px,#07f 0 320px,#05f 0 321px,#0df 0 322px,#2fc 0 323px,#3fb 0 325px,#1ee 0 326px,#00f 0 327px,#1ee 0 328px,#5fa 0 330px,#07f 0 332px,#04f 0 333px,#00f 0 334px,#01f 0 336px,#7f8 0 337px,#03f 0 338px,#00d 0 339px,#00f 0 341px,#0cf 0 342px,#2fc 0 343px,#5f9 0 344px,#06f 0 345px,#04f 0 347px,#4fb 0 348px,#7f8 0 349px,#06f 0 350px,#04f 0 352px,#0cf 0 353px,#01f 0 354px,#09f 0 355px,#01f 0 356px,#00e 0 358px,#07f 0 359px,#01f 0 360px,#5fa 0 361px,#af5 0 363px,#00e 0 364px,#00c 0 365px,#0af 0 366px,#05f 0 368px,#02f 0 369px,#0cf 0 370px,#9f5 0 371px,#00f 0 372px,#af5 0 375px,#03f 0 376px,#2fc 0 377px,#09f 0 379px,#6f8 0 380px,#8f7 0 381px,#0cf 0 382px,#02f 0 383px,#0bf 0 385px,#5fa 0 386px,#05f 0 387px,#af5 0 388px,#08f 0 390px,#5fa 0 391px,#01f 0 392px,#02f 0 393px,#07f 0 394px,#bf4 0 396px,#03f 0 397px,#0df 0 398px,#2fc 0 399px,#06f 0 401px,#4fb 0 402px,#00e 0 403px,#08f 0 404px,#8f7 0 407px,#0cf 0 408px,#06f 0 409px,#00f 0 410px,#6f8 0 412px,#08f 0 413px,#1ee 0 414px,#00d 0 415px,#05f 0 417px,#fa0 0 418px,#a00 0 419px,#05f 0 420px,#06f 0 421px,#af5 0 423px,#09f 0 424px,#0cf 0 426px,#06f 0 428px,#6f8 0 429px,#af5 0 430px,#fa0 0 431px,#03f 0 432px,#05f 0 434px,#0af 0 435px,#5fa 0 436px,#3fb 0 437px,#0bf 0 439px,#f10 0 440px,#07f 0 441px,#09f 0 442px,#ef1 0 443px,#fd0 0 445px,#0cf 0 446px,#fc0 0 448px,#df1 0 450px,#f10 0 451px,#0cf 0 452px,#01f 0 453px,#00f 0 454px,#0bf 0 456px,#f10 0 457px,#06f 0 458px,#800 0 459px,#8f6 0 461px,#1fd 0 462px,#04f 0 463px,#c00 0 464px,#1fd 0 466px,#2fc 0 467px,#800 0 468px,#f70 0 469px,#800 0 474px,#f50 0 475px,#800 0 486px,#ef1 0 488px,#800 0 489px,#fc0 0 490px)"></i><i style="left:524px;width:10px;background:linear-gradient(#01f 0 1px,#00e 0 2px,#00f 0 4px,#00b 0 5px,#00f 0 6px,#0df 0 7px,#00f 0 9px,#02f 0 10px,#00c 0 11px,#00a 0 12px,#08f 0 13px,#03f 0 15px,#00f 0 16px,#05f 0 17px,#07f 0 18px,#03f 0 20px,#06f 0 21px,#00d 0 22px,#0af 0 23px,#01f 0 24px,#00f 0 26px,#09f 0 27px,#02f 0 28px,#00f 0 29px,#08f 0 31px,#00f 0 32px,#08f 0 33px,#09f 0 34px,#02f 0 36px,#00d 0 37px,#00f 0 38px,#09f 0 39px,#04f 0 40px,#06f 0 42px,#00c 0 43px,#05f 0 44px,#01f 0 45px,#00d 0 47px,#00b 0 48px,#00f 0 50px,#08f 0 51px,#00f 0 53px,#00c 0 54px,#09f 0 55px,#00c 0 56px,#00f 0 58px,#5fa 0 59px,#03f 0 60px,#00f 0 61px,#06f 0 62px,#01f 0 64px,#00c 0 65px,#07f 0 66px,#09f 0 67px,#00f 0 69px,#00d 0 70px,#09f 0 71px,#00b 0 72px,#00d 0 74px,#03f 0 75px,#00f 0 76px,#08f 0 77px,#0bf 0 78px,#09f 0 80px,#3fb 0 81px,#00d 0 82px,#0cf 0 83px,#05f 0 85px,#00f 0 86px,#04f 0 88px,#00e 0 89px,#00d 0 91px,#00f 0 92px,#1ee 0 93px,#00e 0 94px,#1fd 0 96px,#0cf 0 97px,#00d 0 98px,#0cf 0 99px,#04f 0 100px,#06f 0 102px,#00e 0 103px,#00c 0 104px,#00b 0 105px,#09f 0 107px,#00b 0 108px,#04f 0 109px,#01f 0 110px,#02f 0 111px,#04f 0 113px,#02f 0 114px,#06f 0 115px,#00f 0 116px,#07f 0 118px,#00e 0 120px,#01f 0 121px,#00b 0 123px,#07f 0 124px,#01f 0 125px,#03f 0 126px,#01f 0 127px,#07f 0 129px,#04f 0 130px,#09f 0 131px,#3fb 0 132px,#01f 0 134px,#02f 0 135px,#2fc 0 136px,#0af 0 137px,#00d 0 138px,#03f 0 140px,#00e 0 141px,#08f 0 142px,#05f 0 143px,#00c 0 145px,#0af 0 146px,#04f 0 147px,#03f 0 148px,#00f 0 149px,#3fb 0 151px,#07f 0 152px,#00f 0 153px,#08f 0 154px,#3fb 0 156px,#02f 0 157px,#00d 0 158px,#08f 0 159px,#07f 0 160px,#00f 0 162px,#5f9 0 163px,#0af 0 164px,#0df 0 165px,#00f 0 168px,#00b 0 169px,#00d 0 170px,#00f 0 172px,#0cf 0 173px,#07f 0 174px,#0bf 0 175px,#00c 0 176px,#0af 0 178px,#01f 0 179px,#00e 0 180px,#09f 0 181px,#0df 0 183px,#05f 0 184px,#02f 0 185px,#05f 0 186px,#06f 0 187px,#00f 0 189px,#01f 0 190px,#03f 0 191px,#02f 0 192px,#0cf 0 194px,#5f9 0 195px,#01f 0 196px,#03f 0 197px,#06f 0 198px,#00d 0 200px,#04f 0 201px,#01f 0 203px,#08f 0 205px,#0cf 0 206px,#00f 0 207px,#06f 0 208px,#04f 0 209px,#06f 0 211px,#00d 0 212px,#01f 0 213px,#03f 0 214px,#1fd 0 217px,#06f 0 218px,#0af 0 219px,#06f 0 221px,#08f 0 223px,#05f 0 224px,#0bf 0 225px,#05f 0 227px,#02f 0 228px,#05f 0 229px,#04f 0 232px,#00c 0 233px,#01f 0 234px,#09f 0 235px,#04f 0 236px,#03f 0 238px,#00f 0 239px,#00e 0 240px,#02f 0 241px,#07f 0 243px,#0af 0 244px,#00e 0 245px,#01f 0 246px,#08f 0 247px,#00f 0 250px,#5f9 0 251px,#009 0 252px,#08f 0 254px,#0af 0 255px,#00e 0 256px,#07f 0 257px,#00f 0 258px,#0bf 0 260px,#1ee 0 261px,#01f 0 262px,#02f 0 263px,#5f9 0 265px,#00e 0 266px,#5f9 0 267px,#04f 0 268px,#00f 0 270px,#0cf 0 271px,#3fb 0 272px,#5fa 0 273px,#00d 0 274px,#00f 0 276px,#0cf 0 277px,#04f 0 278px,#00c 0 279px,#3fb 0 281px,#00b 0 282px,#00f 0 283px,#04f 0 284px,#1ee 0 285px,#01f 0 287px,#0cf 0 288px,#06f 0 289px,#00f 0 292px,#0af 0 293px,#08f 0 295px,#04f 0 296px,#09f 0 298px,#05f 0 299px,#00e 0 300px,#07f 0 303px,#01f 0 304px,#05f 0 305px,#06f 0 306px,#0cf 0 307px,#06f 0 309px,#02f 0 310px,#04f 0 311px,#00f 0 312px,#04f 0 314px,#05f 0 315px,#00f 0 316px,#6f8 0 317px,#05f 0 318px,#06f 0 320px,#04f 0 321px,#1ee 0 322px,#4fb 0 323px,#af5 0 325px,#08f 0 326px,#00e 0 327px,#4fb 0 328px,#5fa 0 330px,#00d 0 331px,#08f 0 332px,#06f 0 333px,#00a 0 334px,#03f 0 336px,#08f 0 337px,#00f 0 338px,#05f 0 339px,#03f 0 341px,#4fb 0 342px,#7f8 0 343px,#0df 0 344px,#8f7 0 345px,#02f 0 347px,#0cf 0 349px,#06f 0 350px,#00d 0 352px,#09f 0 353px,#05f 0 354px,#3fb 0 355px,#0af 0 356px,#01f 0 359px,#05f 0 360px,#0af 0 361px,#cf2 0 363px,#af5 0 364px,#00f 0 365px,#07f 0 366px,#09f 0 368px,#00e 0 369px,#bf4 0 370px,#08f 0 371px,#09f 0 372px,#af5 0 374px,#07f 0 375px,#02f 0 376px,#6f8 0 377px,#2fc 0 379px,#04f 0 380px,#4fb 0 381px,#06f 0 382px,#00f 0 383px,#05f 0 385px,#5f9 0 386px,#04f 0 387px,#07f 0 388px,#2fc 0 390px,#08f 0 391px,#04f 0 392px,#02f 0 393px,#4fb 0 394px,#06f 0 396px,#09f 0 397px,#00f 0 398px,#09f 0 399px,#2fc 0 401px,#09f 0 402px,#2fc 0 403px,#09f 0 404px,#1fd 0 405px,#3fb 0 407px,#05f 0 408px,#3fb 0 409px,#00f 0 410px,#07f 0 412px,#09f 0 413px,#0df 0 414px,#09f 0 415px,#bf3 0 417px,#0bf 0 418px,#0af 0 419px,#fe0 0 420px,#00f 0 421px,#1ee 0 423px,#0cf 0 424px,#fe0 0 425px,#01f 0 426px,#ef1 0 428px,#0cf 0 429px,#00e 0 430px,#fd0 0 431px,#07f 0 432px,#05f 0 434px,#fc0 0 435px,#06f 0 436px,#04f 0 437px,#4fb 0 439px,#f80 0 440px,#07f 0 441px,#c00 0 442px,#0cf 0 443px,#8f6 0 445px,#0bf 0 446px,#5fa 0 447px,#a00 0 448px,#ef1 0 450px,#2fc 0 451px,#e00 0 452px,#fa0 0 453px,#800 0 454px,#08f 0 456px,#f60 0 457px,#fa0 0 458px,#800 0 461px,#0cf 0 462px,#800 0 464px,#fd0 0 466px,#800 0 467px,#c00 0 468px,#800 0 469px,#ef1 0 470px,#800 0 472px,#fa0 0 473px,#800 0 475px,#9f5 0 477px,#800 0 480px,#4fb 0 481px,#800 0 490px)"></i><i style="left:534px;width:10px;background:linear-gradient(#00f 0 2px,#07f 0 4px,#04f 0 5px,#00f 0 6px,#0df 0 7px,#00f 0 9px,#0af 0 10px,#00c 0 11px,#00f 0 12px,#07f 0 13px,#09f 0 15px,#00c 0 17px,#00f 0 18px,#01f 0 20px,#0df 0 21px,#00d 0 22px,#08f 0 23px,#05f 0 24px,#00e 0 26px,#04f 0 27px,#03f 0 28px,#00d 0 29px,#07f 0 31px,#06f 0 32px,#00f 0 34px,#07f 0 36px,#00e 0 37px,#00c 0 38px,#02f 0 39px,#00e 0 42px,#04f 0 43px,#05f 0 44px,#00c 0 45px,#02f 0 47px,#05f 0 48px,#02f 0 49px,#00d 0 50px,#0bf 0 51px,#00b 0 53px,#00d 0 54px,#01f 0 55px,#00f 0 56px,#02f 0 58px,#09f 0 59px,#00f 0 60px,#00b 0 61px,#04f 0 62px,#00d 0 64px,#03f 0 66px,#0bf 0 67px,#02f 0 69px,#00d 0 70px,#4fb 0 71px,#00c 0 72px,#02f 0 74px,#00f 0 75px,#03f 0 76px,#01f 0 77px,#4fb 0 78px,#00f 0 80px,#1fd 0 81px,#03f 0 82px,#0bf 0 83px,#02f 0 85px,#07f 0 86px,#01f 0 87px,#00f 0 88px,#00e 0 89px,#05f 0 91px,#09f 0 92px,#0af 0 93px,#07f 0 94px,#0af 0 96px,#08f 0 98px,#0af 0 99px,#03f 0 100px,#02f 0 102px,#00f 0 103px,#09f 0 104px,#00b 0 105px,#05f 0 107px,#00e 0 108px,#02f 0 109px,#01f 0 110px,#04f 0 111px,#00f 0 113px,#04f 0 114px,#08f 0 115px,#02f 0 116px,#08f 0 118px,#00d 0 119px,#00f 0 120px,#07f 0 121px,#01f 0 123px,#0af 0 124px,#09f 0 125px,#03f 0 126px,#08f 0 127px,#02f 0 129px,#0cf 0 130px,#0af 0 131px,#03f 0 132px,#01f 0 134px,#00e 0 135px,#5fa 0 136px,#0af 0 137px,#01f 0 138px,#00b 0 140px,#07f 0 141px,#00b 0 142px,#00f 0 143px,#01f 0 145px,#0af 0 146px,#07f 0 147px,#00f 0 148px,#05f 0 149px,#08f 0 151px,#07f 0 153px,#0cf 0 154px,#3fb 0 156px,#08f 0 157px,#00e 0 158px,#0af 0 159px,#00f 0 160px,#00e 0 162px,#5f9 0 163px,#02f 0 164px,#05f 0 165px,#00b 0 167px,#02f 0 168px,#009 0 169px,#00b 0 170px,#00e 0 172px,#7f8 0 173px,#04f 0 174px,#00f 0 175px,#00c 0 176px,#2fc 0 178px,#08f 0 179px,#04f 0 180px,#02f 0 181px,#3fb 0 183px,#01f 0 184px,#0af 0 185px,#0df 0 186px,#4fb 0 187px,#01f 0 190px,#02f 0 192px,#05f 0 194px,#1fd 0 195px,#02f 0 196px,#05f 0 197px,#04f 0 198px,#02f 0 200px,#1fd 0 201px,#01f 0 202px,#02f 0 205px,#0cf 0 206px,#02f 0 207px,#01f 0 208px,#00c 0 209px,#00f 0 212px,#05f 0 213px,#03f 0 214px,#0af 0 216px,#04f 0 217px,#00f 0 218px,#05f 0 219px,#0df 0 221px,#02f 0 222px,#05f 0 223px,#0cf 0 224px,#07f 0 225px,#08f 0 227px,#06f 0 228px,#00e 0 229px,#00f 0 230px,#6f8 0 232px,#00f 0 233px,#06f 0 234px,#09f 0 235px,#00e 0 236px,#00f 0 239px,#03f 0 240px,#0cf 0 241px,#00c 0 243px,#00e 0 244px,#05f 0 245px,#07f 0 246px,#00c 0 247px,#03f 0 249px,#02f 0 250px,#0cf 0 251px,#00a 0 252px,#00f 0 254px,#00c 0 255px,#00f 0 256px,#1fd 0 257px,#03f 0 258px,#7f8 0 260px,#4fb 0 261px,#03f 0 262px,#09f 0 263px,#3fb 0 265px,#00e 0 266px,#07f 0 267px,#01f 0 268px,#00f 0 270px,#0df 0 271px,#5fa 0 272px,#0bf 0 273px,#00e 0 274px,#06f 0 276px,#08f 0 277px,#0cf 0 278px,#05f 0 279px,#8f7 0 281px,#00f 0 283px,#04f 0 284px,#0cf 0 285px,#04f 0 287px,#7f8 0 288px,#00f 0 289px,#02f 0 292px,#4fb 0 293px,#8f6 0 294px,#4fb 0 295px,#00d 0 296px,#0bf 0 298px,#00e 0 299px,#00f 0 300px,#02f 0 301px,#08f 0 303px,#06f 0 304px,#00f 0 305px,#08f 0 306px,#0af 0 307px,#00f 0 309px,#00d 0 310px,#00f 0 311px,#00d 0 312px,#06f 0 314px,#07f 0 315px,#08f 0 316px,#07f 0 317px,#09f 0 318px,#02f 0 320px,#01f 0 321px,#3fb 0 322px,#0cf 0 323px,#1fd 0 325px,#02f 0 326px,#04f 0 327px,#0af 0 328px,#05f 0 330px,#01f 0 331px,#0cf 0 333px,#00e 0 334px,#09f 0 336px,#05f 0 337px,#01f 0 338px,#05f 0 339px,#03f 0 341px,#00f 0 342px,#7f8 0 343px,#06f 0 344px,#0af 0 345px,#03f 0 347px,#1ee 0 348px,#06f 0 349px,#08f 0 350px,#04f 0 352px,#06f 0 353px,#02f 0 354px,#1fd 0 355px,#09f 0 356px,#08f 0 359px,#0bf 0 360px,#8f6 0 361px,#4fb 0 363px,#af5 0 364px,#08f 0 366px,#1fd 0 368px,#00e 0 369px,#1fd 0 370px,#08f 0 371px,#05f 0 372px,#5fa 0 374px,#00f 0 375px,#03f 0 376px,#0af 0 377px,#9f5 0 379px,#03f 0 380px,#3fb 0 381px,#06f 0 382px,#00a 0 383px,#03f 0 385px,#0df 0 386px,#00f 0 387px,#0bf 0 388px,#bf4 0 390px,#0cf 0 391px,#4fb 0 392px,#02f 0 393px,#00f 0 394px,#0cf 0 396px,#05f 0 397px,#08f 0 398px,#06f 0 399px,#fd0 0 401px,#05f 0 402px,#08f 0 403px,#0af 0 404px,#1fd 0 405px,#cf2 0 407px,#bf3 0 408px,#0af 0 409px,#00a 0 410px,#03f 0 412px,#05f 0 413px,#02f 0 414px,#09f 0 415px,#9f5 0 417px,#1fd 0 418px,#02f 0 419px,#3fb 0 420px,#6f8 0 421px,#0bf 0 423px,#0df 0 424px,#800 0 425px,#08f 0 428px,#d00 0 429px,#00f 0 430px,#0af 0 431px,#3fb 0 432px,#01f 0 434px,#7f8 0 435px,#08f 0 436px,#fe0 0 437px,#00f 0 439px,#f20 0 440px,#4fb 0 441px,#07f 0 442px,#c00 0 443px,#bf3 0 445px,#f40 0 446px,#2fc 0 447px,#ef1 0 448px,#d00 0 450px,#2fc 0 451px,#800 0 453px,#7f8 0 454px,#e00 0 456px,#00f 0 457px,#fb0 0 458px,#f30 0 459px,#5fa 0 461px,#f60 0 462px,#800 0 464px,#06f 0 466px,#0cf 0 467px,#fc0 0 468px,#800 0 472px,#8f7 0 473px,#800 0 474px,#0df 0 475px,#800 0 477px,#6f8 0 478px,#ef1 0 479px,#800 0 480px,#bf4 0 481px,#800 0 483px,#d00 0 484px,#800 0 486px,#1ee 0 488px,#e00 0 489px,#800 0 490px)"></i><i style="left:544px;width:11px;background:linear-gradient(#04f 0 1px,#00f 0 2px,#09f 0 4px,#00b 0 5px,#08f 0 7px,#00c 0 9px,#00f 0 10px,#00d 0 11px,#06f 0 12px,#00f 0 13px,#1ee 0 15px,#07f 0 16px,#00d 0 17px,#00f 0 20px,#06f 0 21px,#03f 0 22px,#0cf 0 23px,#09f 0 24px,#01f 0 26px,#00f 0 27px,#01f 0 28px,#00b 0 29px,#0cf 0 31px,#06f 0 32px,#00b 0 33px,#00f 0 34px,#01f 0 36px,#05f 0 37px,#009 0 38px,#00f 0 40px,#08f 0 42px,#03f 0 43px,#01f 0 44px,#00d 0 45px,#03f 0 47px,#09f 0 48px,#01f 0 49px,#00d 0 50px,#1fd 0 51px,#00b 0 53px,#00f 0 55px,#00d 0 56px,#0bf 0 58px,#01f 0 59px,#03f 0 60px,#00c 0 61px,#00a 0 62px,#00d 0 64px,#00f 0 65px,#00d 0 66px,#01f 0 69px,#00b 0 70px,#0df 0 71px,#00c 0 72px,#00f 0 74px,#04f 0 75px,#00d 0 76px,#05f 0 77px,#09f 0 78px,#00f 0 80px,#3fb 0 81px,#02f 0 82px,#08f 0 83px,#0cf 0 85px,#07f 0 86px,#00f 0 87px,#0af 0 88px,#00f 0 89px,#06f 0 91px,#08f 0 92px,#05f 0 94px,#06f 0 96px,#08f 0 97px,#0af 0 98px,#06f 0 99px,#03f 0 100px,#00e 0 102px,#00f 0 103px,#04f 0 104px,#00e 0 105px,#02f 0 107px,#00f 0 108px,#05f 0 109px,#01f 0 110px,#00f 0 111px,#02f 0 113px,#01f 0 114px,#06f 0 115px,#07f 0 116px,#0bf 0 118px,#00f 0 119px,#02f 0 120px,#00f 0 121px,#0cf 0 123px,#08f 0 125px,#05f 0 126px,#08f 0 127px,#03f 0 129px,#0af 0 130px,#03f 0 131px,#00e 0 132px,#04f 0 134px,#01f 0 135px,#5fa 0 136px,#00f 0 137px,#00c 0 138px,#00b 0 140px,#05f 0 141px,#00f 0 142px,#0af 0 143px,#00e 0 145px,#06f 0 146px,#04f 0 148px,#00f 0 149px,#3fb 0 151px,#02f 0 152px,#03f 0 153px,#01f 0 154px,#1fd 0 157px,#00c 0 158px,#0df 0 159px,#03f 0 160px,#00f 0 162px,#0bf 0 163px,#09f 0 164px,#1fd 0 165px,#00f 0 167px,#01f 0 168px,#04f 0 169px,#01f 0 172px,#06f 0 173px,#08f 0 174px,#00e 0 175px,#00d 0 176px,#03f 0 178px,#0cf 0 179px,#08f 0 180px,#05f 0 181px,#09f 0 183px,#00f 0 184px,#01f 0 185px,#02f 0 186px,#4fb 0 187px,#04f 0 190px,#06f 0 191px,#00d 0 192px,#06f 0 195px,#05f 0 196px,#04f 0 197px,#05f 0 200px,#5fa 0 201px,#02f 0 202px,#00d 0 203px,#04f 0 205px,#06f 0 206px,#0cf 0 207px,#06f 0 208px,#00c 0 211px,#01f 0 212px,#0cf 0 213px,#07f 0 214px,#05f 0 217px,#06f 0 218px,#09f 0 219px,#0cf 0 221px,#00e 0 222px,#00f 0 223px,#3fb 0 224px,#02f 0 225px,#0af 0 227px,#0df 0 228px,#05f 0 229px,#00f 0 230px,#07f 0 232px,#05f 0 233px,#01f 0 234px,#07f 0 235px,#00f 0 236px,#00e 0 238px,#0cf 0 239px,#09f 0 240px,#0df 0 241px,#00d 0 243px,#00c 0 244px,#00d 0 245px,#0df 0 246px,#00f 0 247px,#02f 0 249px,#00d 0 250px,#7f8 0 251px,#00a 0 252px,#3fb 0 254px,#07f 0 255px,#06f 0 256px,#1fd 0 257px,#01f 0 258px,#7f8 0 260px,#0cf 0 261px,#07f 0 262px,#00d 0 263px,#5f9 0 265px,#00c 0 266px,#00f 0 267px,#03f 0 268px,#06f 0 270px,#0bf 0 271px,#08f 0 272px,#1fd 0 273px,#00f 0 274px,#1fd 0 276px,#0cf 0 277px,#03f 0 278px,#00e 0 279px,#0bf 0 281px,#02f 0 282px,#08f 0 283px,#04f 0 284px,#0cf 0 285px,#7f8 0 287px,#df1 0 288px,#06f 0 289px,#00b 0 290px,#02f 0 292px,#0af 0 293px,#6f8 0 294px,#0af 0 295px,#02f 0 296px,#03f 0 298px,#06f 0 299px,#02f 0 300px,#00e 0 301px,#6f8 0 303px,#02f 0 304px,#00f 0 305px,#07f 0 306px,#08f 0 307px,#03f 0 309px,#00c 0 310px,#04f 0 311px,#00e 0 312px,#1fd 0 314px,#00f 0 315px,#04f 0 316px,#08f 0 317px,#09f 0 318px,#0cf 0 320px,#00e 0 321px,#02f 0 322px,#0df 0 323px,#bf3 0 325px,#00e 0 326px,#03f 0 327px,#3fb 0 328px,#04f 0 330px,#07f 0 331px,#06f 0 332px,#05f 0 333px,#00a 0 334px,#3fb 0 336px,#08f 0 337px,#04f 0 338px,#0cf 0 339px,#00f 0 341px,#04f 0 342px,#7f8 0 343px,#04f 0 344px,#02f 0 345px,#08f 0 347px,#07f 0 348px,#02f 0 349px,#05f 0 350px,#0af 0 352px,#8f6 0 353px,#00f 0 354px,#5fa 0 355px,#02f 0 360px,#00f 0 361px,#3fb 0 363px,#0bf 0 364px,#08f 0 365px,#5fa 0 366px,#09f 0 368px,#0cf 0 369px,#009 0 370px,#00e 0 371px,#05f 0 372px,#01f 0 374px,#05f 0 375px,#04f 0 376px,#00c 0 377px,#9f5 0 379px,#8f6 0 380px,#02f 0 381px,#2fc 0 382px,#02f 0 383px,#06f 0 385px,#07f 0 386px,#0cf 0 387px,#07f 0 388px,#1ee 0 390px,#0af 0 391px,#0bf 0 392px,#02f 0 393px,#0bf 0 394px,#0af 0 396px,#06f 0 397px,#04f 0 398px,#00f 0 399px,#05f 0 402px,#1ee 0 403px,#0af 0 404px,#f60 0 405px,#00e 0 407px,#fa0 0 408px,#06f 0 409px,#1ee 0 410px,#04f 0 412px,#08f 0 413px,#01f 0 414px,#09f 0 415px,#1ee 0 417px,#06f 0 418px,#09f 0 419px,#00f 0 420px,#08f 0 421px,#6f8 0 423px,#8f7 0 424px,#800 0 425px,#1ee 0 426px,#00e 0 428px,#8f7 0 429px,#8f6 0 430px,#07f 0 431px,#02f 0 432px,#1ee 0 434px,#1fd 0 435px,#00d 0 436px,#bf3 0 437px,#0bf 0 439px,#2fc 0 440px,#3fb 0 441px,#8f7 0 442px,#04f 0 443px,#900 0 445px,#05f 0 446px,#2fc 0 447px,#f10 0 448px,#09f 0 450px,#cf2 0 451px,#0cf 0 452px,#fe0 0 453px,#9f5 0 454px,#800 0 456px,#6f8 0 457px,#800 0 459px,#f50 0 461px,#0bf 0 462px,#800 0 463px,#fd0 0 464px,#cf2 0 466px,#800 0 467px,#06f 0 468px,#800 0 469px,#6f8 0 470px,#f90 0 472px,#800 0 473px,#9f5 0 474px,#f70 0 475px,#800 0 477px,#bf3 0 478px,#f90 0 479px,#2fc 0 480px,#800 0 490px)"></i></div><svg width="720" height="900" viewBox="0 0 720 900"><defs><linearGradient id="cbg" x1="0" y1="0" x2="0" y2="1"><stop offset="0.0000" stop-color="#800000"/><stop offset="0.0312" stop-color="#a40000"/><stop offset="0.0625" stop-color="#c80000"/><stop offset="0.0938" stop-color="#ec0400"/><stop offset="0.1250" stop-color="#ff2100"/><stop offset="0.1562" stop-color="#ff3f00"/><stop offset="0.1875" stop-color="#ff5c00"/><stop offset="0.2188" stop-color="#ff7a00"/><stop offset="0.2500" stop-color="#ff9700"/><stop offset="0.2812" stop-color="#ffb500"/><stop offset="0.3125" stop-color="#ffd200"/><stop offset="0.3438" stop-color="#fcf000"/><stop offset="0.3750" stop-color="#e2ff15"/><stop offset="0.4062" stop-color="#c9ff2e"/><stop offset="0.4375" stop-color="#afff48"/><stop offset="0.4688" stop-color="#95ff62"/><stop offset="0.5000" stop-color="#7bff7b"/><stop offset="0.5312" stop-color="#62ff95"/><stop offset="0.5625" stop-color="#48ffaf"/><stop offset="0.5938" stop-color="#2effc9"/><stop offset="0.6250" stop-color="#15ffe2"/><stop offset="0.6562" stop-color="#00dffc"/><stop offset="0.6875" stop-color="#00bfff"/><stop offset="0.7188" stop-color="#009fff"/><stop offset="0.7500" stop-color="#0080ff"/><stop offset="0.7812" stop-color="#0060ff"/><stop offset="0.8125" stop-color="#0040ff"/><stop offset="0.8438" stop-color="#0020ff"/><stop offset="0.8750" stop-color="#0000ff"/><stop offset="0.9062" stop-color="#0000ec"/><stop offset="0.9375" stop-color="#0000c8"/><stop offset="0.9688" stop-color="#0000a4"/><stop offset="1.0000" stop-color="#000080"/></linearGradient></defs><text x="360.00" y="31.70" text-anchor="middle" textLength="322.0" lengthAdjust="spacingAndGlyphs" style="font-size:17.50px">2017-05-18 15:00-15:00 (40.00_Hz)</text><path d="M72 174.5h3M73.5 173v3M72 161.5h3M73.5 160v3M72 166.5h3M73.5 165v3M73 168.5h3M74.5 167v3M73 172.5h3M74.5 171v3M73 172.5h3M74.5 171v3M73 166.5h3M74.5 165v3M74 176.5h3M75.5 175v3M74 168.5h3M75.5 167v3M75 166.5h3M76.5 165v3M75 172.5h3M76.5 171v3M76 166.5h3M77.5 165v3M76 168.5h3M77.5 167v3M76 163.5h3M77.5 162v3M76 174.5h3M77.5 173v3M76 170.5h3M77.5 169v3M76 166.5h3M77.5 165v3M77 176.5h3M78.5 175v3M77 159.5h3M78.5 158v3M77 170.5h3M78.5 169v3M77 164.5h3M78.5 163v3M78 172.5h3M79.5 171v3M78 159.5h3M79.5 158v3M78 174.5h3M79.5 173v3M78 157.5h3M79.5 156v3M78 157.5h3M79.5 156v3M78 172.5h3M79.5 171v3M78 168.5h3M79.5 167v3M79 164.5h3M80.5 163v3M79 153.5h3M80.5 152v3M79 159.5h3M80.5 158v3M79 155.5h3M80.5 154v3M79 170.5h3M80.5 169v3M80 148.5h3M81.5 147v3M80 155.5h3M81.5 154v3M80 161.5h3M81.5 160v3M81 146.5h3M82.5 145v3M81 157.5h3M82.5 156v3M82 146.5h3M83.5 145v3M82 146.5h3M83.5 145v3M82 166.5h3M83.5 165v3M82 155.5h3M83.5 154v3M83 148.5h3M84.5 147v3M83 163.5h3M84.5 162v3M83 146.5h3M84.5 145v3M83 148.5h3M84.5 147v3M84 148.5h3M85.5 147v3M85 134.5h3M86.5 133v3M86 148.5h3M87.5 147v3M86 129.5h3M87.5 128v3M86 153.5h3M87.5 152v3M86 136.5h3M87.5 135v3M86 146.5h3M87.5 145v3M87 146.5h3M88.5 145v3M87 151.5h3M88.5 150v3M87 125.5h3M88.5 124v3M87 146.5h3M88.5 145v3M87 157.5h3M88.5 156v3M87 151.5h3M88.5 150v3M88 155.5h3M89.5 154v3M89 136.5h3M90.5 135v3M89 138.5h3M90.5 137v3M89 149.5h3M90.5 148v3M89 142.5h3M90.5 141v3M89 149.5h3M90.5 148v3M89 140.5h3M90.5 139v3M89 151.5h3M90.5 150v3M90 131.5h3M91.5 130v3M90 153.5h3M91.5 152v3M90 134.5h3M91.5 133v3M91 146.5h3M92.5 145v3M92 155.5h3M93.5 154v3M92 136.5h3M93.5 135v3M92 161.5h3M93.5 160v3M92 125.5h3M93.5 124v3M92 125.5h3M93.5 124v3M93 155.5h3M94.5 154v3M93 142.5h3M94.5 141v3M94 151.5h3M95.5 150v3M94 149.5h3M95.5 148v3M94 148.5h3M95.5 147v3M94 148.5h3M95.5 147v3M94 155.5h3M95.5 154v3M94 159.5h3M95.5 158v3M95 153.5h3M96.5 152v3M95 159.5h3M96.5 158v3M95 136.5h3M96.5 135v3M95 168.5h3M96.5 167v3M95 151.5h3M96.5 150v3M95 144.5h3M96.5 143v3M96 161.5h3M97.5 160v3M96 157.5h3M97.5 156v3M96 166.5h3M97.5 165v3M96 151.5h3M97.5 150v3M96 121.5h3M97.5 120v3M96 159.5h3M97.5 158v3M96 144.5h3M97.5 143v3M97 164.5h3M98.5 163v3M97 168.5h3M98.5 167v3M98 155.5h3M99.5 154v3M98 125.5h3M99.5 124v3M98 119.5h3M99.5 118v3M98 164.5h3M99.5 163v3M98 153.5h3M99.5 152v3M99 148.5h3M100.5 147v3M99 132.5h3M100.5 131v3M99 134.5h3M100.5 133v3M100 129.5h3M101.5 128v3M100 142.5h3M101.5 141v3M100 136.5h3M101.5 135v3M101 146.5h3M102.5 145v3M101 125.5h3M102.5 124v3M101 142.5h3M102.5 141v3M101 146.5h3M102.5 145v3M101 140.5h3M102.5 139v3M102 155.5h3M103.5 154v3M102 148.5h3M103.5 147v3M102 123.5h3M103.5 122v3M102 148.5h3M103.5 147v3M102 146.5h3M103.5 145v3M102 155.5h3M103.5 154v3M103 157.5h3M104.5 156v3M103 148.5h3M104.5 147v3M104 136.5h3M105.5 135v3M104 148.5h3M105.5 147v3M104 163.5h3M105.5 162v3M105 153.5h3M106.5 152v3M105 157.5h3M106.5 156v3M105 146.5h3M106.5 145v3M105 131.5h3M106.5 130v3M106 157.5h3M107.5 156v3M106 140.5h3M107.5 139v3M106 138.5h3M107.5 137v3M107 146.5h3M108.5 145v3M107 129.5h3M108.5 128v3M107 136.5h3M108.5 135v3M107 140.5h3M108.5 139v3M107 144.5h3M108.5 143v3M108 144.5h3M109.5 143v3M108 129.5h3M109.5 128v3M108 144.5h3M109.5 143v3M108 144.5h3M109.5 143v3M109 134.5h3M110.5 133v3M109 129.5h3M110.5 128v3M109 157.5h3M110.5 156v3M109 125.5h3M110.5 124v3M109 140.5h3M110.5 139v3M110 157.5h3M111.5 156v3M110 132.5h3M111.5 131v3M111 125.5h3M112.5 124v3M111 140.5h3M112.5 139v3M111 164.5h3M112.5 163v3M112 149.5h3M113.5 148v3M112 121.5h3M113.5 120v3M112 155.5h3M113.5 154v3M112 119.5h3M113.5 118v3M112 146.5h3M113.5 145v3M112 136.5h3M113.5 135v3M113 148.5h3M114.5 147v3M113 119.5h3M114.5 118v3M113 151.5h3M114.5 150v3M114 132.5h3M115.5 131v3M114 149.5h3M115.5 148v3M114 121.5h3M115.5 120v3M114 146.5h3M115.5 145v3M114 138.5h3M115.5 137v3M115 144.5h3M116.5 143v3M115 149.5h3M116.5 148v3M115 142.5h3M116.5 141v3M115 166.5h3M116.5 165v3M116 168.5h3M117.5 167v3M116 168.5h3M117.5 167v3M117 159.5h3M118.5 158v3M117 132.5h3M118.5 131v3M118 142.5h3M119.5 141v3M118 131.5h3M119.5 130v3M118 121.5h3M119.5 120v3M118 115.5h3M119.5 114v3M118 136.5h3M119.5 135v3M118 136.5h3M119.5 135v3M118 129.5h3M119.5 128v3M119 164.5h3M120.5 163v3M119 125.5h3M120.5 124v3M119 144.5h3M120.5 143v3M119 153.5h3M120.5 152v3M120 159.5h3M121.5 158v3M120 146.5h3M121.5 145v3M120 121.5h3M121.5 120v3M120 149.5h3M121.5 148v3M120 161.5h3M121.5 160v3M120 129.5h3M121.5 128v3M120 144.5h3M121.5 143v3M121 166.5h3M122.5 165v3M121 155.5h3M122.5 154v3M122 157.5h3M123.5 156v3M122 131.5h3M123.5 130v3M122 146.5h3M123.5 145v3M122 144.5h3M123.5 143v3M122 123.5h3M123.5 122v3M123 148.5h3M124.5 147v3M124 138.5h3M125.5 137v3M124 157.5h3M125.5 156v3M125 144.5h3M126.5 143v3M125 166.5h3M126.5 165v3M125 168.5h3M126.5 167v3M125 163.5h3M126.5 162v3M126 149.5h3M127.5 148v3M126 159.5h3M127.5 158v3M126 161.5h3M127.5 160v3M126 161.5h3M127.5 160v3M126 153.5h3M127.5 152v3M126 129.5h3M127.5 128v3M126 125.5h3M127.5 124v3M126 148.5h3M127.5 147v3M126 131.5h3M127.5 130v3M127 151.5h3M128.5 150v3M127 161.5h3M128.5 160v3M127 163.5h3M128.5 162v3M127 153.5h3M128.5 152v3M128 172.5h3M129.5 171v3M128 142.5h3M129.5 141v3M128 157.5h3M129.5 156v3M128 170.5h3M129.5 169v3M128 159.5h3M129.5 158v3M128 140.5h3M129.5 139v3M128 151.5h3M129.5 150v3M128 164.5h3M129.5 163v3M129 138.5h3M130.5 137v3M129 155.5h3M130.5 154v3M129 148.5h3M130.5 147v3M130 172.5h3M131.5 171v3M130 151.5h3M131.5 150v3M130 153.5h3M131.5 152v3M130 163.5h3M131.5 162v3M131 174.5h3M132.5 173v3M131 127.5h3M132.5 126v3M132 159.5h3M133.5 158v3M132 146.5h3M133.5 145v3M133 140.5h3M134.5 139v3M134 164.5h3M135.5 163v3M134 131.5h3M135.5 130v3M135 159.5h3M136.5 158v3M135 140.5h3M136.5 139v3M135 151.5h3M136.5 150v3M135 146.5h3M136.5 145v3M136 163.5h3M137.5 162v3M136 125.5h3M137.5 124v3M136 131.5h3M137.5 130v3M136 161.5h3M137.5 160v3M136 155.5h3M137.5 154v3M136 144.5h3M137.5 143v3M136 157.5h3M137.5 156v3M136 138.5h3M137.5 137v3M137 148.5h3M138.5 147v3M137 127.5h3M138.5 126v3M138 155.5h3M139.5 154v3M138 155.5h3M139.5 154v3M139 136.5h3M140.5 135v3M139 161.5h3M140.5 160v3M139 155.5h3M140.5 154v3M139 153.5h3M140.5 152v3M140 144.5h3M141.5 143v3M140 131.5h3M141.5 130v3M140 151.5h3M141.5 150v3M140 151.5h3M141.5 150v3M140 159.5h3M141.5 158v3M140 125.5h3M141.5 124v3M141 146.5h3M142.5 145v3M142 142.5h3M143.5 141v3M142 136.5h3M143.5 135v3M142 129.5h3M143.5 128v3M142 146.5h3M143.5 145v3M142 131.5h3M143.5 130v3M142 138.5h3M143.5 137v3M143 129.5h3M144.5 128v3M143 127.5h3M144.5 126v3M144 132.5h3M145.5 131v3M144 151.5h3M145.5 150v3M145 125.5h3M146.5 124v3M145 146.5h3M146.5 145v3M145 119.5h3M146.5 118v3M146 144.5h3M147.5 143v3M146 121.5h3M147.5 120v3M146 146.5h3M147.5 145v3M146 136.5h3M147.5 135v3M147 117.5h3M148.5 116v3M148 151.5h3M149.5 150v3M148 144.5h3M149.5 143v3M149 138.5h3M150.5 137v3M149 142.5h3M150.5 141v3M149 153.5h3M150.5 152v3M150 115.5h3M151.5 114v3M150 131.5h3M151.5 130v3M150 159.5h3M151.5 158v3M150 138.5h3M151.5 137v3M151 149.5h3M152.5 148v3M151 159.5h3M152.5 158v3M151 117.5h3M152.5 116v3M151 129.5h3M152.5 128v3M152 148.5h3M153.5 147v3M152 138.5h3M153.5 137v3M152 142.5h3M153.5 141v3M153 132.5h3M154.5 131v3M153 117.5h3M154.5 116v3M153 136.5h3M154.5 135v3M153 129.5h3M154.5 128v3M153 146.5h3M154.5 145v3M153 131.5h3M154.5 130v3M153 132.5h3M154.5 131v3M154 112.5h3M155.5 111v3M154 131.5h3M155.5 130v3M154 136.5h3M155.5 135v3M155 129.5h3M156.5 128v3M155 155.5h3M156.5 154v3M155 123.5h3M156.5 122v3M156 131.5h3M157.5 130v3M156 142.5h3M157.5 141v3M157 114.5h3M158.5 113v3M157 155.5h3M158.5 154v3M157 151.5h3M158.5 150v3M157 123.5h3M158.5 122v3M157 157.5h3M158.5 156v3M157 132.5h3M158.5 131v3M157 140.5h3M158.5 139v3M157 159.5h3M158.5 158v3M158 136.5h3M159.5 135v3M158 121.5h3M159.5 120v3M158 125.5h3M159.5 124v3M158 153.5h3M159.5 152v3M158 132.5h3M159.5 131v3M158 115.5h3M159.5 114v3M158 163.5h3M159.5 162v3M159 144.5h3M160.5 143v3M159 132.5h3M160.5 131v3M159 123.5h3M160.5 122v3M160 164.5h3M161.5 163v3M160 136.5h3M161.5 135v3M161 157.5h3M162.5 156v3M161 140.5h3M162.5 139v3M161 131.5h3M162.5 130v3M161 164.5h3M162.5 163v3M161 161.5h3M162.5 160v3M162 157.5h3M163.5 156v3M162 159.5h3M163.5 158v3M162 161.5h3M163.5 160v3M163 153.5h3M164.5 152v3M163 149.5h3M164.5 148v3M163 157.5h3M164.5 156v3M163 164.5h3M164.5 163v3M163 144.5h3M164.5 143v3M165 149.5h3M166.5 148v3M165 136.5h3M166.5 135v3M165 146.5h3M166.5 145v3M165 144.5h3M166.5 143v3M165 146.5h3M166.5 145v3M165 153.5h3M166.5 152v3M166 163.5h3M167.5 162v3M166 155.5h3M167.5 154v3M167 163.5h3M168.5 162v3M167 157.5h3M168.5 156v3M167 168.5h3M168.5 167v3M167 161.5h3M168.5 160v3M167 164.5h3M168.5 163v3M167 164.5h3M168.5 163v3M167 138.5h3M168.5 137v3M167 153.5h3M168.5 152v3M167 168.5h3M168.5 167v3M167 157.5h3M168.5 156v3M168 157.5h3M169.5 156v3M168 151.5h3M169.5 150v3M168 140.5h3M169.5 139v3M168 157.5h3M169.5 156v3M168 149.5h3M169.5 148v3M168 149.5h3M169.5 148v3M169 136.5h3M170.5 135v3M169 151.5h3M170.5 150v3M169 170.5h3M170.5 169v3M169 159.5h3M170.5 158v3M170 146.5h3M171.5 145v3M170 151.5h3M171.5 150v3M170 140.5h3M171.5 139v3M171 153.5h3M172.5 152v3M171 166.5h3M172.5 165v3M171 132.5h3M172.5 131v3M171 159.5h3M172.5 158v3M171 151.5h3M172.5 150v3M171 170.5h3M172.5 169v3M172 163.5h3M173.5 162v3M172 163.5h3M173.5 162v3M173 155.5h3M174.5 154v3M173 153.5h3M174.5 152v3M173 148.5h3M174.5 147v3M173 127.5h3M174.5 126v3M173 153.5h3M174.5 152v3M173 146.5h3M174.5 145v3M174 155.5h3M175.5 154v3M174 134.5h3M175.5 133v3M174 155.5h3M175.5 154v3M174 155.5h3M175.5 154v3M174 170.5h3M175.5 169v3M174 142.5h3M175.5 141v3M174 166.5h3M175.5 165v3M175 155.5h3M176.5 154v3M175 161.5h3M176.5 160v3M176 144.5h3M177.5 143v3M176 168.5h3M177.5 167v3M176 138.5h3M177.5 137v3M177 123.5h3M178.5 122v3M177 164.5h3M178.5 163v3M178 149.5h3M179.5 148v3M178 148.5h3M179.5 147v3M178 159.5h3M179.5 158v3M178 142.5h3M179.5 141v3M178 148.5h3M179.5 147v3M178 172.5h3M179.5 171v3M178 161.5h3M179.5 160v3M178 144.5h3M179.5 143v3M179 140.5h3M180.5 139v3M179 163.5h3M180.5 162v3M179 138.5h3M180.5 137v3M179 146.5h3M180.5 145v3M179 164.5h3M180.5 163v3M179 127.5h3M180.5 126v3M180 157.5h3M181.5 156v3M180 131.5h3M181.5 130v3M180 163.5h3M181.5 162v3M180 146.5h3M181.5 145v3M180 148.5h3M181.5 147v3M180 161.5h3M181.5 160v3M180 125.5h3M181.5 124v3M181 151.5h3M182.5 150v3M181 148.5h3M182.5 147v3M181 172.5h3M182.5 171v3M181 157.5h3M182.5 156v3M181 140.5h3M182.5 139v3M182 138.5h3M183.5 137v3M182 136.5h3M183.5 135v3M182 131.5h3M183.5 130v3M182 125.5h3M183.5 124v3M183 144.5h3M184.5 143v3M183 146.5h3M184.5 145v3M183 146.5h3M184.5 145v3M184 131.5h3M185.5 130v3M184 129.5h3M185.5 128v3M185 144.5h3M186.5 143v3M185 117.5h3M186.5 116v3M185 163.5h3M186.5 162v3M185 136.5h3M186.5 135v3M185 138.5h3M186.5 137v3M186 127.5h3M187.5 126v3M186 140.5h3M187.5 139v3M186 142.5h3M187.5 141v3M187 131.5h3M188.5 130v3M187 115.5h3M188.5 114v3M187 153.5h3M188.5 152v3M188 131.5h3M189.5 130v3M188 125.5h3M189.5 124v3M188 144.5h3M189.5 143v3M188 168.5h3M189.5 167v3M188 157.5h3M189.5 156v3M188 121.5h3M189.5 120v3M188 157.5h3M189.5 156v3M189 129.5h3M190.5 128v3M189 159.5h3M190.5 158v3M190 157.5h3M191.5 156v3M190 148.5h3M191.5 147v3M191 149.5h3M192.5 148v3M191 140.5h3M192.5 139v3M192 125.5h3M193.5 124v3M192 138.5h3M193.5 137v3M192 132.5h3M193.5 131v3M192 144.5h3M193.5 143v3M192 149.5h3M193.5 148v3M193 142.5h3M194.5 141v3M193 161.5h3M194.5 160v3M193 142.5h3M194.5 141v3M194 129.5h3M195.5 128v3M194 144.5h3M195.5 143v3M194 146.5h3M195.5 145v3M194 148.5h3M195.5 147v3M194 142.5h3M195.5 141v3M194 142.5h3M195.5 141v3M195 146.5h3M196.5 145v3M195 142.5h3M196.5 141v3M195 148.5h3M196.5 147v3M196 129.5h3M197.5 128v3M196 134.5h3M197.5 133v3M196 153.5h3M197.5 152v3M196 131.5h3M197.5 130v3M196 168.5h3M197.5 167v3M197 149.5h3M198.5 148v3M197 163.5h3M198.5 162v3M197 161.5h3M198.5 160v3M197 157.5h3M198.5 156v3M197 142.5h3M198.5 141v3M198 144.5h3M199.5 143v3M198 153.5h3M199.5 152v3M198 140.5h3M199.5 139v3M198 138.5h3M199.5 137v3M199 142.5h3M200.5 141v3M199 153.5h3M200.5 152v3M199 131.5h3M200.5 130v3M200 129.5h3M201.5 128v3M200 142.5h3M201.5 141v3M200 164.5h3M201.5 163v3M201 140.5h3M202.5 139v3M201 170.5h3M202.5 169v3M202 138.5h3M203.5 137v3M202 166.5h3M203.5 165v3M202 170.5h3M203.5 169v3M202 166.5h3M203.5 165v3M202 149.5h3M203.5 148v3M202 172.5h3M203.5 171v3M203 148.5h3M204.5 147v3M203 153.5h3M204.5 152v3M203 149.5h3M204.5 148v3M203 164.5h3M204.5 163v3M203 148.5h3M204.5 147v3M203 153.5h3M204.5 152v3M203 142.5h3M204.5 141v3M204 166.5h3M205.5 165v3M204 134.5h3M205.5 133v3M204 136.5h3M205.5 135v3M204 134.5h3M205.5 133v3M204 161.5h3M205.5 160v3M204 168.5h3M205.5 167v3M204 149.5h3M205.5 148v3M204 129.5h3M205.5 128v3M204 161.5h3M205.5 160v3M205 166.5h3M206.5 165v3M205 153.5h3M206.5 152v3M205 166.5h3M206.5 165v3M205 134.5h3M206.5 133v3M205 132.5h3M206.5 131v3M206 142.5h3M207.5 141v3M206 170.5h3M207.5 169v3M206 146.5h3M207.5 145v3M206 155.5h3M207.5 154v3M207 174.5h3M208.5 173v3M207 166.5h3M208.5 165v3M207 138.5h3M208.5 137v3M207 170.5h3M208.5 169v3M207 159.5h3M208.5 158v3M207 144.5h3M208.5 143v3M207 163.5h3M208.5 162v3M208 153.5h3M209.5 152v3M208 161.5h3M209.5 160v3M208 140.5h3M209.5 139v3M208 166.5h3M209.5 165v3M209 149.5h3M210.5 148v3M210 166.5h3M211.5 165v3M210 140.5h3M211.5 139v3M210 163.5h3M211.5 162v3M210 153.5h3M211.5 152v3M211 149.5h3M212.5 148v3M212 164.5h3M213.5 163v3M212 140.5h3M213.5 139v3M212 174.5h3M213.5 173v3M212 168.5h3M213.5 167v3M212 148.5h3M213.5 147v3M213 155.5h3M214.5 154v3M213 153.5h3M214.5 152v3M214 163.5h3M215.5 162v3M214 166.5h3M215.5 165v3M214 172.5h3M215.5 171v3M214 174.5h3M215.5 173v3M214 155.5h3M215.5 154v3M214 157.5h3M215.5 156v3M214 161.5h3M215.5 160v3M215 163.5h3M216.5 162v3M215 149.5h3M216.5 148v3M215 166.5h3M216.5 165v3M216 148.5h3M217.5 147v3M217 161.5h3M218.5 160v3M217 149.5h3M218.5 148v3M217 170.5h3M218.5 169v3M217 172.5h3M218.5 171v3M217 168.5h3M218.5 167v3M217 164.5h3M218.5 163v3M218 174.5h3M219.5 173v3M218 144.5h3M219.5 143v3M218 159.5h3M219.5 158v3M218 142.5h3M219.5 141v3M218 148.5h3M219.5 147v3M218 159.5h3M219.5 158v3M218 172.5h3M219.5 171v3M218 142.5h3M219.5 141v3M219 168.5h3M220.5 167v3M219 172.5h3M220.5 171v3M219 166.5h3M220.5 165v3M219 155.5h3M220.5 154v3M219 163.5h3M220.5 162v3M219 174.5h3M220.5 173v3M220 161.5h3M221.5 160v3M220 174.5h3M221.5 173v3M220 153.5h3M221.5 152v3M220 164.5h3M221.5 163v3M221 149.5h3M222.5 148v3M221 168.5h3M222.5 167v3M221 159.5h3M222.5 158v3M221 174.5h3M222.5 173v3M222 148.5h3M223.5 147v3M222 170.5h3M223.5 169v3M222 140.5h3M223.5 139v3M223 142.5h3M224.5 141v3M224 149.5h3M225.5 148v3M224 151.5h3M225.5 150v3M225 161.5h3M226.5 160v3M225 161.5h3M226.5 160v3M225 163.5h3M226.5 162v3M225 163.5h3M226.5 162v3M225 163.5h3M226.5 162v3M225 164.5h3M226.5 163v3M226 153.5h3M227.5 152v3M226 168.5h3M227.5 167v3M226 148.5h3M227.5 147v3M226 149.5h3M227.5 148v3M226 155.5h3M227.5 154v3M226 148.5h3M227.5 147v3M227 142.5h3M228.5 141v3M227 134.5h3M228.5 133v3M228 157.5h3M229.5 156v3M228 166.5h3M229.5 165v3M228 172.5h3M229.5 171v3M229 170.5h3M230.5 169v3M229 157.5h3M230.5 156v3M229 149.5h3M230.5 148v3M229 148.5h3M230.5 147v3M230 149.5h3M231.5 148v3M230 168.5h3M231.5 167v3M230 142.5h3M231.5 141v3M231 159.5h3M232.5 158v3M231 149.5h3M232.5 148v3M231 131.5h3M232.5 130v3M231 170.5h3M232.5 169v3M232 136.5h3M233.5 135v3M232 134.5h3M233.5 133v3M232 148.5h3M233.5 147v3M232 131.5h3M233.5 130v3M232 144.5h3M233.5 143v3M233 151.5h3M234.5 150v3M233 163.5h3M234.5 162v3M233 127.5h3M234.5 126v3M233 161.5h3M234.5 160v3M233 153.5h3M234.5 152v3M234 163.5h3M235.5 162v3M234 149.5h3M235.5 148v3M234 131.5h3M235.5 130v3M234 148.5h3M235.5 147v3M234 168.5h3M235.5 167v3M235 142.5h3M236.5 141v3M235 134.5h3M236.5 133v3M235 163.5h3M236.5 162v3M236 153.5h3M237.5 152v3M236 146.5h3M237.5 145v3M236 136.5h3M237.5 135v3M237 136.5h3M238.5 135v3M237 142.5h3M238.5 141v3M237 140.5h3M238.5 139v3M237 117.5h3M238.5 116v3M237 140.5h3M238.5 139v3M237 148.5h3M238.5 147v3M238 149.5h3M239.5 148v3M238 140.5h3M239.5 139v3M238 157.5h3M239.5 156v3M238 168.5h3M239.5 167v3M238 129.5h3M239.5 128v3M238 163.5h3M239.5 162v3M238 142.5h3M239.5 141v3M238 123.5h3M239.5 122v3M240 164.5h3M241.5 163v3M240 159.5h3M241.5 158v3M240 142.5h3M241.5 141v3M240 159.5h3M241.5 158v3M240 163.5h3M241.5 162v3M240 136.5h3M241.5 135v3M241 168.5h3M242.5 167v3M241 142.5h3M242.5 141v3M241 136.5h3M242.5 135v3M242 157.5h3M243.5 156v3M242 151.5h3M243.5 150v3M242 157.5h3M243.5 156v3M242 166.5h3M243.5 165v3M242 132.5h3M243.5 131v3M242 164.5h3M243.5 163v3M242 149.5h3M243.5 148v3M242 172.5h3M243.5 171v3M243 131.5h3M244.5 130v3M243 142.5h3M244.5 141v3M243 153.5h3M244.5 152v3M243 172.5h3M244.5 171v3M243 157.5h3M244.5 156v3M243 159.5h3M244.5 158v3M244 134.5h3M245.5 133v3M244 123.5h3M245.5 122v3M244 172.5h3M245.5 171v3M245 166.5h3M246.5 165v3M245 132.5h3M246.5 131v3M245 132.5h3M246.5 131v3M245 149.5h3M246.5 148v3M245 146.5h3M246.5 145v3M245 142.5h3M246.5 141v3M245 148.5h3M246.5 147v3M246 146.5h3M247.5 145v3M246 153.5h3M247.5 152v3M247 140.5h3M248.5 139v3M247 121.5h3M248.5 120v3M247 157.5h3M248.5 156v3M247 157.5h3M248.5 156v3M247 131.5h3M248.5 130v3M248 146.5h3M249.5 145v3M248 149.5h3M249.5 148v3M248 166.5h3M249.5 165v3M248 164.5h3M249.5 163v3M248 155.5h3M249.5 154v3M248 134.5h3M249.5 133v3M248 159.5h3M249.5 158v3M249 132.5h3M250.5 131v3M249 170.5h3M250.5 169v3M249 144.5h3M250.5 143v3M249 148.5h3M250.5 147v3M249 138.5h3M250.5 137v3M250 127.5h3M251.5 126v3M250 155.5h3M251.5 154v3M251 131.5h3M252.5 130v3M251 149.5h3M252.5 148v3M251 127.5h3M252.5 126v3M251 163.5h3M252.5 162v3M251 123.5h3M252.5 122v3M251 157.5h3M252.5 156v3M251 149.5h3M252.5 148v3M253 123.5h3M254.5 122v3M253 142.5h3M254.5 141v3M253 123.5h3M254.5 122v3M253 127.5h3M254.5 126v3M254 153.5h3M255.5 152v3M254 157.5h3M255.5 156v3M254 146.5h3M255.5 145v3M254 119.5h3M255.5 118v3M254 172.5h3M255.5 171v3M255 155.5h3M256.5 154v3M255 148.5h3M256.5 147v3M255 157.5h3M256.5 156v3M255 142.5h3M256.5 141v3M255 172.5h3M256.5 171v3M255 148.5h3M256.5 147v3M255 168.5h3M256.5 167v3M255 157.5h3M256.5 156v3M256 131.5h3M257.5 130v3M256 123.5h3M257.5 122v3M256 151.5h3M257.5 150v3M256 136.5h3M257.5 135v3M256 157.5h3M257.5 156v3M256 163.5h3M257.5 162v3M256 153.5h3M257.5 152v3M256 163.5h3M257.5 162v3M256 125.5h3M257.5 124v3M257 148.5h3M258.5 147v3M257 132.5h3M258.5 131v3M257 131.5h3M258.5 130v3M257 121.5h3M258.5 120v3M258 123.5h3M259.5 122v3M258 121.5h3M259.5 120v3M258 163.5h3M259.5 162v3M258 134.5h3M259.5 133v3M259 132.5h3M260.5 131v3M259 125.5h3M260.5 124v3M259 155.5h3M260.5 154v3M259 121.5h3M260.5 120v3M259 151.5h3M260.5 150v3M260 163.5h3M261.5 162v3M260 151.5h3M261.5 150v3M261 163.5h3M262.5 162v3M261 117.5h3M262.5 116v3M261 136.5h3M262.5 135v3M261 149.5h3M262.5 148v3M261 157.5h3M262.5 156v3M261 161.5h3M262.5 160v3M262 166.5h3M263.5 165v3M262 163.5h3M263.5 162v3M262 125.5h3M263.5 124v3M262 138.5h3M263.5 137v3M262 119.5h3M263.5 118v3M263 164.5h3M264.5 163v3M263 168.5h3M264.5 167v3M263 157.5h3M264.5 156v3M263 155.5h3M264.5 154v3M263 159.5h3M264.5 158v3M264 151.5h3M265.5 150v3M265 129.5h3M266.5 128v3M265 157.5h3M266.5 156v3M265 125.5h3M266.5 124v3M265 119.5h3M266.5 118v3M265 159.5h3M266.5 158v3M266 149.5h3M267.5 148v3M266 159.5h3M267.5 158v3M266 140.5h3M267.5 139v3M266 127.5h3M267.5 126v3M267 138.5h3M268.5 137v3M267 134.5h3M268.5 133v3M267 115.5h3M268.5 114v3M267 117.5h3M268.5 116v3M267 151.5h3M268.5 150v3M267 123.5h3M268.5 122v3M267 140.5h3M268.5 139v3M267 123.5h3M268.5 122v3M267 114.5h3M268.5 113v3M268 148.5h3M269.5 147v3M268 157.5h3M269.5 156v3M268 125.5h3M269.5 124v3M268 155.5h3M269.5 154v3M268 125.5h3M269.5 124v3M268 161.5h3M269.5 160v3M268 166.5h3M269.5 165v3M268 148.5h3M269.5 147v3M269 123.5h3M270.5 122v3M269 163.5h3M270.5 162v3M269 142.5h3M270.5 141v3M269 155.5h3M270.5 154v3M269 140.5h3M270.5 139v3M270 131.5h3M271.5 130v3M270 157.5h3M271.5 156v3M270 155.5h3M271.5 154v3M271 136.5h3M272.5 135v3M271 155.5h3M272.5 154v3M271 161.5h3M272.5 160v3M271 149.5h3M272.5 148v3M271 155.5h3M272.5 154v3M271 132.5h3M272.5 131v3M271 142.5h3M272.5 141v3M271 136.5h3M272.5 135v3M272 136.5h3M273.5 135v3M272 172.5h3M273.5 171v3M273 166.5h3M274.5 165v3M273 170.5h3M274.5 169v3M273 123.5h3M274.5 122v3M273 119.5h3M274.5 118v3M273 163.5h3M274.5 162v3M273 159.5h3M274.5 158v3M274 153.5h3M275.5 152v3M274 157.5h3M275.5 156v3M274 148.5h3M275.5 147v3M274 142.5h3M275.5 141v3M275 134.5h3M276.5 133v3M275 138.5h3M276.5 137v3M275 155.5h3M276.5 154v3M275 153.5h3M276.5 152v3M275 163.5h3M276.5 162v3M275 159.5h3M276.5 158v3M275 148.5h3M276.5 147v3M276 172.5h3M277.5 171v3M276 138.5h3M277.5 137v3M276 166.5h3M277.5 165v3M276 155.5h3M277.5 154v3M276 153.5h3M277.5 152v3M276 144.5h3M277.5 143v3M277 140.5h3M278.5 139v3M277 159.5h3M278.5 158v3M277 174.5h3M278.5 173v3M278 155.5h3M279.5 154v3M278 161.5h3M279.5 160v3M278 157.5h3M279.5 156v3M278 148.5h3M279.5 147v3M279 144.5h3M280.5 143v3M279 151.5h3M280.5 150v3M279 159.5h3M280.5 158v3M279 164.5h3M280.5 163v3M279 159.5h3M280.5 158v3M280 146.5h3M281.5 145v3M281 157.5h3M282.5 156v3M281 166.5h3M282.5 165v3M281 136.5h3M282.5 135v3M281 140.5h3M282.5 139v3M281 138.5h3M282.5 137v3M281 159.5h3M282.5 158v3M281 166.5h3M282.5 165v3M282 153.5h3M283.5 152v3M282 123.5h3M283.5 122v3M282 157.5h3M283.5 156v3M282 170.5h3M283.5 169v3M282 153.5h3M283.5 152v3M282 134.5h3M283.5 133v3M282 168.5h3M283.5 167v3M283 159.5h3M284.5 158v3M283 138.5h3M284.5 137v3M283 168.5h3M284.5 167v3M284 163.5h3M285.5 162v3M284 149.5h3M285.5 148v3M284 168.5h3M285.5 167v3M284 159.5h3M285.5 158v3M284 146.5h3M285.5 145v3M284 163.5h3M285.5 162v3M285 119.5h3M286.5 118v3M285 166.5h3M286.5 165v3M285 127.5h3M286.5 126v3M285 166.5h3M286.5 165v3M285 114.5h3M286.5 113v3M285 166.5h3M286.5 165v3M286 123.5h3M287.5 122v3M286 148.5h3M287.5 147v3M286 155.5h3M287.5 154v3M286 155.5h3M287.5 154v3M287 170.5h3M288.5 169v3M288 151.5h3M289.5 150v3M288 136.5h3M289.5 135v3M288 131.5h3M289.5 130v3M288 153.5h3M289.5 152v3M289 157.5h3M290.5 156v3M289 146.5h3M290.5 145v3M289 161.5h3M290.5 160v3M289 125.5h3M290.5 124v3M289 132.5h3M290.5 131v3M289 155.5h3M290.5 154v3M290 129.5h3M291.5 128v3M290 121.5h3M291.5 120v3M290 144.5h3M291.5 143v3M290 144.5h3M291.5 143v3M290 123.5h3M291.5 122v3M291 157.5h3M292.5 156v3M291 164.5h3M292.5 163v3M291 153.5h3M292.5 152v3M291 138.5h3M292.5 137v3M291 155.5h3M292.5 154v3M291 153.5h3M292.5 152v3M291 155.5h3M292.5 154v3M291 121.5h3M292.5 120v3M291 153.5h3M292.5 152v3M292 148.5h3M293.5 147v3M292 146.5h3M293.5 145v3M292 172.5h3M293.5 171v3M292 146.5h3M293.5 145v3M292 134.5h3M293.5 133v3M293 155.5h3M294.5 154v3M293 136.5h3M294.5 135v3M293 146.5h3M294.5 145v3M294 142.5h3M295.5 141v3M294 142.5h3M295.5 141v3M294 151.5h3M295.5 150v3M294 166.5h3M295.5 165v3M294 163.5h3M295.5 162v3M294 155.5h3M295.5 154v3M294 131.5h3M295.5 130v3M295 161.5h3M296.5 160v3M295 164.5h3M296.5 163v3M295 136.5h3M296.5 135v3M295 132.5h3M296.5 131v3M295 136.5h3M296.5 135v3M296 106.5h3M297.5 105v3M296 155.5h3M297.5 154v3M296 132.5h3M297.5 131v3M297 146.5h3M298.5 145v3M297 146.5h3M298.5 145v3M297 144.5h3M298.5 143v3M298 114.5h3M299.5 113v3M298 115.5h3M299.5 114v3M298 127.5h3M299.5 126v3M298 125.5h3M299.5 124v3M299 168.5h3M300.5 167v3M299 149.5h3M300.5 148v3M300 134.5h3M301.5 133v3M300 163.5h3M301.5 162v3M300 163.5h3M301.5 162v3M300 146.5h3M301.5 145v3M300 148.5h3M301.5 147v3M301 157.5h3M302.5 156v3M301 146.5h3M302.5 145v3M302 131.5h3M303.5 130v3M302 134.5h3M303.5 133v3M302 161.5h3M303.5 160v3M302 155.5h3M303.5 154v3M302 155.5h3M303.5 154v3M303 153.5h3M304.5 152v3M303 134.5h3M304.5 133v3M303 144.5h3M304.5 143v3M303 164.5h3M304.5 163v3M303 161.5h3M304.5 160v3M304 161.5h3M305.5 160v3M304 166.5h3M305.5 165v3M304 155.5h3M305.5 154v3M304 151.5h3M305.5 150v3M305 146.5h3M306.5 145v3M305 144.5h3M306.5 143v3M305 146.5h3M306.5 145v3M305 140.5h3M306.5 139v3M305 159.5h3M306.5 158v3M305 157.5h3M306.5 156v3M305 144.5h3M306.5 143v3M305 149.5h3M306.5 148v3M306 140.5h3M307.5 139v3M306 155.5h3M307.5 154v3M306 161.5h3M307.5 160v3M306 142.5h3M307.5 141v3M307 144.5h3M308.5 143v3M307 155.5h3M308.5 154v3M307 164.5h3M308.5 163v3M307 134.5h3M308.5 133v3M307 149.5h3M308.5 148v3M308 159.5h3M309.5 158v3M308 138.5h3M309.5 137v3M308 153.5h3M309.5 152v3M308 132.5h3M309.5 131v3M308 144.5h3M309.5 143v3M308 164.5h3M309.5 163v3M309 138.5h3M310.5 137v3M309 153.5h3M310.5 152v3M309 125.5h3M310.5 124v3M309 159.5h3M310.5 158v3M309 140.5h3M310.5 139v3M310 129.5h3M311.5 128v3M310 161.5h3M311.5 160v3M311 138.5h3M312.5 137v3M311 123.5h3M312.5 122v3M311 136.5h3M312.5 135v3M311 151.5h3M312.5 150v3M311 121.5h3M312.5 120v3M312 146.5h3M313.5 145v3M312 138.5h3M313.5 137v3M312 157.5h3M313.5 156v3M313 131.5h3M314.5 130v3M313 121.5h3M314.5 120v3M313 132.5h3M314.5 131v3M313 121.5h3M314.5 120v3M313 153.5h3M314.5 152v3M313 132.5h3M314.5 131v3M313 153.5h3M314.5 152v3M314 163.5h3M315.5 162v3M314 155.5h3M315.5 154v3M314 131.5h3M315.5 130v3M314 155.5h3M315.5 154v3M314 144.5h3M315.5 143v3M314 121.5h3M315.5 120v3M314 161.5h3M315.5 160v3M315 138.5h3M316.5 137v3M315 142.5h3M316.5 141v3M315 138.5h3M316.5 137v3M315 127.5h3M316.5 126v3M315 146.5h3M316.5 145v3M315 146.5h3M316.5 145v3M316 146.5h3M317.5 145v3M316 136.5h3M317.5 135v3M316 125.5h3M317.5 124v3M316 164.5h3M317.5 163v3M316 127.5h3M317.5 126v3M316 121.5h3M317.5 120v3M317 127.5h3M318.5 126v3M317 142.5h3M318.5 141v3M317 159.5h3M318.5 158v3M317 119.5h3M318.5 118v3M317 149.5h3M318.5 148v3M318 138.5h3M319.5 137v3M318 136.5h3M319.5 135v3M318 127.5h3M319.5 126v3M318 140.5h3M319.5 139v3M319 134.5h3M320.5 133v3M319 157.5h3M320.5 156v3M319 114.5h3M320.5 113v3M319 132.5h3M320.5 131v3M319 142.5h3M320.5 141v3M319 159.5h3M320.5 158v3M320 151.5h3M321.5 150v3M320 127.5h3M321.5 126v3M320 149.5h3M321.5 148v3M320 123.5h3M321.5 122v3M320 104.5h3M321.5 103v3M320 153.5h3M321.5 152v3M321 148.5h3M322.5 147v3M321 132.5h3M322.5 131v3M321 125.5h3M322.5 124v3M321 136.5h3M322.5 135v3M321 123.5h3M322.5 122v3M321 149.5h3M322.5 148v3M321 148.5h3M322.5 147v3M322 151.5h3M323.5 150v3M322 123.5h3M323.5 122v3M322 108.5h3M323.5 107v3M322 114.5h3M323.5 113v3M322 146.5h3M323.5 145v3M322 121.5h3M323.5 120v3M322 146.5h3M323.5 145v3M323 136.5h3M324.5 135v3M323 132.5h3M324.5 131v3M324 151.5h3M325.5 150v3M324 119.5h3M325.5 118v3M324 123.5h3M325.5 122v3M325 144.5h3M326.5 143v3M325 119.5h3M326.5 118v3M326 112.5h3M327.5 111v3M326 125.5h3M327.5 124v3M326 134.5h3M327.5 133v3M326 134.5h3M327.5 133v3M327 138.5h3M328.5 137v3M327 117.5h3M328.5 116v3M328 115.5h3M329.5 114v3M328 104.5h3M329.5 103v3M328 108.5h3M329.5 107v3M328 131.5h3M329.5 130v3M329 138.5h3M330.5 137v3M329 131.5h3M330.5 130v3M329 123.5h3M330.5 122v3M329 127.5h3M330.5 126v3M329 129.5h3M330.5 128v3M330 117.5h3M331.5 116v3M330 119.5h3M331.5 118v3M330 136.5h3M331.5 135v3M330 110.5h3M331.5 109v3M331 115.5h3M332.5 114v3M331 117.5h3M332.5 116v3M332 114.5h3M333.5 113v3M332 112.5h3M333.5 111v3M332 131.5h3M333.5 130v3M332 149.5h3M333.5 148v3M332 146.5h3M333.5 145v3M332 123.5h3M333.5 122v3M332 151.5h3M333.5 150v3M333 140.5h3M334.5 139v3M334 117.5h3M335.5 116v3M334 112.5h3M335.5 111v3M334 144.5h3M335.5 143v3M335 132.5h3M336.5 131v3M336 138.5h3M337.5 137v3M336 142.5h3M337.5 141v3M336 119.5h3M337.5 118v3M336 104.5h3M337.5 103v3M336 148.5h3M337.5 147v3M337 159.5h3M338.5 158v3M338 144.5h3M339.5 143v3M338 140.5h3M339.5 139v3M338 138.5h3M339.5 137v3M338 155.5h3M339.5 154v3M339 131.5h3M340.5 130v3M339 131.5h3M340.5 130v3M339 114.5h3M340.5 113v3M339 114.5h3M340.5 113v3M339 144.5h3M340.5 143v3M340 148.5h3M341.5 147v3M340 161.5h3M341.5 160v3M340 131.5h3M341.5 130v3M340 142.5h3M341.5 141v3M340 138.5h3M341.5 137v3M340 131.5h3M341.5 130v3M340 132.5h3M341.5 131v3M341 136.5h3M342.5 135v3M341 153.5h3M342.5 152v3M341 157.5h3M342.5 156v3M341 138.5h3M342.5 137v3M341 138.5h3M342.5 137v3M341 131.5h3M342.5 130v3M341 136.5h3M342.5 135v3M341 123.5h3M342.5 122v3M341 155.5h3M342.5 154v3M341 129.5h3M342.5 128v3M342 136.5h3M343.5 135v3M342 138.5h3M343.5 137v3M342 132.5h3M343.5 131v3M343 140.5h3M344.5 139v3M343 142.5h3M344.5 141v3M343 144.5h3M344.5 143v3M344 151.5h3M345.5 150v3M345 132.5h3M346.5 131v3M345 131.5h3M346.5 130v3M345 166.5h3M346.5 165v3M345 132.5h3M346.5 131v3M346 146.5h3M347.5 145v3M346 151.5h3M347.5 150v3M346 127.5h3M347.5 126v3M346 136.5h3M347.5 135v3M346 146.5h3M347.5 145v3M347 151.5h3M348.5 150v3M347 159.5h3M348.5 158v3M347 132.5h3M348.5 131v3M347 144.5h3M348.5 143v3M347 168.5h3M348.5 167v3M348 164.5h3M349.5 163v3M348 161.5h3M349.5 160v3M348 148.5h3M349.5 147v3M348 164.5h3M349.5 163v3M348 153.5h3M349.5 152v3M349 166.5h3M350.5 165v3M349 170.5h3M350.5 169v3M349 159.5h3M350.5 158v3M349 142.5h3M350.5 141v3M349 149.5h3M350.5 148v3M349 163.5h3M350.5 162v3M349 170.5h3M350.5 169v3M350 140.5h3M351.5 139v3M350 157.5h3M351.5 156v3M350 157.5h3M351.5 156v3M350 146.5h3M351.5 145v3M351 164.5h3M352.5 163v3M351 168.5h3M352.5 167v3M351 155.5h3M352.5 154v3M352 161.5h3M353.5 160v3M352 161.5h3M353.5 160v3M352 164.5h3M353.5 163v3M352 151.5h3M353.5 150v3M353 161.5h3M354.5 160v3M353 161.5h3M354.5 160v3M353 172.5h3M354.5 171v3M354 159.5h3M355.5 158v3M354 163.5h3M355.5 162v3M354 161.5h3M355.5 160v3M355 161.5h3M356.5 160v3M355 159.5h3M356.5 158v3M355 163.5h3M356.5 162v3M355 170.5h3M356.5 169v3M355 157.5h3M356.5 156v3M356 161.5h3M357.5 160v3M356 174.5h3M357.5 173v3M356 166.5h3M357.5 165v3M356 174.5h3M357.5 173v3M356 155.5h3M357.5 154v3M356 164.5h3M357.5 163v3M357 170.5h3M358.5 169v3M357 172.5h3M358.5 171v3M357 172.5h3M358.5 171v3M357 161.5h3M358.5 160v3M357 153.5h3M358.5 152v3M357 164.5h3M358.5 163v3M358 159.5h3M359.5 158v3M358 157.5h3M359.5 156v3M358 170.5h3M359.5 169v3M358 157.5h3M359.5 156v3M360 159.5h3M361.5 158v3M360 166.5h3M361.5 165v3M360 153.5h3M361.5 152v3M360 174.5h3M361.5 173v3M360 164.5h3M361.5 163v3M361 170.5h3M362.5 169v3M361 176.5h3M362.5 175v3M361 161.5h3M362.5 160v3M361 159.5h3M362.5 158v3M362 174.5h3M363.5 173v3M362 142.5h3M363.5 141v3M362 163.5h3M363.5 162v3M362 140.5h3M363.5 139v3M362 159.5h3M363.5 158v3M363 168.5h3M364.5 167v3M363 163.5h3M364.5 162v3M364 153.5h3M365.5 152v3M364 153.5h3M365.5 152v3M364 159.5h3M365.5 158v3M364 149.5h3M365.5 148v3M364 159.5h3M365.5 158v3M365 151.5h3M366.5 150v3M365 155.5h3M366.5 154v3M365 155.5h3M366.5 154v3M366 140.5h3M367.5 139v3M366 149.5h3M367.5 148v3M366 164.5h3M367.5 163v3M366 149.5h3M367.5 148v3M366 172.5h3M367.5 171v3M366 149.5h3M367.5 148v3M366 153.5h3M367.5 152v3M367 170.5h3M368.5 169v3M368 132.5h3M369.5 131v3M368 164.5h3M369.5 163v3M368 146.5h3M369.5 145v3M368 161.5h3M369.5 160v3M368 157.5h3M369.5 156v3M368 146.5h3M369.5 145v3M369 140.5h3M370.5 139v3M369 127.5h3M370.5 126v3M369 136.5h3M370.5 135v3M369 151.5h3M370.5 150v3M369 161.5h3M370.5 160v3M369 140.5h3M370.5 139v3M370 125.5h3M371.5 124v3M370 125.5h3M371.5 124v3M370 146.5h3M371.5 145v3M370 144.5h3M371.5 143v3M370 168.5h3M371.5 167v3M370 149.5h3M371.5 148v3M370 148.5h3M371.5 147v3M371 138.5h3M372.5 137v3M371 134.5h3M372.5 133v3M371 155.5h3M372.5 154v3M371 163.5h3M372.5 162v3M372 136.5h3M373.5 135v3M372 136.5h3M373.5 135v3M372 159.5h3M373.5 158v3M372 153.5h3M373.5 152v3M373 148.5h3M374.5 147v3M373 136.5h3M374.5 135v3M373 166.5h3M374.5 165v3M373 140.5h3M374.5 139v3M373 153.5h3M374.5 152v3M374 138.5h3M375.5 137v3M374 142.5h3M375.5 141v3M374 159.5h3M375.5 158v3M375 163.5h3M376.5 162v3M375 140.5h3M376.5 139v3M375 148.5h3M376.5 147v3M375 132.5h3M376.5 131v3M375 168.5h3M376.5 167v3M375 153.5h3M376.5 152v3M375 131.5h3M376.5 130v3M375 129.5h3M376.5 128v3M376 140.5h3M377.5 139v3M376 159.5h3M377.5 158v3M376 127.5h3M377.5 126v3M376 138.5h3M377.5 137v3M376 159.5h3M377.5 158v3M376 155.5h3M377.5 154v3M377 166.5h3M378.5 165v3M377 132.5h3M378.5 131v3M377 131.5h3M378.5 130v3M377 159.5h3M378.5 158v3M377 170.5h3M378.5 169v3M377 163.5h3M378.5 162v3M377 155.5h3M378.5 154v3M377 149.5h3M378.5 148v3M377 151.5h3M378.5 150v3M378 142.5h3M379.5 141v3M378 157.5h3M379.5 156v3M378 142.5h3M379.5 141v3M379 136.5h3M380.5 135v3M379 159.5h3M380.5 158v3M379 161.5h3M380.5 160v3M380 161.5h3M381.5 160v3M381 170.5h3M382.5 169v3M381 138.5h3M382.5 137v3M381 155.5h3M382.5 154v3M381 136.5h3M382.5 135v3M381 157.5h3M382.5 156v3M381 138.5h3M382.5 137v3M382 144.5h3M383.5 143v3M382 134.5h3M383.5 133v3M382 138.5h3M383.5 137v3M382 163.5h3M383.5 162v3M383 168.5h3M384.5 167v3M383 121.5h3M384.5 120v3M384 140.5h3M385.5 139v3M384 142.5h3M385.5 141v3M384 136.5h3M385.5 135v3M384 142.5h3M385.5 141v3M385 121.5h3M386.5 120v3M385 166.5h3M386.5 165v3M385 163.5h3M386.5 162v3M385 146.5h3M386.5 145v3M385 163.5h3M386.5 162v3M386 161.5h3M387.5 160v3M386 163.5h3M387.5 162v3M386 106.5h3M387.5 105v3M386 164.5h3M387.5 163v3M386 149.5h3M387.5 148v3M386 129.5h3M387.5 128v3M387 164.5h3M388.5 163v3M387 142.5h3M388.5 141v3M387 166.5h3M388.5 165v3M387 131.5h3M388.5 130v3M388 125.5h3M389.5 124v3M388 142.5h3M389.5 141v3M388 155.5h3M389.5 154v3M388 123.5h3M389.5 122v3M388 146.5h3M389.5 145v3M389 146.5h3M390.5 145v3M389 121.5h3M390.5 120v3M390 148.5h3M391.5 147v3M390 142.5h3M391.5 141v3M390 138.5h3M391.5 137v3M390 129.5h3M391.5 128v3M390 131.5h3M391.5 130v3M391 153.5h3M392.5 152v3M391 134.5h3M392.5 133v3M391 134.5h3M392.5 133v3M392 163.5h3M393.5 162v3M392 148.5h3M393.5 147v3M392 148.5h3M393.5 147v3M393 159.5h3M394.5 158v3M393 127.5h3M394.5 126v3M393 159.5h3M394.5 158v3M393 144.5h3M394.5 143v3M393 153.5h3M394.5 152v3M394 166.5h3M395.5 165v3M394 136.5h3M395.5 135v3M394 136.5h3M395.5 135v3M394 142.5h3M395.5 141v3M394 140.5h3M395.5 139v3M394 168.5h3M395.5 167v3M395 168.5h3M396.5 167v3M395 146.5h3M396.5 145v3M396 166.5h3M397.5 165v3M396 146.5h3M397.5 145v3M397 144.5h3M398.5 143v3M397 164.5h3M398.5 163v3M397 166.5h3M398.5 165v3M397 153.5h3M398.5 152v3M397 149.5h3M398.5 148v3M398 140.5h3M399.5 139v3M398 163.5h3M399.5 162v3M398 140.5h3M399.5 139v3M399 140.5h3M400.5 139v3M399 127.5h3M400.5 126v3M399 144.5h3M400.5 143v3M399 149.5h3M400.5 148v3M399 161.5h3M400.5 160v3M399 155.5h3M400.5 154v3M399 146.5h3M400.5 145v3M400 134.5h3M401.5 133v3M400 151.5h3M401.5 150v3M400 166.5h3M401.5 165v3M400 140.5h3M401.5 139v3M401 144.5h3M402.5 143v3M401 157.5h3M402.5 156v3M401 129.5h3M402.5 128v3M401 132.5h3M402.5 131v3M401 134.5h3M402.5 133v3M401 164.5h3M402.5 163v3M401 146.5h3M402.5 145v3M401 170.5h3M402.5 169v3M402 132.5h3M403.5 131v3M402 163.5h3M403.5 162v3M402 159.5h3M403.5 158v3M403 163.5h3M404.5 162v3M403 144.5h3M404.5 143v3M403 155.5h3M404.5 154v3M403 164.5h3M404.5 163v3M403 146.5h3M404.5 145v3M403 149.5h3M404.5 148v3M403 138.5h3M404.5 137v3M404 166.5h3M405.5 165v3M404 164.5h3M405.5 163v3M404 149.5h3M405.5 148v3M404 148.5h3M405.5 147v3M405 142.5h3M406.5 141v3M405 114.5h3M406.5 113v3M405 140.5h3M406.5 139v3M405 114.5h3M406.5 113v3M406 121.5h3M407.5 120v3M406 144.5h3M407.5 143v3M406 149.5h3M407.5 148v3M406 140.5h3M407.5 139v3M407 157.5h3M408.5 156v3M407 148.5h3M408.5 147v3M407 129.5h3M408.5 128v3M408 131.5h3M409.5 130v3M408 163.5h3M409.5 162v3M408 136.5h3M409.5 135v3M408 151.5h3M409.5 150v3M409 148.5h3M410.5 147v3M409 163.5h3M410.5 162v3M410 157.5h3M411.5 156v3M410 132.5h3M411.5 131v3M410 117.5h3M411.5 116v3M411 131.5h3M412.5 130v3M411 146.5h3M412.5 145v3M412 153.5h3M413.5 152v3M412 140.5h3M413.5 139v3M412 151.5h3M413.5 150v3M412 140.5h3M413.5 139v3M412 149.5h3M413.5 148v3M412 138.5h3M413.5 137v3M413 148.5h3M414.5 147v3M413 112.5h3M414.5 111v3M413 140.5h3M414.5 139v3M413 146.5h3M414.5 145v3M413 131.5h3M414.5 130v3M413 148.5h3M414.5 147v3M413 163.5h3M414.5 162v3M414 125.5h3M415.5 124v3M415 132.5h3M416.5 131v3M415 144.5h3M416.5 143v3M415 144.5h3M416.5 143v3M415 134.5h3M416.5 133v3M415 129.5h3M416.5 128v3M415 144.5h3M416.5 143v3M415 131.5h3M416.5 130v3M416 146.5h3M417.5 145v3M416 155.5h3M417.5 154v3M416 127.5h3M417.5 126v3M416 146.5h3M417.5 145v3M416 127.5h3M417.5 126v3M416 123.5h3M417.5 122v3M417 140.5h3M418.5 139v3M417 148.5h3M418.5 147v3M418 127.5h3M419.5 126v3M418 119.5h3M419.5 118v3M418 151.5h3M419.5 150v3M418 121.5h3M419.5 120v3M418 153.5h3M419.5 152v3M418 134.5h3M419.5 133v3M418 146.5h3M419.5 145v3M419 155.5h3M420.5 154v3M419 155.5h3M420.5 154v3M419 129.5h3M420.5 128v3M419 146.5h3M420.5 145v3M420 127.5h3M421.5 126v3M420 121.5h3M421.5 120v3M420 138.5h3M421.5 137v3M420 123.5h3M421.5 122v3M421 123.5h3M422.5 122v3M421 149.5h3M422.5 148v3M421 155.5h3M422.5 154v3M421 159.5h3M422.5 158v3M421 134.5h3M422.5 133v3M421 159.5h3M422.5 158v3M422 151.5h3M423.5 150v3M422 157.5h3M423.5 156v3M422 149.5h3M423.5 148v3M422 153.5h3M423.5 152v3M423 121.5h3M424.5 120v3M423 136.5h3M424.5 135v3M424 132.5h3M425.5 131v3M424 142.5h3M425.5 141v3M424 112.5h3M425.5 111v3M424 108.5h3M425.5 107v3M425 146.5h3M426.5 145v3M425 142.5h3M426.5 141v3M426 148.5h3M427.5 147v3M426 148.5h3M427.5 147v3M426 132.5h3M427.5 131v3M426 157.5h3M427.5 156v3M426 136.5h3M427.5 135v3M426 153.5h3M427.5 152v3M426 159.5h3M427.5 158v3M427 136.5h3M428.5 135v3M427 144.5h3M428.5 143v3M427 151.5h3M428.5 150v3M428 136.5h3M429.5 135v3M428 110.5h3M429.5 109v3M428 151.5h3M429.5 150v3M428 132.5h3M429.5 131v3M429 134.5h3M430.5 133v3M429 134.5h3M430.5 133v3M429 125.5h3M430.5 124v3M429 127.5h3M430.5 126v3M430 125.5h3M431.5 124v3M430 117.5h3M431.5 116v3M430 132.5h3M431.5 131v3M430 146.5h3M431.5 145v3M430 129.5h3M431.5 128v3M431 119.5h3M432.5 118v3M431 129.5h3M432.5 128v3M432 149.5h3M433.5 148v3M432 140.5h3M433.5 139v3M432 138.5h3M433.5 137v3M432 125.5h3M433.5 124v3M432 140.5h3M433.5 139v3M432 134.5h3M433.5 133v3M433 112.5h3M434.5 111v3M433 140.5h3M434.5 139v3M433 136.5h3M434.5 135v3M433 129.5h3M434.5 128v3M433 138.5h3M434.5 137v3M433 115.5h3M434.5 114v3M434 131.5h3M435.5 130v3M434 163.5h3M435.5 162v3M434 132.5h3M435.5 131v3M434 117.5h3M435.5 116v3M435 153.5h3M436.5 152v3M435 148.5h3M436.5 147v3M436 159.5h3M437.5 158v3M436 159.5h3M437.5 158v3M436 163.5h3M437.5 162v3M436 163.5h3M437.5 162v3M436 131.5h3M437.5 130v3M437 148.5h3M438.5 147v3M437 119.5h3M438.5 118v3M438 159.5h3M439.5 158v3M438 151.5h3M439.5 150v3M438 131.5h3M439.5 130v3M438 157.5h3M439.5 156v3M438 142.5h3M439.5 141v3M438 134.5h3M439.5 133v3M438 148.5h3M439.5 147v3M439 134.5h3M440.5 133v3M439 142.5h3M440.5 141v3M439 132.5h3M440.5 131v3M439 114.5h3M440.5 113v3M439 151.5h3M440.5 150v3M439 132.5h3M440.5 131v3M439 142.5h3M440.5 141v3M440 117.5h3M441.5 116v3M440 119.5h3M441.5 118v3M440 148.5h3M441.5 147v3M440 138.5h3M441.5 137v3M440 127.5h3M441.5 126v3M441 140.5h3M442.5 139v3M441 155.5h3M442.5 154v3M441 123.5h3M442.5 122v3M441 168.5h3M442.5 167v3M441 123.5h3M442.5 122v3M442 146.5h3M443.5 145v3M442 125.5h3M443.5 124v3M442 157.5h3M443.5 156v3M442 161.5h3M443.5 160v3M443 151.5h3M444.5 150v3M443 142.5h3M444.5 141v3M443 123.5h3M444.5 122v3M443 142.5h3M444.5 141v3M444 127.5h3M445.5 126v3M444 144.5h3M445.5 143v3M444 125.5h3M445.5 124v3M444 148.5h3M445.5 147v3M444 142.5h3M445.5 141v3M445 149.5h3M446.5 148v3M445 112.5h3M446.5 111v3M445 155.5h3M446.5 154v3M445 121.5h3M446.5 120v3M445 131.5h3M446.5 130v3M445 117.5h3M446.5 116v3M445 131.5h3M446.5 130v3M445 148.5h3M446.5 147v3M446 164.5h3M447.5 163v3M446 155.5h3M447.5 154v3M446 163.5h3M447.5 162v3M446 149.5h3M447.5 148v3M447 134.5h3M448.5 133v3M447 153.5h3M448.5 152v3M447 129.5h3M448.5 128v3M448 131.5h3M449.5 130v3M448 144.5h3M449.5 143v3M449 159.5h3M450.5 158v3M449 136.5h3M450.5 135v3M450 168.5h3M451.5 167v3M450 136.5h3M451.5 135v3M450 138.5h3M451.5 137v3M450 149.5h3M451.5 148v3M450 146.5h3M451.5 145v3M450 132.5h3M451.5 131v3M450 142.5h3M451.5 141v3M451 129.5h3M452.5 128v3M451 132.5h3M452.5 131v3M451 132.5h3M452.5 131v3M451 149.5h3M452.5 148v3M451 148.5h3M452.5 147v3M451 151.5h3M452.5 150v3M451 140.5h3M452.5 139v3M452 131.5h3M453.5 130v3M452 140.5h3M453.5 139v3M452 144.5h3M453.5 143v3M452 155.5h3M453.5 154v3M453 149.5h3M454.5 148v3M453 166.5h3M454.5 165v3M453 168.5h3M454.5 167v3M454 134.5h3M455.5 133v3M454 168.5h3M455.5 167v3M454 157.5h3M455.5 156v3M454 159.5h3M455.5 158v3M454 153.5h3M455.5 152v3M455 131.5h3M456.5 130v3M455 140.5h3M456.5 139v3M456 142.5h3M457.5 141v3M456 151.5h3M457.5 150v3M456 149.5h3M457.5 148v3M456 131.5h3M457.5 130v3M457 157.5h3M458.5 156v3M457 136.5h3M458.5 135v3M457 163.5h3M458.5 162v3M457 142.5h3M458.5 141v3M457 164.5h3M458.5 163v3M457 159.5h3M458.5 158v3M458 164.5h3M459.5 163v3M458 168.5h3M459.5 167v3M458 159.5h3M459.5 158v3M458 161.5h3M459.5 160v3M459 153.5h3M460.5 152v3M459 144.5h3M460.5 143v3M459 164.5h3M460.5 163v3M459 153.5h3M460.5 152v3M459 155.5h3M460.5 154v3M460 153.5h3M461.5 152v3M460 146.5h3M461.5 145v3M460 164.5h3M461.5 163v3M460 166.5h3M461.5 165v3M461 161.5h3M462.5 160v3M461 125.5h3M462.5 124v3M461 138.5h3M462.5 137v3M461 138.5h3M462.5 137v3M461 151.5h3M462.5 150v3M462 164.5h3M463.5 163v3M462 151.5h3M463.5 150v3M462 151.5h3M463.5 150v3M462 125.5h3M463.5 124v3M462 148.5h3M463.5 147v3M463 163.5h3M464.5 162v3M463 149.5h3M464.5 148v3M463 163.5h3M464.5 162v3M463 144.5h3M464.5 143v3M464 164.5h3M465.5 163v3M464 134.5h3M465.5 133v3M464 136.5h3M465.5 135v3M465 153.5h3M466.5 152v3M465 131.5h3M466.5 130v3M465 144.5h3M466.5 143v3M465 144.5h3M466.5 143v3M465 134.5h3M466.5 133v3M465 153.5h3M466.5 152v3M466 155.5h3M467.5 154v3M466 163.5h3M467.5 162v3M466 161.5h3M467.5 160v3M466 149.5h3M467.5 148v3M466 157.5h3M467.5 156v3M466 168.5h3M467.5 167v3M467 140.5h3M468.5 139v3M467 153.5h3M468.5 152v3M467 132.5h3M468.5 131v3M467 161.5h3M468.5 160v3M467 163.5h3M468.5 162v3M468 157.5h3M469.5 156v3M468 149.5h3M469.5 148v3M468 148.5h3M469.5 147v3M468 155.5h3M469.5 154v3M468 151.5h3M469.5 150v3M468 144.5h3M469.5 143v3M469 166.5h3M470.5 165v3M469 140.5h3M470.5 139v3M469 138.5h3M470.5 137v3M469 134.5h3M470.5 133v3M470 125.5h3M471.5 124v3M470 129.5h3M471.5 128v3M470 146.5h3M471.5 145v3M470 155.5h3M471.5 154v3M470 136.5h3M471.5 135v3M470 149.5h3M471.5 148v3M470 155.5h3M471.5 154v3M470 136.5h3M471.5 135v3M470 144.5h3M471.5 143v3M470 114.5h3M471.5 113v3M470 151.5h3M471.5 150v3M471 146.5h3M472.5 145v3M471 151.5h3M472.5 150v3M471 115.5h3M472.5 114v3M471 170.5h3M472.5 169v3M471 151.5h3M472.5 150v3M471 166.5h3M472.5 165v3M471 136.5h3M472.5 135v3M472 142.5h3M473.5 141v3M472 131.5h3M473.5 130v3M472 127.5h3M473.5 126v3M472 115.5h3M473.5 114v3M473 134.5h3M474.5 133v3M473 132.5h3M474.5 131v3M474 151.5h3M475.5 150v3M474 127.5h3M475.5 126v3M474 127.5h3M475.5 126v3M474 146.5h3M475.5 145v3M474 142.5h3M475.5 141v3M475 142.5h3M476.5 141v3M475 166.5h3M476.5 165v3M476 123.5h3M477.5 122v3M476 136.5h3M477.5 135v3M476 127.5h3M477.5 126v3M476 138.5h3M477.5 137v3M476 138.5h3M477.5 137v3M476 155.5h3M477.5 154v3M476 159.5h3M477.5 158v3M476 132.5h3M477.5 131v3M476 153.5h3M477.5 152v3M476 159.5h3M477.5 158v3M477 136.5h3M478.5 135v3M477 138.5h3M478.5 137v3M477 155.5h3M478.5 154v3M477 163.5h3M478.5 162v3M477 159.5h3M478.5 158v3M477 159.5h3M478.5 158v3M477 121.5h3M478.5 120v3M477 159.5h3M478.5 158v3M477 144.5h3M478.5 143v3M477 144.5h3M478.5 143v3M477 134.5h3M478.5 133v3M478 149.5h3M479.5 148v3M478 157.5h3M479.5 156v3M478 142.5h3M479.5 141v3M479 114.5h3M480.5 113v3M479 138.5h3M480.5 137v3M479 138.5h3M480.5 137v3M479 148.5h3M480.5 147v3M479 115.5h3M480.5 114v3M479 123.5h3M480.5 122v3M479 119.5h3M480.5 118v3M479 129.5h3M480.5 128v3M479 132.5h3M480.5 131v3M480 149.5h3M481.5 148v3M480 142.5h3M481.5 141v3M480 132.5h3M481.5 131v3M481 163.5h3M482.5 162v3M481 129.5h3M482.5 128v3M481 125.5h3M482.5 124v3M481 114.5h3M482.5 113v3M481 140.5h3M482.5 139v3M481 151.5h3M482.5 150v3M482 155.5h3M483.5 154v3M482 132.5h3M483.5 131v3M482 142.5h3M483.5 141v3M482 153.5h3M483.5 152v3M482 119.5h3M483.5 118v3M482 159.5h3M483.5 158v3M483 123.5h3M484.5 122v3M483 125.5h3M484.5 124v3M483 146.5h3M484.5 145v3M483 129.5h3M484.5 128v3M483 142.5h3M484.5 141v3M483 136.5h3M484.5 135v3M484 129.5h3M485.5 128v3M484 161.5h3M485.5 160v3M484 144.5h3M485.5 143v3M485 146.5h3M486.5 145v3M485 151.5h3M486.5 150v3M485 161.5h3M486.5 160v3M485 123.5h3M486.5 122v3M486 129.5h3M487.5 128v3M486 144.5h3M487.5 143v3M486 138.5h3M487.5 137v3M487 144.5h3M488.5 143v3M487 148.5h3M488.5 147v3M487 127.5h3M488.5 126v3M488 146.5h3M489.5 145v3M488 140.5h3M489.5 139v3M488 164.5h3M489.5 163v3M489 138.5h3M490.5 137v3M489 127.5h3M490.5 126v3M489 138.5h3M490.5 137v3M489 159.5h3M490.5 158v3M490 151.5h3M491.5 150v3M490 129.5h3M491.5 128v3M490 161.5h3M491.5 160v3M490 161.5h3M491.5 160v3M490 148.5h3M491.5 147v3M490 131.5h3M491.5 130v3M491 123.5h3M492.5 122v3M491 121.5h3M492.5 120v3M491 127.5h3M492.5 126v3M491 159.5h3M492.5 158v3M492 146.5h3M493.5 145v3M492 155.5h3M493.5 154v3M492 131.5h3M493.5 130v3M493 146.5h3M494.5 145v3M493 142.5h3M494.5 141v3M493 134.5h3M494.5 133v3M494 134.5h3M495.5 133v3M494 155.5h3M495.5 154v3M495 146.5h3M496.5 145v3M495 155.5h3M496.5 154v3M495 138.5h3M496.5 137v3M495 138.5h3M496.5 137v3M495 131.5h3M496.5 130v3M496 121.5h3M497.5 120v3M496 148.5h3M497.5 147v3M496 151.5h3M497.5 150v3M496 123.5h3M497.5 122v3M497 138.5h3M498.5 137v3M498 164.5h3M499.5 163v3M498 134.5h3M499.5 133v3M498 148.5h3M499.5 147v3M498 144.5h3M499.5 143v3M498 146.5h3M499.5 145v3M498 163.5h3M499.5 162v3M498 161.5h3M499.5 160v3M499 146.5h3M500.5 145v3M499 157.5h3M500.5 156v3M500 155.5h3M501.5 154v3M500 153.5h3M501.5 152v3M500 153.5h3M501.5 152v3M500 155.5h3M501.5 154v3M501 138.5h3M502.5 137v3M501 161.5h3M502.5 160v3M501 144.5h3M502.5 143v3M502 140.5h3M503.5 139v3M502 121.5h3M503.5 120v3M502 131.5h3M503.5 130v3M502 127.5h3M503.5 126v3M502 155.5h3M503.5 154v3M502 140.5h3M503.5 139v3M502 134.5h3M503.5 133v3M503 125.5h3M504.5 124v3M503 131.5h3M504.5 130v3M503 166.5h3M504.5 165v3M503 132.5h3M504.5 131v3M503 149.5h3M504.5 148v3M503 155.5h3M504.5 154v3M503 134.5h3M504.5 133v3M504 163.5h3M505.5 162v3M504 166.5h3M505.5 165v3M505 155.5h3M506.5 154v3M505 140.5h3M506.5 139v3M505 157.5h3M506.5 156v3M505 149.5h3M506.5 148v3M505 163.5h3M506.5 162v3M505 134.5h3M506.5 133v3M506 132.5h3M507.5 131v3M506 159.5h3M507.5 158v3M506 155.5h3M507.5 154v3M506 148.5h3M507.5 147v3M507 149.5h3M508.5 148v3M507 159.5h3M508.5 158v3M507 140.5h3M508.5 139v3M508 151.5h3M509.5 150v3M509 140.5h3M510.5 139v3M509 140.5h3M510.5 139v3M509 151.5h3M510.5 150v3M509 142.5h3M510.5 141v3M509 155.5h3M510.5 154v3M510 155.5h3M511.5 154v3M510 129.5h3M511.5 128v3M511 129.5h3M512.5 128v3M511 129.5h3M512.5 128v3M511 163.5h3M512.5 162v3M511 142.5h3M512.5 141v3M511 149.5h3M512.5 148v3M511 132.5h3M512.5 131v3M512 155.5h3M513.5 154v3M512 142.5h3M513.5 141v3M512 138.5h3M513.5 137v3M512 134.5h3M513.5 133v3M513 153.5h3M514.5 152v3M513 155.5h3M514.5 154v3M513 144.5h3M514.5 143v3M513 127.5h3M514.5 126v3M513 140.5h3M514.5 139v3M513 164.5h3M514.5 163v3M514 129.5h3M515.5 128v3M514 119.5h3M515.5 118v3M514 140.5h3M515.5 139v3M515 144.5h3M516.5 143v3M515 163.5h3M516.5 162v3M515 157.5h3M516.5 156v3M515 140.5h3M516.5 139v3M515 142.5h3M516.5 141v3M515 159.5h3M516.5 158v3M516 138.5h3M517.5 137v3M516 129.5h3M517.5 128v3M516 140.5h3M517.5 139v3M516 157.5h3M517.5 156v3M516 131.5h3M517.5 130v3M517 142.5h3M518.5 141v3M517 157.5h3M518.5 156v3M517 140.5h3M518.5 139v3M517 153.5h3M518.5 152v3M517 149.5h3M518.5 148v3M517 132.5h3M518.5 131v3M517 134.5h3M518.5 133v3M517 121.5h3M518.5 120v3M517 161.5h3M518.5 160v3M518 155.5h3M519.5 154v3M518 136.5h3M519.5 135v3M518 149.5h3M519.5 148v3M519 136.5h3M520.5 135v3M519 140.5h3M520.5 139v3M519 146.5h3M520.5 145v3M519 142.5h3M520.5 141v3M519 151.5h3M520.5 150v3M519 142.5h3M520.5 141v3M519 149.5h3M520.5 148v3M519 119.5h3M520.5 118v3M520 157.5h3M521.5 156v3M520 136.5h3M521.5 135v3M520 149.5h3M521.5 148v3M520 146.5h3M521.5 145v3M520 125.5h3M521.5 124v3M521 134.5h3M522.5 133v3M521 125.5h3M522.5 124v3M522 159.5h3M523.5 158v3M522 136.5h3M523.5 135v3M522 131.5h3M523.5 130v3M523 155.5h3M524.5 154v3M523 131.5h3M524.5 130v3M523 127.5h3M524.5 126v3M523 131.5h3M524.5 130v3M523 119.5h3M524.5 118v3M523 119.5h3M524.5 118v3M523 123.5h3M524.5 122v3M523 148.5h3M524.5 147v3M524 142.5h3M525.5 141v3M524 129.5h3M525.5 128v3M524 132.5h3M525.5 131v3M524 132.5h3M525.5 131v3M524 144.5h3M525.5 143v3M524 142.5h3M525.5 141v3M524 142.5h3M525.5 141v3M525 121.5h3M526.5 120v3M525 123.5h3M526.5 122v3M525 131.5h3M526.5 130v3M525 144.5h3M526.5 143v3M525 157.5h3M526.5 156v3M525 153.5h3M526.5 152v3M526 149.5h3M527.5 148v3M526 132.5h3M527.5 131v3M526 151.5h3M527.5 150v3M526 117.5h3M527.5 116v3M526 134.5h3M527.5 133v3M527 123.5h3M528.5 122v3M527 115.5h3M528.5 114v3M527 132.5h3M528.5 131v3M527 151.5h3M528.5 150v3M527 148.5h3M528.5 147v3M527 134.5h3M528.5 133v3M527 153.5h3M528.5 152v3M528 144.5h3M529.5 143v3M528 161.5h3M529.5 160v3M529 159.5h3M530.5 158v3M529 136.5h3M530.5 135v3M529 134.5h3M530.5 133v3M530 119.5h3M531.5 118v3M530 157.5h3M531.5 156v3M530 121.5h3M531.5 120v3M530 151.5h3M531.5 150v3M530 140.5h3M531.5 139v3M531 149.5h3M532.5 148v3M531 146.5h3M532.5 145v3M531 136.5h3M532.5 135v3M531 148.5h3M532.5 147v3M532 140.5h3M533.5 139v3M532 153.5h3M533.5 152v3M532 166.5h3M533.5 165v3M532 125.5h3M533.5 124v3M532 161.5h3M533.5 160v3M532 157.5h3M533.5 156v3M533 159.5h3M534.5 158v3M533 153.5h3M534.5 152v3M533 151.5h3M534.5 150v3M533 149.5h3M534.5 148v3M534 164.5h3M535.5 163v3M534 146.5h3M535.5 145v3M534 168.5h3M535.5 167v3M535 161.5h3M536.5 160v3M535 146.5h3M536.5 145v3M536 144.5h3M537.5 143v3M536 159.5h3M537.5 158v3M536 144.5h3M537.5 143v3M537 151.5h3M538.5 150v3M537 170.5h3M538.5 169v3M537 144.5h3M538.5 143v3M538 159.5h3M539.5 158v3M538 153.5h3M539.5 152v3M538 151.5h3M539.5 150v3M539 153.5h3M540.5 152v3M540 142.5h3M541.5 141v3M540 164.5h3M541.5 163v3M540 157.5h3M541.5 156v3M540 136.5h3M541.5 135v3M540 157.5h3M541.5 156v3M540 131.5h3M541.5 130v3M540 146.5h3M541.5 145v3M541 134.5h3M542.5 133v3M541 155.5h3M542.5 154v3M541 148.5h3M542.5 147v3M541 131.5h3M542.5 130v3M541 170.5h3M542.5 169v3M541 149.5h3M542.5 148v3M542 163.5h3M543.5 162v3M542 157.5h3M543.5 156v3M542 163.5h3M543.5 162v3M543 149.5h3M544.5 148v3M543 153.5h3M544.5 152v3M543 149.5h3M544.5 148v3M543 153.5h3M544.5 152v3M544 134.5h3M545.5 133v3M544 159.5h3M545.5 158v3M545 151.5h3M546.5 150v3M545 157.5h3M546.5 156v3M545 155.5h3M546.5 154v3M546 157.5h3M547.5 156v3M547 159.5h3M548.5 158v3M547 153.5h3M548.5 152v3M547 166.5h3M548.5 165v3M547 159.5h3M548.5 158v3M548 153.5h3M549.5 152v3M548 149.5h3M549.5 148v3M548 153.5h3M549.5 152v3M548 168.5h3M549.5 167v3M549 155.5h3M550.5 154v3M549 172.5h3M550.5 171v3M549 155.5h3M550.5 154v3M549 174.5h3M550.5 173v3M549 163.5h3M550.5 162v3M549 159.5h3M550.5 158v3M549 155.5h3M550.5 154v3M550 151.5h3M551.5 150v3M550 151.5h3M551.5 150v3M550 144.5h3M551.5 143v3M551 166.5h3M552.5 165v3M551 149.5h3M552.5 148v3M551 161.5h3M552.5 160v3M551 146.5h3M552.5 145v3M552 157.5h3M553.5 156v3M552 142.5h3M553.5 141v3M552 134.5h3M553.5 133v3M552 153.5h3M553.5 152v3M552 153.5h3M553.5 152v3M553 157.5h3M554.5 156v3M554 155.5h3M555.5 154v3M554 151.5h3M555.5 150v3M554 161.5h3M555.5 160v3M554 138.5h3M555.5 137v3M554 170.5h3M555.5 169v3M555 157.5h3M556.5 156v3M555 164.5h3M556.5 163v3M555 149.5h3M556.5 148v3M556 166.5h3M557.5 165v3M556 163.5h3M557.5 162v3M556 163.5h3M557.5 162v3M556 153.5h3M557.5 152v3M556 144.5h3M557.5 143v3M557 172.5h3M558.5 171v3M557 148.5h3M558.5 147v3M558 153.5h3M559.5 152v3M558 151.5h3M559.5 150v3M560 172.5h3M561.5 171v3M561 161.5h3M562.5 160v3M561 153.5h3M562.5 152v3M561 170.5h3M562.5 169v3M561 174.5h3M562.5 173v3M561 144.5h3M562.5 143v3M562 144.5h3M563.5 143v3M562 149.5h3M563.5 148v3M562 153.5h3M563.5 152v3M562 164.5h3M563.5 163v3M562 172.5h3M563.5 171v3M563 161.5h3M564.5 160v3M563 149.5h3M564.5 148v3M563 123.5h3M564.5 122v3M563 149.5h3M564.5 148v3M563 140.5h3M564.5 139v3M563 149.5h3M564.5 148v3M564 157.5h3M565.5 156v3M564 123.5h3M565.5 122v3M565 153.5h3M566.5 152v3M566 146.5h3M567.5 145v3M566 138.5h3M567.5 137v3M566 121.5h3M567.5 120v3M566 164.5h3M567.5 163v3M566 151.5h3M567.5 150v3M566 144.5h3M567.5 143v3M566 123.5h3M567.5 122v3M566 155.5h3M567.5 154v3M567 168.5h3M568.5 167v3M568 164.5h3M569.5 163v3M568 132.5h3M569.5 131v3M569 161.5h3M570.5 160v3M569 123.5h3M570.5 122v3M569 148.5h3M570.5 147v3M569 168.5h3M570.5 167v3M569 127.5h3M570.5 126v3M570 149.5h3M571.5 148v3M570 127.5h3M571.5 126v3M570 115.5h3M571.5 114v3M571 149.5h3M572.5 148v3M571 134.5h3M572.5 133v3M571 132.5h3M572.5 131v3M571 149.5h3M572.5 148v3M571 136.5h3M572.5 135v3M572 131.5h3M573.5 130v3M572 127.5h3M573.5 126v3M572 134.5h3M573.5 133v3M573 117.5h3M574.5 116v3M573 108.5h3M574.5 107v3M573 138.5h3M574.5 137v3M574 142.5h3M575.5 141v3M574 144.5h3M575.5 143v3M574 114.5h3M575.5 113v3M574 149.5h3M575.5 148v3M574 138.5h3M575.5 137v3M574 146.5h3M575.5 145v3M575 149.5h3M576.5 148v3M575 142.5h3M576.5 141v3M575 153.5h3M576.5 152v3M576 134.5h3M577.5 133v3M576 146.5h3M577.5 145v3M576 132.5h3M577.5 131v3M577 131.5h3M578.5 130v3M577 146.5h3M578.5 145v3M577 123.5h3M578.5 122v3M577 153.5h3M578.5 152v3M577 155.5h3M578.5 154v3M578 127.5h3M579.5 126v3M578 132.5h3M579.5 131v3M578 119.5h3M579.5 118v3M579 129.5h3M580.5 128v3M579 151.5h3M580.5 150v3M579 121.5h3M580.5 120v3M579 125.5h3M580.5 124v3M579 146.5h3M580.5 145v3M579 136.5h3M580.5 135v3M579 151.5h3M580.5 150v3M579 108.5h3M580.5 107v3M580 131.5h3M581.5 130v3M580 134.5h3M581.5 133v3M580 123.5h3M581.5 122v3M580 112.5h3M581.5 111v3M580 132.5h3M581.5 131v3M580 125.5h3M581.5 124v3M581 136.5h3M582.5 135v3M581 136.5h3M582.5 135v3M582 131.5h3M583.5 130v3M582 112.5h3M583.5 111v3M583 140.5h3M584.5 139v3M583 153.5h3M584.5 152v3M583 127.5h3M584.5 126v3M583 132.5h3M584.5 131v3M583 112.5h3M584.5 111v3M583 127.5h3M584.5 126v3M583 142.5h3M584.5 141v3M583 144.5h3M584.5 143v3M583 125.5h3M584.5 124v3M583 110.5h3M584.5 109v3M583 148.5h3M584.5 147v3M584 146.5h3M585.5 145v3M584 121.5h3M585.5 120v3M584 134.5h3M585.5 133v3M584 155.5h3M585.5 154v3M584 138.5h3M585.5 137v3M584 151.5h3M585.5 150v3M585 123.5h3M586.5 122v3M585 149.5h3M586.5 148v3M585 138.5h3M586.5 137v3M586 163.5h3M587.5 162v3M586 136.5h3M587.5 135v3M586 140.5h3M587.5 139v3M586 134.5h3M587.5 133v3M586 140.5h3M587.5 139v3M586 132.5h3M587.5 131v3M586 149.5h3M587.5 148v3M586 119.5h3M587.5 118v3M586 110.5h3M587.5 109v3M587 132.5h3M588.5 131v3M587 132.5h3M588.5 131v3M587 155.5h3M588.5 154v3M587 157.5h3M588.5 156v3M587 138.5h3M588.5 137v3M588 142.5h3M589.5 141v3M588 140.5h3M589.5 139v3M588 129.5h3M589.5 128v3M588 117.5h3M589.5 116v3M589 157.5h3M590.5 156v3M589 149.5h3M590.5 148v3M589 142.5h3M590.5 141v3M589 164.5h3M590.5 163v3M589 161.5h3M590.5 160v3M590 140.5h3M591.5 139v3M590 142.5h3M591.5 141v3M590 117.5h3M591.5 116v3M591 144.5h3M592.5 143v3M591 132.5h3M592.5 131v3M591 138.5h3M592.5 137v3M591 140.5h3M592.5 139v3M591 129.5h3M592.5 128v3M591 121.5h3M592.5 120v3M591 129.5h3M592.5 128v3M591 161.5h3M592.5 160v3M591 153.5h3M592.5 152v3M592 155.5h3M593.5 154v3M592 119.5h3M593.5 118v3M592 149.5h3M593.5 148v3M592 132.5h3M593.5 131v3M592 151.5h3M593.5 150v3M592 134.5h3M593.5 133v3M592 146.5h3M593.5 145v3M593 136.5h3M594.5 135v3M593 151.5h3M594.5 150v3M593 136.5h3M594.5 135v3M593 163.5h3M594.5 162v3M593 123.5h3M594.5 122v3M593 157.5h3M594.5 156v3M593 136.5h3M594.5 135v3M594 144.5h3M595.5 143v3M594 132.5h3M595.5 131v3M594 136.5h3M595.5 135v3M594 144.5h3M595.5 143v3M594 142.5h3M595.5 141v3M594 163.5h3M595.5 162v3M594 142.5h3M595.5 141v3M594 163.5h3M595.5 162v3M595 142.5h3M596.5 141v3M595 125.5h3M596.5 124v3M596 140.5h3M597.5 139v3M596 163.5h3M597.5 162v3M596 129.5h3M597.5 128v3M596 146.5h3M597.5 145v3M597 155.5h3M598.5 154v3M597 159.5h3M598.5 158v3M597 138.5h3M598.5 137v3M597 170.5h3M598.5 169v3M597 164.5h3M598.5 163v3M597 172.5h3M598.5 171v3M598 119.5h3M599.5 118v3M598 134.5h3M599.5 133v3M598 144.5h3M599.5 143v3M598 170.5h3M599.5 169v3M599 149.5h3M600.5 148v3M599 164.5h3M600.5 163v3M599 159.5h3M600.5 158v3M599 161.5h3M600.5 160v3M599 129.5h3M600.5 128v3M600 146.5h3M601.5 145v3M600 146.5h3M601.5 145v3M600 125.5h3M601.5 124v3M600 140.5h3M601.5 139v3M600 131.5h3M601.5 130v3M600 142.5h3M601.5 141v3M600 166.5h3M601.5 165v3M600 136.5h3M601.5 135v3M600 138.5h3M601.5 137v3M600 136.5h3M601.5 135v3M600 146.5h3M601.5 145v3M601 146.5h3M602.5 145v3M601 148.5h3M602.5 147v3M602 170.5h3M603.5 169v3M603 172.5h3M604.5 171v3M603 153.5h3M604.5 152v3M603 138.5h3M604.5 137v3M603 155.5h3M604.5 154v3M604 140.5h3M605.5 139v3M604 123.5h3M605.5 122v3M604 136.5h3M605.5 135v3M605 125.5h3M606.5 124v3M605 163.5h3M606.5 162v3M605 146.5h3M606.5 145v3M605 159.5h3M606.5 158v3M605 157.5h3M606.5 156v3M606 166.5h3M607.5 165v3M606 144.5h3M607.5 143v3M606 161.5h3M607.5 160v3M606 164.5h3M607.5 163v3M606 168.5h3M607.5 167v3M606 123.5h3M607.5 122v3M607 129.5h3M608.5 128v3M607 121.5h3M608.5 120v3M607 136.5h3M608.5 135v3M607 151.5h3M608.5 150v3M607 157.5h3M608.5 156v3M607 146.5h3M608.5 145v3M607 148.5h3M608.5 147v3M607 161.5h3M608.5 160v3M607 153.5h3M608.5 152v3M607 125.5h3M608.5 124v3M608 159.5h3M609.5 158v3M608 131.5h3M609.5 130v3M608 151.5h3M609.5 150v3M609 151.5h3M610.5 150v3M609 138.5h3M610.5 137v3M609 170.5h3M610.5 169v3M610 146.5h3M611.5 145v3M610 170.5h3M611.5 169v3M610 138.5h3M611.5 137v3M611 153.5h3M612.5 152v3M611 163.5h3M612.5 162v3M611 138.5h3M612.5 137v3M611 138.5h3M612.5 137v3M612 144.5h3M613.5 143v3M612 159.5h3M613.5 158v3M612 153.5h3M613.5 152v3M613 155.5h3M614.5 154v3M613 142.5h3M614.5 141v3M613 151.5h3M614.5 150v3M613 151.5h3M614.5 150v3M614 140.5h3M615.5 139v3M614 144.5h3M615.5 143v3M614 142.5h3M615.5 141v3M614 159.5h3M615.5 158v3M614 146.5h3M615.5 145v3M615 148.5h3M616.5 147v3M615 148.5h3M616.5 147v3M615 149.5h3M616.5 148v3M616 148.5h3M617.5 147v3M616 151.5h3M617.5 150v3M616 159.5h3M617.5 158v3M617 153.5h3M618.5 152v3M617 159.5h3M618.5 158v3M617 157.5h3M618.5 156v3M617 153.5h3M618.5 152v3M617 157.5h3M618.5 156v3M617 155.5h3M618.5 154v3M618 136.5h3M619.5 135v3M618 164.5h3M619.5 163v3M619 149.5h3M620.5 148v3M619 149.5h3M620.5 148v3M619 134.5h3M620.5 133v3M619 151.5h3M620.5 150v3M620 164.5h3M621.5 163v3M620 131.5h3M621.5 130v3M620 142.5h3M621.5 141v3M620 153.5h3M621.5 152v3M620 155.5h3M621.5 154v3M620 131.5h3M621.5 130v3M621 123.5h3M622.5 122v3M621 151.5h3M622.5 150v3M621 148.5h3M622.5 147v3M621 153.5h3M622.5 152v3M621 136.5h3M622.5 135v3M621 146.5h3M622.5 145v3M621 168.5h3M622.5 167v3M621 131.5h3M622.5 130v3M622 121.5h3M623.5 120v3M623 151.5h3M624.5 150v3M623 168.5h3M624.5 167v3M623 149.5h3M624.5 148v3M623 166.5h3M624.5 165v3M623 132.5h3M624.5 131v3M623 161.5h3M624.5 160v3M623 163.5h3M624.5 162v3M624 131.5h3M625.5 130v3M624 146.5h3M625.5 145v3M624 148.5h3M625.5 147v3M624 166.5h3M625.5 165v3M624 155.5h3M625.5 154v3M624 168.5h3M625.5 167v3M625 157.5h3M626.5 156v3M625 155.5h3M626.5 154v3M625 142.5h3M626.5 141v3M86 83.5h3M87.5 82v3M86 87.5h3M87.5 86v3M84 100.5h3M85.5 99v3M87 106.5h3M88.5 105v3M87 125.5h3M88.5 124v3M96 95.5h3M97.5 94v3M96 104.5h3M97.5 103v3M96 119.5h3M97.5 118v3M126 100.5h3M127.5 99v3M124 106.5h3M125.5 105v3M125 114.5h3M126.5 113v3M266 95.5h3M267.5 94v3M265 102.5h3M266.5 101v3M268 104.5h3M269.5 103v3M316 100.5h3M317.5 99v3M317 100.5h3M318.5 99v3M318 104.5h3M319.5 103v3M326 51.5h3M327.5 50v3M324 59.5h3M325.5 58v3M329 61.5h3M330.5 60v3M324 72.5h3M325.5 71v3M325 83.5h3M326.5 82v3M326 91.5h3M327.5 90v3M329 104.5h3M330.5 103v3M336 93.5h3M337.5 92v3M334 93.5h3M335.5 92v3M336 100.5h3M337.5 99v3M376 89.5h3M377.5 88v3M378 97.5h3M379.5 96v3M375 115.5h3M376.5 114v3M386 76.5h3M387.5 75v3M387 83.5h3M388.5 82v3M384 93.5h3M385.5 92v3M387 102.5h3M388.5 101v3M406 100.5h3M407.5 99v3M407 104.5h3M408.5 103v3M407 104.5h3M408.5 103v3M426 99.5h3M427.5 98v3M425 99.5h3M426.5 98v3M424 106.5h3M425.5 105v3M436 85.5h3M437.5 84v3M437 93.5h3M438.5 92v3M433 106.5h3M434.5 105v3M446 91.5h3M447.5 90v3M448 95.5h3M449.5 94v3M447 104.5h3M448.5 103v3M496 97.5h3M497.5 96v3M494 104.5h3M495.5 103v3M494 110.5h3M495.5 109v3M566 106.5h3M567.5 105v3M565 106.5h3M566.5 105v3M566 108.5h3M567.5 107v3M576 95.5h3M577.5 94v3M576 97.5h3M577.5 96v3M576 102.5h3M577.5 101v3M606 87.5h3M607.5 86v3M608 99.5h3M609.5 98v3M609 114.5h3M610.5 113v3" stroke="#1f77b4" stroke-width="0.85" fill="none"/><path d="M86.7 779.1V734.0M88.9 779.1V755.5M88.5 779.1V747.1M88.3 779.1V751.9M99.0 791.4V742.0M100.8 791.4V760.8M100.4 791.4V757.9M98.1 791.4V753.1M112.5 772.2V737.0M113.5 772.2V756.9M112.3 772.2V757.9M111.7 772.2V752.9M130.0 795.5V755.0M129.5 795.5V772.3M130.0 795.5V777.2M129.3 795.5V773.0M151.0 780.9V750.0M151.4 780.9V758.6M150.3 780.9V761.6M152.7 780.9V760.3M172.0 793.5V736.0M172.6 793.5V761.2M172.7 793.5V761.5M173.9 793.5V749.7M184.0 782.6V747.0M184.4 782.6V763.0M184.3 782.6V764.2M183.0 782.6V764.0M197.5 779.8V746.0M201.1 779.8V754.0M196.7 779.8V761.0M198.6 779.8V766.0M205.0 768.2V756.0M204.1 768.2V760.7M204.8 768.2V761.3M205.8 768.2V763.0M239.0 799.3V738.0M238.5 799.3V772.9M238.5 799.3V773.4M239.6 799.3V760.3M271.0 797.6V746.0M271.1 797.6V766.3M271.8 797.6V763.0M269.6 797.6V760.8M298.0 795.9V747.0M297.0 795.9V762.0M298.9 795.9V773.7M299.4 795.9V760.6M325.7 773.7V722.0M325.6 773.7V740.6M325.7 773.7V745.0M326.2 773.7V746.0M334.5 788.2V740.0M335.2 788.2V759.0M334.7 788.2V754.7M335.7 788.2V750.0M376.0 794.3V742.0M372.5 794.3V753.8M374.8 794.3V758.3M375.8 794.3V771.2M386.6 791.4V731.0M386.4 791.4V761.2M386.2 791.4V760.1M388.5 791.4V743.4M400.0 788.9V740.0M400.2 788.9V766.2M397.8 788.9V768.4M400.4 788.9V762.2M421.0 792.3V732.0M422.4 792.3V764.2M418.8 792.3V752.7M422.4 792.3V756.9M430.0 790.6V735.0M432.5 790.6V760.6M430.9 790.6V750.5M430.7 790.6V756.6M441.0 785.4V745.0M439.6 785.4V758.3M440.6 785.4V756.2M441.3 785.4V761.3M495.0 792.3V742.0M494.2 792.3V768.1M494.0 792.3V771.0M495.7 792.3V765.1M514.0 792.4V744.0M514.8 792.4V765.5M516.5 792.4V755.5M514.6 792.4V761.7M519.8 784.5V725.0M520.4 784.5V739.5M520.1 784.5V737.6M518.5 784.5V754.4M571.0 787.5V731.0M570.5 787.5V752.9M570.9 787.5V761.6M571.2 787.5V760.9M579.0 794.2V736.0M579.1 794.2V754.7M582.0 794.2V764.2M577.5 794.2V753.1M607.0 797.3V740.0M607.0 797.3V768.7M607.6 797.3V773.4M606.4 797.3V761.9M612.0 801.3V741.0M612.8 801.3V774.5M611.3 801.3V753.4M610.7 801.3V768.7" stroke="#1f77b4" stroke-width="0.5" stroke-opacity="0.8" fill="none"/><path d="M0 801.5l.1 9.8l.1-7.4l.1 8.4l.1-12.5l.1-29.8l.1 25.3l.1.7l.1 13.2l.1 17.3l.1-37.5l.1 6.0l.1 7.2l.1-24.1l.1 45.7l.1-31.1l.1 9.7l.1-3.9l.1-29.7l.1 17.6l.1-4.7l.1-6.2l.1 8.2l.1 19.7l.1-20.6l.1 9.1l.1 19.8l.1-19.5l.1 3.0l.1-4.0l.1-10.0l.1 24.1l.1-23.1l.1-7.0l.1-6.3l.1 18.0l.1 10.9l.1-13.9l.1 2.2l.1 6.4l.1-5.5l.1-19.1l.1 16.3l.1 3.0l.1 18.3l.1 10.5l.1-48.9l.1 21.1l.1 6.2l.1-2.9l.1-.1l.1-23.0l.1 24.3l.1-2.3l.1 9.4l.1-6.4l.1 2.3l.1-18.6l.1 10.5l.1-7.5l.1 3.0l.1-8.9l.1 11.6l.1 11.3l.1-11.6l.1 7.2l.1-9.4l.1-13.1l.1 20.6l.1 8.4l.1-16.3l.1 9.3l.1-18.9l.1 19.2l.1-7.5l.1 4.6l.1 19.1l.1-18.4l.1 5.8l.1-11.1l.1 2.3l.1 6.0l.1-12.5l.1 3.6l.1 2.7l.1 6.1l.1-14.2l.1 12.5l.1-19.9l.1 33.5l.1-28.4l.1 25.4l.1 12.8l.1-64.8l.1 44.4l.1-17.7l.1 14.4l.1-9.1l.1 2.0l.1 5.2l.1 1.4l.1-1.2l.1-11.8l.1 7.0l.1-4.9l.1-3.1l.1 2.8l.1-18.0l.1 39.6l.1-5.9l.1-44.9l.1 53.2l.1-4.2l.1 5.7l.1-2.2l.1-13.8l.1-17.8l.1.4l.1 23.4l.1-22.4l.1 13.0l.1 12.3l.1-7.4l.1 6.4l.1-15.6l.1 12.2l.1-15.0l.1 14.7l.1-4.4l.1-.7l.1 6.8l.1-24.2l.1 16.4l.1-15.1l.1 16.5l.1 1.1l.1-3.6l.1-6.9l.1 9.5l.1 15.4l.1-10.0l.1-9.3l.1-29.9l.1 31.7l.1-.2l.1 3.3l.1 2.7l.1 9.0l.1-5.4l.1-5.2l.1-3.4l.1-4.8l.1-5.0l.1 39.1l.1-21.7l.1-15.0l.1 38.3l.1-33.4l.1 12.2l.1-11.2l.1.1l.1 5.0l.1 10.7l.1-11.9l.1 17.7l.1-7.0l.1-20.2l.1-12.8l.1 29.8l.1-1.0l.1 11.7l.1-28.5l.1 1.8l.1 24.9l.1-19.0l.1 11.1l.1-17.8l.1 4.7l.1 11.1l.1 4.8l.1-5.1l.1-19.4l.1 10.6l.1-16.1l.1 30.7l.1-7.0l.1-25.5l.1 15.5l.1 1.7l.1-11.7l.1 20.8l.1-6.6l.1-14.3l.1 3.2l.1 17.9l.1-11.6l.1 21.4l.1 5.4l.1-25.6l.1-12.9l.1 14.1l.1-1.6l.1-14.8l.1 3.5l.1 16.3l.1-.3l.1-6.6l.1 11.7l.1-5.4l.1-10.5l.1 18.0l.1-8.7l.1-17.6l.1 26.1l.1-13.4l.1-1.8l.1-8.2l.1 20.6l.1-9.5l.1-2.9l.1 11.9l.1-4.6l.1-7.7l.1-11.0l.1-25.1l.1 42.0l.1 19.3l.1 3.0l.1-25.2l.1-.6l.1.1l.1-1.9l.1-6.0l.1 2.1l.1-2.3l.1 11.2l.1 5.8l.1-23.7l.1 24.7l.1-1.1l.1-5.7l.1-.2l.1.4l.1 14.1l.1 2.0l.1 9.4l.1-23.4l.1-14.6l.1 35.3l.1-29.1l.1 13.3l.1-2.4l.1 2.5l.1-15.2l.1 4.0l.1 22.1l.1-21.4l.1 12.9l.1-.3l.1 10.8l.1-15.8l.1 9.9l.1-18.8l.1 9.8l.1 24.5l.1-14.1l.1-20.4l.1 25.7l.1-19.9l.1 11.3l.1-4.0l.1-8.0l.1 26.8l.1 9.5l.1-10.0l.1-12.6l.1-3.1l.1 1.1l.1-2.2l.1-2.1l.1 11.2l.1-2.6l.1-6.8l.1-.1l.1-9.1l.1.6l.1 21.2l.1-7.3l.1 2.8l.1-30.1l.1 52.4l.1-29.6l.1 16.9l.1-13.5l.1 17.5l.1-23.2l.1 13.9l.1-9.2l.1-9.1l.1-11.2l.1 24.5l.1 7.8l.1-1.5l.1-14.7l.1 4.0l.1-11.3l.1 13.4l.1-1.1l.1.1l.1 13.4l.1-15.4l.1-18.6l.1 38.1l.1-15.4l.1-13.1l.1 10.9l.1-21.2l.1 4.3l.1 27.3l.1 9.8l.1-5.9l.1-25.1l.1 9.5l.1 29.6l.1-14.7l.1-10.7l.1 25.4l.1-25.7l.1-2.8l.1-6.3l.1 4.9l.1 15.1l.1-11.2l.1-17.4l.1 19.6l.1-13.3l.1 22.7l.1-9.7l.1-9.9l.1 9.5l.1-9.4l.1 11.3l.1 1.8l.1-10.1l.1 5.4l.1 2.9l.1-10.4l.1-.5l.1-4.9l.1 31.4l.1-58.3l.1 33.1l.1-3.5l.1-2.7l.1 27.0l.1-24.7l.1 10.7l.1 2.0l.1-27.0l.1 29.6l.1-12.7l.1-24.0l.1 55.5l.1-61.5l.1 42.3l.1-9.3l.1 1.8l.1.5l.1 5.2l.1-5.5l.1 16.5l.1-31.4l.1 23.0l.1-8.8l.1-15.0l.1 29.6l.1-6.0l.1-32.0l.1 21.1l.1-5.6l.1 8.2l.1-13.2l.1 3.9l.1 5.7l.1 8.3l.1-27.2l.1 8.5l.1 16.1l.1-19.2l.1-10.2l.1 28.1l.1-9.7l.1-10.1l.1 19.2l.1-27.6l.1 9.2l.1 15.4l.1-14.4l.1 9.2l.1-4.4l.1-4.0l.1 10.5l.1-20.1l.1 11.7l.1-3.6l.1-2.5l.1 30.1l.1-21.1l.1-2.2l.1-1.4l.1 13.6l.1.1l.1 3.1l.1 4.7l.1-11.7l.1-8.8l.1 8.8l.1-5.3l.1-11.7l.1 23.6l.1-11.4l.1-40.4l.1 46.5l.1-3.8l.1 1.1l.1-16.6l.1 15.8l.1-13.3l.1 16.3l.1-15.1l.1 20.6l.1-4.2l.1-14.2l.1-.6l.1-2.6l.1 6.1l.1.6l.1-8.4l.1 29.6l.1-18.7l.1-7.7l.1 14.4l.1-5.5l.1-4.2l.1 16.0l.1-27.5l.1-10.7l.1 28.3l.1-13.8l.1 2.7l.1-22.2l.1 28.9l.1-9.1l.1-15.7l.1.2l.1 24.5l.1-4.7l.1 25.8l.1-44.3l.1 13.7l.1 10.7l.1-2.6l.1-8.1l.1-3.2l.1 1.2l.1 11.2l.1 2.9l.1-23.5l.1 28.5l.1-2.1l.1-13.9l.1-4.7l.1.5l.1 22.7l.1-51.3l.1 40.1l.1-39.6l.1 19.3l.1 20.5l.1 2.2l.1 23.9l.1-48.5l.1 31.2l.1-30.2l.1 15.9l.1 22.7l.1-51.5l.1 43.2l.1-13.3l.1-8.3l.1 19.8l.1-6.5l.1-5.5l.1 10.8l.1-4.9l.1 15.5l.1-17.5l.1 1.6l.1-5.1l.1 12.1l.1 10.4l.1-15.7l.1-4.4l.1 13.1l.1 20.3l.1-56.0l.1 28.0l.1 19.6l.1-13.5l.1-2.8l.1 6.8l.1-10.3l.1 21.8l.1-33.4l.1 13.3l.1 1.7l.1 6.1l.1-2.3l.1 7.1l.1-31.8l.1 18.7l.1 1.1l.1-3.5l.1 1.6l.1 19.2l.1 9.1l.1-17.5l.1-18.3l.1 3.4l.1 10.3l.1-6.1l.1 33.0l.1-21.7l.1-13.5l.1 1.6l.1 18.8l.1-17.5l.1 8.5l.1 3.4l.1-32.2l.1 30.8l.1-44.4l.1 50.0l.1-21.2l.1 13.6l.1-4.2l.1-6.9l.1 7.4l.1-1.8l.1.8l.1-17.1l.1.2l.1 21.8l.1-9.6l.1-1.4l.1 23.7l.1-34.2l.1 15.1l.1 25.6l.1-32.9l.1-.9l.1 1.4l.1 1.9l.1-20.9l.1 16.5l.1-.6l.1 11.3l.1-10.8l.1-2.4l.1 9.9l.1-3.0l.1-1.9l.1-37.2l.1 35.6l.1.2l.1-11.3l.1 14.9l.1 8.5l.1-9.1l.1 8.6l.1-11.6l.1 9.3l.1-13.7l.1 10.2l.1-10.7l.1 24.5l.1-26.1l.1 11.1l.1-3.9l.1 7.2l.1-7.5l.1-3.0l.1-7.1l.1 12.9l.1-6.8l.1 5.3l.1 8.1l.1-5.6l.1-14.4l.1-7.1l.1 9.2l.1 16.5l.1-17.7l.1-15.0l.1 39.8l.1-57.8l.1 35.1l.1 5.7l.1 22.7l.1-31.7l.1 31.0l.1-31.2l.1 4.3l.1-14.2l.1 39.7l.1-33.3l.1.1l.1 1.2l.1 12.4l.1-31.7l.1 9.2l.1 15.2l.1-4.5l.1 4.5l.1-7.9l.1 8.4l.1 14.0l.1-19.5l.1-10.2l.1-16.0l.1 19.5l.1 17.6l.1 1.1l.1-4.2l.1-6.0l.1-9.7l.1 36.6l.1-16.0l.1 10.8l.1-23.7l.1.2l.1-2.5l.1-.5l.1-10.8l.1 11.2l.1-1.3l.1 6.3l.1.6l.1-21.6l.1 35.4l.1-27.2l.1-15.1l.1 27.8l.1 4.5l.1-10.4l.1 1.9l.1 10.2l.1-11.8l.1 9.0l.1-.7l.1-14.2l.1-2.5l.1-.1l.1 30.7l.1-34.1l.1.9l.1 10.1l.1-10.5l.1 16.1l.1-34.2l.1 37.2l.1 9.7l.1-21.5l.1 1.8l.1 4.8l.1-.8l.1-13.8l.1 8.8l.1-1.4l.1 3.9l.1 29.5l.1-28.6l.1 17.0l.1-13.1l.1 14.8l.1 3.4l.1-16.9l.1 7.1l.1 5.3l.1-2.9l.1 4.3l.1-5.4l.1-.9l.1-18.3l.1 15.7l.1 17.0l.1-4.3l.1-21.7l.1 3.3l.1 27.8l.1-22.0l.1-4.7l.1 26.8l.1-13.4l.1-1.8l.1 5.1l.1.7l.1-2.2l.1 4.7l.1-5.1l.1 2.5l.1 9.0l.1.4l.1-11.9l.1 3.9l.1 10.7l.1-14.3l.1 5.2l.1 19.3l.1-18.1l.1-2.5l.1-17.5l.1 17.2l.1-8.1l.1 5.8l.1 12.2l.1 18.2l.1-35.2l.1 9.4l.1-3.6l.1 22.5l.1-11.4l.1-3.3l.1-5.5l.1 16.2l.1-12.2l.1-16.4l.1.8l.1 5.8l.1 8.3l.1 14.3l.1-10.5l.1 2.5l.1 13.6l.1-4.0l.1-15.3l.1-5.0l.1 10.3l.1.8l.1 3.3l.1-3.2l.1 4.7l.1-5.6l.1 5.9l.1-.7l.1-6.0l.1 4.5l.1 7.3l.1-7.6l.1 4.7l.1-5.5l.1-3.8l.1 33.6l.1-23.7l.1-1.2l.1 5.6l.1-17.7l.1 11.5l.1 27.2l.1-21.0l.1-5.4l.1 7.9l.1-2.6l.1 19.9l.1-16.6l.1-8.6l.1 17.2l.1-20.8l.1 23.4l.1-31.7l.1 9.2l.1 3.5l.1 27.9l.1-24.0l.1 23.7l.1-40.5l.1 7.1l.1 6.2l.1-27.7l.1 54.2l.1-28.7l.1-11.7l.1 10.8l.1 17.7l.1-19.6l.1 8.6l.1-6.6l.1 10.5l.1-22.4l.1 12.1l.1-14.0l.1 14.5l.1-.5l.1-12.7l.1 41.0l.1-26.2l.1-5.3l.1-1.1l.1-7.3l.1-4.5l.1 19.6l.1 9.2l.1-19.6l.1-12.1l.1 18.1l.1-8.2l.1 9.8l.1-7.9l.1 12.0l.1-16.7l.1-25.1l.1 33.1l.1-2.5l.1 14.6l.1-7.6l.1 8.8l.1-14.8l.1-1.9l.1-5.1l.1 11.2l.1-12.3l.1-14.6l.1 17.2l.1-4.8l.1-2.5l.1 31.3l.1-27.9l.1-29.9l.1 33.2l.1-6.4l.1-11.7l.1 41.7l.1-24.1l.1-17.7l.1 32.4l.1-2.7l.1-18.2l.1 10.4l.1-15.6l.1 12.0l.1-10.6l.1 12.1l.1-32.1l.1 16.6l.1-.9l.1 20.2l.1-16.0l.1 6.7l.1 11.0l.1-13.1l.1 1.3l.1 1.1l.1 1.7l.1-.3l.1 10.2l.1-6.7l.1-11.2l.1 19.0l.1-17.3l.1 1.5l.1 4.7l.1-7.9l.1 27.7l.1-39.9l.1.1l.1 23.1l.1-8.2l.1-1.1l.1 7.2l.1 5.5l.1-2.7l.1-12.8l.1 27.5l.1-15.2l.1-10.6l.1 3.1l.1 11.8l.1 10.9l.1-14.8l.1-4.3l.1.9l.1 1.4l.1 20.7l.1-25.6l.1 7.6l.1 3.7l.1-2.4l.1 1.9l.1-9.8l.1-9.1l.1 1.8l.1 6.1l.1-8.5l.1 8.5l.1 27.1l.1-32.6l.1 6.9l.1 28.2l.1-38.6l.1-26.2l.1 42.1l.1 3.5l.1-3.9l.1-12.4l.1 16.7l.1-7.5l.1-10.0l.1 5.5l.1.2l.1.7l.1 17.2l.1-25.4l.1 16.8l.1 7.7l.1-18.4l.1 13.1l.1-7.9l.1-4.2l.1 13.5l.1 9.9l.1-26.2l.1 11.1l.1-16.9l.1 28.7l.1-13.3l.1 16.1l.1.5l.1-25.0l.1-3.0l.1 8.1l.1 18.1l.1-6.5l.1 19.4l.1-23.1l.1-1.9l.1 13.9l.1-22.6l.1 2.7l.1 3.1l.1 15.3l.1-8.4l.1-8.4l.1 2.0l.1 26.7l.1-58.2l.1 4.0l.1 21.9l.1 1.8l.1 12.6l.1 6.2l.1-18.7l.1-.6l.1-14.9l.1 25.0l.1 2.7l.1-11.1l.1-9.6l.1 13.6l.1-5.6l.1 5.3l.1-7.5l.1-3.0l.1 16.0l.1-11.6l.1 8.2l.1-20.1l.1 18.7l.1-.5l.1-10.8l.1-8.1l.1 31.7l.1-7.4l.1-11.4l.1-.7l.1 11.6l.1 14.2l.1.5l.1-29.8l.1 8.3l.1-2.5l.1-3.7l.1 9.8l.1-7.6l.1 7.4l.1.5l.1 8.9l.1-3.3l.1 17.9l.1-20.6l.1 1.4l.1 2.1l.1-9.6l.1 9.4l.1-9.9l.1 7.7l.1-37.2l.1 34.3l.1 15.1l.1-13.8l.1-4.9l.1-6.7l.1-6.6l.1 10.3l.1 7.7l.1 7.7l.1-12.2l.1-10.1l.1 3.6l.1 30.9l.1-15.9l.1 21.2l.1-20.5l.1-21.8l.1 21.8l.1 20.5l.1-17.1l.1-5.6l.1 26.4l.1-10.7l.1-20.1l.1 12.5l.1-20.6l.1 14.7l.1 1.3l.1-.1l.1-.7l.1 5.5l.1 10.2l.1-25.6l.1 2.1l.1 24.0l.1-8.3l.1-5.9l.1-2.8l.1-5.6l.1 22.3l.1-16.4l.1 6.0l.1-6.3l.1 10.6l.1 8.5l.1-1.5l.1-18.4l.1 9.0l.1 1.3l.1-17.1l.1-10.7l.1 13.3l.1 7.8l.1-4.3l.1-3.8l.1 14.8l.1-35.8l.1 58.4l.1-16.4l.1-.9l.1 6.4l.1 5.2l.1-28.2l.1 13.2l.1-37.4l.1 28.0l.1-1.7l.1 2.7l.1 13.3l.1-16.0l.1-5.6l.1 7.8l.1-14.4l.1 11.5l.1-1.6l.1-7.9l.1 5.4l.1-13.2l.1 17.3l.1 14.8l.1-44.7l.1 21.8l.1 18.1l.1-10.7l.1-19.3l.1 21.9l.1-3.0l.1 12.6l.1-16.8l.1 8.5l.1 2.8l.1-13.5l.1 12.0l.1-5.1l.1 12.5l.1-9.7l.1-19.2l.1 28.6l.1-2.2l.1-1.5l.1-6.6l.1 3.5l.1-25.1l.1 20.9l.1-4.4l.1.7l.1 3.2l.1-5.9l.1 28.3l.1-18.8l.1-17.9l.1-4.3l.1 6.6l.1 17.9l.1-20.4l.1 17.4l.1.5l.1-7.5l.1-15.3l.1 11.7l.1-19.7l.1 26.5l.1-14.7l.1 22.4l.1-25.7l.1 2.5l.1 4.0l.1 12.0l.1-27.7l.1 32.4l.1-6.4l.1-25.2l.1 11.0l.1 10.4l.1-7.5l.1 4.2l.1-.1l.1-1.6l.1 29.2l.1-65.0l.1 36.5l.1-.2l.1 5.3l.1 13.9l.1-20.8l.1 9.9l.1 4.6l.1-11.7l.1-16.9l.1 39.9l.1-6.9l.1-28.1l.1 22.7l.1-23.8l.1 16.5l.1 2.4l.1 1.6l.1-11.8l.1 24.0l.1-14.5l.1-5.5l.1 29.6l.1-27.8l.1 6.5l.1-24.4l.1 2.8l.1 22.8l.1-1.4l.1-17.5l.1 12.1l.1-3.2l.1.1l.1 5.6l.1 1.8l.1-42.0l.1 35.9l.1 18.1l.1 1.2l.1-12.8l.1-3.0l.1-2.1l.1 6.1l.1 3.6l.1-18.3l.1 19.8l.1-5.6l.1-20.4l.1 22.3l.1-6.3l.1-9.4l.1 9.8l.1-3.5l.1-2.1l.1 7.1l.1-1.4l.1-15.9l.1 12.7l.1-10.1l.1 21.5l.1-8.9l.1 2.2l.1-11.3l.1-2.4l.1-9.7l.1-9.4l.1 25.5l.1-9.7l.1 9.4l.1 9.1l.1-2.9l.1-17.5l.1.2l.1 1.5l.1-1.4l.1 2.7l.1 5.6l.1-5.9l.1-9.3l.1 12.8l.1.2l.1 27.5l.1-53.0l.1 14.9l.1-1.4l.1 5.5l.1 11.5l.1 5.1l.1-17.1l.1-25.2l.1 23.0l.1 6.8l.1-5.8l.1-11.9l.1 18.1l.1-7.9l.1 8.1l.1 1.4l.1 2.7l.1-16.9l.1.2l.1-3.2l.1 3.7l.1 15.1l.1-11.9l.1 6.5l.1 1.4l.1 9.6l.1-27.3l.1 22.6l.1 8.0l.1-14.3l.1-22.0l.1 22.3l.1-7.7l.1 29.9l.1-54.0l.1 47.0l.1-24.9l.1-33.5l.1 28.4l.1 19.1l.1-2.5l.1 8.0l.1-35.6l.1 17.1l.1 2.9l.1-3.3l.1 6.3l.1-18.0l.1 5.7l.1 8.8l.1 6.2l.1 6.9l.1 9.6l.1-1.7l.1-28.4l.1 19.0l.1-23.1l.1 36.2l.1-25.4l.1-6.1l.1 14.1l.1-4.5l.1.3l.1 26.9l.1-12.7l.1-5.2l.1-32.9l.1 43.4l.1-9.9l.1 17.4l.1-29.4l.1-2.3l.1-10.7l.1 6.6l.1 34.9l.1-19.2l.1-16.7l.1-27.9l.1 44.4l.1 10.4l.1-24.7l.1 30.2l.1-41.6l.1.5l.1 18.9l.1-19.3l.1 46.2l.1-50.2l.1 25.4l.1-29.7l.1 23.2l.1 4.6l.1 1.9l.1-13.3l.1 6.6l.1 11.0l.1-2.2l.1-2.8l.1-29.0l.1-9.0l.1 45.8l.1 11.8l.1-23.6l.1 17.5l.1 12.9l.1-8.5l.1-20.0l.1-8.1l.1 18.8l.1-8.7l.1-11.4l.1 16.6l.1 3.8l.1-5.0l.1 2.9l.1-6.3l.1-15.2l.1 1.5l.1-.8l.1 12.3l.1.8l.1 28.2l.1-28.1l.1-14.4l.1 18.6l.1 5.8l.1 1.1l.1-10.6l.1-7.2l.1 1.6l.1 8.5l.1-11.1l.1 15.7l.1 12.3l.1-16.2l.1-6.1l.1-4.1l.1 18.6l.1-1.8l.1 2.5l.1-7.2l.1 7.6l.1 11.0l.1-9.8l.1 4.7l.1-14.5l.1-11.4l.1 13.2l.1-5.2l.1-4.0l.1 1.0l.1-.5l.1 7.2l.1-11.4l.1 19.8l.1-5.6l.1-1.7l.1 4.9l.1 10.4l.1-26.6l.1 14.0l.1-17.9l.1 33.3l.1-30.0l.1 10.9l.1-18.0l.1 25.9l.1-21.5l.1 15.9l.1-3.8l.1 12.3l.1 17.4l.1-36.7l.1 4.9l.1 11.4l.1-16.5l.1 12.8l.1-20.7l.1 4.4l.1 16.2l.1-11.6l.1-26.6l.1 40.8l.1-3.9l.1-1.0l.1 14.5l.1-11.4l.1-.8l.1 25.2l.1-38.3l.1 42.5l.1-26.9l.1 5.9l.1 11.9l.1-14.2l.1-16.8l.1-9.1l.1-1.3l.1 23.1l.1 8.4l.1-16.0l.1-2.1l.1 26.0l.1-13.0l.1 2.3l.1-2.4l.1 4.6l.1-2.9l.1 10.4l.1-9.6l.1-16.9l.1 12.9l.1 3.1l.1-2.4l.1 3.5l.1-3.2l.1 23.8l.1-27.9l.1-6.8l.1 28.6l.1-17.3l.1-20.0l.1 9.0l.1 13.8l.1 5.1l.1-46.3l.1 57.5l.1-11.4l.1-18.2l.1-14.0l.1 34.0l.1 14.6l.1-23.3l.1 14.0l.1-11.3l.1-3.6l.1-.7l.1-7.4l.1 11.5l.1-6.8l.1 8.9l.1-6.0l.1 15.4l.1-18.3l.1 31.6l.1-61.6l.1 32.2l.1-8.8l.1 26.8l.1-38.3l.1 21.2l.1 11.2l.1-14.2l.1 9.5l.1.3l.1-8.2l.1 2.1l.1-8.2l.1 12.6l.1 2.7l.1-7.1l.1 8.5l.1-27.9l.1 33.0l.1-.6l.1-21.3l.1.2l.1 23.2l.1-6.2l.1-2.7l.1 4.3l.1-13.5l.1 14.5l.1-26.8l.1 32.5l.1-26.1l.1 27.6l.1-14.9l.1-4.5l.1 6.2l.1 4.4l.1-11.5l.1-3.6l.1 11.0l.1 24.0l.1-26.2l.1.0l.1-8.1l.1 17.2l.1 13.6l.1-28.5l.1-2.0l.1 5.5l.1 4.1l.1-1.3l.1-13.6l.1 26.6l.1-15.6l.1 14.9l.1-9.6l.1 10.3l.1-24.6l.1-27.7l.1 41.5l.1-20.0l.1 39.3l.1-19.4l.1.1l.1-11.2l.1-3.4l.1 12.6l.1-.4l.1 24.9l.1-40.5l.1 7.5l.1 4.3l.1 5.8l.1-3.6l.1-8.5l.1-9.5l.1 19.5l.1-6.0l.1-14.7l.1 19.0l.1-10.3l.1.2l.1 20.7l.1-39.9l.1 42.6l.1-22.3l.1 6.7l.1 13.6l.1-3.9l.1-1.8l.1-15.3l.1 8.2l.1 8.1l.1-13.2l.1 12.6l.1-6.5l.1-5.7l.1-4.5l.1-27.1l.1 41.6l.1-7.4l.1-33.8l.1 32.1l.1 3.0l.1 9.9l.1-.6l.1 10.2l.1-13.4l.1-3.7l.1 4.4l.1 3.3l.1-8.1l.1-3.8l.1 6.8l.1 8.8l.1-3.3l.1-11.9l.1 2.5l.1 28.2l.1-29.6l.1-14.8l.1 15.5l.1 20.1l.1-30.4l.1 38.7l.1-30.8l.1 16.3l.1-6.3l.1 3.1l.1 2.5l.1-30.1l.1 27.9l.1-20.0l.1 5.6l.1-.7l.1-3.8l.1 1.0l.1 1.7l.1 17.1l.1-19.3l.1-1.2l.1 12.0l.1-2.5l.1-13.3l.1 8.3l.1 6.7l.1-10.5l.1 3.9l.1 2.7l.1-.2l.1.5l.1 6.8l.1-7.7l.1-7.9l.1 2.5l.1-14.3l.1 2.9l.1 20.7l.1.7l.1-9.5l.1 5.8l.1-7.9l.1 26.1l.1-17.3l.1-2.6l.1-14.2l.1 9.2l.1 7.4l.1-10.9l.1 11.2l.1-14.7l.1 23.2l.1-20.0l.1-.7l.1 29.5l.1-24.4l.1.1l.1 1.9l.1-.4l.1-4.0l.1 18.1l.1-.2l.1-16.9l.1 8.8l.1-10.7l.1 7.1l.1.5l.1 4.5l.1-4.6l.1 3.9l.1-3.4l.1-3.6l.1-2.4l.1 8.6l.1 1.6l.1-22.1l.1 36.1l.1-11.8l.1-12.7l.1-6.8l.1-8.6l.1 27.0l.1-5.4l.1 16.1l.1-8.1l.1-7.1l.1-3.8l.1-8.6l.1-.8l.1 3.2l.1 9.4l.1 5.9l.1-5.9l.1-14.7l.1 5.8l.1 24.9l.1-20.4l.1-6.3l.1-1.1l.1 10.0l.1-5.2l.1-3.0l.1 9.9l.1-11.8l.1 11.5l.1-.4l.1-5.5l.1-2.5l.1 3.4l.1-21.7l.1 26.5l.1-4.4l.1-.6l.1 2.6l.1-6.9l.1 12.2l.1-8.0l.1-29.6l.1 25.8l.1-1.3l.1 8.0l.1-4.1l.1.3l.1 24.2l.1-32.5l.1 10.5l.1 22.6l.1.2l.1-24.1l.1 2.7l.1-2.6l.1 14.5l.1-20.8l.1 9.1l.1 10.6l.1-18.9l.1 23.3l.1-24.5l.1-2.7l.1 35.7l.1-34.8l.1 12.3l.1 13.3l.1-15.2l.1-.7l.1 6.3l.1-3.4l.1 24.4l.1.2l.1-19.5l.1 10.0l.1-4.5l.1-4.2l.1-5.9l.1 12.8l.1-.8l.1-6.5l.1-14.4l.1 26.1l.1-13.4l.1 3.1l.1-3.3l.1-17.4l.1 24.3l.1 3.0l.1-12.2l.1 18.7l.1-9.4l.1-12.1l.1 9.6l.1-20.4l.1 6.7l.1 1.0l.1 14.7l.1-25.1l.1 23.2l.1-8.4l.1 16.8l.1-13.0l.1-14.0l.1 17.1l.1 2.3l.1-1.5l.1-15.9l.1 12.4l.1 4.6l.1-18.0l.1 11.4l.1 1.1l.1 8.6l.1-12.9l.1 10.4l.1 13.7l.1-15.7l.1-11.9l.1.6l.1 26.3l.1-25.4l.1 5.5l.1-14.1l.1 21.2l.1-18.6l.1 10.8l.1-2.3l.1-1.2l.1 5.0l.1-4.5l.1-2.4l.1 2.5l.1-5.0l.1-27.5l.1 31.7l.1-7.2l.1-5.8l.1 10.9l.1-22.4l.1 16.6l.1 3.5l.1-3.0l.1-16.2l.1 14.0l.1 1.2l.1 12.2l.1-4.4l.1 14.2l.1-13.4l.1-12.8l.1 7.5l.1-26.8l.1 19.4l.1 3.1l.1-25.4l.1 27.5l.1-1.0l.1-3.1l.1-6.2l.1 24.9l.1-19.7l.1-2.0l.1 1.9l.1-5.3l.1 7.3l.1-5.4l.1 5.2l.1-17.9l.1 13.3l.1-14.1l.1 9.5l.1 8.1l.1 8.6l.1-9.7l.1 1.8l.1-8.7l.1 21.0l.1 8.2l.1-22.7l.1-8.5l.1 4.9l.1 7.8l.1-20.5l.1 10.7l.1 9.1l.1-5.9l.1-5.6l.1 12.9l.1 5.2l.1-17.2l.1-2.8l.1 21.1l.1-10.3l.1-8.5l.1-.5l.1 21.3l.1-4.9l.1-22.7l.1 25.1l.1-21.0l.1 13.0l.1-1.1l.1-9.2l.1 3.2l.1 6.3l.1 15.8l.1-5.8l.1-15.2l.1 5.9l.1 3.8l.1-7.5l.1 5.0l.1 5.8l.1-2.6l.1-10.2l.1 13.1l.1-6.5l.1-7.1l.1-4.9l.1 10.2l.1-.6l.1 6.1l.1-2.7l.1-13.8l.1 19.5l.1 3.4l.1 3.1l.1 8.2l.1-16.2l.1 8.0l.1-7.5l.1-5.9l.1 2.4l.1.6l.1 18.0l.1-19.3l.1.3l.1-10.9l.1 4.8l.1-.5l.1-4.8l.1 10.9l.1-1.8l.1 1.0l.1-7.3l.1 5.4l.1 2.1l.1-11.5l.1 5.8l.1-.6l.1-7.4l.1 18.4l.1-20.5l.1 21.5l.1-15.2l.1 3.1l.1 3.1l.1.8l.1-4.2l.1 10.4l.1 1.7l.1 13.3l.1-17.2l.1-5.4l.1-18.6l.1 19.8l.1-11.1l.1 14.0l.1-12.2l.1 10.0l.1-.9l.1-5.1l.1-6.1l.1-16.1l.1 23.1l.1-1.9l.1 17.3l.1-4.3l.1 1.1l.1-7.7l.1-13.3l.1 17.5l.1 15.2l.1-22.9l.1-6.3l.1 17.6l.1-6.8l.1-8.8l.1 11.6l.1-14.5l.1 7.3l.1-4.6l.1 6.5l.1-1.3l.1 7.9l.1 1.3l.1-15.0l.1-4.8l.1 8.0l.1 2.2l.1 13.5l.1-17.1l.1 7.9l.1-4.5l.1-5.3l.1 10.0l.1-1.7l.1 11.5l.1-15.7l.1-5.1l.1 7.6l.1 9.8l.1-19.0l.1 13.0l.1-10.7l.1 10.8l.1-14.0l.1-1.6l.1 13.8l.1-28.1l.1 40.3l.1-26.7l.1 2.5l.1-1.0l.1 9.3l.1.7l.1-12.3l.1 29.9l.1-17.5l.1-2.6l.1-1.9l.1 1.8l.1 2.1l.1-11.0l.1 11.1l.1 14.2l.1-8.0l.1 12.1l.1-26.6l.1-.3l.1 8.3l.1-5.9l.1 6.8l.1-11.7l.1 32.0l.1-30.0l.1 7.2l.1-3.4l.1 6.2l.1 6.2l.1-14.5l.1 9.6l.1.7l.1 6.0l.1-3.1l.1-9.1l.1 8.2l.1-1.5l.1-8.1l.1-6.8l.1 8.4l.1 15.4l.1-18.0l.1 3.0l.1-1.9l.1 4.6l.1 1.4l.1-4.8l.1.5l.1-1.4l.1 10.9l.1-7.8l.1-2.1l.1 21.8l.1-11.6l.1-13.7l.1 19.6l.1-9.1l.1-.8l.1.2l.1-1.2l.1-1.3l.1 3.9l.1-6.5l.1-2.1l.1 1.7l.1-1.1l.1-15.5l.1 25.5l.1-2.3l.1 7.4l.1-16.1l.1 13.3l.1-9.4l.1-2.7l.1-.7l.1 12.0l.1-7.9l.1-2.6l.1-14.8l.1 22.6l.1-23.8l.1 33.4l.1-20.6l.1-13.8l.1 11.8l.1-5.1l.1 34.2l.1.1l.1-22.9l.1 4.5l.1 4.3l.1-.5l.1-17.4l.1 10.0l.1 18.7l.1-19.1l.1-4.0l.1 2.1l.1.1l.1-.8l.1 6.4l.1-15.1l.1 9.9l.1-2.3l.1 4.3l.1 2.4l.1 3.0l.1-2.8l.1-11.5l.1 2.1l.1 6.1l.1-7.9l.1-2.5l.1 10.3l.1 8.8l.1-21.3l.1 13.0l.1 2.8l.1-9.3l.1 16.7l.1-21.2l.1 11.7l.1-16.5l.1 5.8l.1 19.5l.1-11.7l.1-11.9l.1 6.6l.1 9.8l.1-39.1l.1 32.5l.1-9.0l.1-2.0l.1 6.0l.1-6.5l.1 20.2l.1-7.0l.1-4.6l.1 1.0l.1-8.1l.1 4.2l.1-.1l.1-7.8l.1 12.7l.1-9.4l.1-9.8l.1 3.0l.1 6.8l.1 14.4l.1-12.7l.1 10.1l.1-.9l.1 1.7l.1-10.6l.1-20.7l.1 4.0l.1-2.3l.1 13.9l.1 2.9l.1 7.7l.1 1.8l.1-9.4l.1-9.3l.1 16.4l.1-13.3l.1 16.4l.1-26.2l.1 23.4l.1 20.3l.1-22.0l.1 4.1l.1-3.3l.1-3.6l.1 3.9l.1 10.1l.1-19.7l.1 14.9l.1-8.8l.1 10.0l.1-11.4l.1 8.2l.1.8l.1-17.4l.1 17.5l.1 7.7l.1-16.2l.1 4.1l.1 1.8l.1-9.6l.1 11.3l.1-9.6l.1 13.7l.1-4.5l.1-22.9l.1 41.4l.1-12.9l.1-7.3l.1 8.8l.1-5.3l.1-8.1l.1 18.3l.1-24.0l.1 26.4l.1-7.2l.1 5.2l.1-6.6l.1-.4l.1 7.8l.1 6.0l.1-.6l.1 5.5l.1 3.9l.1-14.0l.1 22.4l.1-26.9l.1 24.1l.1-24.3l.1 12.3l.1 8.8l.1-5.4l.1 11.3l.1-24.7l.1 7.0l.1 18.2l.1 1.1l.1 3.1l.1-16.2l.1 5.2l.1-22.9l.1 39.8l.1-26.8l.1.3l.1 40.2l.1-16.5l.1-7.5l.1 21.0l.1-8.9l.1-14.3l.1 6.4l.1-12.0l.1 10.3l.1 22.4l.1-38.8l.1-7.9l.1 15.4l.1 9.7l.1-.2l.1-12.4l.1-12.8l.1 15.3l.1 7.3l.1-5.3l.1-3.7l.1 7.8l.1-2.3l.1-1.8l.1-4.5l.1 8.2l.1-.6l.1 4.8l.1-18.1l.1 4.8l.1 4.3l.1 1.5l.1-2.7l.1 1.7l.1 22.7l.1-30.1l.1 23.9l.1-5.7l.1-42.1l.1 33.6l.1 1.5l.1-3.4l.1 10.4l.1-8.1l.1-11.8l.1 2.5l.1-.6l.1-1.8l.1-12.0l.1 4.7l.1 24.4l.1-16.6l.1-17.6l.1 35.5l.1-14.0l.1-.1l.1-.1l.1-1.0l.1 4.4l.1-.9l.1-9.0l.1 34.6l.1-37.1l.1 38.4l.1-18.2l.1-3.4l.1-12.8l.1 8.2l.1 1.8l.1 17.3l.1-18.7l.1-8.4l.1 3.1l.1 17.5l.1-5.0l.1 19.9l.1-64.6l.1 44.3l.1-3.4l.1-2.0l.1-5.4l.1 31.9l.1-36.1l.1 12.1l.1 4.7l.1-1.2l.1-28.8l.1 8.5l.1 12.5l.1-2.8l.1-13.1l.1 20.4l.1 10.5l.1-14.2l.1-3.3l.1 14.0l.1-13.3l.1 3.7l.1 16.3l.1-29.8l.1 18.6l.1-14.3l.1 24.5l.1-10.7l.1 5.8l.1-12.7l.1-5.1l.1 2.6l.1 2.2l.1 18.2l.1-17.1l.1-11.9l.1 14.7l.1 20.4l.1-30.6l.1 11.3l.1-3.9l.1 1.9l.1 1.6l.1-20.9l.1 25.5l.1-6.9l.1.0l.1 2.6l.1-3.8l.1-8.5l.1 5.8l.1-6.0l.1 5.2l.1-12.7l.1 15.1l.1 11.6l.1-15.4l.1-1.4l.1-5.6l.1 9.8l.1-4.3l.1-.4l.1 11.0l.1-18.6l.1 3.2l.1-3.2l.1 35.2l.1-60.8l.1 58.9l.1-27.0l.1-.1l.1 5.9l.1-3.8l.1 30.8l.1-24.9l.1 15.8l.1-8.3l.1-20.7l.1 26.1l.1-16.1l.1 7.2l.1-40.1l.1 38.2l.1-17.5l.1 26.0l.1 6.4l.1-25.9l.1-1.7l.1 26.7l.1-9.0l.1-.8l.1 2.1l.1-9.6l.1-5.0l.1-4.4l.1 2.2l.1 8.5l.1-39.7l.1 38.4l.1 10.3l.1-23.8l.1 17.6l.1 4.0l.1-3.9l.1 15.5l.1-4.0l.1-21.0l.1-4.3l.1 15.5l.1-4.0l.1-2.7l.1-2.8l.1 3.4l.1-1.2l.1-11.0l.1 29.5l.1-37.1l.1 3.5l.1 31.1l.1-16.2l.1 16.0l.1-12.5l.1 3.4l.1-2.9l.1 9.0l.1-10.8l.1 4.4l.1-16.9l.1-6.6l.1-1.5l.1 9.2l.1 6.1l.1-1.1l.1-.4l.1 14.2l.1-13.4l.1-.2l.1 6.0l.1 9.5l.1-18.0l.1-8.1l.1 14.5l.1 9.1l.1-14.6l.1-7.8l.1 28.2l.1-25.2l.1 17.1l.1 1.6l.1-17.8l.1 4.7l.1-1.1l.1 11.2l.1-10.8l.1 13.7l.1-16.9l.1-1.2l.1 36.1l.1-21.5l.1 6.7l.1-2.3l.1 4.7l.1-11.3l.1 16.9l.1-23.8l.1 12.5l.1-7.5l.1 14.0l.1 2.0l.1-9.1l.1-17.7l.1 12.2l.1-4.0l.1.9l.1 26.1l.1-17.1l.1 2.8l.1-8.7l.1-21.3l.1 55.8l.1-9.1l.1-25.5l.1 27.7l.1-28.8l.1 36.9l.1-30.9l.1 2.2l.1-7.3l.1 29.1l.1-31.4l.1 4.3l.1 13.5l.1 5.7l.1-8.3l.1 25.3l.1-63.8l.1 8.5l.1-5.0l.1 43.7l.1-25.5l.1 40.0l.1-25.0l.1 3.3l.1-15.5l.1 8.0l.1 4.5l.1-5.3l.1 31.2l.1-22.6l.1-9.4l.1 5.1l.1-6.8l.1-1.6l.1 29.3l.1-41.3l.1 17.2l.1-13.3l.1 10.3l.1-4.6l.1-8.8l.1 18.8l.1-23.4l.1 27.8l.1-5.0l.1-.1l.1.7l.1-9.0l.1 12.7l.1-1.1l.1-5.7l.1 15.7l.1-10.9l.1-13.5l.1 12.1l.1 9.2l.1-12.3l.1-3.2l.1 9.3l.1 3.8l.1-26.7l.1 25.5l.1-35.6l.1 25.3l.1 9.1l.1-12.5l.1 14.2l.1-14.2l.1 20.4l.1-27.8l.1 13.0l.1-5.1l.1.2l.1 12.8l.1 16.3l.1-22.4l.1 3.9l.1-5.2l.1-6.7l.1-.3l.1 14.7l.1-7.7l.1-23.7l.1 27.2l.1-38.3l.1 43.6l.1-13.3l.1-10.9l.1 30.5l.1-4.2l.1-19.4l.1 7.2l.1-10.0l.1-.5l.1 11.8l.1-7.8l.1 17.7l.1-9.7l.1 17.0l.1-28.5l.1 28.3l.1-18.9l.1-2.5l.1 5.0l.1-6.5l.1-6.5l.1-6.8l.1 5.8l.1-5.1l.1 18.0l.1-18.8l.1 6.6l.1-17.2l.1 20.7l.1-20.1l.1 3.0l.1 17.9l.1 7.2l.1-5.9l.1-9.8l.1 12.5l.1-5.8l.1-38.1l.1 20.2l.1.2l.1 10.7l.1 19.3l.1-6.9l.1-1.5l.1-16.0l.1-9.1l.1 4.3l.1 19.3l.1-19.4l.1 37.5l.1-15.4l.1.5l.1-14.9l.1 12.9l.1-27.9l.1 18.6l.1 2.2l.1-1.8l.1-12.0l.1 23.6l.1-17.9l.1-3.3l.1 9.2l.1 4.4l.1 6.3l.1 21.6l.1-21.2l.1-25.7l.1 24.7l.1 12.5l.1-.2l.1-14.5l.1-15.6l.1 10.6l.1 2.4l.1 6.1l.1-7.2l.1-5.9l.1 7.3l.1-.9l.1 6.1l.1-8.6l.1.5l.1.9l.1 21.0l.1-17.6l.1-1.2l.1-.6l.1 27.2l.1-4.6l.1-29.3l.1-6.9l.1-1.7l.1-.6l.1 11.9l.1 16.7l.1 1.9l.1-14.0l.1-10.9l.1 23.4l.1-16.1l.1-18.3l.1 45.2l.1-19.0l.1-17.2l.1 16.5l.1.7l.1-.7l.1 14.6l.1-11.0l.1.2l.1-16.5l.1 22.7l.1-6.4l.1-22.6l.1 18.8l.1-3.4l.1 7.2l.1-5.7l.1-11.5l.1 19.4l.1-14.0l.1 6.0l.1-3.0l.1 1.3l.1.8l.1-24.2l.1 46.5l.1-15.4l.1-9.7l.1 29.6l.1-26.2l.1 9.0l.1-10.9l.1-2.2l.1 1.5l.1-10.3l.1 9.9l.1-4.3l.1 24.4l.1-7.2l.1-8.4l.1-.2l.1 2.7l.1-1.2l.1-20.4l.1 4.5l.1 1.9l.1 11.6l.1-23.6l.1 19.0l.1-12.9l.1 8.4l.1-18.0l.1-16.3l.1 33.9l.1 12.4l.1-5.2l.1-2.0l.1 6.3l.1-2.5l.1-17.0l.1 10.4l.1 1.0l.1-2.8l.1-3.6l.1-.6l.1 12.1l.1-4.4l.1 6.0l.1 7.4l.1-48.3l.1 26.3l.1 24.6l.1-11.8l.1 4.4l.1-19.3l.1 5.6l.1-26.8l.1 33.8l.1-13.5l.1 39.0l.1-18.6l.1-12.8l.1-1.7l.1-6.8l.1-8.3l.1-3.4l.1 17.0l.1 2.9l.1 3.4l.1 3.0l.1 12.3l.1-18.0l.1 10.4l.1-11.9l.1-8.8l.1 18.5l.1 3.5l.1-21.2l.1 20.1l.1 12.1l.1 3.7l.1-17.2l.1-5.7l.1-18.4l.1 1.9l.1 30.2l.1 5.5l.1-15.5l.1-2.4l.1-3.1l.1-.3l.1 5.9l.1 11.8l.1-7.4l.1-1.4l.1-3.2l.1.2l.1-9.6l.1 12.5l.1 3.6l.1-24.2l.1 33.1l.1-21.5l.1 9.6l.1 10.7l.1-18.7l.1 5.9l.1.0l.1-13.5l.1 8.8l.1 2.3l.1 25.9l.1-18.7l.1 2.6l.1-6.4l.1-33.9l.1 34.5l.1-14.2l.1-.2l.1 24.7l.1-24.4l.1-19.1l.1 32.0l.1 12.5l.1-2.4l.1-10.2l.1-3.2l.1-7.8l.1 19.5l.1-25.3l.1 19.0l.1 12.9l.1 16.5l.1-2.2l.1-22.6l.1 1.1l.1 26.7l.1-25.9l.1 5.9l.1-1.6l.1 10.1l.1-12.3l.1-14.3l.1 13.2l.1.4l.1.1l.1 8.4l.1-9.4l.1-29.2l.1 16.8l.1 4.1l.1 7.1l.1-5.3l.1 7.7l.1-2.9l.1 31.1l.1-32.0l.1-5.7l.1 4.1l.1 14.3l.1-3.3l.1-3.1l.1 24.9l.1-22.9l.1 3.9l.1-2.8l.1-11.7l.1-2.8l.1 17.6l.1-9.5l.1-5.6l.1 20.2l.1-9.2l.1-7.2l.1-18.3l.1 34.2l.1-20.9l.1 31.4l.1-34.1l.1-16.3l.1 30.6l.1-18.5l.1-15.6l.1 40.2l.1-13.4l.1-2.1l.1-9.4l.1 6.4l.1 3.8l.1 24.8l.1-16.2l.1 15.9l.1-35.9l.1 17.6l.1-1.0l.1-19.5l.1 38.1l.1-28.4l.1-4.8l.1 14.7l.1-22.6l.1 4.6l.1-11.7l.1-1.6l.1 18.1l.1-1.2l.1 5.6l.1-3.0l.1-3.2l.1-25.0l.1 30.2l.1 5.8l.1-11.8l.1-1.7l.1.8l.1 12.8l.1 9.4l.1-23.3l.1 11.8l.1-19.0l.1 5.9l.1 7.1l.1-4.7l.1-5.7l.1.1l.1 15.7l.1-29.1l.1 4.0l.1-14.6l.1 32.2l.1-11.5l.1 7.8l.1 1.6l.1-10.8l.1 4.9l.1-18.0l.1 25.2l.1-7.5l.1 6.6l.1 2.9l.1 11.8l.1-20.3l.1-23.1l.1 28.1l.1 7.6l.1 1.6l.1-13.4l.1 3.9l.1-4.4l.1.9l.1-11.6l.1 39.7l.1-27.7l.1-7.6l.1-10.2l.1 16.7l.1-6.9l.1 16.9l.1-14.4l.1-1.9l.1 14.7l.1 6.1l.1-18.1l.1-31.7l.1 20.2l.1 21.0l.1-11.4l.1-7.7l.1 42.3l.1-.1l.1-34.9l.1 12.9l.1-21.9l.1 43.8l.1-34.5l.1 13.9l.1 2.2l.1-15.0l.1 6.2l.1 11.2l.1-9.8l.1.4l.1-15.5l.1 10.0l.1 16.0l.1-9.9l.1-7.6l.1-15.0l.1 34.0l.1-1.9l.1-20.0l.1 3.8l.1 2.2l.1-11.8l.1 13.8l.1 10.1l.1-4.6l.1-15.7l.1.1l.1 15.4l.1-5.0l.1-14.1l.1 39.7l.1-15.1l.1 15.8l.1-39.5l.1 15.9l.1-13.6l.1 12.6l.1-6.8l.1 4.7l.1 6.2l.1-10.5l.1 17.9l.1-12.4l.1-21.0l.1 10.9l.1 15.9l.1-13.8l.1-5.9l.1 20.6l.1-16.1l.1.4l.1.8l.1 1.7l.1 35.1l.1-17.2l.1-7.5l.1-10.2l.1-13.2l.1 17.8l.1-2.0l.1 14.7l.1-1.5l.1-11.0l.1 18.5l.1.7l.1-12.1l.1-16.7l.1 30.6l.1-13.4l.1-.7l.1 6.6l.1-4.1l.1 7.6l.1-21.1l.1 20.3l.1-17.1l.1-13.0l.1 19.1l.1 7.3l.1-17.4l.1 13.0l.1-4.0l.1-7.3l.1-.9l.1-5.7l.1 26.3l.1-7.7l.1-13.1l.1 20.8l.1-20.7l.1 14.3l.1 14.1l.1-7.9l.1 6.1l.1-27.7l.1 10.1l.1 2.3l.1-2.0l.1 18.1l.1-13.9l.1-15.4l.1 7.6l.1 14.8l.1-10.2l.1.2l.1 5.9l.1 1.4l.1-33.8l.1 43.7l.1-28.5l.1 21.4l.1-5.6l.1 9.7l.1-16.6l.1 15.0l.1-14.7l.1-1.6l.1-2.4l.1 21.1l.1-8.3l.1-.1l.1 5.2l.1-20.1l.1 17.6l.1-23.5l.1 25.9l.1 3.6l.1-2.0l.1-8.2l.1 3.3l.1-6.5l.1-3.6l.1 15.7l.1-16.3l.1 12.6l.1-4.6l.1-1.8l.1-39.4l.1 46.0l.1-13.2l.1-20.1l.1 30.5l.1-9.4l.1-5.9l.1 15.7l.1-7.2l.1 24.5l.1.0l.1-36.6l.1 5.2l.1 20.2l.1-21.7l.1 22.1l.1-17.5l.1-16.3l.1 20.9l.1 1.7l.1-17.1l.1 7.9l.1 15.6l.1-22.4l.1 31.5l.1 5.2l.1-14.6l.1-17.3l.1-3.6l.1 10.3l.1-9.5l.1 23.1l.1-6.7l.1-5.2l.1 1.5l.1-9.1l.1-9.8l.1 14.2l.1-3.0l.1-4.5l.1 1.9l.1-10.8l.1-4.4l.1 22.4l.1-2.9l.1-9.7l.1 37.2l.1-34.0l.1 4.6l.1.9l.1-7.7l.1 5.0l.1-1.2l.1 13.0l.1-13.2l.1 5.2l.1 14.6l.1-11.9l.1 12.1l.1-4.3l.1-15.2l.1 24.5l.1-18.9l.1 17.1l.1-21.8l.1 10.0l.1 14.2l.1-24.5l.1 12.8l.1-1.3l.1 12.9l.1-34.9l.1.7l.1 8.4l.1 6.7l.1-17.8l.1 25.4l.1-8.8l.1 9.3l.1-27.3l.1.5l.1 15.7l.1 3.6l.1-26.8l.1 26.8l.1-9.7l.1-7.1l.1 34.6l.1-4.6l.1-16.4l.1 10.7l.1-11.8l.1-30.2l.1 27.1l.1 10.3l.1-2.5l.1 10.1l.1-15.5l.1 11.9l.1 8.4l.1-22.2l.1 18.3l.1-9.3l.1-1.2l.1-20.0l.1 28.2l.1-7.9l.1-35.0l.1 42.4l.1-20.2l.1 16.1l.1 18.6l.1-19.8l.1 5.3l.1 13.8l.1-43.2l.1 18.6l.1-.1l.1 3.2l.1-16.2l.1 9.1l.1 9.2l.1 2.7l.1-.3l.1-1.5l.1 1.1l.1-5.9l.1 4.1l.1-23.3l.1 6.0l.1 12.8l.1-5.2l.1-34.0l.1 30.4l.1 6.3l.1-6.7l.1-3.2l.1 11.0l.1-25.3l.1 12.2l.1 12.4l.1-4.8l.1-6.4l.1-9.7l.1 14.1l.1-8.6l.1 33.4l.1-26.2l.1 15.1l.1 7.4l.1-18.3l.1 20.6l.1-21.3l.1 10.3l.1 5.3l.1-2.8l.1-15.6l.1 4.4l.1 9.1l.1 6.8l.1-15.6l.1 8.0l.1-5.9l.1 5.6l.1-16.4l.1 33.1l.1-3.6l.1-14.8l.1-8.3l.1 4.8l.1-21.2l.1-3.7l.1 24.7l.1 19.2l.1-14.7l.1-.9l.1-7.0l.1 2.6l.1 13.6l.1-6.9l.1-.5l.1-37.0l.1 28.2l.1-32.6l.1 39.6l.1-3.3l.1 17.4l.1-15.4l.1-8.4l.1 23.8l.1-26.2l.1 10.4l.1 8.3l.1-7.7l.1-13.8l.1 10.2l.1-2.1l.1 6.3l.1 3.8l.1-2.3l.1 2.2l.1-5.6l.1 17.0l.1-12.4l.1-1.6l.1-33.5l.1 19.5l.1 11.9l.1-4.0l.1 8.8l.1 2.7l.1-21.4l.1 23.1l.1-18.7l.1 3.9l.1-3.6l.1 3.5l.1 6.7l.1 10.0l.1-6.0l.1-10.0l.1-2.1l.1 30.5l.1-46.9l.1 30.3l.1-17.0l.1.2l.1-.1l.1-6.5l.1.9l.1 26.4l.1-25.2l.1.0l.1 23.1l.1-8.5l.1 19.7l.1-46.5l.1 27.6l.1-5.8l.1 3.4l.1 5.1l.1-9.7l.1-6.6l.1 14.9l.1.1l.1-8.5l.1 5.3l.1-17.2l.1 36.5l.1-36.1l.1 32.2l.1-23.7l.1 35.3l.1-15.1l.1 2.3l.1-19.3l.1 5.6l.1 7.2l.1-5.2l.1 9.9l.1-.7l.1 1.1l.1-13.5l.1 19.3l.1 12.2l.1-19.9l.1 5.3l.1-20.9l.1 32.5l.1-23.5l.1 2.8l.1 5.4l.1 3.5l.1-2.9l.1-11.0l.1 22.0l.1-19.1l.1 14.1l.1-8.8l.1-16.1l.1 10.5l.1 14.3l.1-8.3l.1 6.3l.1 11.6l.1-21.6l.1 9.0l.1-6.4l.1-15.1l.1 17.1l.1 6.1l.1-1.5l.1-38.1l.1 28.9l.1-5.7l.1 23.3l.1-3.7l.1 19.3l.1-.4l.1-63.0l.1 41.0l.1 7.1l.1-24.8l.1 17.1l.1 5.8l.1-5.9l.1-11.8l.1 4.0l.1-5.0l.1 3.5l.1 10.6l.1-11.6l.1 27.2l.1-38.0l.1 16.5l.1-3.5l.1.2l.1-16.9l.1 5.0l.1 10.7l.1 1.5l.1-3.1l.1 2.1l.1-3.5l.1.0l.1 14.4l.1-19.4l.1 23.6l.1-26.5l.1 32.9l.1-16.7l.1-4.9l.1-8.2l.1 13.4l.1 21.5l.1-21.5l.1-8.7l.1 3.2l.1-11.2l.1 10.2l.1 7.1l.1 4.4l.1-24.4l.1 15.3l.1-2.5l.1-.9l.1-7.5l.1 22.7l.1-15.5l.1 1.8l.1 6.3l.1-25.6l.1 8.8l.1 13.4l.1-15.2l.1.0l.1-5.1l.1-1.7l.1 41.8l.1-33.2l.1-7.9l.1 13.8l.1-4.7l.1-9.6l.1 34.1l.1-17.9l.1-2.1l.1 5.0l.1-.6l.1-.5l.1-14.5l.1 10.5l.1 8.7l.1-3.2l.1-18.1l.1 8.9l.1-4.2l.1 12.4l.1-18.6l.1 16.2l.1 24.3l.1-23.7l.1 26.3l.1-7.8l.1-55.3l.1 46.3l.1-1.0l.1-6.9l.1-6.5l.1 1.8l.1 18.2l.1-7.4l.1-15.3l.1-13.0l.1 20.4l.1 2.4l.1-20.5l.1 19.1l.1 25.0l.1-32.8l.1-14.2l.1 21.8l.1-.3l.1-5.5l.1 10.4l.1 9.9l.1-18.5l.1 13.1l.1-10.7l.1 18.5l.1-8.7l.1-13.4l.1-8.1l.1 37.1l.1-15.1l.1-10.1l.1-18.7l.1 32.0l.1-15.5l.1 7.1l.1.0l.1-19.6l.1 19.4l.1-16.6l.1 14.0l.1 5.6l.1-2.2l.1-2.4l.1 21.5l.1-32.2l.1.3l.1-10.6l.1 5.9l.1 7.4l.1-2.6l.1 6.8l.1-6.5l.1 11.3l.1-5.7l.1-19.4l.1 15.0l.1 9.8l.1-11.8l.1 8.5l.1-4.5l.1 5.3l.1-8.9l.1 11.5l.1 5.6l.1-11.5l.1-9.7l.1 10.4l.1 1.2l.1-5.0l.1 11.0l.1-10.1l.1 1.5l.1-6.8l.1 29.8l.1-26.5l.1-6.9l.1-23.8l.1 22.5l.1 16.0l.1-16.7l.1 6.1l.1 6.3l.1-13.9l.1 21.1l.1 3.5l.1-18.8l.1-12.2l.1 25.4l.1-5.7l.1 6.1l.1.5l.1-7.6l.1 15.3l.1-12.4l.1-17.6l.1 21.3l.1-6.3l.1 10.6l.1-10.4l.1 13.5l.1 16.6l.1-61.1l.1 16.3l.1 19.7l.1-1.5l.1 13.9l.1-48.9l.1 40.7l.1-15.9l.1 10.8l.1 21.2l.1-17.2l.1 2.6l.1-9.4l.1-.1l.1 10.9l.1-30.3l.1 2.9l.1 18.7l.1.0l.1 16.2l.1-14.9l.1-16.4l.1 16.5l.1 6.9l.1-1.3l.1-4.7l.1 2.5l.1-10.9l.1-1.2l.1 11.1l.1-7.5l.1 23.2l.1-22.6l.1-2.6l.1 17.0l.1-41.5l.1 33.5l.1-13.5l.1 1.1l.1 5.8l.1-12.6l.1-9.3l.1 25.0l.1 1.4l.1 4.4l.1-11.1l.1 12.8l.1-17.9l.1 12.3l.1-1.8l.1 3.4l.1-5.9l.1 7.7l.1-8.0l.1 18.6l.1-2.6l.1-17.3l.1 7.8l.1-3.9l.1 5.4l.1-7.5l.1-1.7l.1 30.7l.1-18.6l.1-6.9l.1 11.0l.1-27.8l.1 6.1l.1 7.8l.1-.6l.1 8.7l.1 19.1l.1-14.5l.1-10.0l.1-36.4l.1 33.6l.1-7.9l.1 36.7l.1-50.6l.1 23.0l.1 12.4l.1-24.2l.1 20.7l.1-9.6l.1 18.0l.1-32.0l.1 5.2l.1 19.4l.1-20.5l.1 6.6l.1 17.6l.1-20.6l.1-3.4l.1-2.8l.1 11.9l.1-2.7l.1 6.8l.1-3.1l.1 6.2l.1 5.6l.1-7.5l.1-20.6l.1 12.7l.1 2.9l.1-36.5l.1 40.6l.1-9.8l.1 16.9l.1-7.0l.1 24.2l.1-50.7l.1-11.7l.1 38.0l.1-40.4l.1 33.4l.1 8.2l.1 17.9l.1-22.0l.1 15.1l.1.2l.1 1.1l.1-17.9l.1-12.9l.1 19.8l.1-7.7l.1 13.8l.1 2.6l.1-18.4l.1 17.7l.1-7.8l.1 16.7l.1-22.7l.1 7.2l.1-2.7l.1-2.4l.1 6.0l.1 1.1l.1-14.7l.1-.2l.1 18.9l.1-10.2l.1 3.6l.1 7.1l.1-14.1l.1-4.3l.1 8.7l.1 2.1l.1 12.2l.1.8l.1 5.6l.1-21.4l.1-4.3l.1.9l.1 8.0l.1 2.4l.1-5.1l.1-10.9l.1 21.8l.1 1.2l.1-14.6l.1 8.2l.1-10.6l.1 15.5l.1 19.3l.1-44.6l.1 29.9l.1-12.7l.1 3.4l.1-16.7l.1-9.4l.1 16.6l.1 9.8l.1-14.7l.1 11.0l.1-3.8l.1 5.2l.1-13.8l.1 14.6l.1-20.3l.1 15.4l.1 10.4l.1-18.7l.1 13.4l.1-7.7l.1-.8l.1 3.3l.1-7.7l.1 16.2l.1-17.2l.1 12.4l.1 6.5l.1 4.6l.1-8.8l.1 17.4l.1-19.4l.1-36.7l.1 17.1l.1 11.8l.1 13.6l.1-1.7l.1-6.2l.1 7.9l.1 1.9l.1 22.0l.1-6.2l.1-22.2l.1 4.2l.1 6.7l.1-10.3l.1-7.0l.1 4.5l.1 9.8l.1 1.5l.1 5.6l.1-32.4l.1 18.8l.1 11.5l.1-17.4l.1 2.9l.1-5.2l.1 1.1l.1 13.3l.1-6.1l.1-22.5l.1 23.1l.1-14.7l.1.2l.1-14.1l.1 23.8l.1-.5l.1-37.1l.1 41.7l.1-12.8l.1 9.0l.1 4.7l.1.5l.1-2.5l.1 3.6l.1-16.5l.1 15.3l.1-10.7l.1 16.2l.1-16.7l.1 6.0l.1-.4l.1-2.5l.1-7.1l.1-1.0l.1-.9l.1 3.3l.1 10.5l.1-9.3l.1 2.4l.1-17.5l.1 24.6l.1-8.6l.1 18.7l.1-1.1l.1-17.1l.1-21.0l.1 14.4l.1.7l.1-2.0l.1 5.3l.1-7.4l.1 4.1l.1-25.5l.1 3.6l.1 21.0l.1-3.6l.1 6.8l.1-6.4l.1-5.6l.1 13.3l.1 19.6l.1-52.4l.1 40.6l.1-25.0l.1-4.2l.1.6l.1 14.4l.1-13.5l.1 5.1l.1-3.1l.1 5.5l.1 11.1l.1-9.9l.1-10.1l.1 41.6l.1-5.6l.1-24.7l.1-.1l.1 10.9l.1-15.9l.1 27.5l.1-16.6l.1-28.3l.1 25.9l.1-9.4l.1-.9l.1-20.3l.1 17.6l.1 15.6l.1-3.7l.1 14.1l.1-11.4l.1 3.0l.1 18.6l.1-27.1l.1-8.8l.1 2.4l.1-.3l.1 26.1l.1-18.0l.1-19.0l.1 21.6l.1 11.0l.1-11.5l.1-7.4l.1-13.0l.1 5.3l.1-27.8l.1 36.5l.1-2.4l.1 9.1l.1-9.1l.1-.4l.1-3.4l.1 13.1l.1-10.1l.1 13.2l.1-9.5l.1-2.5l.1 3.3l.1 4.6l.1 11.1l.1-26.4l.1 2.0l.1 9.9l.1-.2l.1 24.3l.1-44.7l.1 15.5l.1-36.0l.1 50.7l.1-26.2l.1 2.0l.1 14.4l.1.0l.1-25.5l.1 22.6l.1 7.6l.1-5.1l.1 4.2l.1 5.4l.1-19.9l.1 1.3l.1-2.1l.1-11.3l.1 31.1l.1-16.6l.1.5l.1-5.6l.1-2.7l.1 13.6l.1 4.1l.1-4.4l.1 6.2l.1 2.0l.1 3.1l.1-2.7l.1-6.4l.1-7.1l.1-34.2l.1 42.6l.1-19.0l.1-2.2l.1 16.7l.1-1.8l.1 7.5l.1-1.4l.1-10.3l.1 6.3l.1-32.1l.1-8.1l.1 57.6l.1 1.6l.1-23.0l.1 11.3l.1 3.6l.1-28.7l.1-.2l.1 28.3l.1-15.2l.1 10.0l.1-14.2l.1-30.3l.1 14.8l.1 17.0l.1 33.6l.1-19.2l.1-7.1l.1-4.2l.1 11.7l.1.0l.1-11.6l.1 3.9l.1 8.0l.1-16.0l.1 24.2l.1-7.5l.1-35.6l.1 47.3l.1-30.9l.1 1.2l.1 19.6l.1-15.7l.1 3.1l.1-19.4l.1 32.3l.1-12.7l.1-35.2l.1 31.1l.1.6l.1 8.2l.1-4.8l.1-4.2l.1 4.2l.1 6.2l.1-3.1l.1-8.2l.1-1.5l.1-.3l.1 7.1l.1-4.9l.1 6.3l.1 22.5l.1-30.8l.1 9.4l.1-11.7l.1 25.3l.1-19.3l.1 18.9l.1-34.7l.1 3.9l.1-.5l.1 1.0l.1 15.7l.1-6.3l.1 1.9l.1-2.7l.1-1.7l.1 10.5l.1-4.2l.1 14.2l.1-10.8l.1-1.2l.1-9.9l.1 4.2l.1 2.6l.1 31.0l.1-3.8l.1-14.1l.1-18.2l.1 3.4l.1 9.5l.1 23.0l.1-13.0l.1-4.9l.1 5.6l.1-12.8l.1-1.4l.1 8.3l.1-2.5l.1 1.6l.1 18.7l.1-32.8l.1 16.1l.1-10.0l.1-2.3l.1 13.3l.1-8.0l.1-2.5l.1 25.5l.1-27.6l.1-6.4l.1 10.7l.1-8.6l.1-2.3l.1 8.7l.1-19.7l.1 25.1l.1 4.3l.1-28.1l.1 7.7l.1 9.1l.1-20.0l.1 10.3l.1 10.1l.1 2.4l.1-29.9l.1 19.8l.1 4.1l.1 3.8l.1-8.1l.1 3.0l.1 1.0l.1 7.6l.1-11.7l.1-1.6l.1 3.5l.1-9.6l.1-5.6l.1-2.6l.1 7.6l.1 7.5l.1.7l.1-.8l.1-7.4l.1 9.0l.1-13.2l.1.7l.1-13.9l.1 30.9l.1-7.8l.1 23.8l.1-17.8l.1 7.8l.1-9.3l.1-30.4l.1 27.2l.1 1.5l.1-4.8l.1 19.2l.1-18.1l.1 4.0l.1 18.5l.1-26.6l.1-1.5l.1 19.0l.1-2.1l.1 8.0l.1-22.2l.1 12.6l.1-7.4l.1 15.9l.1-15.9l.1-6.5l.1-3.4l.1 28.0l.1-8.0l.1 7.0l.1-20.9l.1 10.7l.1-23.6l.1 18.9l.1 13.7l.1-19.9l.1 8.2l.1 22.3l.1 2.7l.1-7.6l.1-15.6l.1-.6l.1 9.7l.1-3.3l.1-10.5l.1 8.2l.1-9.9l.1 2.1l.1-18.2l.1 18.2l.1-16.1l.1 15.9l.1 10.8l.1 6.8l.1 4.9l.1-23.7l.1-7.6l.1 11.6l.1 6.5l.1-2.1l.1-2.5l.1-1.2l.1-.9l.1 9.1l.1-6.6l.1-3.7l.1 8.0l.1-38.6l.1 59.5l.1-21.0l.1-2.8l.1-10.7l.1 9.6l.1-3.3l.1 10.9l.1 7.0l.1 15.2l.1-35.3l.1-19.5l.1 54.9l.1-37.2l.1 14.0l.1-9.6l.1 10.4l.1-23.4l.1 5.7l.1 19.9l.1-1.5l.1-3.2l.1 25.1l.1-37.3l.1 24.7l.1-17.4l.1-20.4l.1 21.0l.1 5.5l.1-7.0l.1 8.4l.1 15.0l.1-6.8l.1-23.3l.1-8.2l.1 30.6l.1-13.4l.1 4.5l.1-9.9l.1-2.2l.1 19.8l.1-14.2l.1-4.0l.1-2.8l.1 24.3l.1-32.4l.1 16.5l.1 8.7l.1-6.2l.1 7.2l.1-20.7l.1 15.2l.1-13.7l.1-4.9l.1 18.4l.1-.5l.1-3.5l.1 17.1l.1-11.2l.1 2.3l.1 17.9l.1-22.9l.1 3.4l.1 4.6l.1-16.3l.1 14.3l.1-32.8l.1 16.1l.1-1.1l.1 6.9l.1 4.9l.1-27.5l.1 18.4l.1 1.5l.1-18.4l.1 23.7l.1-10.4l.1-5.1l.1 23.2l.1 8.7l.1-4.1l.1-13.8l.1 19.4l.1-56.1l.1 38.4l.1.4l.1-1.4l.1-8.9l.1.7l.1 8.3l.1-6.6l.1 23.4l.1-17.2l.1-2.0l.1 6.8l.1 1.8l.1-3.6l.1 1.7l.1 18.6l.1-12.3l.1-5.2l.1 7.3l.1-8.9l.1 7.5l.1-6.6l.1 3.6l.1-5.1l.1-1.2l.1 4.5l.1-4.3l.1 20.9l.1 6.3l.1-18.6l.1 10.3l.1-3.9l.1 1.5l.1 20.1l.1-16.8l.1-12.8l.1-.2l.1 13.4l.1-7.1l.1-7.2l.1-18.6l.1-7.0l.1 25.6l.1 20.7l.1-11.5l.1-24.3l.1 22.7l.1-1.2l.1 14.4l.1-49.6l.1 33.3l.1-8.8l.1 21.3l.1-9.6l.1-1.8l.1 22.8l.1-15.5l.1-21.2l.1 16.9l.1 7.0l.1-5.1l.1-18.5l.1 6.5l.1 2.3l.1 22.4l.1-1.7l.1 1.7l.1-5.0l.1-5.8l.1-3.0l.1 11.6l.1-4.9l.1-10.8l.1 3.9l.1-25.9l.1 25.6l.1-25.1l.1 56.8l.1-19.0l.1-15.7l.1 7.0l.1 23.0l.1-12.4l.1 6.0l.1-41.2l.1 21.6l.1-7.5l.1 1.6l.1 12.1l.1 2.1l.1-9.2l.1 1.6l.1-11.7l.1 26.1l.1-13.5l.1-6.4l.1-9.0l.1 9.8l.1 6.0l.1-15.7l.1 8.6l.1-6.9l.1-6.3l.1-17.7l.1 37.0l.1-3.3l.1-1.1l.1 24.6l.1-19.8l.1-5.0l.1-5.3l.1 12.8l.1-24.4l.1 19.5l.1-15.5l.1 11.2l.1-9.4l.1.4l.1 2.4l.1-15.3l.1 9.1l.1 2.1l.1.7l.1-2.0l.1-3.3l.1 5.3l.1 4.6l.1-9.0l.1-5.6l.1 1.6l.1 6.3l.1-4.7l.1.2l.1 1.6l.1-6.4l.1 9.0l.1-7.0l.1-11.8l.1 14.3l.1-1.3l.1-.3l.1 3.3l.1.1l.1-.1l.1-3.6l.1-2.9l.1-.7l.1 7.5l.1-6.6l.1 2.4l.1-.4l.1.1l.1 3.7l.1-3.9l.1-2.2l.1-3.6l.1 6.6l.1 4.4l.1 4.4l.1-8.8l.1-3.8l.1 5.7l.1-2.2l.1-1.6l.1 3.5l.1-5.4l.1 5.4l.1-1.0l.1-3.2l.1 1.7l.1 3.0l.1-5.3l.1.7l.1-6.4l.1 10.8l.1-8.2l.1 1.7l.1 6.2l.1-1.7l.1.2l.1-.5l.1-7.0l.1 4.9l.1 3.0l.1-9.4l.1 6.7l.1 8.5l.1-4.9l.1-6.4l.1 3.8l.1-.2l.1 2.1l.1-4.1l.1.9l.1-.1l.1-5.4l.1 11.1l.1-10.4l.1 7.8l.1-2.2l.1-15.3l.1 15.4l.1-4.5l.1.8l.1.7l.1-4.0l.1 7.4l.1-.4l.1 2.2l.1-2.6l.1-2.7l.1-.1l.1-1.0l.1 2.4l.1 3.9l.1-7.8l.1 2.8l.1 3.4l.1-6.3l.1 9.6l.1-3.4l.1-2.2l.1-3.9l.1-5.6l.1.2l.1 7.9l.1-5.5l.1 9.6l.1-9.6l.1 6.4l.1-10.4l.1 6.8l.1-.2l.1-2.5l.1 3.8l.1-2.5l.1 1.0l.1-3.7l.1-1.0l.1 1.7l.1.7l.1.0l.1 1.0l.1-1.6l.1 2.9l.1-6.3l.1 5.9l.1-.9l.1 6.9l.1-8.9l.1-8.6l.1 6.2l.1 6.4l.1-2.2l.1-4.8l.1 4.9l.1-4.3l.1 4.8l.1-2.1l.1-3.2l.1 2.8l.1-7.2l.1 9.0l.1-4.2l.1 3.2l.1-.9l.1-4.2l.1.5l.1-11.6l.1 13.6l.1 4.1l.1.7l.1-12.6l.1 2.0l.1-7.2l.1 16.5l.1-4.0l.1-1.1l.1-.9l.1 8.2l.1-8.4l.1-12.7l.1 12.9l.1 2.3l.1-1.0l.1-1.9l.1-10.1l.1 9.9l.1.8l.1 1.9l.1-1.0l.1 2.1l.1-2.7l.1.5l.1-5.0l.1-.6l.1 8.3l.1-4.6l.1 2.1l.1 1.1l.1-4.8l.1 6.8l.1-8.2l.1-7.1l.1 15.7l.1-8.7l.1 4.1l.1 1.5l.1.4l.1-6.4l.1 9.9l.1-4.7l.1-1.6l.1-3.0l.1.8l.1 1.5l.1 3.6l.1-3.3l.1-2.5l.1 3.8l.1-.2l.1-.4l.1-1.3l.1-1.8l.1 7.9l.1-8.8l.1 5.6l.1-9.8l.1 8.4l.1-1.2l.1-1.9l.1 11.3l.1-13.2l.1-2.1l.1 6.1l.1 1.8l.1-1.2l.1-.4l.1 3.7l.1 5.7l.1-10.1l.1 1.6l.1-2.6l.1-1.5l.1 5.5l.1-1.2l.1.8l.1-4.3l.1 4.7l.1-3.2l.1.0l.1 1.2l.1 5.2l.1-2.4l.1-5.9l.1 7.2l.1-12.0l.1 7.1l.1 7.8l.1-9.5l.1-2.9l.1 10.6l.1-2.2l.1.9l.1 1.4l.1 1.6l.1-16.0l.1.9l.1.1l.1.7l.1 2.7l.1 1.6l.1-1.9l.1 3.4l.1 5.2l.1-11.3l.1-.2l.1 1.3l.1-1.1l.1.9l.1-2.6l.1 7.9l.1-10.7l.1 4.0l.1.7l.1 6.6l.1-10.2l.1-.9l.1 1.2l.1 5.3l.1-1.7l.1-1.5l.1 1.2l.1-.7l.1 4.3l.1-3.3l.1 1.8l.1-.5l.1-7.7l.1 8.2l.1-1.0l.1 1.9l.1-2.4l.1 2.0l.1.0l.1-5.7l.1 3.2l.1-6.9l.1 11.7l.1-4.0l.1-4.8l.1.3l.1 3.0l.1 1.2l.1-5.3l.1 2.3l.1.1l.1-10.5l.1 12.2l.1 2.3l.1-4.2l.1 4.2l.1.5l.1 5.1l.1-13.5l.1 7.4l.1 1.1l.1-.1l.1.0l.1-3.4l.1-2.1l.1-10.4l.1 13.3l.1 3.9l.1-8.4l.1-1.5l.1 1.1l.1 4.0l.1 3.3l.1-8.6l.1 9.1l.1-8.2l.1 5.1l.1 2.1l.1-9.2l.1 9.3l.1-4.2l.1-1.1l.1.2l.1 5.7l.1 2.3l.1 5.0l.1 1.6l.1 9.1l.1-5.1l.1.0l.1 4.8l.1-.8l.1 7.3l.1 3.1l.1 3.5l.1-1.8l.1 5.5l.1 7.1l.1-10.7l.1 15.9l.1 6.4l.1-8.4l.1 4.0l.1 4.5l.1-6.5l.1 7.2l.1-4.9l.1 15.9l.1-10.1l.1-1.9l.1-1.6l.1 9.1l.1-2.0l.1-4.4l.1-1.3l.1-12.1l.1 24.9l.1-21.1l.1 2.4l.1 12.0l.1-.8l.1-22.6l.1 43.2l.1-11.1l.1 11.4l.1-28.5l.1 3.3l.1-3.8l.1-24.7l.1 32.3l.1-12.1l.1 4.0l.1 10.2l.1 19.6l.1-16.3l.1 1.0l.1-3.1l.1-14.8l.1 12.9l.1-14.0l.1 13.2l.1 6.1l.1-3.6l.1-18.8l.1 42.6l.1.5l.1-46.6l.1 36.1l.1-29.6l.1 3.6l.1 7.3l.1 23.3l.1-21.3l.1 3.6l.1 7.8l.1-4.3l.1-4.0l.1-14.9l.1 20.8l.1-15.3l.1 3.8l.1-.3l.1 34.5l.1-64.7l.1 33.2l.1-4.2l.1 9.1l.1-9.3l.1 3.1l.1.5l.1 8.0l.1-1.2l.1-6.6l.1 17.3l.1-23.4l.1 16.8l.1 3.8l.1-16.5l.1 16.9l.1-6.4l.1-8.1l.1 2.4l.1-4.4l.1 1.0l.1 4.2l.1-.1l.1-5.8l.1-1.5l.1-5.4l.1 20.0l.1-7.8l.1-3.0l.1 6.0l.1-1.2l.1-.8l.1-28.1l.1 27.0l.1-10.2l.1 2.7l.1 5.7l.1 1.0l.1-3.4l.1-9.6l.1 3.5l.1 20.9l.1-3.5l.1-20.1l.1-1.8l.1 17.1l.1 14.2l.1-22.0l.1-.9l.1-33.5l.1 40.8l.1 1.5l.1-24.5l.1 35.6l.1-25.1l.1 36.0l.1-53.6l.1 28.5l.1 10.3l.1-26.0l.1 21.7l.1 9.8l.1-32.4l.1 10.3l.1-.9l.1 13.0l.1-11.3l.1-2.0l.1-.2l.1-5.0l.1 7.0l.1-6.4l.1 12.3l.1-24.2l.1 29.5l.1-13.0l.1 8.5l.1 15.6l.1-24.2l.1 2.8l.1-5.7l.1-7.9l.1-6.2l.1 21.5l.1 3.5l.1-12.2l.1 3.8l.1-7.8l.1 16.3l.1-10.5l.1-1.4l.1.0l.1-1.0l.1-5.2l.1 27.6l.1-8.7l.1-11.7l.1 32.5l.1-33.0l.1 9.9l.1-27.5l.1 14.1l.1-3.9l.1 21.8l.1-9.9l.1 2.0l.1-2.9l.1.4l.1 18.8l.1-18.6l.1-20.6l.1 35.3l.1-10.4l.1 23.7l.1-24.8l.1-1.3l.1-7.8l.1.6l.1 30.9l.1-21.1l.1-14.0l.1-1.3l.1-4.8l.1 9.5l.1 2.7l.1 2.7l.1-4.9l.1 8.8l.1-6.7l.1-3.0l.1 14.7l.1-21.8l.1 21.2l.1-12.5l.1 6.5l.1-9.9l.1 27.6l.1-26.1l.1-33.4l.1 40.0l.1-5.9l.1-1.0l.1-7.7l.1 19.7l.1-17.2l.1 6.1l.1-42.7l.1-.4l.1 43.2l.1-5.5l.1-18.5l.1 22.9l.1-.8l.1-3.3l.1 24.4l.1-29.1l.1 9.3l.1-7.5l.1-10.0l.1.6l.1-5.0l.1 13.1l.1-12.6l.1 12.3l.1 10.6l.1-21.1l.1 9.0l.1-8.2l.1 7.9l.1-6.3l.1-6.4l.1 8.9l.1 2.0l.1 4.4l.1-7.9l.1-3.1l.1 20.7l.1-9.7l.1 8.3l.1-15.9l.1-9.2l.1 28.8l.1-4.1l.1-11.2l.1 5.6l.1-13.6l.1-6.2l.1-30.9l.1 26.2l.1 19.0l.1-10.0l.1-9.0l.1 10.2l.1-3.3l.1 7.3l.1 6.1l.1-3.8l.1-4.7l.1-10.0l.1 11.0l.1 4.9l.1-26.3l.1 32.3l.1 22.8l.1-25.3l.1-1.5l.1 6.2l.1 7.6l.1-15.0l.1 22.1l.1-29.3l.1 9.3l.1 12.4l.1-13.6l.1 12.5l.1-15.7l.1 7.3l.1-10.5l.1 25.4l.1-29.6l.1 19.6l.1-17.3l.1 15.0l.1 8.5l.1-11.7l.1-24.2l.1 37.0l.1-35.0l.1 23.5l.1-1.9l.1-29.7l.1 27.2l.1 9.8l.1-14.8l.1 7.3l.1 20.2l.1-31.1l.1 13.1l.1-2.6l.1 3.4l.1-.8l.1 14.3l.1-15.2l.1 1.5l.1-7.4l.1 4.8l.1 17.5l.1-13.9l.1 12.8l.1-10.7l.1-3.3l.1 6.6l.1 10.0l.1 1.7l.1-33.6l.1-2.9l.1 22.7l.1-2.7l.1 4.9l.1-11.7l.1 1.0l.1 6.9l.1-6.9l.1 10.5l.1.9l.1.7l.1.6l.1-.4l.1-4.1l.1 13.8l.1-5.0l.1-19.5l.1 39.9l.1-16.4l.1-22.5l.1 7.1l.1 1.8l.1 22.6l.1-21.2l.1-2.2l.1-8.1l.1-21.6l.1 33.7l.1 18.5l.1-32.6l.1 8.6l.1 5.0l.1 23.8l.1-26.4l.1 25.6l.1-25.7l.1 2.6l.1 8.4l.1-12.0l.1 2.7l.1-12.9l.1-.8l.1 9.6l.1-1.6l.1-8.3l.1-4.5l.1-2.6l.1 30.5l.1-12.7l.1 1.4l.1-41.2l.1 30.0l.1 6.6l.1.2l.1 6.7l.1-14.3l.1 12.6l.1-11.7l.1 18.6l.1-21.6l.1 15.9l.1-8.4l.1 4.7l.1-2.5l.1 10.2l.1-8.6l.1-6.5l.1 3.7l.1-1.8l.1-36.5l.1 38.0l.1 4.5l.1-19.3l.1 17.4l.1.0l.1-11.6l.1-3.0l.1 13.4l.1-25.1l.1 15.8l.1-11.3l.1 12.4l.1 9.2l.1-5.9l.1-34.8l.1 29.3l.1 24.1l.1-23.7l.1 14.8l.1 15.8l.1-39.2l.1-4.5l.1-.9l.1 7.8l.1 5.9l.1-8.2l.1 36.8l.1-35.7l.1 10.2l.1-9.5l.1 11.5l.1-4.8l.1-2.8l.1 33.5l.1-24.3l.1-20.5l.1 11.6l.1 4.6l.1-9.3l.1 15.5l.1 5.7l.1-4.6l.1-2.2l.1-10.2l.1 17.9l.1 2.1l.1-23.7l.1 12.3l.1 3.4l.1 5.3l.1 6.4l.1-4.0l.1-26.9l.1 25.9l.1-.1l.1-7.2l.1 15.9l.1 18.8l.1-36.4l.1 1.3l.1 13.6l.1-7.9l.1 31.1l.1-26.9l.1-3.7l.1 3.7l.1-7.4l.1 23.5l.1 11.6l.1-27.8l.1-4.1l.1 5.2l.1-6.8l.1 9.2l.1-18.5l.1 23.9l.1-18.2l.1 9.5l.1 5.7l.1-3.2l.1.1l.1-4.2l.1-22.4l.1 18.8l.1-12.5l.1 27.1l.1-25.8l.1-8.0l.1 29.5l.1-11.5l.1-21.5l.1 56.2l.1-33.3l.1 16.2l.1-9.3l.1-26.7l.1 41.5l.1-11.0l.1-21.9l.1 30.5l.1-23.6l.1-4.4l.1 8.8l.1 17.2l.1-15.6l.1-26.3l.1 29.7l.1 6.7l.1 2.6l.1-.8l.1-4.4l.1-11.5l.1-20.7l.1 45.3l.1-8.7l.1 3.9l.1-2.5l.1-9.8l.1 11.0l.1-8.8l.1 10.3l.1-22.9l.1 12.3l.1-1.4l.1 26.2l.1-30.1l.1 7.4l.1 2.7l.1-4.4l.1-.6l.1 8.9l.1 2.3l.1-2.6l.1-12.8l.1-3.3l.1-6.1l.1 16.8l.1 4.3l.1-39.6l.1 29.0l.1-19.2l.1 24.9l.1-2.5l.1-15.1l.1 21.1l.1-4.2l.1 4.3l.1 4.3l.1-17.2l.1-35.9l.1 36.7l.1-13.9l.1 13.1l.1 24.6l.1-43.3l.1 12.4l.1 1.4l.1-1.8l.1-.1l.1 2.7l.1 9.7l.1-8.7l.1 2.5l.1-12.6l.1-3.7l.1 14.3l.1 10.0l.1-11.1l.1 14.0l.1-16.4l.1-6.1l.1 25.8l.1-15.8l.1 5.2l.1-28.0l.1 9.1l.1 12.5l.1-9.1l.1-1.7l.1 6.0l.1 14.5l.1-8.6l.1 9.9l.1-17.7l.1-12.4l.1 31.4l.1-23.6l.1 13.0l.1-3.4l.1-9.4l.1 3.0l.1 15.4l.1-.1l.1-30.7l.1 6.5l.1 15.3l.1 1.1l.1-2.9l.1 19.2l.1-26.4l.1 11.4l.1 22.4l.1-23.9l.1.2l.1-20.2l.1 27.2l.1-31.1l.1 29.3l.1-15.4l.1 19.7l.1-14.3l.1 8.5l.1-7.7l.1-13.2l.1 23.1l.1-15.0l.1 8.9l.1-20.0l.1 37.6l.1-32.8l.1-19.3l.1 29.4l.1-12.0l.1 24.9l.1-14.5l.1 4.0l.1 4.7l.1-10.3l.1 1.9l.1 11.3l.1-19.0l.1 7.6l.1-2.4l.1-19.2l.1 13.9l.1-.1l.1 25.5l.1-24.0l.1 16.5l.1 11.7l.1-23.1l.1 23.8l.1-29.8l.1-6.3l.1 30.2l.1-28.0l.1 5.9l.1 30.1l.1-21.7l.1-2.0l.1 17.7l.1-14.0l.1-19.2l.1 23.8l.1-25.1l.1 21.4l.1-20.9l.1 5.4l.1 14.4l.1-7.8l.1-17.8l.1 21.5l.1 28.0l.1-29.2l.1 29.6l.1-31.2l.1 14.8l.1-3.1l.1-20.7l.1 7.2l.1 18.0l.1-10.7l.1-7.5l.1-2.1l.1 3.2l.1 17.1l.1-1.5l.1-3.0l.1-2.0l.1-11.4l.1 6.5l.1 22.6l.1-36.8l.1 23.3l.1 2.2l.1-9.2l.1 3.3l.1 3.2l.1-13.4l.1 37.6l.1-16.3l.1-16.5l.1 13.1l.1-15.5l.1 8.7l.1-1.5l.1-23.0l.1 36.8l.1-5.6l.1-4.8l.1-4.6l.1 12.9l.1-1.3l.1-28.3l.1 27.2l.1-11.4l.1 15.4l.1-6.7l.1 11.7l.1-38.5l.1 24.9l.1.3l.1-2.7l.1 17.9l.1 8.6l.1-26.0l.1-1.3l.1 7.3l.1-16.4l.1 19.1l.1-5.3l.1-12.0l.1 11.5l.1-6.7l.1-12.0l.1 24.2l.1-2.8l.1-7.3l.1-2.1l.1 26.1l.1-31.8l.1 10.9l.1 9.0l.1-.2l.1-2.4l.1-7.5l.1 10.0l.1-19.4l.1-3.3l.1 15.9l.1-10.7l.1 1.0l.1 8.8l.1-4.1l.1 4.9l.1-21.6l.1 23.9l.1 10.6l.1-17.6l.1 8.6l.1-27.7l.1 10.8l.1 1.0l.1 12.0l.1-26.2l.1 19.1l.1 7.2l.1-7.7l.1 8.4l.1-10.9l.1 11.5l.1-8.2l.1 2.3l.1-4.5l.1-4.1l.1 11.9l.1 23.3l.1-57.8l.1 27.8l.1 23.8l.1-22.3l.1 7.0l.1-7.2l.1-11.3l.1 2.2l.1 19.1l.1-.5l.1-1.7l.1-10.0l.1-2.3l.1-9.8l.1 13.0l.1 4.1l.1-2.9l.1 19.0l.1-28.2l.1 18.2l.1-13.1l.1 12.2l.1-16.7l.1 2.8l.1-1.4l.1 4.9l.1-18.9l.1 25.1l.1 21.1l.1-24.3l.1 3.9l.1-7.6l.1-8.8l.1 6.3l.1 23.5l.1-26.0l.1 22.1l.1-7.1l.1-1.9l.1 22.2l.1-27.2l.1-2.7l.1 23.4l.1-.7l.1-8.9l.1-12.2l.1-3.0l.1 8.2l.1 1.5l.1-4.0l.1 7.0l.1-.8l.1-3.8l.1-13.8l.1 28.4l.1-8.1l.1 10.2l.1-37.2l.1 20.8l.1 16.4l.1-23.1l.1 4.6l.1 15.7l.1 5.1l.1-20.0l.1 5.1l.1 2.9l.1 2.4l.1-22.0l.1 9.0l.1 10.1l.1.7l.1-4.9l.1 8.5l.1-45.4l.1 37.2l.1-10.4l.1 13.8l.1-3.2l.1 10.2l.1-23.8l.1 11.3l.1-26.8l.1 14.3l.1 31.5l.1-14.4l.1 1.8l.1 1.8l.1 6.9l.1-10.6l.1-22.7l.1 24.4l.1.6l.1 9.4l.1-12.5l.1.4l.1-9.4l.1 12.0l.1-3.3l.1-22.3l.1 35.3l.1-6.9l.1-2.5l.1-2.3l.1-3.1l.1 2.9l.1-10.3l.1 15.4l.1-13.9l.1 31.4l.1-13.7l.1-9.2l.1 7.1l.1-17.1l.1 13.5l.1-2.1l.1 6.0l.1-6.3l.1-4.0l.1-1.3l.1-8.6l.1 27.2l.1 5.0l.1-27.5l.1 8.7l.1 12.5l.1 7.7l.1-14.4l.1-8.5l.1-9.4l.1-8.9l.1 23.1l.1 5.8l.1-5.1l.1 1.5l.1-5.6l.1-5.8l.1 9.2l.1 20.7l.1-7.5l.1-16.4l.1-6.4l.1 11.1l.1 4.3l.1-33.3l.1-14.6l.1 64.5l.1-22.1l.1 10.0l.1 10.2l.1-27.1l.1-8.1l.1 31.5l.1-22.5l.1 6.4l.1-8.5l.1-6.8l.1 15.3l.1-9.5l.1 8.7l.1-16.3l.1 6.5l.1 6.8l.1-5.2l.1 23.7l.1-28.4l.1 5.0l.1-2.3l.1-.7l.1-3.5l.1 1.1l.1-7.6l.1-26.4l.1 53.1l.1-36.2l.1 16.3l.1 6.8l.1-15.3l.1 17.0l.1-10.4l.1 2.7l.1-1.5l.1 10.5l.1.7l.1-21.4l.1 17.8l.1 6.7l.1-30.0l.1 10.2l.1 6.7l.1 1.1l.1-6.3l.1 10.5l.1-7.4l.1-23.2l.1 28.6l.1-10.7l.1 35.1l.1-20.4l.1-14.8l.1 16.1l.1 9.0l.1-10.9l.1 17.5l.1-34.5l.1 3.8l.1.6l.1 15.8l.1-4.3l.1-21.8l.1 28.9l.1-13.3l.1-29.5l.1 20.7l.1 16.1l.1-2.4l.1-21.8l.1-8.5l.1 33.0l.1-10.2l.1-10.8l.1 6.6l.1 7.7l.1 26.5l.1-23.1l.1 9.1l.1-16.2l.1-14.9l.1 12.7l.1 15.6l.1-3.3l.1-15.0l.1 9.6l.1 3.7l.1-4.2l.1-6.1l.1 1.6l.1 1.1l.1-2.7l.1-8.2l.1 13.3l.1-.9l.1 23.8l.1-21.9l.1 10.7l.1 20.2l.1-15.1l.1-13.9l.1 12.7l.1 4.5l.1-13.7l.1-1.7l.1 1.1l.1 4.3l.1 2.0l.1-20.1l.1 29.6l.1-27.0l.1 11.8l.1-12.9l.1 5.4l.1 3.4l.1-21.3l.1 17.9l.1 19.4l.1-18.1l.1-1.3l.1 23.0l.1-23.8l.1 3.3l.1-3.2l.1 30.1l.1-1.6l.1 5.6l.1 2.0l.1-33.3l.1 16.0l.1-11.0l.1 7.8l.1-19.1l.1 4.6l.1 16.0l.1-.2l.1-17.0l.1 2.9l.1 8.8l.1-4.5l.1 14.1l.1-21.3l.1 10.3l.1 23.2l.1-36.5l.1-.3l.1 17.2l.1 17.1l.1-20.1l.1-.3l.1 3.3l.1 2.0l.1-21.2l.1 19.5l.1 8.3l.1-4.2l.1-9.7l.1-3.0l.1-35.0l.1 32.0l.1-28.9l.1 54.3l.1-33.1l.1-9.5l.1 41.9l.1-25.5l.1-8.4l.1 5.0l.1 6.7l.1 15.8l.1-4.1l.1-10.0l.1 13.0l.1-16.8l.1-4.7l.1-.4l.1 20.6l.1-48.7l.1 39.7l.1-2.2l.1-9.4l.1 14.9l.1 10.5l.1-8.9l.1 13.2l.1-47.0l.1 37.8l.1-18.0l.1 5.2l.1-2.3l.1-1.7l.1 6.6l.1-8.3l.1 4.0l.1 2.6l.1-16.8l.1 16.0l.1 5.0l.1-8.5l.1 18.1l.1-14.2l.1 22.5l.1-30.1l.1 10.1l.1-12.4l.1-2.2l.1 19.8l.1-5.3l.1 6.8l.1-9.4l.1-4.9l.1 28.8l.1-27.3l.1 6.4l.1-6.2l.1 26.3l.1-23.1l.1 9.4l.1-18.1l.1 4.2l.1-10.7l.1 34.9l.1-12.7l.1 10.3l.1-28.2l.1 2.6l.1.6l.1 19.2l.1 5.1l.1-31.9l.1-5.1l.1 2.7l.1 14.4l.1-19.2l.1 21.3l.1 2.8l.1-1.7l.1-4.6l.1-3.2l.1 16.5l.1-20.7l.1 10.4l.1 3.9l.1 6.0l.1-19.0l.1-4.2l.1 12.4l.1 15.8l.1-16.9l.1 10.1l.1 2.6l.1.1l.1-28.6l.1 21.5l.1 5.8l.1-13.7l.1 8.0l.1-.4l.1-9.0l.1 27.0l.1-16.3l.1 8.3l.1-17.5l.1 28.4l.1-20.9l.1-7.5l.1 15.5l.1-10.1l.1-12.2l.1 23.6l.1 24.1l.1-32.0l.1-12.1l.1 14.5l.1 5.5l.1-.3l.1 7.7l.1-9.1l.1 14.8l.1-14.3l.1 6.7l.1-31.8l.1 48.1l.1-34.4l.1 7.6l.1-8.3l.1 13.3l.1-9.3l.1-8.4l.1.9l.1 13.3l.1-1.9l.1 12.5l.1-18.4l.1-10.8l.1 13.6l.1 2.7l.1 5.1l.1 2.9l.1 5.9l.1-1.5l.1 5.7l.1-15.6l.1 4.9l.1-5.2l.1-26.5l.1 14.3l.1 1.0l.1 3.2l.1 8.8l.1 1.8l.1-11.2l.1-18.4l.1 36.0l.1-12.7l.1-10.9l.1 17.8l.1-18.7l.1-16.8l.1 33.8l.1-25.3l.1 26.9l.1-9.3l.1 1.9l.1 2.6l.1 1.2l.1-11.4l.1 10.5l.1-10.4l.1 3.5l.1-16.1l.1 22.6l.1-7.8l.1 31.6l.1-28.0l.1 1.5l.1 4.3l.1 13.1l.1-16.6l.1-10.3l.1-8.3l.1 2.0l.1-13.0l.1 54.6l.1-8.8l.1-28.8l.1-.3l.1 27.7l.1-26.9l.1 19.5l.1-9.0l.1 7.9l.1-35.5l.1 15.6l.1 20.8l.1-3.1l.1 4.9l.1-37.2l.1 23.9l.1 14.1l.1-.9l.1-12.8l.1-9.8l.1 9.1l.1-7.3l.1-5.1l.1.3l.1 12.7l.1 9.0l.1 4.1l.1-36.0l.1 15.6l.1-16.1l.1 34.3l.1-9.7l.1 4.8l.1-1.5l.1 11.7l.1-27.9l.1 27.8l.1-27.9l.1 20.6l.1-48.8l.1 27.3l.1 5.8l.1 3.4l.1-6.3l.1 8.5l.1 18.3l.1-24.3l.1-7.6l.1 24.1l.1-7.7l.1 6.9l.1-7.0l.1-2.1l.1-.4l.1-20.1l.1 26.7l.1-11.2l.1-6.7l.1 6.9l.1 18.0l.1-24.3l.1 9.2l.1.2l.1 17.1l.1-16.7l.1-11.9l.1.0l.1 4.5l.1 21.3l.1-24.8l.1 16.5l.1.0l.1-12.6l.1-7.4l.1 20.8l.1-16.7l.1 15.8l.1 3.2l.1-7.1l.1-3.1l.1 19.8l.1 8.7l.1-32.7l.1 7.5l.1-33.8l.1 35.8l.1 6.2l.1-31.5l.1 20.0l.1 5.6l.1 4.9l.1-8.3l.1 6.1l.1-14.8l.1 3.1l.1 15.5l.1-9.8l.1 25.5l.1-32.4l.1 19.9l.1-24.0l.1 10.5l.1-5.7l.1 6.8l.1-.7l.1 12.6l.1-10.7l.1-3.3l.1 5.0l.1 23.3l.1-35.1l.1 7.3l.1-24.2l.1 25.3l.1 10.2l.1-14.0l.1 18.5l.1 14.9l.1-36.3l.1 37.1l.1-17.3l.1.3l.1-4.2l.1-18.8l.1 20.9l.1-43.5l.1 44.5l.1 21.1l.1-37.5l.1.3l.1 10.5l.1 12.7l.1-13.0l.1-24.3l.1 30.4l.1-16.9l.1 30.3l.1-16.6l.1-8.7l.1 5.5l.1 19.2l.1-9.5l.1-1.0l.1-26.1l.1 12.0l.1-2.4l.1 14.4l.1-7.4l.1 9.3l.1 14.6l.1-11.0l.1-10.7l.1 22.0l.1-12.4l.1-20.7l.1 10.4l.1-2.5l.1 8.6l.1 17.2l.1-49.6l.1 21.5l.1 6.6l.1-7.1l.1 5.6l.1-6.0l.1 1.0l.1-10.4l.1 12.8l.1 21.1l.1-3.1l.1-22.3l.1-11.0l.1 9.7l.1-11.7l.1 16.1l.1-9.5l.1-5.8l.1-1.9l.1 12.8l.1 27.4l.1-18.7l.1-10.1l.1 5.3l.1 6.1l.1-8.8l.1 21.2l.1-29.1l.1 2.5l.1 31.4l.1-12.3l.1-19.5l.1 4.4l.1-1.8l.1 5.7l.1 22.1l.1-25.8l.1 14.8l.1 2.8l.1 3.4l.1-26.3l.1-14.7l.1-12.6l.1 42.0l.1-2.5l.1-44.6l.1 52.3l.1-12.4l.1-7.9l.1 10.4l.1.4l.1-16.2l.1-2.4l.1 9.4l.1-9.8l.1 11.4l.1 1.2l.1-6.3l.1 7.0l.1-18.7l.1 19.6l.1-.8l.1-20.8l.1 22.5l.1 10.0l.1-31.8l.1 17.1l.1-6.3l.1 5.9l.1-1.8l.1-2.5l.1 12.9l.1-14.2l.1 10.2l.1-10.6l.1 29.0l.1-32.0l.1 25.9l.1-30.9l.1 2.5l.1 19.4l.1 11.0l.1-1.7l.1-19.3l.1-1.3l.1-21.2l.1 20.6l.1 6.4l.1-20.5l.1 20.8l.1 26.8l.1-24.9l.1-7.8l.1 23.4l.1 1.7l.1-11.8l.1 16.9l.1-15.5l.1-2.1l.1-14.0l.1 13.1l.1-26.7l.1 28.6l.1-28.0l.1 26.3l.1-2.8l.1 4.5l.1 1.7l.1 19.8l.1-27.7l.1-37.0l.1 42.1l.1-23.4l.1 42.0l.1 4.0l.1-35.5l.1 14.8l.1-20.2l.1-1.5l.1 23.3l.1.2l.1-2.7l.1 3.2l.1-17.6l.1 15.0l.1-10.4l.1 15.6l.1.9l.1 10.7l.1-18.7l.1-13.6l.1 19.0l.1-12.8l.1 4.7l.1-7.6l.1 16.7l.1 19.7l.1-26.6l.1 15.7l.1-13.8l.1-16.0l.1-13.0l.1 26.5l.1 5.6l.1-11.4l.1 5.5l.1 16.1l.1-10.3l.1 12.7l.1-20.2l.1-30.0l.1 28.9l.1.3l.1 1.8l.1-1.4l.1-8.0l.1 12.2l.1 7.8l.1-47.8l.1 40.4l.1 7.8l.1-14.7l.1 31.3l.1-21.1l.1-13.7l.1 3.2l.1-9.8l.1-23.4l.1 38.1l.1 3.1l.1-5.1l.1 6.5l.1-13.7l.1-2.5l.1 15.5l.1-18.1l.1 24.7l.1-21.6l.1 9.0l.1 12.1l.1-9.6l.1 11.9l.1-27.7l.1 9.9l.1 15.3l.1-17.7l.1-2.5l.1 24.1l.1-15.2l.1 3.0l.1-.3l.1-17.5l.1 10.7l.1 18.3l.1-30.3l.1 28.0l.1-5.6l.1-11.4l.1 12.7l.1-19.6l.1-19.0l.1 16.6l.1 12.9l.1-4.5l.1-19.0l.1 49.3l.1-18.6l.1-21.3l.1 10.5l.1 3.4l.1-26.6l.1 32.5l.1-7.2l.1 5.3l.1-2.6l.1-10.3l.1 26.2l.1-30.7l.1 10.4l.1 5.2l.1-19.8l.1 39.3l.1-25.2l.1 11.6l.1-16.3l.1-.1l.1-30.3l.1 34.4l.1 6.2l.1-6.4l.1 16.0l.1-1.8l.1-2.2l.1-3.9l.1-3.6l.1-2.5l.1-4.3l.1 6.3l.1-8.4l.1 20.3l.1-1.4l.1-6.9l.1 1.9l.1-35.2l.1 35.9l.1-15.7l.1 9.3l.1 9.2l.1 1.8l.1-22.1l.1 19.2l.1-3.0l.1-19.3l.1 27.7l.1 7.5l.1 9.0l.1-25.4l.1-5.1l.1 9.8l.1 4.1l.1-7.2l.1 12.9l.1-23.0l.1 24.3l.1 7.0l.1 11.9l.1-12.2l.1-8.8l.1 2.0l.1-36.1l.1 30.4l.1 8.2l.1-14.1l.1 5.7l.1 2.3l.1-22.9l.1 19.1l.1 6.6l.1-5.3l.1-3.8l.1-.4l.1.1l.1-14.9l.1 21.4l.1-7.9l.1 10.3l.1-7.9l.1 14.4l.1-6.9l.1-5.2l.1 2.5l.1-4.9l.1 6.7l.1-14.6l.1 20.5l.1-17.4l.1 23.3l.1-14.7l.1-22.7l.1 18.1l.1-1.1l.1 20.0l.1-54.3l.1 20.0l.1-.7l.1 42.6l.1-14.7l.1-12.6l.1-1.6l.1-1.7l.1 8.0l.1-17.9l.1-1.5l.1 24.5l.1-1.5l.1-13.0l.1-5.5l.1 8.0l.1 6.3l.1 2.6l.1-17.6l.1-3.8l.1 6.1l.1 11.8l.1-2.6l.1-22.9l.1 24.9l.1 3.4l.1 7.3l.1-11.3l.1-15.4l.1-.2l.1 5.1l.1-5.7l.1 9.2l.1-5.8l.1 20.6l.1-5.6l.1.2l.1-12.3l.1 11.6l.1 1.2l.1 1.4l.1-4.6l.1-25.2l.1 6.4l.1 17.1l.1-19.0l.1 12.3l.1.6l.1-36.2l.1 50.7l.1-12.1l.1-12.5l.1 3.7l.1.0l.1 1.2l.1-5.7l.1 4.8l.1-10.4l.1 5.0l.1 36.8l.1-26.0l.1 10.8l.1-16.5l.1 12.9l.1-.7l.1-13.6l.1 13.7l.1 2.0l.1 21.5l.1-15.5l.1-7.7l.1 19.5l.1 1.4l.1-15.8l.1-14.0l.1 33.1l.1-23.5l.1 4.2l.1-5.6l.1 5.9l.1-5.9l.1-9.3l.1 23.2l.1-22.1l.1-6.8l.1 18.3l.1-39.6l.1 35.5l.1-6.6l.1 1.9l.1-1.3l.1 14.6l.1 6.4l.1 2.1l.1-8.6l.1 8.1l.1-10.1l.1-1.3l.1-2.9l.1 1.7l.1-6.5l.1 13.1l.1-7.6l.1-4.4l.1 5.6l.1 28.7l.1-27.4l.1 4.0l.1-1.2l.1 2.9l.1-.2l.1 2.1l.1-20.3l.1 11.5l.1-.9l.1 18.5l.1-29.0l.1 10.8l.1-2.0l.1 9.2l.1-7.6l.1 9.4l.1-22.6l.1 43.0l.1-23.3l.1-10.1l.1 4.0l.1-9.5l.1 8.0l.1-11.5l.1 23.9l.1-20.3l.1 8.1l.1 6.5l.1-.5l.1 2.8l.1-2.8l.1-20.3l.1-21.6l.1 38.2l.1 6.1l.1 12.5l.1-5.7l.1-15.5l.1.7l.1-6.0l.1 8.0l.1 3.0l.1-4.2l.1-.3l.1-10.4l.1 13.3l.1-4.1l.1-2.0l.1 14.1l.1-16.9l.1 4.9l.1-11.7l.1 6.2l.1-3.5l.1 24.2l.1-56.0l.1 39.5l.1-10.6l.1-1.9l.1 7.8l.1 7.2l.1-12.9l.1-4.5l.1 4.6l.1 8.7l.1-2.2l.1 2.3l.1-3.2l.1-5.5l.1-21.2l.1 18.0l.1 4.5l.1 8.5l.1-2.2l.1 4.4l.1-6.2l.1-4.9l.1-1.7l.1-22.0l.1 15.4l.1 7.6l.1-1.4l.1 4.3l.1 4.2l.1 12.4l.1-33.5l.1 15.4l.1-10.3l.1 8.4l.1-2.5l.1-17.0l.1 22.6l.1-2.4l.1-.6l.1 1.3l.1 6.6l.1 1.4l.1-21.9l.1-2.9l.1 31.4l.1-11.2l.1-43.5l.1 24.3l.1 40.7l.1-7.6l.1-35.9l.1 13.5l.1-17.5l.1 16.5l.1 9.6l.1 6.5l.1-15.6l.1 10.1l.1-2.8l.1 3.3l.1-8.6l.1.3l.1 5.4l.1 19.4l.1-23.0l.1 10.2l.1-1.2l.1-2.3l.1-22.4l.1 21.9l.1 1.9l.1 4.8l.1 19.0l.1-17.0l.1-13.0l.1 1.3l.1-21.1l.1 29.0l.1.3l.1 19.8l.1-23.4l.1-6.3l.1-3.4l.1 5.9l.1 25.6l.1-25.1l.1 17.6l.1 6.0l.1-17.3l.1-13.6l.1-3.3l.1 2.9l.1 25.9l.1 5.6l.1-16.1l.1-2.9l.1-7.0l.1 27.1l.1-28.0l.1 9.1l.1-9.9l.1 9.2l.1-26.2l.1 13.6l.1-2.4l.1 4.1l.1 22.7l.1-18.0l.1 25.4l.1-40.9l.1 26.1l.1-7.1l.1-2.7l.1 17.4l.1-19.3l.1 9.4l.1 15.3l.1-28.8l.1-.9l.1 24.1l.1-8.3l.1-44.8l.1 32.8l.1 14.2l.1-4.2l.1-9.0l.1 10.8l.1-13.6l.1 8.8l.1 3.9l.1-3.6l.1-7.7l.1 1.0l.1 3.7l.1-11.0l.1 1.5l.1.4l.1 5.1l.1 1.6l.1 6.1l.1 2.2l.1-22.7l.1 5.4l.1 6.6l.1 4.6l.1-22.8l.1 1.1l.1 6.9l.1-15.6l.1 14.1l.1 7.2l.1 4.7l.1-15.7l.1 4.7l.1 18.0l.1-11.8l.1 4.2l.1 1.6l.1-12.1l.1 10.2l.1 18.4l.1-23.5l.1 10.4l.1-9.8l.1-6.7l.1 9.8l.1-4.1l.1-10.5l.1 27.9l.1-14.1l.1-15.4l.1 41.9l.1-21.3l.1-1.5l.1-3.2l.1-7.0l.1-9.5l.1 7.2l.1-26.2l.1 36.7l.1-3.2l.1 2.7l.1-6.2l.1-19.3l.1 29.8l.1 12.2l.1-12.1l.1-3.2l.1 3.5l.1-2.1l.1-3.9l.1-3.2l.1 14.4l.1-8.6l.1-.4l.1-19.7l.1 13.7l.1 1.7l.1-14.8l.1 20.4l.1-.4l.1-3.6l.1-18.3l.1 12.5l.1 4.4l.1 12.3l.1-16.3l.1-31.6l.1 40.3l.1-3.4l.1-.8l.1 10.5l.1-34.2l.1 23.3l.1 10.6l.1 18.2l.1-15.9l.1-26.8l.1 6.4l.1-2.2l.1-6.0l.1 18.0l.1-9.1l.1-2.9l.1 36.1l.1-24.2l.1-2.7l.1-.5l.1 15.4l.1-10.1l.1-16.4l.1 16.4l.1 3.6l.1-9.3l.1 7.6l.1-38.8l.1 34.1l.1 8.3l.1-16.9l.1-27.5l.1 40.0l.1-34.3l.1 53.8l.1-8.0l.1-5.8l.1-45.4l.1 42.5l.1-18.2l.1 13.5l.1 27.1l.1-21.4l.1-20.8l.1 14.2l.1-7.3l.1 8.2l.1-37.0l.1 52.5l.1-17.6l.1 11.2l.1-9.7l.1-17.1l.1 20.5l.1 19.4l.1-19.9l.1-1.8l.1 29.7l.1-16.3l.1-43.8l.1 33.1l.1-5.0l.1 16.6l.1-19.6l.1 6.1l.1 1.5l.1-4.0l.1 4.7l.1-12.6l.1 16.7l.1-39.5l.1 37.1l.1 25.7l.1-33.1l.1 8.1l.1-1.9l.1-5.5l.1 6.5l.1-10.1l.1-3.4l.1 21.9l.1-19.8l.1 23.6l.1-4.2l.1-3.0l.1-8.7l.1 10.1l.1 3.1l.1-3.1l.1.0l.1-.5l.1 1.0l.1-6.5l.1 4.4l.1-6.0l.1-25.5l.1 29.0l.1-3.7l.1-5.7l.1 4.5l.1-14.8l.1 38.7l.1-15.8l.1-3.9l.1-12.5l.1 24.7l.1-27.5l.1-8.3l.1 23.2l.1 13.0l.1-13.2l.1 9.6l.1 2.1l.1-17.4l.1 10.0l.1-12.4l.1 8.2l.1-8.3l.1 15.2l.1 1.3l.1-18.4l.1 8.0l.1-.6l.1 3.3l.1 6.3l.1-.5l.1-21.4l.1 20.0l.1 14.5l.1-22.6l.1 20.0l.1-24.2l.1 12.8l.1 2.9l.1-13.0l.1 20.1l.1-20.6l.1-21.8l.1 21.4l.1-11.4l.1 7.5l.1 4.5l.1-2.4l.1 22.5l.1-14.4l.1 7.3l.1.7l.1 9.8l.1-10.0l.1-5.3l.1-4.1l.1-5.5l.1 1.7l.1 17.6l.1 3.3l.1-13.9l.1 5.1l.1-1.8l.1-4.2l.1 5.5l.1 19.8l.1-35.9l.1 30.0l.1-32.0l.1 13.4l.1-3.8l.1 3.2l.1-6.7l.1-6.2l.1 20.4l.1 3.5l.1-5.5l.1-4.8l.1-4.6l.1-15.1l.1 7.1l.1-26.3l.1 28.9l.1 17.7l.1-7.2l.1-14.7l.1 27.1l.1 13.6l.1-28.1l.1 8.5l.1-15.1l.1 6.5l.1 15.9l.1-10.0l.1-8.6l.1 3.0l.1 8.6l.1-3.1l.1-31.0l.1 20.3l.1 34.1l.1-28.5l.1-.7l.1-18.9l.1 5.4l.1 22.2l.1-9.5l.1 5.8l.1-3.0l.1-7.8l.1 10.1l.1 8.0l.1-15.8l.1 6.8l.1.7l.1 12.8l.1-14.1l.1-10.8l.1 4.5l.1-1.3l.1 15.1l.1-13.5l.1 13.2l.1.6l.1 21.0l.1.2l.1-25.6l.1-2.8l.1 13.5l.1-22.2l.1 7.2l.1-.2l.1-.5l.1-10.4l.1-12.2l.1 39.8l.1-3.0l.1 14.4l.1-23.0l.1-3.5l.1 1.7l.1 4.5l.1-3.1l.1 24.4l.1-19.7l.1-.6l.1-6.3l.1 14.9l.1-20.5l.1 5.6l.1-1.3l.1 10.8l.1-43.0l.1 19.9l.1 27.4l.1-11.9l.1-32.1l.1 26.2l.1 7.2l.1-2.1l.1 2.5l.1-12.3l.1 19.2l.1-18.5l.1 10.4l.1 4.0l.1-1.1l.1-15.0l.1 8.7l.1-15.0l.1 39.1l.1-26.8l.1 11.1l.1-18.6l.1 9.2l.1-9.9l.1 10.9l.1 23.4l.1-21.7l.1-10.7l.1 10.5l.1-10.8l.1-5.5l.1.9l.1 11.6l.1 9.7l.1-11.1l.1 13.2l.1 8.3l.1-22.5l.1 6.3l.1.1l.1 11.6l.1-21.5l.1 7.7l.1-36.9l.1 32.9l.1-19.6l.1 26.4l.1-15.7l.1 21.9l.1-9.4l.1-7.1l.1 30.7l.1-63.3l.1 44.6l.1-19.3l.1 1.7l.1-.9l.1-2.2l.1 15.5l.1.6l.1 7.2l.1 8.2l.1-22.7l.1 3.5l.1.2l.1 26.2l.1-26.1l.1 5.7l.1 2.5l.1-9.0l.1-9.3l.1 6.0l.1 9.8l.1-5.3l.1 18.0l.1-33.3l.1 22.7l.1-17.2l.1.0l.1 36.7l.1-31.7l.1 14.9l.1-13.3l.1-2.5l.1-3.7l.1-3.0l.1 38.5l.1-17.0l.1-9.2l.1 16.6l.1-20.9l.1-1.6l.1 8.3l.1-6.8l.1 5.3l.1 9.5l.1-10.3l.1 3.5l.1-17.5l.1 18.8l.1-13.8l.1-3.5l.1 25.8l.1-21.8l.1-13.1l.1 14.4l.1-18.6l.1 19.3l.1-7.5l.1 29.2l.1-7.0l.1-14.2l.1-3.0l.1-14.6l.1 25.5l.1-5.1l.1-4.3l.1-3.8l.1-5.6l.1 10.4l.1-11.0l.1 12.1l.1-22.7l.1 19.5l.1 2.8l.1-3.7l.1.5l.1 15.2l.1-20.7l.1-5.4l.1 33.5l.1-27.9l.1 8.4l.1-1.6l.1-8.4l.1 5.4l.1 10.6l.1-10.6l.1 3.0l.1-7.3l.1 4.4l.1-4.5l.1-4.9l.1 20.0l.1-3.8l.1-4.2l.1 3.3l.1 1.1l.1 1.8l.1-15.7l.1 17.8l.1-13.5l.1.2l.1-3.6l.1 15.6l.1-2.4l.1 18.4l.1-32.2l.1 9.1l.1-31.0l.1 8.3l.1 14.6l.1-27.4l.1 37.2l.1-16.1l.1 25.7l.1-12.4l.1 14.8l.1-13.2l.1 14.4l.1-16.4l.1 21.7l.1-1.4l.1-30.4l.1-2.1l.1 3.0l.1-3.7l.1 26.9l.1-44.4l.1 41.6l.1 1.8l.1.8l.1 12.8l.1-26.6l.1 15.0l.1-27.7l.1 10.6l.1 6.1l.1-24.0l.1 22.6l.1 11.0l.1-6.8l.1 4.1l.1-6.0l.1-1.7l.1 10.3l.1-19.3l.1 21.2l.1-11.4l.1 15.7l.1-6.3l.1-8.6l.1-16.7l.1 21.5l.1-5.7l.1 1.0l.1 5.6l.1-2.9l.1.9l.1-9.7l.1 32.6l.1-34.0l.1 18.5l.1 5.4l.1-26.3l.1 4.0l.1 16.9l.1 1.9l.1-13.0l.1-23.3l.1 50.6l.1-47.4l.1 19.7l.1 13.8l.1-6.8l.1-27.9l.1 37.4l.1-7.2l.1-12.9l.1-13.2l.1-2.3l.1 15.0l.1-24.8l.1 26.6l.1-7.2l.1-6.5l.1 5.4l.1 7.6l.1-.2l.1-2.3l.1-19.7l.1-8.7l.1 13.8l.1 13.1l.1 3.1l.1-16.1l.1 10.4l.1 7.2l.1 8.7l.1-12.7l.1 1.6l.1-11.9l.1 12.1l.1 8.7l.1-14.6l.1-6.5l.1-1.5l.1 6.6l.1-30.4l.1 32.6l.1-14.4l.1 26.2l.1-9.3l.1 3.2l.1 22.8l.1-14.3l.1 11.4l.1-17.9l.1-.6l.1-32.3l.1 46.2l.1-10.2l.1-12.5l.1 37.9l.1-24.4l.1 4.9l.1 8.6l.1 10.2l.1-31.1l.1-3.9l.1 8.9l.1-17.8l.1 14.5l.1 4.2l.1-2.6l.1-3.7l.1 17.0l.1-28.2l.1 21.6l.1 5.7l.1-13.7l.1.8l.1 7.9l.1 1.7l.1-3.0l.1-15.9l.1 26.2l.1-13.4l.1-7.3l.1-14.3l.1 18.9l.1-5.9l.1 4.9l.1 8.9l.1-6.0l.1 9.1l.1-20.7l.1 6.6l.1 14.7l.1-4.0l.1-3.7l.1-2.2l.1-1.0l.1 13.4l.1-32.1l.1 35.0l.1-15.8l.1 2.2l.1-23.9l.1 40.0l.1-17.0l.1-1.0l.1 7.9l.1-2.6l.1-2.7l.1 9.5l.1 2.5l.1-9.7l.1-.4l.1-21.6l.1 16.4l.1 13.7l.1-25.2l.1 24.2l.1-31.4l.1 30.1l.1-8.8l.1 3.4l.1 21.9l.1-22.6l.1-12.0l.1 20.2l.1-26.3l.1 15.4l.1-20.7l.1 38.3l.1-21.4l.1 10.0l.1-26.1l.1 26.5l.1 4.6l.1-8.7l.1 10.5l.1-29.7l.1 35.8l.1-30.6l.1 6.5l.1 13.6l.1-7.3l.1 5.5l.1-17.3l.1 1.3l.1-.5l.1-.7l.1 9.2l.1 1.8l.1-29.7l.1 42.0l.1-24.9l.1 29.5l.1-27.9l.1 24.3l.1-6.8l.1-6.6l.1 5.3l.1-1.0l.1-.6l.1 7.1l.1-18.6l.1-14.0l.1 13.1l.1 14.1l.1 8.1l.1-27.1l.1 25.1l.1-8.1l.1 5.7l.1-22.3l.1 9.4l.1-1.7l.1 15.1l.1-18.7l.1 13.8l.1 8.6l.1-5.3l.1-24.5l.1 13.1l.1 10.7l.1-13.1l.1 8.8l.1-15.4l.1 14.7l.1 5.6l.1-3.7l.1 6.9l.1-16.2l.1 7.7l.1-1.0l.1-5.7l.1 21.7l.1-15.2l.1 3.1l.1 2.8l.1-10.8l.1 2.8l.1 4.8l.1-19.8l.1 4.7l.1 12.8l.1 3.9l.1 15.0l.1-38.3l.1 1.9l.1 12.9l.1-11.2l.1 32.9l.1-35.3l.1-9.6l.1 21.5l.1-.7l.1 29.5l.1-12.2l.1-28.4l.1 6.0l.1-5.0l.1 15.7l.1-14.2l.1 2.2l.1 23.5l.1-21.7l.1-2.4l.1 24.7l.1-17.1l.1 8.8l.1-5.6l.1-11.1l.1 23.4l.1-23.9l.1 17.3l.1-11.3l.1-9.0l.1 7.1l.1 5.5l.1 2.9l.1 21.9l.1-39.6l.1 16.9l.1 15.6l.1-38.1l.1 4.0l.1 16.8l.1.5l.1 1.5l.1-21.9l.1-7.2l.1 26.7l.1-2.7l.1.5l.1 9.7l.1-4.2l.1-18.7l.1 18.8l.1-8.4l.1-15.0l.1 26.6l.1 17.1l.1-28.8l.1 8.8l.1-13.3l.1 13.3l.1 2.9l.1-8.3l.1 17.4l.1-34.8l.1 23.6l.1 3.1l.1-41.6l.1 56.8l.1-4.9l.1-17.7l.1 31.7l.1-40.9l.1 15.7l.1 17.4l.1-26.8l.1 10.2l.1-5.8l.1 16.7l.1.4l.1-11.1l.1-.1l.1 2.0l.1.7l.1-1.3l.1 20.3l.1-31.0l.1-1.8l.1 14.8l.1-14.5l.1-14.7l.1 40.7l.1-27.3l.1 27.3l.1-19.3l.1 12.5l.1.7l.1-19.2l.1 3.9l.1 12.3l.1-1.6l.1 6.9l.1-8.9l.1-1.0l.1-14.8l.1 16.4l.1 21.8l.1-18.6l.1 4.5l.1-1.4l.1-34.7l.1 20.7l.1-1.2l.1 6.0l.1-9.2l.1 13.7l.1-25.0l.1 11.0l.1 11.3l.1 16.3l.1-20.1l.1-6.8l.1 8.7l.1 10.5l.1-8.6l.1-11.2l.1 11.2l.1 6.9l.1-26.3l.1 21.6l.1-26.8l.1 26.1l.1 5.7l.1-29.0l.1 11.7l.1 11.8l.1-16.0l.1 11.5l.1 12.4l.1-1.7l.1-25.6l.1 4.8l.1 6.4l.1 1.9l.1-20.9l.1 24.8l.1-.7l.1-1.2l.1 4.3l.1 7.2l.1-14.1l.1-4.7l.1 8.6l.1-12.4l.1 19.5l.1 2.4l.1-14.7l.1 13.2l.1-5.6l.1 3.9l.1-11.6l.1 2.5l.1 16.2l.1-1.8l.1-20.1l.1 9.2l.1 8.5l.1-12.7l.1 14.2l.1-4.3l.1 5.2l.1 18.2l.1-41.4l.1 28.2l.1-17.7l.1 31.3l.1-45.2l.1 14.8l.1-2.9l.1 3.3l.1 8.4l.1 10.4l.1-7.9l.1-9.9l.1-24.1l.1 20.6l.1 2.7l.1 11.2l.1-12.4l.1.9l.1 32.1l.1-21.2l.1-18.4l.1 10.8l.1-32.9l.1 43.1l.1-8.6l.1-3.3l.1 2.1l.1 3.6l.1 5.2l.1-18.2l.1 11.7l.1 2.4l.1 5.3l.1-6.6l.1-7.4l.1 9.4l.1 28.1l.1-.6l.1-30.0l.1-.9l.1 18.1l.1-25.6l.1 3.5l.1 12.3l.1-8.6l.1 6.1l.1 6.4l.1 13.1l.1-18.8l.1-5.4l.1-5.2l.1 5.7l.1 24.9l.1-21.5l.1-3.0l.1-6.9l.1 11.3l.1.6l.1-8.9l.1-6.7l.1 14.9l.1 5.8l.1 6.4l.1-15.3l.1-1.7l.1.6l.1 13.2l.1-45.7l.1 26.7l.1 18.9l.1-19.5l.1 13.7l.1-2.7l.1-21.7l.1-10.9l.1 27.0l.1-11.0l.1 12.9l.1-13.0l.1-12.7l.1 41.7l.1-18.8l.1 30.6l.1-35.1l.1-13.1l.1 17.1l.1-4.8l.1 13.6l.1-7.0l.1-14.5l.1 23.1l.1-43.7l.1 36.1l.1 17.2l.1-1.1l.1-13.0l.1 12.0l.1-27.5l.1 3.7l.1-7.0l.1 23.1l.1-18.5l.1 24.4l.1-7.8l.1-7.7l.1 23.4l.1-25.2l.1 8.4l.1 4.2l.1-19.1l.1 16.8l.1-3.0l.1-14.3l.1 8.6l.1 2.4l.1 14.0l.1-11.7l.1-3.2l.1 10.7l.1-7.5l.1 7.5l.1-10.0l.1-14.5l.1 16.9l.1 11.0l.1 3.7l.1-2.7l.1-25.8l.1 20.4l.1 26.5l.1-19.2l.1 5.9l.1-18.5l.1 1.6l.1-6.7l.1 15.7l.1-11.1l.1 6.2l.1 1.7l.1.4l.1-4.9l.1 7.4l.1 7.0l.1-6.5l.1.8l.1 11.3l.1-14.0l.1-5.9l.1 6.6l.1 1.8l.1-35.9l.1 29.3l.1-6.6l.1 12.7l.1-13.9l.1 4.7l.1 15.5l.1-18.2l.1-3.4l.1 8.7l.1 11.9l.1-22.0l.1 17.9l.1-41.8l.1 32.7l.1 14.6l.1-12.4l.1 4.7l.1 25.5l.1-15.9l.1-21.2l.1 10.0l.1-24.9l.1 11.6l.1 37.3l.1-27.0l.1-3.3l.1-4.2l.1-5.5l.1-4.2l.1 33.4l.1-15.6l.1-13.1l.1 8.1l.1 20.2l.1-29.4l.1 25.1l.1-22.5l.1-12.4l.1 34.5l.1-43.0l.1 7.4l.1 18.3l.1.8l.1 14.9l.1-3.2l.1 10.3l.1-51.9l.1 58.0l.1-32.1l.1 20.7l.1-24.9l.1.6l.1 8.0l.1-22.1l.1 32.8l.1 2.4l.1-.1l.1-15.7l.1-2.0l.1 19.7l.1-40.3l.1 24.0l.1-2.4l.1 9.7l.1 23.2l.1-23.6l.1-20.8l.1 19.2l.1-2.5l.1 20.5l.1-34.4l.1 15.0l.1-10.4l.1 14.7l.1-5.5l.1-2.2l.1 17.2l.1-17.2l.1 12.7l.1-44.8l.1 21.8l.1.7l.1 4.2l.1 7.5l.1-.6l.1 13.6l.1-5.4l.1 3.8l.1-12.3l.1 3.7l.1-3.0l.1-1.4l.1 5.2l.1.0l.1-6.0l.1 6.2l.1 1.1l.1-4.3l.1-8.2l.1.4l.1-1.6l.1-3.4l.1-10.3l.1 22.9l.1 17.8l.1 4.5l.1-14.1l.1-20.8l.1-25.5l.1 8.7l.1 41.7l.1-15.6l.1 1.8l.1 9.3l.1 5.3l.1-21.3l.1 8.7l.1-1.3l.1-8.9l.1 4.5l.1-35.0l.1 38.6l.1 25.8l.1-25.6l.1-17.1l.1 6.0l.1 6.1l.1 10.9l.1-7.9l.1-6.4l.1 23.3l.1-11.7l.1-22.9l.1.5l.1 12.3l.1 1.4l.1-.6l.1 5.5l.1-2.7l.1 1.2l.1 3.2l.1-17.8l.1 22.7l.1-4.8l.1 18.2l.1-15.3l.1-23.4l.1 29.0l.1-20.3l.1 19.7l.1 4.9l.1-36.4l.1 22.6l.1-3.5l.1-3.3l.1-3.0l.1 11.1l.1-3.9l.1 26.0l.1-10.1l.1-17.8l.1 24.3l.1-10.8l.1-13.2l.1 25.1l.1-19.9l.1-8.6l.1 15.8l.1-38.8l.1 37.6l.1-1.4l.1 5.8l.1-19.6l.1-1.2l.1 20.6l.1-9.0l.1-18.7l.1 10.6l.1 9.0l.1-12.9l.1 4.1l.1-9.0l.1-14.3l.1 3.7l.1 7.7l.1 7.3l.1 15.5l.1-5.8l.1-1.3l.1-12.7l.1 3.6l.1 11.4l.1 27.6l.1-9.0l.1-19.9l.1 15.5l.1-10.0l.1-3.8l.1 4.0l.1 6.0l.1-15.2l.1 10.9l.1 22.6l.1-24.3l.1-3.7l.1 17.8l.1-54.4l.1.1l.1 44.5l.1-12.5l.1 21.0l.1-22.4l.1 1.5l.1 9.7l.1-.1l.1-2.2l.1 3.3l.1-6.8l.1-9.2l.1 11.0l.1 1.3l.1-4.3l.1-33.5l.1 23.5l.1 14.5l.1-7.6l.1 6.3l.1-10.8l.1 5.7l.1-4.6l.1 15.9l.1-4.4l.1 7.2l.1-29.7l.1 23.5l.1 22.0l.1-33.3l.1 12.4l.1-3.3l.1-13.5l.1 37.8l.1-29.2l.1.2l.1 2.1l.1-4.1l.1-10.3l.1 22.1l.1-6.7l.1-11.4l.1-11.9l.1 36.1l.1-11.3l.1-16.9l.1-.2l.1-11.0l.1-8.7l.1 24.0l.1-20.0l.1 20.9l.1-36.4l.1 30.3l.1 17.1l.1-18.1l.1-4.7l.1-2.6l.1 19.6l.1-32.3l.1 21.2l.1-14.4l.1-1.8l.1 1.0l.1 8.4l.1 9.4l.1-17.4l.1-5.3l.1 12.1l.1-8.6l.1-30.0l.1 37.6l.1-12.2l.1 20.5l.1-12.9l.1-4.0l.1 11.5l.1-14.3l.1 11.2l.1 6.8l.1-40.4l.1 57.9l.1-22.5l.1-11.5l.1 18.7l.1 12.7l.1-20.4l.1-5.2l.1-16.3l.1 17.4l.1 6.7l.1 11.4l.1-54.2l.1 38.7l.1-3.5l.1-1.3l.1-6.0l.1 28.8l.1-20.1l.1-15.6l.1 14.9l.1-17.8l.1 16.2l.1-6.3l.1.7l.1 7.2l.1 7.4l.1-15.6l.1 6.2l.1 5.9l.1-39.3l.1 38.4l.1 6.4l.1-12.4l.1 6.9l.1-4.2l.1 11.0l.1-15.1l.1 34.1l.1-2.4l.1-48.8l.1 15.9l.1 26.8l.1-15.5l.1 10.3l.1 3.7l.1-7.9l.1-22.0l.1 10.6l.1 12.9l.1 3.8l.1-23.4l.1 3.6l.1 4.0l.1 4.2l.1 1.2l.1 5.3l.1-8.3l.1-31.5l.1 27.6l.1 17.6l.1-.8l.1-16.7l.1 13.7l.1-9.2l.1-9.5l.1.3l.1-1.6l.1 13.8l.1-21.3l.1 11.1l.1 13.1l.1 2.0l.1-22.3l.1 32.1l.1-31.4l.1 19.1l.1-8.9l.1 5.2l.1-10.2l.1 3.5l.1 11.1l.1-6.9l.1 9.6l.1-16.1l.1 13.1l.1 1.1l.1-38.4l.1 21.7l.1 5.8l.1 12.7l.1-2.8l.1-45.2l.1 34.1l.1-14.1l.1 7.4l.1 13.4l.1-8.9l.1-3.7l.1 5.6l.1-25.5l.1 20.7l.1 36.9l.1-29.1l.1 29.5l.1.2l.1-47.8l.1 20.2l.1 6.3l.1 4.9l.1-10.6l.1 2.5l.1-.8l.1 19.3l.1-21.5l.1 1.0l.1.9l.1 25.6l.1-19.6l.1-9.2l.1 4.9l.1-18.2l.1 8.8l.1 16.3l.1 4.8l.1-8.0l.1 4.2l.1 6.3l.1 5.8l.1 7.3l.1-32.8l.1-20.2l.1 39.1l.1-11.9l.1-5.9l.1-12.3l.1 30.8l.1-24.5l.1 1.7l.1 5.2l.1 5.7l.1 10.8l.1-21.0l.1-4.5l.1 8.2l.1-14.1l.1-11.7l.1 13.4l.1 20.2l.1-25.0l.1 4.9l.1 18.5l.1-6.9l.1-15.0l.1 23.8l.1-43.2l.1 46.6l.1-5.4l.1-20.0l.1 17.8l.1-4.8l.1 13.4l.1-6.6l.1-5.8l.1 4.2l.1 7.6l.1-18.6l.1 2.3l.1 12.1l.1-22.2l.1 44.7l.1-6.5l.1-8.6l.1-11.2l.1 2.3l.1-20.2l.1 28.6l.1-36.7l.1 28.8l.1 5.0l.1-1.7l.1 2.2l.1 1.1l.1-3.2l.1 10.0l.1 5.0l.1-5.2l.1-4.4l.1-8.4l.1 4.4l.1-17.4l.1 43.1l.1-34.1l.1 12.8l.1 9.5l.1-16.1l.1 26.9l.1-8.3l.1-8.8l.1-16.8l.1 9.9l.1-2.4l.1-23.3l.1 28.0l.1-35.6l.1 9.2l.1 11.4l.1 20.6l.1-15.1l.1 1.2l.1 7.7l.1 20.0l.1-19.1l.1-15.3l.1 10.8l.1 9.6l.1-12.2l.1-4.9l.1 6.7l.1-12.1l.1-7.0l.1 18.5l.1 15.2l.1-17.4l.1-6.2l.1 14.8l.1-3.3l.1-5.6l.1-11.5l.1 26.9l.1-8.2l.1-13.7l.1-.8l.1 25.4l.1-8.7l.1-18.5l.1-8.7l.1 3.7l.1 21.9l.1-.9l.1 3.6l.1-4.7l.1-21.1l.1 19.8l.1-1.0l.1-29.0l.1 15.8l.1 1.7l.1-10.8l.1 25.5l.1-22.2l.1 3.3l.1-2.5l.1 6.7l.1-32.7l.1 52.9l.1-16.9l.1 10.2l.1-29.6l.1 15.3l.1 15.1l.1-4.9l.1 7.4l.1-9.3l.1-7.8l.1 11.1l.1 23.8l.1-17.7l.1 8.8l.1-14.4l.1-2.9l.1-2.2l.1 21.3l.1-21.0l.1 1.2l.1 23.8l.1-9.4l.1-5.6l.1-6.6l.1 11.3l.1-13.9l.1 14.8l.1-6.9l.1-5.2l.1 13.0l.1-21.3l.1 20.0l.1-18.2l.1 12.5l.1 5.1l.1-2.8l.1-17.1l.1 15.7l.1-5.1l.1-4.5l.1-26.5l.1 13.1l.1-3.8l.1 19.1l.1-15.4l.1 19.5l.1-7.6l.1-2.8l.1-3.5l.1 3.1l.1 20.0l.1-7.4l.1 2.8l.1-1.4l.1-2.6l.1-25.7l.1 15.6l.1-.8l.1 14.9l.1 11.4l.1-22.5l.1 7.9l.1-3.1l.1 8.4l.1-10.7l.1 12.9l.1-47.0l.1 34.4l.1-4.5l.1 4.9l.1 12.8l.1-13.9l.1-8.3l.1 19.7l.1-19.0l.1 22.2l.1-22.4l.1-13.9l.1 28.1l.1 3.9l.1 3.7l.1-1.3l.1-8.2l.1-2.8l.1 5.3l.1-10.4l.1 7.3l.1 11.4l.1 6.9l.1-5.4l.1-46.8l.1 38.3l.1-14.8l.1 9.6l.1 13.8l.1-17.3l.1 21.1l.1-13.7l.1-.5l.1-1.0l.1-2.8l.1 10.8l.1-7.1l.1 6.0l.1 12.1l.1.7l.1-16.1l.1 9.6l.1 2.0l.1-5.3l.1 25.6l.1-20.8l.1 1.3l.1-12.0l.1 26.8l.1-21.5l.1 3.9l.1-5.2l.1 7.1l.1-6.9l.1 4.7l.1-11.4l.1-10.0l.1-2.4l.1-21.6l.1 32.5l.1-4.0l.1 9.3l.1 4.2l.1 22.7l.1-27.4l.1 1.5l.1 1.3l.1-.1l.1-5.1l.1 4.9l.1-1.5l.1-10.1l.1 19.6l.1-2.0l.1-.1l.1-2.8l.1 1.3l.1-8.3l.1-15.2l.1 13.6l.1-4.2l.1 7.5l.1 3.4l.1-18.8l.1 7.5l.1-8.4l.1 11.8l.1.4l.1-25.9l.1 4.9l.1 31.0l.1 2.6l.1-17.3l.1 9.0l.1 1.9l.1-2.0l.1 11.9l.1-20.7l.1.8l.1 17.4l.1-7.8l.1-13.2l.1 1.3l.1 10.5l.1-10.8l.1 10.7l.1 2.0l.1-16.4l.1 30.3l.1-16.4l.1-9.5l.1 10.6l.1 10.9l.1-36.0l.1 11.4l.1 22.3l.1-32.1l.1 19.3l.1 3.2l.1.9l.1 2.4l.1-7.0l.1 21.6l.1-6.0l.1-.3l.1 2.2l.1-.3l.1-14.0l.1-20.5l.1 18.8l.1 4.0l.1-10.3l.1 14.4l.1-6.2l.1-2.4l.1-2.2l.1 1.3l.1-26.8l.1 28.7l.1-5.8l.1 9.0l.1-8.1l.1 30.4l.1-6.4l.1-42.1l.1 9.0l.1 38.4l.1-28.3l.1-5.4l.1 11.7l.1-6.5l.1 1.4l.1-12.2l.1-8.6l.1 15.6l.1 6.0l.1-10.8l.1-5.0l.1-25.8l.1 29.3l.1 9.0l.1 5.1l.1-8.8l.1 7.3l.1.0l.1.2l.1-14.8l.1 16.9l.1-15.5l.1 15.4l.1-4.4l.1-2.7l.1-2.7l.1-11.9l.1 40.4l.1-22.6l.1-22.4l.1-1.3l.1 15.9l.1 22.3l.1-37.9l.1 16.6l.1 6.4l.1.2l.1 1.0l.1-9.9l.1-10.9l.1 25.8l.1.8l.1-11.4l.1 2.1l.1-5.1l.1-3.0l.1-24.1l.1 16.7l.1 28.5l.1-12.0l.1-3.5l.1 15.7l.1-18.0l.1 3.0l.1-10.0l.1 8.8l.1 2.0l.1-5.5l.1 13.4l.1 19.3l.1-16.6l.1-19.3l.1 25.6l.1-5.7l.1-5.5l.1-4.3l.1-5.4l.1-.5l.1-5.0l.1 22.4l.1 8.1l.1-16.7l.1-.8l.1-6.1l.1-18.6l.1-5.5l.1 9.5l.1 22.4l.1 3.9l.1-26.7l.1 21.2l.1-4.3l.1-.3l.1-7.2l.1 2.6l.1 8.5l.1 12.1l.1-7.2l.1-20.0l.1 11.1l.1-7.0l.1.6l.1 18.7l.1-11.2l.1 2.7l.1-8.6l.1-23.3l.1 12.2l.1 2.3l.1 2.3l.1 10.8l.1-6.0l.1-12.1l.1 46.8l.1-16.8l.1-17.1l.1 13.4l.1-6.5l.1-3.4l.1 1.3l.1 11.7l.1-9.7l.1 7.8l.1-35.4l.1 37.9l.1-17.9l.1 14.4l.1-14.2l.1 2.6l.1-10.1l.1 38.1l.1 8.6l.1-31.0l.1 3.5l.1 28.3l.1-20.9l.1-2.6l.1-4.4l.1 11.2l.1-3.7l.1-9.1l.1 7.8l.1-.9l.1 3.9l.1 3.4l.1-7.4l.1.7l.1-9.8l.1.6l.1-7.3l.1 8.5l.1 8.8l.1 8.4l.1-4.5l.1 4.3l.1-11.1l.1 7.9l.1-6.9l.1 3.9l.1 13.3l.1-14.1l.1-6.2l.1.6l.1-31.9l.1 32.9l.1 6.2l.1-2.5l.1-12.3l.1 25.1l.1-10.3l.1-2.7l.1.0l.1-17.1l.1 17.2l.1 2.8l.1-21.5l.1 31.5l.1-10.4l.1 1.4l.1-20.6l.1 19.2l.1 8.0l.1-14.1l.1-7.1l.1-26.7l.1 44.0l.1 3.8l.1-13.6l.1-4.9l.1 28.0l.1-25.8l.1 32.3l.1-20.5l.1-44.6l.1 34.6l.1-34.9l.1 50.6l.1-15.8l.1-1.6l.1 2.6l.1-9.2l.1 36.9l.1-15.8l.1-13.8l.1.1l.1 23.4l.1-31.3l.1-3.2l.1 19.6l.1-18.1l.1-19.7l.1 29.8l.1-28.0l.1 25.8l.1 2.8l.1 1.0l.1-9.5l.1 23.7l.1-19.0l.1-.2l.1-3.6l.1 1.5l.1 11.5l.1-23.7l.1 17.2l.1-15.7l.1 3.5l.1 12.6l.1-5.9l.1 15.8l.1-34.8l.1 22.1l.1-12.2l.1 3.1l.1 24.7l.1-14.2l.1-13.2l.1 7.5l.1 29.8l.1-35.2l.1-4.7l.1 4.5l.1 5.3l.1-1.1l.1 1.6l.1.7l.1-35.6l.1 44.0l.1-11.7l.1.9l.1-10.7l.1 16.5l.1 26.9l.1-9.1l.1-21.8l.1 4.0l.1 2.6l.1-28.8l.1 14.1l.1 39.4l.1-19.7l.1-3.6l.1-27.3l.1 19.6l.1 8.8l.1-33.6l.1 53.6l.1-33.8l.1 18.1l.1.2l.1-11.8l.1 2.9l.1-4.6l.1 6.3l.1-6.5l.1 4.1l.1 4.4l.1-19.1l.1 23.3l.1 9.3l.1-10.9l.1-12.5l.1-1.6l.1 25.3l.1-9.3l.1-10.6l.1 12.3l.1-23.8l.1 21.9l.1-17.8l.1 12.2l.1 5.0l.1-4.0l.1 2.8l.1-6.7l.1 3.5l.1-17.2l.1 28.0l.1-14.3l.1-9.4l.1 12.5l.1-3.3l.1 10.3l.1-19.4l.1-1.1l.1 3.9l.1 4.2l.1-19.5l.1 9.9l.1 14.1l.1-15.7l.1 13.1l.1-12.6l.1-8.3l.1 16.4l.1 4.1l.1-.9l.1-10.5l.1 4.2l.1-7.0l.1 2.8l.1-31.8l.1 30.3l.1 18.1l.1-13.0l.1-8.4l.1 12.4l.1-19.7l.1 46.5l.1-31.4l.1 10.7l.1-10.5l.1 11.5l.1 1.4l.1-9.6l.1-25.9l.1 29.0l.1-7.9l.1 1.3l.1 17.9l.1-8.1l.1-10.7l.1 7.0l.1-10.3l.1 6.5l.1-4.3l.1 14.4l.1-25.7l.1 7.6l.1 14.4l.1-11.3l.1 9.6l.1-.5l.1-4.3l.1-3.5l.1 9.7l.1-16.1l.1 8.1l.1-4.9l.1 16.8l.1-20.0l.1 5.8l.1 12.2l.1 10.5l.1-11.3l.1-17.6l.1 1.8l.1 7.7l.1 18.8l.1 2.0l.1-2.7l.1-30.9l.1 17.5l.1 6.0l.1-12.8l.1 2.4l.1-12.3l.1-.2l.1 14.1l.1 7.4l.1 1.6l.1-2.2l.1-4.0l.1-4.5l.1-11.4l.1 13.0l.1-7.1l.1-7.8l.1 11.4l.1 4.5l.1-15.3l.1 20.6l.1-17.8l.1 32.5l.1-29.7l.1 16.4l.1 12.7l.1-24.7l.1-13.8l.1-1.0l.1 16.8l.1-2.3l.1-3.3l.1 2.0l.1 13.1l.1 2.6l.1-27.5l.1 15.9l.1 21.6l.1-16.6l.1 25.2l.1-55.0l.1 16.5l.1 4.4l.1 11.1l.1-34.7l.1 30.4l.1 21.0l.1-34.5l.1 15.0l.1-6.9l.1 10.9l.1-3.3l.1-38.8l.1 40.7l.1 4.8l.1 5.6l.1-14.2l.1 2.8l.1 25.3l.1-27.2l.1-4.3l.1 9.0l.1-11.0l.1 6.2l.1 13.6l.1-18.3l.1 32.1l.1-21.3l.1 20.4l.1-41.9l.1 11.0l.1 26.5l.1-20.0l.1 1.5l.1-14.3l.1 20.1l.1-15.7l.1 6.7l.1 28.5l.1-32.6l.1-2.9l.1-7.7l.1 5.7l.1 8.9l.1-9.2l.1 28.9l.1-16.2l.1-13.6l.1 10.4l.1-6.8l.1 15.2l.1-43.4l.1 30.1l.1 15.6l.1-3.8l.1-.6l.1-2.8l.1 6.4l.1-24.6l.1-.1l.1 19.7l.1-14.8l.1 7.5l.1 6.7" transform="translate(72.6 0) scale(0.61496 1)" stroke="#1f77b4" stroke-width="0.20" fill="none" vector-effect="non-scaling-stroke"/><path d="M0 808.9l.1 1.5l.1-12.8l.1 8.4l.1.2l.1-7.7l.1 14.2l.1-4.2l.1-21.6l.1 8.5l.1-1.3l.1-6.4l.1 3.1l.1 10.0l.1-6.8l.1-6.0l.1 4.2l.1-2.2l.1-.6l.1.6l.1-5.5l.1 7.4l.1-15.4l.1 13.2l.1 3.1l.1-5.5l.1 12.6l.1-2.5l.1 1.4l.1-6.2l.1-3.4l.1-5.0l.1-4.1l.1 3.7l.1 9.6l.1-18.1l.1 16.0l.1.1l.1-3.5l.1 10.6l.1 2.7l.1-1.2l.1-15.9l.1 11.5l.1-3.2l.1 12.6l.1-13.0l.1-1.4l.1 11.4l.1-19.2l.1 7.8l.1-3.7l.1-2.5l.1 14.4l.1-11.2l.1-.7l.1 8.3l.1-6.8l.1 1.1l.1 1.6l.1 8.2l.1-10.2l.1 1.7l.1-16.3l.1 15.5l.1-1.5l.1-1.4l.1 4.0l.1-1.3l.1-3.0l.1-.3l.1 1.7l.1 1.6l.1 1.2l.1-7.5l.1 18.2l.1-10.3l.1 3.3l.1-3.9l.1 15.5l.1-13.8l.1 7.4l.1-18.4l.1-3.9l.1 23.1l.1-20.5l.1 17.5l.1-1.0l.1-18.1l.1 26.2l.1-21.6l.1 9.0l.1.5l.1-7.4l.1-5.6l.1-3.1l.1 17.3l.1-15.4l.1 7.4l.1-6.1l.1 7.4l.1 1.9l.1 9.2l.1-6.2l.1-16.7l.1 5.6l.1-3.1l.1 6.9l.1-3.4l.1 5.2l.1-3.2l.1 9.0l.1-18.5l.1 4.6l.1-1.1l.1 13.4l.1-16.1l.1 20.0l.1-8.8l.1 6.9l.1-9.0l.1-4.5l.1 16.3l.1-2.1l.1 3.5l.1-5.7l.1 9.0l.1-5.5l.1-7.1l.1.0l.1 7.9l.1-1.2l.1-.2l.1-7.7l.1 10.3l.1 10.4l.1-1.8l.1-17.9l.1 11.5l.1-4.5l.1 17.0l.1-12.0l.1-7.5l.1 5.3l.1 6.1l.1-8.4l.1 2.0l.1-4.0l.1 18.6l.1-13.7l.1 2.9l.1-7.9l.1-2.2l.1 6.9l.1-2.2l.1 1.3l.1 1.8l.1-3.9l.1-3.6l.1 14.1l.1-8.5l.1 1.7l.1 2.2l.1.6l.1-4.9l.1 7.9l.1 7.7l.1-4.7l.1 2.7l.1-1.6l.1 3.9l.1-8.7l.1-6.7l.1 10.7l.1 1.5l.1-3.2l.1 1.8l.1-1.4l.1-3.2l.1 3.0l.1-12.7l.1 4.6l.1 4.4l.1 1.2l.1-6.4l.1-9.7l.1 3.3l.1 12.9l.1-4.4l.1-1.1l.1 4.6l.1-12.5l.1 12.2l.1-14.3l.1 18.3l.1-17.2l.1 3.9l.1-.1l.1-2.4l.1-1.8l.1 6.9l.1-7.3l.1-7.4l.1 8.7l.1-11.0l.1 13.8l.1 7.3l.1-5.1l.1-10.9l.1-2.3l.1 12.4l.1 2.7l.1-18.0l.1-6.1l.1 16.9l.1-9.7l.1 17.2l.1-13.2l.1 7.6l.1-11.8l.1 13.1l.1 1.8l.1-3.5l.1-8.2l.1-6.0l.1 8.3l.1-3.2l.1 3.1l.1-2.2l.1-5.3l.1 2.7l.1-1.7l.1 4.9l.1-4.7l.1-10.5l.1 8.8l.1 17.9l.1 4.7l.1-13.4l.1 5.4l.1-6.2l.1 2.3l.1-3.6l.1 11.5l.1-2.4l.1.9l.1-6.9l.1-1.5l.1 2.3l.1 6.5l.1-5.8l.1-.5l.1-6.3l.1 14.2l.1-13.9l.1 7.8l.1 4.9l.1 6.0l.1-3.7l.1-6.9l.1 10.2l.1-13.9l.1 8.0l.1 3.2l.1-3.8l.1-4.3l.1 6.6l.1 14.5l.1-3.1l.1-3.7l.1-17.4l.1 5.4l.1 2.5l.1 6.0l.1 3.0l.1-10.6l.1-12.7l.1 2.7l.1 15.5l.1-16.9l.1 9.3l.1 1.0l.1 1.9l.1-16.0l.1.5l.1 9.0l.1 2.3l.1 1.3l.1-17.8l.1 8.9l.1 1.2l.1 15.9l.1-13.1l.1 10.2l.1-7.0l.1-8.7l.1 2.0l.1 5.6l.1-4.0l.1 3.5l.1 1.1l.1-5.2l.1 2.1l.1-11.7l.1.3l.1.9l.1 4.6l.1-4.8l.1 8.8l.1-4.7l.1-6.9l.1 7.6l.1-9.1l.1 11.6l.1-18.2l.1 22.9l.1-9.4l.1-5.8l.1 3.2l.1 3.7l.1-8.9l.1 3.1l.1.3l.1.1l.1 14.2l.1-16.4l.1 3.5l.1-14.2l.1 7.4l.1 2.0l.1-.3l.1.2l.1 13.6l.1-10.3l.1 2.7l.1-5.9l.1 6.7l.1 10.4l.1-9.4l.1-4.8l.1 7.1l.1-9.0l.1 5.6l.1.7l.1 8.2l.1-.6l.1-15.5l.1 15.6l.1.6l.1-1.7l.1-3.2l.1-2.4l.1 14.3l.1-5.5l.1 10.6l.1-11.5l.1-.3l.1 6.5l.1-7.5l.1 3.7l.1-1.7l.1.1l.1 13.4l.1 3.4l.1 4.9l.1-5.5l.1-4.4l.1.0l.1 9.7l.1-11.8l.1 15.4l.1-8.4l.1-1.3l.1-13.9l.1 19.9l.1-2.4l.1-8.7l.1-5.9l.1 28.6l.1-9.1l.1-10.3l.1 1.3l.1-7.7l.1 20.4l.1 1.3l.1-2.8l.1.8l.1-10.1l.1 16.4l.1-5.3l.1-11.5l.1 8.0l.1 14.0l.1-6.5l.1-3.0l.1 3.6l.1-.1l.1.1l.1-6.9l.1 4.8l.1-15.1l.1 11.7l.1-13.7l.1 15.8l.1-4.9l.1-5.4l.1 12.5l.1-6.3l.1-7.2l.1 16.1l.1-16.5l.1 1.4l.1 14.4l.1-23.0l.1 7.7l.1-4.0l.1.8l.1-4.2l.1 3.5l.1-5.7l.1 7.8l.1-4.8l.1 7.3l.1-9.9l.1-10.9l.1 18.5l.1-4.0l.1-.1l.1-6.2l.1 3.1l.1-9.8l.1 6.9l.1-3.0l.1-.2l.1 10.3l.1-3.3l.1.4l.1-6.7l.1 3.3l.1 7.2l.1 7.4l.1-20.6l.1-2.9l.1 20.1l.1-15.3l.1 4.3l.1-1.8l.1-6.2l.1 14.3l.1-1.7l.1 1.9l.1 6.2l.1-7.7l.1-7.8l.1-1.6l.1 22.1l.1-10.7l.1 4.1l.1-13.0l.1 2.2l.1-1.9l.1 6.5l.1 7.4l.1-6.0l.1-2.5l.1-8.2l.1 13.0l.1-2.3l.1-4.0l.1 11.4l.1-15.9l.1 19.7l.1-9.0l.1-13.5l.1 7.9l.1 6.0l.1 1.0l.1-14.3l.1 8.3l.1-9.6l.1 22.1l.1-8.0l.1 11.2l.1-6.8l.1-5.6l.1-8.0l.1 1.4l.1 6.4l.1 8.4l.1-9.7l.1 5.6l.1-3.4l.1-12.5l.1-1.8l.1 14.8l.1-1.5l.1-2.1l.1-1.5l.1 1.1l.1 8.6l.1-3.4l.1 3.9l.1-8.1l.1-1.5l.1 4.0l.1 12.4l.1-14.0l.1 8.1l.1-12.9l.1-4.4l.1 10.9l.1 3.9l.1-1.6l.1-2.1l.1 7.9l.1-3.2l.1-2.0l.1 4.8l.1-4.7l.1-2.3l.1 2.8l.1-2.8l.1 9.4l.1-3.3l.1 1.8l.1-11.2l.1 4.2l.1 3.7l.1-1.2l.1 11.1l.1-2.8l.1 2.3l.1-1.5l.1 3.3l.1-4.2l.1 3.0l.1.1l.1 2.4l.1-12.1l.1 15.3l.1-11.3l.1 3.0l.1-15.3l.1 19.1l.1-10.6l.1-.1l.1 7.3l.1-15.7l.1 3.9l.1-11.2l.1 9.4l.1 5.8l.1-4.6l.1-2.2l.1 20.2l.1-11.6l.1-1.7l.1-8.5l.1-4.0l.1 7.3l.1 1.7l.1-7.5l.1 17.4l.1-6.1l.1-6.5l.1-2.6l.1-.9l.1 5.5l.1-1.9l.1-7.2l.1 17.2l.1-13.5l.1 6.4l.1-5.0l.1-4.9l.1 11.7l.1-1.6l.1-6.1l.1 3.8l.1-2.6l.1-.1l.1 1.1l.1 4.3l.1-9.6l.1 12.6l.1-3.7l.1 9.3l.1-14.5l.1-5.1l.1 11.5l.1 2.9l.1-5.8l.1.0l.1-7.4l.1-.1l.1-.1l.1-10.0l.1 12.8l.1 1.7l.1 1.8l.1-9.7l.1 8.0l.1 4.2l.1-1.1l.1-15.7l.1 2.6l.1-1.8l.1-.8l.1 6.2l.1-5.2l.1 8.0l.1-.4l.1 7.1l.1-12.0l.1-12.2l.1 13.0l.1-8.8l.1.3l.1 10.1l.1-13.0l.1 6.0l.1-.9l.1-5.6l.1-1.4l.1 12.8l.1-7.1l.1-5.2l.1 7.8l.1-3.3l.1 8.7l.1-8.9l.1 1.3l.1.0l.1 3.9l.1-.8l.1-1.4l.1-20.3l.1 14.5l.1 9.3l.1-13.1l.1-8.3l.1 13.5l.1 7.4l.1-9.0l.1 4.1l.1 3.6l.1 4.4l.1-6.4l.1-2.7l.1 11.2l.1-3.7l.1-5.6l.1-11.5l.1-4.7l.1 10.9l.1 5.3l.1-11.6l.1 25.2l.1-26.8l.1 4.7l.1 5.1l.1 1.8l.1.7l.1-.1l.1-.2l.1-.8l.1 3.2l.1 8.2l.1-1.5l.1-4.0l.1-3.7l.1 3.4l.1 1.6l.1-10.1l.1 10.2l.1-3.0l.1 3.2l.1 6.7l.1-8.3l.1 6.6l.1 4.0l.1-13.2l.1 5.6l.1-16.7l.1 25.6l.1-20.0l.1 10.6l.1 1.7l.1-12.1l.1 9.2l.1-2.1l.1-4.6l.1.1l.1 8.9l.1.0l.1 9.0l.1-15.0l.1 13.2l.1-8.9l.1.1l.1.3l.1-4.4l.1 13.6l.1-15.6l.1 9.4l.1.7l.1-.3l.1-1.6l.1-2.4l.1 4.6l.1 6.3l.1 3.4l.1-6.4l.1 7.6l.1-9.0l.1 3.6l.1-9.6l.1 4.8l.1 11.1l.1-11.0l.1 5.3l.1 5.5l.1-3.2l.1-6.0l.1 9.2l.1-6.8l.1 4.3l.1-10.6l.1 11.2l.1 9.2l.1-16.7l.1 4.5l.1 7.1l.1 3.5l.1-4.5l.1-18.5l.1 10.6l.1.1l.1-.8l.1 6.8l.1.7l.1 7.5l.1-5.7l.1 9.6l.1-23.0l.1 8.1l.1 2.2l.1-5.1l.1-9.3l.1 10.7l.1-15.7l.1 8.9l.1 5.6l.1-7.2l.1-.1l.1 17.5l.1.6l.1-12.5l.1 2.9l.1-2.6l.1 2.3l.1 2.2l.1 1.2l.1 4.1l.1-4.0l.1-1.3l.1-1.1l.1 1.4l.1-.4l.1 2.0l.1 2.8l.1-9.0l.1 12.8l.1-2.3l.1-15.0l.1-.6l.1 7.6l.1-4.1l.1 9.6l.1-3.5l.1-6.7l.1-.9l.1 13.0l.1-13.5l.1 11.5l.1-3.0l.1-10.7l.1 5.2l.1-2.2l.1 13.8l.1-.6l.1-11.9l.1 3.8l.1 1.6l.1 6.0l.1-6.0l.1 6.9l.1-7.8l.1 5.4l.1-4.4l.1 1.8l.1-10.3l.1-.5l.1.3l.1-6.2l.1 10.9l.1 13.4l.1-21.9l.1 4.0l.1 4.0l.1 6.6l.1-9.6l.1 4.1l.1-4.3l.1 6.8l.1-1.5l.1-4.9l.1-6.6l.1 5.1l.1-5.1l.1 5.6l.1 11.9l.1-7.9l.1-.9l.1-4.6l.1-3.1l.1 1.5l.1 11.0l.1-1.8l.1-7.8l.1 4.9l.1-11.7l.1 17.2l.1-7.0l.1.9l.1-5.1l.1-.7l.1 1.7l.1-2.7l.1 3.2l.1-2.9l.1-7.3l.1 12.2l.1-6.4l.1-6.3l.1 12.4l.1-8.6l.1 1.5l.1 1.8l.1 6.3l.1-5.3l.1 3.7l.1 1.3l.1-7.6l.1 17.2l.1-5.5l.1-11.7l.1-.6l.1 8.7l.1-11.8l.1 17.8l.1-6.1l.1.8l.1-1.6l.1-.2l.1-.4l.1 3.5l.1 4.8l.1-2.4l.1-6.1l.1 5.7l.1 1.2l.1-1.4l.1.3l.1 3.3l.1-2.0l.1-4.5l.1 5.1l.1 2.3l.1-7.2l.1 5.0l.1 3.7l.1-9.2l.1 5.6l.1-6.5l.1-2.4l.1 15.3l.1-5.8l.1 1.8l.1-6.0l.1-5.2l.1 6.0l.1-2.6l.1 1.7l.1 8.7l.1-13.1l.1 14.7l.1-11.7l.1-5.8l.1-.6l.1-5.2l.1 11.9l.1-8.0l.1 2.9l.1.4l.1-.9l.1 2.1l.1-2.4l.1-1.3l.1 2.3l.1-2.7l.1-13.6l.1-5.8l.1 21.3l.1-9.4l.1-10.8l.1-1.1l.1 9.8l.1 5.7l.1-2.6l.1 3.6l.1-7.3l.1-1.0l.1.0l.1 2.8l.1-5.4l.1 13.0l.1-13.3l.1.5l.1 4.0l.1.9l.1-.8l.1.6l.1 2.7l.1 6.9l.1-2.5l.1-.2l.1 6.3l.1-10.4l.1-9.5l.1 5.1l.1-.1l.1 4.7l.1 12.2l.1-8.4l.1 4.1l.1-9.4l.1 4.8l.1 4.4l.1-.5l.1-1.1l.1-11.7l.1.7l.1 8.1l.1-.2l.1-6.3l.1 4.6l.1 4.9l.1-18.4l.1 22.5l.1-16.7l.1 3.0l.1 10.5l.1-8.8l.1.3l.1 3.7l.1 3.4l.1-2.9l.1-15.4l.1 4.4l.1 4.2l.1 8.2l.1-3.5l.1-.3l.1-.5l.1-3.2l.1 3.0l.1-4.3l.1 14.6l.1-19.7l.1 3.2l.1-1.7l.1 14.9l.1-18.8l.1 6.9l.1 7.0l.1-15.9l.1 12.3l.1-10.6l.1 7.2l.1-7.7l.1 1.0l.1-3.1l.1 10.7l.1.4l.1-1.2l.1.2l.1-8.8l.1 3.9l.1 6.6l.1 4.9l.1-9.2l.1.5l.1-.2l.1 6.7l.1-1.3l.1-6.6l.1 8.1l.1-11.1l.1 3.2l.1 2.0l.1 4.4l.1-12.5l.1 12.0l.1-4.3l.1.6l.1.0l.1 1.4l.1 2.2l.1-9.6l.1 1.2l.1 2.4l.1 14.2l.1-7.0l.1-7.3l.1 9.5l.1-6.1l.1-5.9l.1 4.7l.1-5.3l.1 7.0l.1-12.8l.1 8.9l.1-3.5l.1 12.7l.1-3.2l.1-12.2l.1 17.1l.1-8.2l.1 9.8l.1-14.8l.1 5.4l.1 5.9l.1-4.7l.1-8.3l.1 5.8l.1 7.2l.1-7.0l.1-4.0l.1-4.8l.1 8.3l.1-10.7l.1 5.1l.1 2.3l.1 4.3l.1.8l.1-9.4l.1 5.9l.1 4.0l.1 3.6l.1-6.7l.1-12.3l.1 7.0l.1-6.6l.1 7.2l.1-4.9l.1-5.5l.1 1.5l.1 9.6l.1-5.8l.1 5.7l.1-1.9l.1-1.7l.1 6.6l.1 1.1l.1-11.0l.1-1.9l.1.3l.1 10.8l.1 4.9l.1-18.8l.1 9.0l.1 5.0l.1-.6l.1-8.3l.1-.2l.1 15.0l.1-17.1l.1 4.5l.1-3.6l.1-2.1l.1 4.5l.1 5.7l.1-3.8l.1 2.9l.1-3.9l.1 12.6l.1 4.5l.1 3.2l.1-14.2l.1 12.1l.1 14.3l.1-11.8l.1 7.0l.1 1.7l.1-2.0l.1 1.1l.1 7.6l.1-3.1l.1 15.6l.1-17.4l.1 16.8l.1 7.5l.1-18.8l.1-9.9l.1 10.6l.1 16.7l.1-15.8l.1-1.0l.1 5.2l.1 3.5l.1-9.1l.1 12.5l.1-9.8l.1-15.3l.1 19.9l.1-.7l.1 4.4l.1-13.8l.1 10.3l.1-9.7l.1 6.4l.1 3.7l.1-17.2l.1 11.7l.1-9.3l.1 17.8l.1-6.0l.1-2.9l.1-2.7l.1-4.9l.1 4.6l.1 9.2l.1-7.7l.1-4.2l.1-1.2l.1 6.8l.1 11.5l.1 2.1l.1-15.5l.1-9.8l.1 16.7l.1-10.2l.1 2.6l.1 1.3l.1 4.6l.1-10.8l.1 18.0l.1-4.9l.1-16.0l.1 8.2l.1 4.1l.1-3.2l.1.8l.1 8.4l.1-12.5l.1-4.9l.1-5.9l.1 26.9l.1-7.8l.1-9.9l.1-10.7l.1 11.9l.1-6.9l.1 5.1l.1 4.0l.1-1.1l.1.3l.1 11.7l.1-5.6l.1-7.8l.1-.5l.1 3.1l.1-5.4l.1 10.6l.1 6.0l.1-12.4l.1-1.7l.1 8.8l.1-17.3l.1 23.9l.1-6.1l.1 2.8l.1-4.2l.1-7.6l.1-12.9l.1 17.6l.1-10.2l.1 5.5l.1-6.8l.1 14.3l.1-4.6l.1-7.3l.1 3.0l.1 7.6l.1-17.5l.1 12.6l.1-.2l.1 10.3l.1-12.6l.1-1.4l.1 8.5l.1-15.1l.1 5.0l.1-2.3l.1 8.5l.1-4.8l.1 7.3l.1-.6l.1 3.8l.1-4.0l.1-6.9l.1.5l.1 9.6l.1-6.2l.1 11.3l.1-5.6l.1 4.8l.1-14.9l.1 15.4l.1-13.8l.1 2.1l.1 4.1l.1.7l.1-8.9l.1 4.3l.1-7.6l.1 15.1l.1.1l.1 3.4l.1 5.5l.1-13.1l.1 11.7l.1-3.9l.1 16.5l.1-17.5l.1-2.0l.1 21.0l.1-19.4l.1 17.0l.1-22.8l.1-4.3l.1 22.3l.1-10.5l.1 1.5l.1-9.8l.1 16.2l.1-3.2l.1 2.9l.1-11.5l.1 13.6l.1-10.0l.1-15.8l.1 4.8l.1 8.2l.1 4.9l.1-5.2l.1 6.4l.1-11.5l.1 1.1l.1 14.6l.1-1.4l.1-.1l.1-9.8l.1 6.1l.1-6.9l.1.7l.1-6.7l.1.9l.1-1.4l.1-4.3l.1 3.1l.1 9.4l.1.3l.1-6.4l.1 2.7l.1-5.6l.1 9.7l.1-9.8l.1 6.4l.1-9.2l.1 3.6l.1-6.2l.1 4.7l.1 8.2l.1-10.0l.1-1.2l.1-4.6l.1 11.9l.1-7.1l.1-1.5l.1.4l.1 18.3l.1-11.0l.1-.2l.1-11.6l.1 5.0l.1-11.6l.1 8.9l.1 8.4l.1-8.8l.1 15.7l.1 4.0l.1-15.6l.1-1.8l.1 6.9l.1-3.6l.1 6.1l.1-11.4l.1 5.6l.1-1.9l.1 4.0l.1 6.6l.1-7.3l.1 4.4l.1 8.3l.1-20.6l.1 12.3l.1-16.4l.1 17.3l.1 8.7l.1-11.4l.1-9.3l.1 6.6l.1-8.4l.1 17.8l.1-3.7l.1 2.1l.1-8.0l.1-7.6l.1 1.3l.1 15.0l.1-15.7l.1 14.6l.1.6l.1-8.3l.1 1.1l.1.1l.1-.7l.1 6.7l.1-3.5l.1-3.1l.1-2.6l.1-8.1l.1 3.8l.1 7.7l.1-10.4l.1-3.1l.1 5.2l.1 2.1l.1 3.3l.1 3.5l.1 7.2l.1-13.9l.1-.2l.1-2.4l.1-2.1l.1 18.0l.1-18.0l.1 4.4l.1 8.2l.1-13.7l.1 5.3l.1-4.4l.1 5.8l.1 3.7l.1 3.5l.1-8.6l.1-.4l.1 16.1l.1 3.7l.1-31.5l.1 15.8l.1-7.0l.1 7.0l.1-1.5l.1 1.8l.1-5.9l.1 9.1l.1-3.4l.1 1.4l.1-9.9l.1 9.9l.1 6.0l.1-19.7l.1 10.7l.1 4.2l.1 4.4l.1-11.0l.1 7.1l.1 8.7l.1.9l.1 4.2l.1 1.2l.1 2.5l.1-9.0l.1 4.9l.1 10.3l.1-9.9l.1-15.5l.1 23.2l.1-2.5l.1-5.6l.1.8l.1 6.6l.1-1.1l.1-13.3l.1 2.0l.1 4.8l.1-8.3l.1 19.6l.1-15.5l.1-8.0l.1 10.4l.1-3.5l.1 17.7l.1-25.0l.1 13.7l.1-16.5l.1 15.0l.1 3.7l.1-2.8l.1-.2l.1-8.1l.1-10.3l.1 9.1l.1 11.6l.1-6.0l.1-4.4l.1.6l.1-3.2l.1-2.8l.1 12.9l.1-6.0l.1-12.8l.1-7.9l.1 15.6l.1-1.7l.1-3.4l.1-2.4l.1 10.7l.1-4.8l.1-8.5l.1-6.7l.1 14.4l.1-15.4l.1-1.3l.1 11.6l.1-.5l.1-4.7l.1-.9l.1 8.6l.1-12.9l.1 17.3l.1-24.4l.1 18.8l.1.6l.1 7.5l.1-7.8l.1-4.5l.1 6.6l.1-15.7l.1 13.1l.1-4.4l.1-.4l.1-5.0l.1 10.4l.1-3.5l.1-.1l.1 1.7l.1-10.5l.1 5.1l.1 1.3l.1-3.4l.1-2.6l.1 9.7l.1 1.3l.1-13.2l.1 13.7l.1-1.2l.1-3.6l.1-5.2l.1 4.5l.1 3.2l.1 5.1l.1 8.0l.1-6.7l.1-10.7l.1-2.2l.1 3.9l.1 14.0l.1-8.4l.1-7.8l.1-8.3l.1 26.3l.1-6.8l.1-6.4l.1 13.6l.1-4.1l.1-19.4l.1 15.8l.1 4.6l.1-4.9l.1-10.0l.1 10.4l.1-3.8l.1-9.0l.1 10.1l.1-6.5l.1 9.0l.1-1.4l.1 1.7l.1 1.3l.1 5.2l.1-11.7l.1-.8l.1 7.0l.1-.4l.1-4.1l.1 3.2l.1-.9l.1-3.8l.1 11.7l.1-5.8l.1 8.2l.1-.4l.1 8.4l.1 2.3l.1-13.0l.1-1.5l.1-9.8l.1 7.0l.1-.9l.1-10.0l.1-.8l.1 12.8l.1-8.6l.1 5.3l.1-4.8l.1-5.6l.1-.8l.1 13.5l.1-2.2l.1-2.8l.1 2.6l.1-.5l.1-9.9l.1 1.2l.1 18.1l.1-16.1l.1 17.9l.1-15.0l.1-6.8l.1 5.5l.1 2.1l.1-17.8l.1 11.3l.1 15.1l.1-11.8l.1-3.3l.1 19.2l.1-9.9l.1-2.7l.1 5.9l.1-5.2l.1-16.4l.1 13.1l.1 14.6l.1-18.8l.1 18.0l.1-6.0l.1-7.9l.1-.9l.1-13.3l.1 18.1l.1-7.2l.1-1.6l.1 1.8l.1 1.1l.1-3.3l.1 6.1l.1.2l.1 7.3l.1-4.7l.1 15.2l.1-18.8l.1 16.6l.1-13.5l.1 7.6l.1-15.1l.1 8.5l.1-1.4l.1.2l.1-9.8l.1 10.5l.1-15.8l.1 12.0l.1 12.9l.1-10.3l.1-3.2l.1 1.6l.1 6.5l.1-7.7l.1-.6l.1-3.5l.1.2l.1-5.7l.1 7.8l.1 11.7l.1-15.3l.1 7.4l.1-8.9l.1-4.9l.1 3.0l.1.3l.1 12.8l.1-4.5l.1 8.5l.1-12.6l.1 1.8l.1 2.9l.1 14.0l.1-26.4l.1 23.2l.1-20.1l.1 11.7l.1-3.2l.1-6.2l.1.5l.1 4.5l.1-3.7l.1 3.5l.1-4.3l.1 6.8l.1-6.0l.1 8.5l.1-.1l.1 8.2l.1-7.0l.1-4.1l.1 5.4l.1-3.2l.1-2.0l.1-3.2l.1-13.1l.1 21.1l.1-10.5l.1.9l.1-3.8l.1 14.1l.1-8.2l.1 3.2l.1-13.7l.1 10.4l.1 4.6l.1-1.3l.1-8.8l.1 14.5l.1-2.7l.1 6.3l.1-6.5l.1-3.0l.1 7.0l.1-2.6l.1-10.5l.1 21.1l.1-17.1l.1 12.2l.1-.3l.1-7.0l.1 2.8l.1 10.4l.1-13.7l.1 6.0l.1 7.3l.1-1.2l.1-4.1l.1 3.5l.1-10.7l.1 17.2l.1-11.5l.1-1.7l.1 3.0l.1 1.2l.1 2.9l.1-5.6l.1.3l.1-8.7l.1 6.8l.1 1.3l.1-3.2l.1-13.5l.1 13.7l.1 6.5l.1-2.4l.1-.1l.1-6.2l.1.5l.1 4.8l.1-4.0l.1-6.1l.1 18.0l.1-5.2l.1-9.3l.1 3.8l.1 6.7l.1-10.0l.1-8.2l.1 3.5l.1-3.4l.1 7.8l.1-3.7l.1 11.0l.1-17.2l.1 9.4l.1 12.6l.1-17.9l.1 7.5l.1-.4l.1 9.6l.1-19.0l.1 10.0l.1-3.3l.1 2.3l.1-6.1l.1 13.1l.1-12.8l.1 4.4l.1 9.6l.1-4.0l.1.2l.1-10.3l.1 14.6l.1-23.0l.1 13.9l.1-.2l.1 6.7l.1-18.5l.1-.1l.1 16.9l.1-12.7l.1 5.1l.1 6.1l.1 3.8l.1-1.0l.1 10.7l.1-21.3l.1.5l.1 13.1l.1-5.1l.1-4.5l.1 1.1l.1-5.1l.1-5.9l.1 11.7l.1-4.1l.1 1.9l.1-2.8l.1 12.0l.1-3.2l.1-12.4l.1 9.9l.1-6.4l.1 2.0l.1 1.1l.1-1.0l.1 4.3l.1.2l.1-.1l.1-10.0l.1 17.9l.1-7.8l.1 1.2l.1-4.2l.1-5.8l.1 21.4l.1-16.0l.1-3.6l.1 9.3l.1 7.1l.1-16.2l.1 7.5l.1-6.0l.1-3.8l.1 11.9l.1-.6l.1-6.5l.1 5.8l.1-14.2l.1 14.3l.1-18.3l.1 17.3l.1-.1l.1-.7l.1 7.6l.1-16.3l.1 6.8l.1 13.6l.1-14.8l.1 1.6l.1-7.2l.1 7.6l.1 1.1l.1-.8l.1-2.8l.1 1.3l.1-1.6l.1 10.9l.1-7.9l.1 5.4l.1-6.2l.1 4.4l.1 6.0l.1-14.0l.1-10.1l.1 13.2l.1 10.6l.1-11.4l.1-.3l.1 5.6l.1-9.3l.1 19.6l.1-19.4l.1 16.4l.1 7.1l.1-14.3l.1 2.1l.1-8.3l.1 2.3l.1 4.0l.1-7.0l.1 2.4l.1-1.8l.1 5.1l.1 1.7l.1-2.7l.1 7.2l.1-6.7l.1.6l.1-7.0l.1.8l.1 6.6l.1 13.0l.1-9.2l.1.8l.1-.3l.1 2.4l.1 3.1l.1-1.0l.1-11.4l.1-.9l.1 3.9l.1 9.3l.1-10.6l.1 6.8l.1-12.7l.1 6.5l.1 9.8l.1-1.7l.1-4.6l.1 11.9l.1-21.8l.1 14.4l.1-2.7l.1 11.8l.1-17.7l.1 11.7l.1 3.4l.1-8.4l.1-7.2l.1 8.8l.1-3.5l.1 6.2l.1 8.1l.1-13.4l.1 6.1l.1-1.4l.1-4.5l.1 7.4l.1 8.8l.1-19.8l.1 4.9l.1-1.8l.1-.5l.1 2.9l.1 1.2l.1 5.1l.1-12.5l.1 4.2l.1 10.6l.1-7.7l.1-2.3l.1-10.9l.1 1.6l.1 2.6l.1 8.1l.1-1.1l.1-17.2l.1 14.7l.1-3.2l.1-6.2l.1.2l.1 9.7l.1-19.0l.1 20.1l.1-3.1l.1-11.7l.1 13.4l.1-10.1l.1-8.3l.1-8.9l.1 14.6l.1-15.0l.1 19.4l.1-4.1l.1 1.5l.1-5.0l.1-4.1l.1 7.6l.1-10.5l.1 25.0l.1-15.6l.1 13.3l.1-20.6l.1.0l.1 9.1l.1-7.6l.1-4.3l.1 13.5l.1-3.5l.1 2.8l.1 2.1l.1-4.9l.1-8.3l.1-.4l.1-10.8l.1 5.1l.1 4.7l.1 2.1l.1 7.1l.1-14.6l.1 10.3l.1 1.1l.1 5.4l.1-18.8l.1 19.9l.1-5.4l.1-11.1l.1 3.3l.1 10.8l.1-7.8l.1-4.9l.1 3.9l.1 5.3l.1-3.7l.1-2.8l.1 8.4l.1-2.2l.1-8.3l.1 3.8l.1 3.1l.1 5.7l.1-13.2l.1 11.2l.1-.5l.1-14.4l.1 4.7l.1 5.8l.1-4.3l.1-11.1l.1 17.6l.1.1l.1-13.3l.1-3.8l.1 17.4l.1-15.9l.1-7.4l.1 16.0l.1-3.3l.1 11.9l.1-4.3l.1 5.2l.1-6.5l.1-15.1l.1 21.0l.1 5.8l.1-6.7l.1-3.3l.1-.3l.1-9.6l.1 8.6l.1-14.5l.1 20.5l.1-12.1l.1 6.4l.1-.8l.1-9.1l.1 9.0l.1.4l.1 3.4l.1-12.4l.1 1.1l.1-1.2l.1 4.3l.1 8.9l.1-3.1l.1-12.2l.1 1.8l.1-3.2l.1 6.0l.1 3.3l.1-1.0l.1-2.4l.1 6.2l.1-5.9l.1-3.8l.1 9.8l.1-2.9l.1 2.9l.1-2.7l.1-11.7l.1 14.2l.1.0l.1-8.6l.1 6.6l.1-11.4l.1 3.1l.1-7.0l.1 19.4l.1-4.5l.1-5.9l.1-11.3l.1-5.7l.1 21.0l.1-4.1l.1-14.0l.1 16.5l.1-19.1l.1 20.3l.1-8.7l.1-7.1l.1-11.9l.1 13.6l.1 7.5l.1-4.0l.1-9.3l.1 15.5l.1-2.6l.1-17.1l.1 20.5l.1 2.5l.1-12.0l.1 1.0l.1 12.5l.1-1.5l.1-4.7l.1-6.4l.1 15.6l.1.4l.1-6.5l.1.8l.1-12.8l.1 15.1l.1 7.8l.1-11.6l.1 10.4l.1-12.3l.1 1.0l.1 7.3l.1-.6l.1 1.6l.1-6.3l.1 16.5l.1-17.2l.1-4.1l.1 13.4l.1 6.0l.1-5.9l.1-4.2l.1-14.2l.1 15.5l.1-6.2l.1 4.6l.1-8.4l.1 10.3l.1.0l.1-5.7l.1 3.8l.1-5.9l.1 11.9l.1-16.2l.1 18.9l.1-11.2l.1-.6l.1 7.8l.1-6.5l.1-1.5l.1-9.8l.1 10.1l.1.7l.1 14.2l.1-12.7l.1 9.4l.1-1.6l.1-13.2l.1 3.6l.1 1.6l.1-9.8l.1 19.7l.1-6.5l.1-11.7l.1 3.8l.1 4.7l.1 5.3l.1-4.5l.1 7.5l.1-8.6l.1-11.5l.1 13.2l.1-2.1l.1 14.1l.1-10.6l.1 18.1l.1-13.4l.1-8.8l.1 12.7l.1 6.4l.1 4.8l.1-21.8l.1 15.4l.1 10.3l.1-26.9l.1 3.4l.1-1.5l.1 19.4l.1-4.2l.1-.9l.1-3.7l.1 4.1l.1-3.2l.1 9.0l.1-12.2l.1 9.4l.1-7.3l.1 13.9l.1-19.3l.1 21.7l.1-2.6l.1-10.0l.1 14.9l.1-5.0l.1-9.6l.1-4.2l.1 7.3l.1 12.5l.1-20.4l.1 6.7l.1.5l.1 12.2l.1-12.6l.1 5.0l.1-2.8l.1-6.3l.1 4.0l.1-.8l.1-14.4l.1 15.5l.1-16.1l.1 10.6l.1.2l.1-5.5l.1-1.3l.1 7.1l.1-12.0l.1.0l.1.3l.1-3.1l.1-2.2l.1-.1l.1-2.9l.1 1.1l.1 1.8l.1-.2l.1-3.0l.1 4.5l.1-4.3l.1-1.0l.1.9l.1.8l.1-1.8l.1.5l.1-.4l.1 3.7l.1-.8l.1 1.3l.1-5.9l.1 5.9l.1-3.8l.1-3.6l.1 2.3l.1-2.1l.1-.5l.1 4.5l.1-6.0l.1 3.1l.1 1.9l.1-2.2l.1.2l.1-2.8l.1 2.8l.1 2.0l.1-.3l.1-3.7l.1.1l.1 2.7l.1-5.2l.1 2.4l.1-.2l.1 1.1l.1-2.0l.1-1.7l.1 6.3l.1-2.9l.1-1.4l.1-3.8l.1 5.5l.1-2.2l.1-2.6l.1 5.9l.1-6.4l.1 1.9l.1-4.1l.1 1.2l.1-3.5l.1.0l.1 2.5l.1-3.5l.1 3.9l.1-.1l.1.1l.1 3.9l.1-3.9l.1-4.2l.1 1.9l.1-.3l.1-.4l.1-3.3l.1 2.4l.1-2.9l.1 2.6l.1 1.9l.1-4.3l.1 1.0l.1-2.6l.1 1.8l.1-.5l.1.8l.1 2.1l.1-.7l.1 3.2l.1-2.1l.1-6.3l.1 5.5l.1-.5l.1-3.6l.1 3.6l.1-3.1l.1 2.8l.1-.6l.1 5.7l.1-4.7l.1 1.2l.1.9l.1 1.4l.1-6.0l.1 3.1l.1-5.9l.1 7.1l.1-.8l.1-2.1l.1-1.0l.1.3l.1 1.6l.1-3.1l.1 5.4l.1-3.0l.1-1.5l.1.5l.1 1.4l.1 3.2l.1-5.4l.1 2.4l.1-.5l.1 4.5l.1-3.4l.1-2.3l.1.1l.1-1.4l.1 2.2l.1-2.8l.1 1.1l.1.5l.1-2.0l.1-2.2l.1 2.3l.1-1.8l.1-.9l.1-.3l.1-.8l.1.6l.1.8l.1 1.1l.1-1.7l.1-.4l.1-1.5l.1 2.4l.1 3.0l.1-4.7l.1 2.7l.1-5.6l.1 4.5l.1-1.1l.1.5l.1-2.8l.1.9l.1-.1l.1 3.2l.1-3.8l.1 3.0l.1-.3l.1-5.5l.1 3.5l.1-2.3l.1 3.9l.1-3.8l.1 3.2l.1-4.0l.1 2.8l.1 1.7l.1-.8l.1 5.3l.1.1l.1 8.5l.1 1.5l.1 13.3l.1 7.0l.1 2.6l.1 7.7l.1 3.0l.1 4.0l.1 5.6l.1 3.3l.1-8.1l.1 4.9l.1-3.2l.1 4.2l.1-1.7l.1 5.0l.1 2.2l.1-6.8l.1-2.3l.1 2.2l.1 7.8l.1-8.4l.1.4l.1 1.8l.1-.6l.1-.9l.1 5.7l.1 1.6l.1.4l.1-.8l.1 2.0l.1-14.7l.1 13.4l.1-13.6l.1 20.7l.1-15.2l.1 7.0l.1-8.5l.1 6.0l.1 9.8l.1.1l.1-10.3l.1 7.5l.1 3.2l.1-12.5l.1-3.3l.1 4.1l.1 15.6l.1-15.3l.1 6.6l.1-2.6l.1-9.0l.1-6.5l.1 8.6l.1-4.2l.1 2.6l.1-4.5l.1 13.3l.1-12.0l.1 9.2l.1-7.2l.1 8.5l.1-6.2l.1-3.7l.1 22.7l.1-16.6l.1-10.2l.1 3.8l.1 5.3l.1 3.2l.1-12.6l.1 15.2l.1.8l.1 8.4l.1-16.3l.1-5.6l.1 4.1l.1-2.0l.1 6.2l.1-17.0l.1 7.0l.1 6.9l.1-1.4l.1-6.5l.1-2.6l.1 22.5l.1-20.3l.1 7.5l.1-3.7l.1 7.3l.1 1.9l.1-7.8l.1-11.6l.1 14.4l.1-2.1l.1-10.3l.1 11.6l.1-10.0l.1-5.7l.1 9.7l.1-10.1l.1 5.1l.1-6.8l.1 10.6l.1 1.6l.1-7.7l.1 7.8l.1 4.4l.1-8.9l.1-8.1l.1 1.0l.1-.1l.1 2.2l.1-1.0l.1 1.9l.1-8.4l.1 4.1l.1 5.8l.1-2.8l.1.5l.1-2.5l.1-19.5l.1 12.7l.1 1.5l.1-16.6l.1 6.4l.1 18.9l.1-11.3l.1 2.6l.1-4.8l.1 6.9l.1-7.0l.1 11.2l.1-9.6l.1-1.7l.1 16.5l.1-2.9l.1-.8l.1 2.0l.1 1.7l.1-.4l.1-14.2l.1 4.6l.1-6.1l.1 20.6l.1-5.0l.1-12.4l.1 7.5l.1-6.8l.1 6.4l.1-1.9l.1-4.9l.1 9.7l.1-.5l.1-2.9l.1-3.4l.1 13.4l.1-8.3l.1-1.0l.1 11.4l.1-12.5l.1-.1l.1 17.4l.1 8.6l.1-17.5l.1-.7l.1-3.9l.1-8.2l.1 15.9l.1 3.3l.1-12.0l.1 22.7l.1-14.1l.1 5.2l.1-13.1l.1 2.3l.1 1.7l.1 2.7l.1 1.6l.1.1l.1.0l.1-4.3l.1-11.4l.1 20.5l.1 1.2l.1-7.7l.1 4.4l.1-1.8l.1-16.4l.1-1.4l.1 8.3l.1 15.1l.1-3.8l.1-24.9l.1 15.0l.1 15.0l.1-5.1l.1-22.6l.1 18.6l.1-10.6l.1 11.0l.1-2.9l.1-5.5l.1-4.9l.1-2.5l.1 10.2l.1-11.2l.1 2.7l.1-2.2l.1 3.9l.1 13.8l.1-18.1l.1 11.4l.1-8.0l.1-3.3l.1 18.6l.1-8.0l.1-13.0l.1 5.5l.1 1.5l.1 3.9l.1 2.8l.1 7.6l.1-7.1l.1-9.1l.1 4.8l.1-7.5l.1 10.2l.1 11.4l.1-5.4l.1 1.5l.1 3.3l.1 6.0l.1-12.9l.1 8.1l.1-5.1l.1 11.1l.1-8.8l.1 9.8l.1.0l.1-2.5l.1-18.2l.1 10.9l.1-1.2l.1-.3l.1.9l.1 3.6l.1 1.8l.1-1.0l.1-1.3l.1 12.9l.1-4.4l.1-2.7l.1-3.5l.1-1.5l.1-4.9l.1-3.8l.1 3.1l.1 8.9l.1-13.5l.1 20.8l.1-16.5l.1-11.6l.1 12.5l.1-.2l.1-9.6l.1 3.4l.1 6.6l.1 1.6l.1 3.0l.1-9.1l.1-2.2l.1 18.1l.1-14.8l.1 1.7l.1 12.3l.1-16.4l.1-1.7l.1 6.8l.1-1.8l.1 5.6l.1.9l.1-8.5l.1-9.3l.1 4.0l.1-4.1l.1 8.9l.1 3.4l.1-8.9l.1-2.2l.1 13.8l.1-2.2l.1-15.3l.1-4.9l.1 15.1l.1-3.0l.1 11.0l.1-19.2l.1 15.6l.1-9.9l.1 10.0l.1-16.5l.1 11.5l.1 2.1l.1-15.6l.1-2.7l.1 13.2l.1-6.8l.1 5.1l.1-.6l.1-5.6l.1 7.9l.1-9.3l.1 6.0l.1-23.8l.1 18.4l.1-9.5l.1 7.9l.1-3.7l.1-13.4l.1 12.9l.1 1.3l.1 3.2l.1-9.6l.1 11.4l.1.7l.1-2.9l.1 4.9l.1-6.1l.1 6.9l.1 2.6l.1-7.7l.1-8.9l.1-.3l.1 10.2l.1-.6l.1 11.2l.1-4.9l.1 6.5l.1-5.4l.1 18.0l.1-9.5l.1-8.7l.1 5.4l.1-8.8l.1 2.3l.1 3.6l.1 2.0l.1 1.2l.1 17.2l.1-9.5l.1-15.7l.1 13.1l.1 4.8l.1 4.8l.1-11.7l.1 8.9l.1-6.4l.1 4.0l.1-.2l.1-13.1l.1 5.1l.1-10.6l.1 15.4l.1 3.8l.1-10.2l.1-5.5l.1 21.2l.1-11.7l.1.3l.1 8.6l.1-8.9l.1-4.3l.1.4l.1-3.3l.1 12.0l.1-11.4l.1-4.6l.1-1.7l.1 14.0l.1-4.1l.1-2.2l.1 2.0l.1 5.1l.1-8.8l.1 11.1l.1-10.7l.1 10.3l.1-4.3l.1 3.1l.1-.4l.1-10.3l.1-.6l.1-4.1l.1 22.7l.1-9.1l.1-9.6l.1-4.0l.1 17.3l.1-12.8l.1 5.3l.1 11.7l.1-7.3l.1-3.1l.1-9.7l.1-5.3l.1 11.2l.1-6.7l.1 12.5l.1-5.9l.1-5.0l.1 9.8l.1-3.7l.1-10.1l.1 7.5l.1-1.4l.1 10.4l.1-5.1l.1 8.4l.1 6.5l.1-26.6l.1 4.9l.1 11.7l.1.2l.1-5.3l.1 11.1l.1-8.6l.1 4.4l.1.2l.1-5.3l.1 3.0l.1 5.0l.1-7.2l.1-4.1l.1 12.3l.1-11.7l.1.5l.1 3.6l.1 7.7l.1 4.7l.1-9.1l.1 1.1l.1 4.1l.1-2.2l.1 6.4l.1-3.5l.1 2.6l.1-6.1l.1-.7l.1-6.4l.1-1.6l.1 5.7l.1-4.9l.1 7.3l.1.1l.1-1.7l.1 5.6l.1-6.2l.1-4.9l.1 10.2l.1-3.8l.1-4.0l.1-17.3l.1 13.1l.1-3.9l.1-2.7l.1 7.1l.1-2.9l.1.0l.1 4.4l.1-13.6l.1 18.4l.1-9.7l.1-2.8l.1.9l.1 3.6l.1-6.6l.1.7l.1-6.3l.1 12.8l.1-.6l.1-8.7l.1 2.1l.1-2.9l.1 11.7l.1-15.7l.1-.3l.1 5.4l.1 4.9l.1-1.0l.1 6.2l.1-17.7l.1 9.1l.1 18.0l.1-13.2l.1-11.7l.1 22.7l.1-1.4l.1 1.2l.1-23.0l.1 15.2l.1-2.4l.1 7.7l.1-16.7l.1 17.7l.1-6.4l.1 8.8l.1-19.6l.1 11.0l.1-5.9l.1 14.1l.1-18.2l.1 4.5l.1 12.2l.1-9.2l.1 15.0l.1-4.2l.1-9.7l.1-1.6l.1.2l.1 2.3l.1 4.6l.1-3.5l.1 6.8l.1-8.1l.1 4.6l.1-2.5l.1-2.4l.1 6.2l.1-9.9l.1-3.7l.1 18.4l.1-14.3l.1 4.3l.1-4.5l.1 3.0l.1 10.6l.1-9.3l.1 11.1l.1-3.4l.1-22.4l.1 11.0l.1 5.1l.1-4.9l.1.8l.1.0l.1-4.8l.1 15.9l.1 4.6l.1-5.1l.1-6.6l.1-14.3l.1 19.4l.1-5.5l.1-16.7l.1 11.1l.1 4.0l.1-8.0l.1 5.1l.1-3.2l.1 10.1l.1-11.5l.1.9l.1 7.0l.1-3.9l.1.0l.1 1.1l.1-16.5l.1 15.5l.1 2.5l.1-6.8l.1 7.4l.1-2.7l.1-4.4l.1 9.7l.1-12.4l.1-1.2l.1 2.9l.1-2.5l.1 12.4l.1-3.0l.1-.6l.1.2l.1 3.8l.1-7.9l.1 4.0l.1 2.6l.1-2.5l.1 4.9l.1 5.7l.1-5.7l.1-4.5l.1 10.2l.1 10.4l.1.8l.1-17.4l.1-3.8l.1 5.5l.1-.1l.1 4.6l.1 4.1l.1-7.4l.1.3l.1 8.5l.1 1.1l.1-10.9l.1 7.2l.1-3.1l.1 9.9l.1-25.9l.1 11.2l.1-2.9l.1 13.1l.1-.3l.1 2.2l.1-4.8l.1-5.0l.1-1.4l.1 11.1l.1-8.2l.1-3.9l.1 14.9l.1-19.3l.1-2.9l.1 5.3l.1 10.9l.1-18.3l.1 17.2l.1-12.6l.1 9.8l.1-20.1l.1 15.9l.1-6.4l.1-7.9l.1 7.8l.1-13.9l.1 30.7l.1-17.5l.1.2l.1 5.0l.1-2.7l.1-4.5l.1 12.7l.1-4.4l.1-9.9l.1 12.2l.1-11.0l.1-8.5l.1 2.9l.1 13.5l.1-8.0l.1 13.4l.1-3.7l.1 2.4l.1-16.5l.1 17.0l.1-9.2l.1-3.8l.1.6l.1-2.2l.1 8.5l.1-2.9l.1 5.3l.1-7.2l.1-5.0l.1-1.5l.1 19.2l.1-8.4l.1-9.8l.1 18.4l.1-14.6l.1 1.4l.1 14.4l.1-7.6l.1-.1l.1-9.3l.1 8.8l.1 1.9l.1-22.9l.1 8.9l.1-.6l.1 4.1l.1-6.8l.1 12.8l.1-5.0l.1 1.0l.1 7.7l.1-5.0l.1 7.7l.1 2.3l.1-5.9l.1 3.2l.1-2.8l.1-9.4l.1 15.3l.1-12.2l.1.0l.1-10.6l.1 6.3l.1 2.3l.1-1.9l.1.3l.1 12.0l.1-8.8l.1 1.3l.1 8.4l.1-20.4l.1 17.7l.1-1.6l.1 12.9l.1-12.3l.1 9.1l.1-12.8l.1 2.4l.1-6.2l.1 6.2l.1-10.1l.1 9.6l.1-9.0l.1 3.3l.1 5.9l.1-3.5l.1 7.2l.1-16.9l.1 16.1l.1-9.1l.1 16.1l.1-2.6l.1-6.0l.1 3.9l.1-12.4l.1-1.9l.1 15.0l.1-16.6l.1 9.4l.1 5.7l.1-19.4l.1 10.9l.1-6.1l.1 8.5l.1-5.8l.1 10.4l.1-19.2l.1 7.0l.1 7.6l.1-.4l.1-13.2l.1-2.3l.1 10.3l.1-5.5l.1 8.8l.1-9.5l.1 5.5l.1-4.4l.1 17.4l.1-11.3l.1 4.8l.1 5.1l.1 4.4l.1-6.3l.1-5.7l.1 1.0l.1-5.0l.1 16.5l.1-18.3l.1 12.8l.1-9.1l.1-5.0l.1 8.7l.1-.2l.1 10.5l.1-11.7l.1 12.8l.1-2.3l.1-10.5l.1 10.8l.1-1.8l.1-8.5l.1 5.0l.1-.2l.1 5.2l.1-5.2l.1-2.7l.1 6.4l.1-6.6l.1 6.1l.1-13.5l.1 13.6l.1-11.2l.1-1.4l.1 23.8l.1-26.4l.1 20.6l.1-3.9l.1-9.4l.1 8.8l.1-1.9l.1-4.9l.1 2.6l.1-13.0l.1 10.6l.1-5.6l.1 9.4l.1-12.8l.1 6.1l.1-14.4l.1 20.2l.1 2.5l.1-13.0l.1 14.2l.1-4.2l.1-4.5l.1 10.1l.1-6.6l.1-8.2l.1 9.7l.1 1.5l.1-4.1l.1-.5l.1-7.7l.1 1.3l.1-2.2l.1 22.2l.1-10.9l.1-6.0l.1 7.2l.1-11.1l.1 5.8l.1 5.5l.1-2.1l.1 10.1l.1-11.3l.1-1.7l.1-.4l.1-1.1l.1 11.6l.1-.6l.1 11.6l.1-15.4l.1-1.6l.1 19.9l.1-12.4l.1-9.1l.1 11.5l.1-5.3l.1 8.3l.1-1.9l.1-4.6l.1-3.5l.1-4.3l.1 14.7l.1-7.4l.1-6.1l.1 11.9l.1-.9l.1-11.6l.1 4.8l.1-2.5l.1-6.4l.1 18.0l.1-8.3l.1 3.7l.1 1.6l.1 5.6l.1-10.5l.1 3.0l.1-8.8l.1 7.1l.1-4.1l.1 15.3l.1-17.2l.1 7.0l.1 2.3l.1-2.9l.1-9.4l.1 7.9l.1-3.2l.1-9.5l.1 1.5l.1 10.5l.1-3.6l.1-1.0l.1-3.1l.1 12.0l.1-4.9l.1-1.8l.1-4.0l.1.9l.1-4.8l.1 4.5l.1 7.0l.1-.9l.1-4.4l.1-6.9l.1 11.7l.1-15.8l.1 29.1l.1-14.5l.1 7.1l.1-8.6l.1-5.0l.1-6.6l.1 13.8l.1-2.4l.1 4.3l.1-3.7l.1 8.5l.1-12.0l.1-.5l.1 8.0l.1 8.5l.1-6.9l.1-6.4l.1 10.4l.1-8.3l.1 2.1l.1 2.9l.1 4.6l.1-5.2l.1-7.5l.1 22.0l.1-23.5l.1 16.7l.1.0l.1-5.3l.1-3.3l.1.1l.1-8.0l.1 5.2l.1-3.6l.1 1.9l.1 10.5l.1-5.0l.1-5.8l.1-2.9l.1-9.3l.1 7.5l.1 9.4l.1-9.4l.1 3.6l.1.4l.1-8.2l.1.3l.1-2.6l.1 6.3l.1 9.9l.1-12.0l.1 2.3l.1 4.4l.1-9.1l.1-6.8l.1 5.2l.1 4.5l.1.9l.1 1.3l.1-.5l.1-7.4l.1 13.8l.1-9.6l.1 7.2l.1-3.3l.1 4.7l.1-13.6l.1-2.8l.1 7.3l.1 4.2l.1-7.9l.1 4.4l.1 10.0l.1-8.6l.1-4.5l.1-1.6l.1 4.9l.1 1.9l.1 12.7l.1-11.7l.1.0l.1 10.3l.1-14.9l.1 2.1l.1-12.2l.1 2.3l.1 9.8l.1-3.3l.1 7.5l.1-5.9l.1-5.9l.1 14.4l.1-6.3l.1 5.3l.1-6.3l.1 5.2l.1-.8l.1-3.6l.1 11.8l.1.7l.1-13.2l.1-12.0l.1 11.9l.1 8.5l.1-11.9l.1 9.3l.1-4.8l.1-6.3l.1 2.9l.1-4.6l.1-1.8l.1 13.5l.1-20.2l.1 10.0l.1 7.3l.1-.1l.1-4.6l.1-5.1l.1 2.6l.1 1.1l.1.6l.1-.1l.1-2.3l.1-5.6l.1 5.6l.1-3.6l.1 12.4l.1-2.2l.1-1.5l.1-7.0l.1-7.0l.1 17.5l.1-13.5l.1 6.5l.1-7.0l.1 5.6l.1 10.9l.1-5.6l.1-10.6l.1 5.4l.1 1.7l.1-2.0l.1 5.2l.1-2.8l.1-2.3l.1-3.9l.1 6.9l.1 6.3l.1 3.4l.1-12.3l.1-5.5l.1 9.8l.1-12.8l.1-.9l.1 12.5l.1-10.7l.1 12.6l.1-1.9l.1-1.5l.1-.3l.1-.3l.1 7.0l.1-11.8l.1 3.6l.1 3.7l.1 6.7l.1-13.0l.1 6.1l.1-2.1l.1-.8l.1-.9l.1 7.4l.1 2.3l.1-3.8l.1-.7l.1-4.0l.1 15.9l.1-9.1l.1 6.2l.1-4.0l.1-.2l.1-6.8l.1 12.9l.1-3.6l.1-5.1l.1-4.9l.1-1.8l.1 4.3l.1-2.8l.1 20.8l.1-19.2l.1 12.8l.1-13.8l.1 12.5l.1 1.9l.1-21.7l.1 23.0l.1-11.4l.1 5.9l.1-5.0l.1 1.5l.1-6.0l.1 9.0l.1-9.5l.1 11.5l.1-5.7l.1 9.0l.1-16.6l.1 13.5l.1-16.3l.1 15.8l.1-13.0l.1 12.9l.1 4.1l.1-19.3l.1 12.3l.1-3.7l.1-1.1l.1 12.2l.1.8l.1 1.7l.1-9.5l.1 10.3l.1-20.6l.1 11.4l.1-4.2l.1 8.9l.1-19.4l.1 12.7l.1 15.1l.1-17.5l.1-.6l.1 1.8l.1 4.7l.1.3l.1-4.7l.1 7.8l.1 5.7l.1-1.1l.1-3.6l.1-6.0l.1-5.9l.1 9.4l.1-7.8l.1-.3l.1 7.5l.1-6.0l.1 16.6l.1-13.0l.1-1.3l.1 5.9l.1-12.7l.1.2l.1 11.4l.1-11.4l.1 9.2l.1 4.2l.1-7.2l.1-12.5l.1 16.8l.1 3.5l.1-.8l.1-10.9l.1 1.6l.1 5.6l.1-3.4l.1-1.1l.1-.4l.1 5.9l.1-13.5l.1 25.1l.1-14.3l.1-7.7l.1.5l.1 2.8l.1 4.7l.1 11.0l.1-15.7l.1 12.9l.1-10.2l.1 2.4l.1-5.2l.1 1.6l.1 4.9l.1-9.0l.1-.3l.1-3.8l.1 14.2l.1-5.8l.1-2.6l.1-6.4l.1 6.2l.1-.6l.1 3.7l.1 3.2l.1-4.4l.1.7l.1-15.1l.1-.4l.1 16.2l.1-11.5l.1-4.4l.1 8.2l.1.6l.1 3.9l.1 10.8l.1-14.3l.1 5.0l.1 4.5l.1-17.3l.1 16.2l.1-16.5l.1 10.0l.1 3.7l.1-6.9l.1 14.1l.1-8.5l.1-3.3l.1-.8l.1-9.9l.1 12.0l.1.3l.1-1.2l.1-13.7l.1-.7l.1 12.4l.1 2.1l.1-5.3l.1-7.4l.1 4.9l.1 5.6l.1 8.3l.1-9.4l.1 3.4l.1-2.4l.1-7.3l.1 11.7l.1-8.7l.1 11.4l.1-13.4l.1 16.4l.1-13.0l.1-4.6l.1 7.8l.1.3l.1-.1l.1 10.0l.1-4.2l.1-3.1l.1 2.9l.1-5.0l.1-7.8l.1 8.9l.1 3.8l.1-3.1l.1 7.1l.1.2l.1-12.0l.1-5.3l.1 8.7l.1 1.6l.1-5.8l.1 5.0l.1-4.0l.1 8.8l.1-9.6l.1-12.6l.1 9.2l.1-3.7l.1 9.6l.1-8.7l.1 7.2l.1-5.7l.1 23.9l.1-4.8l.1-.6l.1-21.4l.1 14.2l.1 1.5l.1-.3l.1-14.2l.1 5.9l.1 2.7l.1 2.7l.1 2.4l.1 1.2l.1-3.4l.1-8.8l.1 15.6l.1-20.7l.1 2.5l.1-.2l.1-12.1l.1 17.5l.1 2.3l.1 1.2l.1-6.5l.1-7.3l.1 14.6l.1.6l.1-8.9l.1 4.7l.1-.5l.1-5.4l.1 8.4l.1-4.7l.1 6.0l.1-7.1l.1 6.0l.1-11.7l.1 14.1l.1-10.0l.1-2.0l.1-3.8l.1 6.7l.1-.8l.1 12.2l.1 8.0l.1-5.3l.1-6.7l.1 5.5l.1-21.1l.1 22.1l.1 3.1l.1-10.6l.1-12.3l.1-.2l.1 19.5l.1 5.0l.1-25.7l.1 30.7l.1-15.7l.1-3.7l.1 6.7l.1 3.8l.1-13.2l.1 7.0l.1-6.7l.1 8.2l.1-13.4l.1 18.2l.1-10.1l.1-4.3l.1 3.6l.1 17.7l.1-1.4l.1-10.7l.1-1.0l.1-1.7l.1 2.8l.1 4.0l.1 12.7l.1-4.1l.1-15.2l.1 8.4l.1-3.1l.1-2.9l.1-6.4l.1 5.4l.1 2.4l.1.4l.1-6.3l.1 19.9l.1-11.6l.1-2.1l.1 4.6l.1-1.1l.1-10.5l.1 19.1l.1-5.0l.1 1.2l.1-11.2l.1 6.1l.1 5.6l.1-4.0l.1-8.5l.1-8.0l.1 7.7l.1 9.5l.1-8.8l.1-2.7l.1 12.6l.1 7.9l.1-12.1l.1 8.2l.1-14.1l.1 3.1l.1-4.7l.1-4.9l.1 5.9l.1-3.7l.1 11.2l.1 5.5l.1-17.0l.1 6.0l.1-.9l.1-3.5l.1 1.0l.1-5.9l.1 7.7l.1-5.3l.1 15.8l.1-22.4l.1 18.0l.1.2l.1 7.0l.1-5.2l.1-20.5l.1 5.3l.1 13.8l.1 1.3l.1-7.0l.1-10.9l.1 21.4l.1-6.7l.1-3.0l.1 9.1l.1-7.6l.1-2.1l.1 11.3l.1-8.8l.1-7.2l.1 18.1l.1-17.1l.1 2.4l.1 15.1l.1.0l.1-7.5l.1.9l.1-6.5l.1 9.3l.1-5.1l.1 2.9l.1 12.6l.1-18.2l.1 1.8l.1 3.6l.1-1.9l.1.7l.1 7.0l.1.5l.1 2.9l.1-10.8l.1 1.1l.1 3.6l.1-7.0l.1 13.0l.1-8.5l.1-10.4l.1 2.3l.1 5.2l.1 7.2l.1 4.3l.1-6.5l.1 2.7l.1-3.1l.1-7.3l.1 7.5l.1 1.6l.1 6.4l.1-5.7l.1 2.8l.1-2.5l.1-6.9l.1 12.3l.1-2.3l.1-4.0l.1-.8l.1-6.5l.1.3l.1 16.9l.1-6.0l.1 3.3l.1 4.9l.1-4.1l.1 1.5l.1 7.2l.1-15.5l.1 8.0l.1-7.8l.1.6l.1 4.7l.1-6.0l.1 11.5l.1 2.5l.1-10.5l.1 2.6l.1-16.0l.1 22.1l.1-10.6l.1 7.0l.1 3.6l.1-9.4l.1 10.3l.1-10.3l.1-7.6l.1 2.0l.1-5.2l.1 21.4l.1-14.1l.1 3.8l.1-1.4l.1-3.5l.1 12.6l.1-4.2l.1 1.7l.1 3.3l.1-12.2l.1 9.6l.1-5.6l.1 16.9l.1-8.5l.1-19.3l.1 8.9l.1 7.9l.1-5.0l.1 5.7l.1 10.6l.1-16.3l.1 2.0l.1-4.1l.1 5.9l.1-4.4l.1 16.6l.1 3.4l.1-12.7l.1-.6l.1 8.4l.1-4.3l.1 5.5l.1-17.9l.1 9.5l.1-1.1l.1 9.3l.1-7.6l.1 2.9l.1 7.6l.1-7.4l.1-3.6l.1 14.8l.1-7.9l.1-5.6l.1 7.1l.1-17.0l.1 2.1l.1 2.8l.1 11.8l.1-9.4l.1.8l.1 6.9l.1-9.2l.1-1.6l.1 6.0l.1 6.3l.1-14.4l.1 2.7l.1 11.0l.1-9.4l.1 4.6l.1-2.7l.1 1.6l.1-7.3l.1 12.1l.1 2.0l.1-13.9l.1 16.6l.1-5.0l.1-13.3l.1 2.7l.1 9.0l.1-17.1l.1 12.7l.1 5.1l.1 6.4l.1-15.1l.1-9.6l.1 12.0l.1-3.7l.1 4.6l.1 2.5l.1 2.6l.1-20.4l.1 19.2l.1-11.1l.1 9.0l.1-7.8l.1 1.1l.1-.3l.1 7.9l.1-7.1l.1 10.7l.1-13.5l.1 4.3l.1 11.4l.1-6.8l.1 4.1l.1-2.1l.1-4.6l.1-3.4l.1 2.3l.1 6.2l.1 1.0l.1-7.2l.1-.7l.1 1.4l.1-7.4l.1-8.1l.1 24.2l.1-25.3l.1 2.7l.1 12.0l.1-2.2l.1 14.5l.1-27.2l.1.4l.1 8.8l.1-5.4l.1 7.3l.1-.3l.1 1.1l.1.0l.1-7.3l.1-5.2l.1 15.9l.1-9.3l.1-6.0l.1 15.3l.1 5.3l.1-9.1l.1 5.9l.1-9.6l.1 13.0l.1-10.4l.1-7.9l.1 2.2l.1.4l.1 13.2l.1 1.3l.1-11.6l.1 10.9l.1-2.1l.1 3.1l.1-2.1l.1-7.1l.1 20.0l.1-20.5l.1 10.0l.1 1.7l.1-10.4l.1 12.5l.1-21.7l.1 8.8l.1-3.7l.1 6.6l.1-6.7l.1 6.6l.1 1.3l.1-1.9l.1-4.9l.1-3.1l.1 16.9l.1-7.4l.1 9.7l.1-6.0l.1 7.1l.1-.3l.1-30.4l.1 21.0l.1-15.7l.1 4.2l.1-11.5l.1 3.5l.1 3.1l.1-1.8l.1-20.5l.1 4.4l.1 13.5l.1-4.3l.1-4.7l.1 12.0l.1-11.0l.1-2.7l.1-1.1l.1 22.7l.1-6.9l.1-6.8l.1-9.1l.1 12.1l.1-12.2l.1 10.0l.1-9.5l.1-2.7l.1 12.1l.1-3.4l.1-1.1l.1 16.4l.1-18.0l.1 1.5l.1-3.1l.1 4.0l.1 1.6l.1 3.3l.1 3.8l.1-8.1l.1 2.6l.1-8.5l.1 9.2l.1-2.0l.1-7.4l.1 19.6l.1-6.9l.1 1.6l.1-10.4l.1 8.7l.1 2.8l.1-19.1l.1 11.4l.1 5.6l.1-5.9l.1 12.8l.1-15.6l.1 7.6l.1 1.1l.1 5.3l.1-15.3l.1 5.7l.1-1.5l.1 10.0l.1-14.7l.1.5l.1 7.3l.1-8.3l.1-9.7l.1 3.3l.1-4.6l.1 31.5l.1-16.0l.1 1.2l.1 1.1l.1.9l.1 15.1l.1-18.7l.1 2.1l.1-4.5l.1-2.4l.1 6.1l.1-1.7l.1 3.8l.1-4.5l.1-7.2l.1 18.7l.1-10.6l.1 5.7l.1-12.0l.1 2.1l.1 10.0l.1-2.9l.1-6.0l.1 1.3l.1 19.3l.1-17.2l.1 8.9l.1 2.0l.1-.4l.1-1.6l.1-4.1l.1-.9l.1 1.7l.1 5.8l.1-6.7l.1 9.1l.1-12.5l.1 8.9l.1-13.2l.1 13.6l.1-14.8l.1 19.8l.1 3.4l.1-1.2l.1-9.7l.1-3.7l.1 1.4l.1-3.3l.1 21.6l.1-24.4l.1 11.6l.1 1.4l.1-10.3l.1-3.0l.1 7.4l.1-4.9l.1 9.5l.1-13.4l.1 9.7l.1-5.6l.1 4.7l.1-2.3l.1-.5l.1 3.1l.1-10.1l.1 7.1l.1-4.9l.1 6.7l.1-11.8l.1 9.4l.1-.1l.1 4.7l.1-.5l.1-2.5l.1-3.1l.1 4.1l.1 2.7l.1-5.1l.1 2.1l.1 5.6l.1-2.3l.1-19.2l.1 13.3l.1-2.0l.1 4.0l.1 17.0l.1-17.9l.1-.9l.1 4.1l.1-.2l.1-6.9l.1-5.4l.1 13.3l.1 1.9l.1.4l.1-6.2l.1 8.4l.1 4.3l.1-6.6l.1-10.8l.1 12.4l.1-6.3l.1.5l.1 1.2l.1 2.2l.1 1.1l.1 3.3l.1 3.7l.1-12.7l.1 14.1l.1-2.6l.1-2.7l.1 1.2l.1.5l.1-7.6l.1 12.6l.1-4.3l.1-10.6l.1 10.6l.1-17.1l.1 12.6l.1-1.7l.1 7.2l.1-5.1l.1-6.9l.1 14.7l.1 2.1l.1.6l.1-4.6l.1-5.1l.1 5.8l.1-3.7l.1 2.2l.1-1.8l.1.3l.1 3.4l.1-.6l.1 13.3l.1-18.0l.1-9.7l.1 11.4l.1-.7l.1 9.3l.1-5.5l.1-4.4l.1-1.9l.1 2.8l.1 1.8l.1-2.5l.1 2.5l.1 2.0l.1-1.3l.1-8.5l.1 20.8l.1-22.0l.1 9.4l.1-6.2l.1 9.6l.1-3.2l.1 3.9l.1-13.1l.1 10.9l.1-14.7l.1 27.1l.1-6.3l.1-4.1l.1-2.6l.1-2.8l.1 12.1l.1-5.6l.1 3.7l.1-9.6l.1-3.1l.1 3.3l.1-2.2l.1 16.4l.1-19.7l.1-9.7l.1 10.0l.1 12.9l.1-9.6l.1 6.7l.1-10.8l.1-9.7l.1 17.4l.1-11.6l.1 21.6l.1-22.2l.1 10.4l.1-16.5l.1-.3l.1 16.2l.1-3.0l.1-3.1l.1-3.0l.1 3.0l.1 8.8l.1-2.2l.1-18.4l.1-1.3l.1 6.3l.1-9.3l.1 17.5l.1 1.0l.1-5.1l.1 12.6l.1-4.0l.1-20.2l.1 15.1l.1-6.9l.1.7l.1 4.8l.1 4.2l.1-8.8l.1 11.0l.1-13.7l.1 4.9l.1 2.4l.1-1.7l.1 3.0l.1.3l.1-1.8l.1 9.4l.1-8.7l.1 7.1l.1-17.4l.1-6.6l.1 7.6l.1 11.3l.1-8.9l.1 3.0l.1-1.5l.1 3.2l.1 6.1l.1-9.4l.1 7.8l.1-1.2l.1-9.2l.1-.9l.1 18.4l.1-16.5l.1 18.8l.1-8.3l.1 6.6l.1-8.0l.1-5.8l.1 6.1l.1 5.0l.1 2.2l.1-6.7l.1 13.0l.1-6.4l.1-6.3l.1 18.9l.1-20.4l.1 12.5l.1-8.9l.1.8l.1 2.8l.1-.9l.1-1.9l.1.8l.1-.5l.1-2.7l.1 5.9l.1 5.5l.1-3.7l.1 3.9l.1-5.5l.1 10.6l.1-1.9l.1 5.0l.1-11.9l.1-2.6l.1 8.6l.1-1.8l.1-15.7l.1 5.5l.1 9.9l.1 3.1l.1-17.5l.1 6.1l.1-.2l.1 5.0l.1-12.9l.1 12.4l.1-12.5l.1 10.2l.1-13.2l.1 5.8l.1-6.0l.1 5.6l.1-.7l.1 2.5l.1-7.0l.1-3.5l.1-6.3l.1 12.0l.1-7.1l.1 12.4l.1-4.2l.1 7.8l.1-4.4l.1 3.8l.1-.4l.1.5l.1 1.1l.1-7.2l.1 5.3l.1-7.1l.1 2.1l.1 9.3l.1 5.2l.1-11.5l.1-3.2l.1 3.8l.1 9.5l.1-9.5l.1 14.9l.1-8.8l.1-3.6l.1-2.1l.1-3.0l.1-6.3l.1-.4l.1 16.6l.1-16.2l.1-2.7l.1 13.9l.1-17.3l.1 4.6l.1 4.8l.1 5.0l.1-4.9l.1-4.0l.1-10.4l.1 15.5l.1-7.3l.1.5l.1-7.3l.1 16.4l.1 2.5l.1 1.5l.1-4.9l.1-.3l.1 5.7l.1-8.8l.1 3.3l.1-10.3l.1 10.7l.1-.4l.1-9.1l.1 3.3l.1-.3l.1-5.6l.1 1.8l.1.3l.1 3.6l.1 11.3l.1-6.4l.1-8.7l.1 3.4l.1.1l.1 10.5l.1-2.3l.1-12.0l.1 3.0l.1 17.8l.1-5.6l.1-5.5l.1 1.6l.1-6.1l.1-3.9l.1 3.6l.1-11.0l.1 11.8l.1-2.1l.1 10.0l.1-2.7l.1-14.8l.1 7.3l.1-2.3l.1-3.2l.1 9.2l.1-3.5l.1 4.5l.1 9.9l.1-5.6l.1-13.8l.1-1.6l.1 16.0l.1-1.4l.1-12.3l.1 10.3l.1 5.9l.1-1.2l.1 4.6l.1-10.8l.1-6.5l.1-1.0l.1 9.6l.1.0l.1-9.1l.1 13.8l.1-2.4l.1-3.4l.1 5.9l.1 7.7l.1-11.3l.1-3.0l.1 5.5l.1-.9l.1 2.7l.1-5.6l.1.3l.1 4.4l.1 3.5" transform="translate(72.6 0) scale(1.23005 1)" stroke="#1f77b4" stroke-width="0.60" fill="none" vector-effect="non-scaling-stroke"/><rect x="72.5" y="45.5" width="554.0" height="140.0" fill="none" stroke="#333" stroke-width="1"/><rect x="72.5" y="205.5" width="554.0" height="490.0" fill="none" stroke="#333" stroke-width="1"/><rect x="72.5" y="715.5" width="554.0" height="140.0" fill="none" stroke="#333" stroke-width="1"/><rect x="641.3" y="194.4" width="14" height="458" fill="url(#cbg)" stroke="#333" stroke-width="0.9"/><line x1="69.30" y1="51.40" x2="72.50" y2="51.40" stroke="#333" stroke-width="1.00"/><text x="65.50" y="56.60" text-anchor="end" style="font-size:16.67px">7.0</text><line x1="69.30" y1="117.40" x2="72.50" y2="117.40" stroke="#333" stroke-width="1.00"/><text x="65.50" y="122.60" text-anchor="end" style="font-size:16.67px">3.5</text><line x1="69.30" y1="183.30" x2="72.50" y2="183.30" stroke="#333" stroke-width="1.00"/><text x="65.50" y="188.50" text-anchor="end" style="font-size:16.67px">0.0</text><line x1="72.50" y1="185.50" x2="72.50" y2="188.70" stroke="#333" stroke-width="1.00"/><line x1="164.83" y1="185.50" x2="164.83" y2="188.70" stroke="#333" stroke-width="1.00"/><line x1="257.17" y1="185.50" x2="257.17" y2="188.70" stroke="#333" stroke-width="1.00"/><line x1="349.50" y1="185.50" x2="349.50" y2="188.70" stroke="#333" stroke-width="1.00"/><line x1="441.83" y1="185.50" x2="441.83" y2="188.70" stroke="#333" stroke-width="1.00"/><line x1="534.17" y1="185.50" x2="534.17" y2="188.70" stroke="#333" stroke-width="1.00"/><line x1="626.50" y1="185.50" x2="626.50" y2="188.70" stroke="#333" stroke-width="1.00"/><line x1="69.30" y1="205.50" x2="72.50" y2="205.50" stroke="#333" stroke-width="1.00"/><text x="65.50" y="210.70" text-anchor="end" style="font-size:16.67px">2</text><line x1="69.30" y1="266.75" x2="72.50" y2="266.75" stroke="#333" stroke-width="1.00"/><text x="65.50" y="271.95" text-anchor="end" style="font-size:16.67px">1.75</text><line x1="69.30" y1="328.00" x2="72.50" y2="328.00" stroke="#333" stroke-width="1.00"/><text x="65.50" y="333.20" text-anchor="end" style="font-size:16.67px">1.5</text><line x1="69.30" y1="389.25" x2="72.50" y2="389.25" stroke="#333" stroke-width="1.00"/><text x="65.50" y="394.45" text-anchor="end" style="font-size:16.67px">1.25</text><line x1="69.30" y1="450.50" x2="72.50" y2="450.50" stroke="#333" stroke-width="1.00"/><text x="65.50" y="455.70" text-anchor="end" style="font-size:16.67px">1</text><line x1="69.30" y1="511.75" x2="72.50" y2="511.75" stroke="#333" stroke-width="1.00"/><text x="65.50" y="516.95" text-anchor="end" style="font-size:16.67px">0.75</text><line x1="69.30" y1="573.00" x2="72.50" y2="573.00" stroke="#333" stroke-width="1.00"/><text x="65.50" y="578.20" text-anchor="end" style="font-size:16.67px">0.5</text><line x1="69.30" y1="634.25" x2="72.50" y2="634.25" stroke="#333" stroke-width="1.00"/><text x="65.50" y="639.45" text-anchor="end" style="font-size:16.67px">0.25</text><line x1="69.30" y1="695.50" x2="72.50" y2="695.50" stroke="#333" stroke-width="1.00"/><text x="65.50" y="700.70" text-anchor="end" style="font-size:16.67px">0</text><line x1="69.30" y1="750.40" x2="72.50" y2="750.40" stroke="#333" stroke-width="1.00"/><text x="65.50" y="755.60" text-anchor="end" style="font-size:16.67px">60</text><line x1="69.30" y1="788.40" x2="72.50" y2="788.40" stroke="#333" stroke-width="1.00"/><text x="65.50" y="793.60" text-anchor="end" style="font-size:16.67px">40</text><line x1="69.30" y1="827.10" x2="72.50" y2="827.10" stroke="#333" stroke-width="1.00"/><text x="65.50" y="832.30" text-anchor="end" style="font-size:16.67px">20</text><line x1="72.50" y1="855.50" x2="72.50" y2="858.70" stroke="#333" stroke-width="1.00"/><text x="72.50" y="873.00" text-anchor="middle" style="font-size:16.67px">0</text><line x1="164.83" y1="855.50" x2="164.83" y2="858.70" stroke="#333" stroke-width="1.00"/><text x="164.83" y="873.00" text-anchor="middle" style="font-size:16.67px">10</text><line x1="257.17" y1="855.50" x2="257.17" y2="858.70" stroke="#333" stroke-width="1.00"/><text x="257.17" y="873.00" text-anchor="middle" style="font-size:16.67px">20</text><line x1="349.50" y1="855.50" x2="349.50" y2="858.70" stroke="#333" stroke-width="1.00"/><text x="349.50" y="873.00" text-anchor="middle" style="font-size:16.67px">30</text><line x1="441.83" y1="855.50" x2="441.83" y2="858.70" stroke="#333" stroke-width="1.00"/><text x="441.83" y="873.00" text-anchor="middle" style="font-size:16.67px">40</text><line x1="534.17" y1="855.50" x2="534.17" y2="858.70" stroke="#333" stroke-width="1.00"/><text x="534.17" y="873.00" text-anchor="middle" style="font-size:16.67px">50</text><line x1="626.50" y1="855.50" x2="626.50" y2="858.70" stroke="#333" stroke-width="1.00"/><text x="626.50" y="873.00" text-anchor="middle" style="font-size:16.67px">60</text><line x1="655.50" y1="652.40" x2="658.70" y2="652.40" stroke="#333" stroke-width="1.00"/><text x="661.30" y="657.40" style="font-size:16.67px">0.00</text><line x1="655.50" y1="595.10" x2="658.70" y2="595.10" stroke="#333" stroke-width="1.00"/><text x="661.30" y="600.10" style="font-size:16.67px">0.25</text><line x1="655.50" y1="537.80" x2="658.70" y2="537.80" stroke="#333" stroke-width="1.00"/><text x="661.30" y="542.80" style="font-size:16.67px">0.50</text><line x1="655.50" y1="480.50" x2="658.70" y2="480.50" stroke="#333" stroke-width="1.00"/><text x="661.30" y="485.50" style="font-size:16.67px">0.75</text><line x1="655.50" y1="423.20" x2="658.70" y2="423.20" stroke="#333" stroke-width="1.00"/><text x="661.30" y="428.20" style="font-size:16.67px">1.00</text><line x1="655.50" y1="365.90" x2="658.70" y2="365.90" stroke="#333" stroke-width="1.00"/><text x="661.30" y="370.90" style="font-size:16.67px">1.25</text><line x1="655.50" y1="308.60" x2="658.70" y2="308.60" stroke="#333" stroke-width="1.00"/><text x="661.30" y="313.60" style="font-size:16.67px">1.50</text><line x1="655.50" y1="251.30" x2="658.70" y2="251.30" stroke="#333" stroke-width="1.00"/><text x="661.30" y="256.30" style="font-size:16.67px">1.75</text><line x1="655.50" y1="194.00" x2="658.70" y2="194.00" stroke="#333" stroke-width="1.00"/><text x="661.30" y="199.00" style="font-size:16.67px">2.00</text><text x="0.00" y="0.00" text-anchor="middle" textLength="82.5" lengthAdjust="spacingAndGlyphs" style="font-size:16.67px" transform="translate(34.5,116) rotate(-90)">Wind [m/s]</text><text x="0.00" y="0.00" text-anchor="middle" textLength="137.2" lengthAdjust="spacingAndGlyphs" style="font-size:16.67px" transform="translate(25,450) rotate(-90)">FFT Frequenz [Hz]</text><text x="0.00" y="0.00" text-anchor="middle" textLength="63.1" lengthAdjust="spacingAndGlyphs" style="font-size:16.67px" transform="translate(39.5,786.5) rotate(-90)">SPL [dB]</text><text x="349.50" y="890.50" text-anchor="middle" textLength="80.2" lengthAdjust="spacingAndGlyphs" style="font-size:16.67px">time [min]</text></svg></body></html>
